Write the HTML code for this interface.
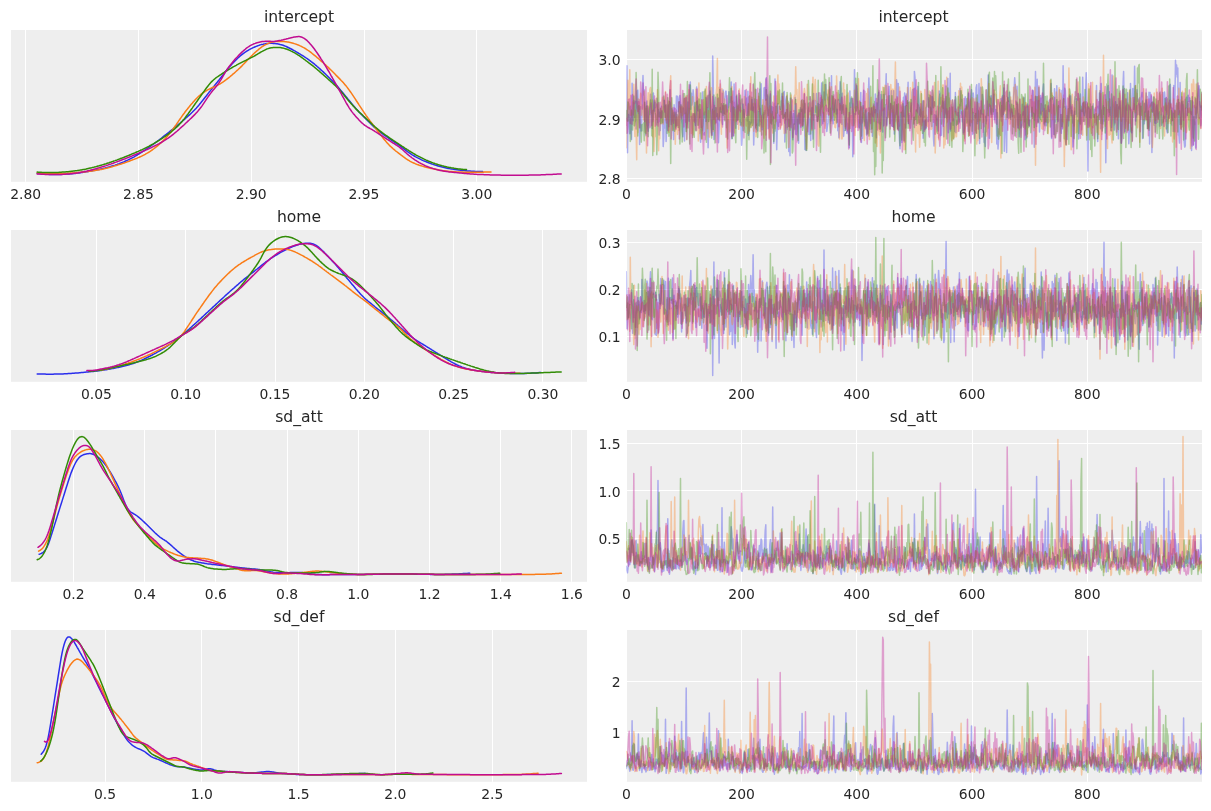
<!DOCTYPE html>
<html lang="en"><head><meta charset="utf-8"><title>Trace plot</title>
<style>html,body{margin:0;padding:0;background:#fff;}body{width:1211px;height:811px;overflow:hidden;}svg{display:block}</style>
</head><body>
<svg width="1211" height="811" viewBox="0 0 1211 811" style="display:block">
<rect x="0" y="0" width="1211" height="811" fill="#ffffff"/>
<defs>
<clipPath id="cl0"><rect x="11.0" y="30.0" width="576.0" height="151.8"/></clipPath>
<clipPath id="cr0"><rect x="626.3" y="30.0" width="575.7" height="151.8"/></clipPath>
<clipPath id="cl1"><rect x="11.0" y="230.0" width="576.0" height="151.8"/></clipPath>
<clipPath id="cr1"><rect x="626.3" y="230.0" width="575.7" height="151.8"/></clipPath>
<clipPath id="cl2"><rect x="11.0" y="430.0" width="576.0" height="151.8"/></clipPath>
<clipPath id="cr2"><rect x="626.3" y="430.0" width="575.7" height="151.8"/></clipPath>
<clipPath id="cl3"><rect x="11.0" y="630.0" width="576.0" height="151.8"/></clipPath>
<clipPath id="cr3"><rect x="626.3" y="630.0" width="575.7" height="151.8"/></clipPath>
</defs>
<rect x="11.0" y="30.0" width="576.0" height="151.8" fill="#eeeeee"/>
<rect x="626.3" y="30.0" width="575.7" height="151.8" fill="#eeeeee"/>
<path d="M25.5 30.0V181.8M138.5 30.0V181.8M251.5 30.0V181.8M364.5 30.0V181.8M476.5 30.0V181.8M626.5 30.0V181.8M741.5 30.0V181.8M856.5 30.0V181.8M972.5 30.0V181.8M1087.5 30.0V181.8M626.3 59.5H1202.0M626.3 118.5H1202.0M626.3 178.5H1202.0" stroke="#ffffff" stroke-width="1.1" fill="none"/>
<rect x="11.0" y="230.0" width="576.0" height="151.8" fill="#eeeeee"/>
<rect x="626.3" y="230.0" width="575.7" height="151.8" fill="#eeeeee"/>
<path d="M96.5 230.0V381.8M185.5 230.0V381.8M275.5 230.0V381.8M364.5 230.0V381.8M453.5 230.0V381.8M542.5 230.0V381.8M626.5 230.0V381.8M741.5 230.0V381.8M856.5 230.0V381.8M972.5 230.0V381.8M1087.5 230.0V381.8M626.3 242.5H1202.0M626.3 289.5H1202.0M626.3 336.5H1202.0" stroke="#ffffff" stroke-width="1.1" fill="none"/>
<rect x="11.0" y="430.0" width="576.0" height="151.8" fill="#eeeeee"/>
<rect x="626.3" y="430.0" width="575.7" height="151.8" fill="#eeeeee"/>
<path d="M73.5 430.0V581.8M144.5 430.0V581.8M215.5 430.0V581.8M287.5 430.0V581.8M358.5 430.0V581.8M429.5 430.0V581.8M500.5 430.0V581.8M571.5 430.0V581.8M626.5 430.0V581.8M741.5 430.0V581.8M856.5 430.0V581.8M972.5 430.0V581.8M1087.5 430.0V581.8M626.3 443.5H1202.0M626.3 490.5H1202.0M626.3 538.5H1202.0" stroke="#ffffff" stroke-width="1.1" fill="none"/>
<rect x="11.0" y="630.0" width="576.0" height="151.8" fill="#eeeeee"/>
<rect x="626.3" y="630.0" width="575.7" height="151.8" fill="#eeeeee"/>
<path d="M105.5 630.0V781.8M201.5 630.0V781.8M298.5 630.0V781.8M395.5 630.0V781.8M492.5 630.0V781.8M626.5 630.0V781.8M741.5 630.0V781.8M856.5 630.0V781.8M972.5 630.0V781.8M1087.5 630.0V781.8M626.3 681.5H1202.0M626.3 732.5H1202.0" stroke="#ffffff" stroke-width="1.1" fill="none"/>
<g clip-path="url(#cl0)" fill="none" stroke-width="1.5" stroke-linejoin="round" stroke-linecap="round">
<path d="M37.2 173.5L38.2 173.6L39.2 173.7L40.2 173.8L41.2 173.9L42.2 174.0L43.2 174.0L44.2 174.1L45.2 174.2L46.2 174.2L47.2 174.3L48.2 174.3L49.2 174.4L50.2 174.4L51.2 174.4L52.2 174.4L53.2 174.5L54.2 174.5L55.2 174.5L56.2 174.5L57.2 174.5L58.2 174.5L59.2 174.4L60.2 174.4L61.2 174.4L62.2 174.3L63.2 174.3L64.2 174.2L65.2 174.2L66.2 174.1L67.2 174.1L68.2 174.0L69.2 173.9L70.2 173.8L71.2 173.8L72.2 173.7L73.2 173.6L74.2 173.5L75.2 173.4L76.2 173.2L77.2 173.1L78.2 173.0L79.2 172.9L80.2 172.7L81.2 172.6L82.2 172.5L83.2 172.3L84.2 172.2L85.2 172.0L86.2 171.8L87.2 171.7L88.2 171.5L89.2 171.3L90.2 171.2L91.2 171.0L92.2 170.8L93.2 170.6L94.2 170.4L95.2 170.2L96.2 170.0L97.2 169.8L98.2 169.6L99.2 169.4L100.2 169.2L101.2 168.9L102.2 168.7L103.2 168.5L104.2 168.2L105.2 168.0L106.2 167.7L107.2 167.5L108.2 167.2L109.2 166.9L110.2 166.6L111.2 166.3L112.2 166.0L113.2 165.7L114.2 165.4L115.2 165.1L116.2 164.7L117.2 164.4L118.2 164.0L119.2 163.7L120.2 163.3L121.2 162.9L122.2 162.5L123.2 162.1L124.2 161.7L125.2 161.2L126.2 160.8L127.2 160.3L128.2 159.9L129.2 159.4L130.2 158.9L131.2 158.4L132.2 157.8L133.2 157.3L134.2 156.8L135.2 156.2L136.2 155.6L137.2 155.0L138.2 154.4L139.2 153.8L140.2 153.2L141.2 152.5L142.2 151.9L143.2 151.2L144.2 150.6L145.2 149.9L146.2 149.2L147.2 148.5L148.2 147.8L149.2 147.1L150.2 146.4L151.2 145.7L152.2 145.0L153.2 144.3L154.2 143.5L155.2 142.8L156.2 142.0L157.2 141.3L158.2 140.5L159.2 139.8L160.2 139.0L161.2 138.3L162.2 137.5L163.2 136.7L164.2 135.9L165.2 135.1L166.2 134.4L167.2 133.6L168.2 132.8L169.2 132.0L170.2 131.2L171.2 130.4L172.2 129.6L173.2 128.8L174.2 127.9L175.2 127.1L176.2 126.3L177.2 125.5L178.2 124.7L179.2 123.8L180.2 123.0L181.2 122.1L182.2 121.3L183.2 120.4L184.2 119.6L185.2 118.7L186.2 117.8L187.2 116.9L188.2 116.0L189.2 115.1L190.2 114.2L191.2 113.2L192.2 112.3L193.2 111.3L194.2 110.3L195.2 109.2L196.2 108.2L197.2 107.1L198.2 105.9L199.2 104.8L200.2 103.6L201.2 102.3L202.2 101.1L203.2 99.8L204.2 98.5L205.2 97.2L206.2 96.0L207.2 94.7L208.2 93.4L209.2 92.1L210.2 90.9L211.2 89.6L212.2 88.4L213.2 87.2L214.2 86.0L215.2 84.7L216.2 83.5L217.2 82.3L218.2 81.0L219.2 79.8L220.2 78.5L221.2 77.2L222.2 75.9L223.2 74.6L224.2 73.3L225.2 72.0L226.2 70.7L227.2 69.5L228.2 68.3L229.2 67.1L230.2 66.0L231.2 64.9L232.2 63.8L233.2 62.7L234.2 61.7L235.2 60.7L236.2 59.7L237.2 58.7L238.2 57.8L239.2 56.9L240.2 56.0L241.2 55.2L242.2 54.4L243.2 53.6L244.2 52.9L245.2 52.2L246.2 51.5L247.2 50.9L248.2 50.3L249.2 49.7L250.2 49.1L251.2 48.6L252.2 48.1L253.2 47.6L254.2 47.2L255.2 46.8L256.2 46.3L257.2 46.0L258.2 45.6L259.2 45.3L260.2 44.9L261.2 44.6L262.2 44.4L263.2 44.2L264.2 43.9L265.2 43.8L266.2 43.6L267.2 43.5L268.2 43.4L269.2 43.3L270.2 43.3L271.2 43.3L272.2 43.3L273.2 43.4L274.2 43.4L275.2 43.5L276.2 43.7L277.2 43.8L278.2 44.0L279.2 44.2L280.2 44.5L281.2 44.7L282.2 45.0L283.2 45.3L284.2 45.7L285.2 46.1L286.2 46.5L287.2 47.0L288.2 47.5L289.2 48.0L290.2 48.5L291.2 49.0L292.2 49.5L293.2 50.1L294.2 50.7L295.2 51.2L296.2 51.8L297.2 52.4L298.2 53.0L299.2 53.6L300.2 54.2L301.2 54.8L302.2 55.4L303.2 56.0L304.2 56.7L305.2 57.3L306.2 58.0L307.2 58.7L308.2 59.4L309.2 60.1L310.2 60.8L311.2 61.6L312.2 62.3L313.2 63.1L314.2 63.9L315.2 64.8L316.2 65.6L317.2 66.5L318.2 67.3L319.2 68.2L320.2 69.1L321.2 70.1L322.2 71.0L323.2 71.9L324.2 72.9L325.2 73.8L326.2 74.8L327.2 75.7L328.2 76.7L329.2 77.7L330.2 78.7L331.2 79.7L332.2 80.7L333.2 81.8L334.2 82.8L335.2 83.9L336.2 85.0L337.2 86.1L338.2 87.3L339.2 88.5L340.2 89.7L341.2 90.9L342.2 92.1L343.2 93.3L344.2 94.5L345.2 95.7L346.2 96.9L347.2 98.1L348.2 99.4L349.2 100.6L350.2 101.8L351.2 103.0L352.2 104.2L353.2 105.4L354.2 106.6L355.2 107.7L356.2 108.9L357.2 110.0L358.2 111.1L359.2 112.2L360.2 113.2L361.2 114.2L362.2 115.1L363.2 116.1L364.2 117.1L365.2 118.1L366.2 119.1L367.2 120.1L368.2 121.1L369.2 122.1L370.2 123.2L371.2 124.2L372.2 125.2L373.2 126.1L374.2 127.1L375.2 128.0L376.2 128.9L377.2 129.7L378.2 130.5L379.2 131.4L380.2 132.1L381.2 132.9L382.2 133.7L383.2 134.4L384.2 135.1L385.2 135.8L386.2 136.5L387.2 137.2L388.2 137.9L389.2 138.6L390.2 139.3L391.2 140.0L392.2 140.6L393.2 141.3L394.2 142.0L395.2 142.6L396.2 143.3L397.2 144.0L398.2 144.7L399.2 145.4L400.2 146.1L401.2 146.8L402.2 147.6L403.2 148.3L404.2 149.1L405.2 149.8L406.2 150.6L407.2 151.3L408.2 152.1L409.2 152.8L410.2 153.5L411.2 154.1L412.2 154.8L413.2 155.4L414.2 156.0L415.2 156.6L416.2 157.1L417.2 157.7L418.2 158.2L419.2 158.7L420.2 159.2L421.2 159.7L422.2 160.1L423.2 160.6L424.2 161.0L425.2 161.4L426.2 161.8L427.2 162.2L428.2 162.6L429.2 163.0L430.2 163.4L431.2 163.7L432.2 164.1L433.2 164.4L434.2 164.8L435.2 165.1L436.2 165.4L437.2 165.7L438.2 166.0L439.2 166.3L440.2 166.6L441.2 166.8L442.2 167.1L443.2 167.3L444.2 167.6L445.2 167.8L446.2 168.0L447.2 168.2L448.2 168.4L449.2 168.6L450.2 168.8L451.2 168.9L452.2 169.1L453.2 169.2L454.2 169.4L455.2 169.5L456.2 169.7L457.2 169.8L458.2 170.0L459.2 170.1L460.2 170.2L461.2 170.3L462.2 170.4L463.2 170.5L464.2 170.6L465.2 170.7L466.2 170.8L467.2 170.9L468.2 171.0L469.2 171.1L470.2 171.1L471.2 171.2L472.2 171.2L473.2 171.3L474.2 171.3L475.2 171.4L476.2 171.4L477.2 171.4L478.2 171.5L479.2 171.5L480.2 171.5L481.2 171.5L482.2 171.5L482.7 171.5" stroke="#2a2eec"/>
<path d="M37.2 172.9L38.2 173.0L39.2 173.1L40.2 173.2L41.2 173.2L42.2 173.3L43.2 173.4L44.2 173.4L45.2 173.5L46.2 173.5L47.2 173.5L48.2 173.6L49.2 173.6L50.2 173.6L51.2 173.7L52.2 173.7L53.2 173.7L54.2 173.7L55.2 173.7L56.2 173.7L57.2 173.7L58.2 173.7L59.2 173.6L60.2 173.6L61.2 173.6L62.2 173.5L63.2 173.5L64.2 173.5L65.2 173.4L66.2 173.4L67.2 173.3L68.2 173.3L69.2 173.2L70.2 173.1L71.2 173.1L72.2 173.0L73.2 172.9L74.2 172.9L75.2 172.8L76.2 172.7L77.2 172.6L78.2 172.5L79.2 172.4L80.2 172.3L81.2 172.2L82.2 172.1L83.2 172.0L84.2 171.9L85.2 171.8L86.2 171.7L87.2 171.6L88.2 171.5L89.2 171.3L90.2 171.2L91.2 171.1L92.2 170.9L93.2 170.8L94.2 170.6L95.2 170.5L96.2 170.3L97.2 170.1L98.2 170.0L99.2 169.8L100.2 169.6L101.2 169.4L102.2 169.2L103.2 168.9L104.2 168.7L105.2 168.5L106.2 168.3L107.2 168.0L108.2 167.8L109.2 167.5L110.2 167.2L111.2 167.0L112.2 166.7L113.2 166.4L114.2 166.1L115.2 165.8L116.2 165.5L117.2 165.2L118.2 164.9L119.2 164.6L120.2 164.3L121.2 164.0L122.2 163.6L123.2 163.3L124.2 163.0L125.2 162.6L126.2 162.3L127.2 161.9L128.2 161.5L129.2 161.2L130.2 160.8L131.2 160.4L132.2 160.0L133.2 159.6L134.2 159.3L135.2 158.9L136.2 158.5L137.2 158.1L138.2 157.6L139.2 157.2L140.2 156.8L141.2 156.3L142.2 155.8L143.2 155.3L144.2 154.8L145.2 154.3L146.2 153.7L147.2 153.2L148.2 152.6L149.2 152.0L150.2 151.3L151.2 150.6L152.2 150.0L153.2 149.2L154.2 148.5L155.2 147.7L156.2 146.9L157.2 146.1L158.2 145.3L159.2 144.4L160.2 143.5L161.2 142.6L162.2 141.6L163.2 140.6L164.2 139.6L165.2 138.6L166.2 137.5L167.2 136.4L168.2 135.2L169.2 134.0L170.2 132.8L171.2 131.5L172.2 130.1L173.2 128.8L174.2 127.4L175.2 126.0L176.2 124.6L177.2 123.1L178.2 121.7L179.2 120.2L180.2 118.8L181.2 117.4L182.2 115.9L183.2 114.5L184.2 113.2L185.2 111.8L186.2 110.5L187.2 109.3L188.2 108.0L189.2 106.8L190.2 105.5L191.2 104.3L192.2 103.2L193.2 102.0L194.2 100.9L195.2 99.8L196.2 98.7L197.2 97.7L198.2 96.8L199.2 95.9L200.2 95.0L201.2 94.2L202.2 93.4L203.2 92.7L204.2 92.1L205.2 91.4L206.2 90.8L207.2 90.2L208.2 89.7L209.2 89.2L210.2 88.7L211.2 88.2L212.2 87.7L213.2 87.3L214.2 86.8L215.2 86.4L216.2 85.9L217.2 85.4L218.2 84.9L219.2 84.4L220.2 83.8L221.2 83.2L222.2 82.5L223.2 81.9L224.2 81.2L225.2 80.4L226.2 79.7L227.2 78.9L228.2 78.1L229.2 77.3L230.2 76.5L231.2 75.6L232.2 74.8L233.2 73.9L234.2 73.1L235.2 72.2L236.2 71.3L237.2 70.4L238.2 69.5L239.2 68.5L240.2 67.6L241.2 66.6L242.2 65.6L243.2 64.5L244.2 63.5L245.2 62.4L246.2 61.4L247.2 60.3L248.2 59.3L249.2 58.2L250.2 57.2L251.2 56.2L252.2 55.2L253.2 54.2L254.2 53.3L255.2 52.4L256.2 51.5L257.2 50.6L258.2 49.8L259.2 48.9L260.2 48.2L261.2 47.4L262.2 46.7L263.2 46.0L264.2 45.4L265.2 44.8L266.2 44.3L267.2 43.8L268.2 43.3L269.2 43.0L270.2 42.6L271.2 42.3L272.2 42.1L273.2 41.9L274.2 41.7L275.2 41.6L276.2 41.5L277.2 41.4L278.2 41.4L279.2 41.4L280.2 41.4L281.2 41.4L282.2 41.4L283.2 41.5L284.2 41.6L285.2 41.7L286.2 41.8L287.2 41.9L288.2 42.1L289.2 42.3L290.2 42.5L291.2 42.7L292.2 43.0L293.2 43.3L294.2 43.6L295.2 43.9L296.2 44.2L297.2 44.6L298.2 45.0L299.2 45.4L300.2 45.9L301.2 46.3L302.2 46.8L303.2 47.4L304.2 47.9L305.2 48.5L306.2 49.1L307.2 49.8L308.2 50.5L309.2 51.2L310.2 51.9L311.2 52.7L312.2 53.5L313.2 54.3L314.2 55.1L315.2 55.9L316.2 56.7L317.2 57.6L318.2 58.4L319.2 59.3L320.2 60.2L321.2 61.1L322.2 61.9L323.2 62.8L324.2 63.7L325.2 64.6L326.2 65.6L327.2 66.5L328.2 67.4L329.2 68.4L330.2 69.4L331.2 70.3L332.2 71.3L333.2 72.3L334.2 73.3L335.2 74.3L336.2 75.4L337.2 76.4L338.2 77.4L339.2 78.4L340.2 79.4L341.2 80.5L342.2 81.5L343.2 82.6L344.2 83.7L345.2 84.9L346.2 86.1L347.2 87.4L348.2 88.7L349.2 90.1L350.2 91.5L351.2 92.9L352.2 94.4L353.2 95.9L354.2 97.4L355.2 98.9L356.2 100.5L357.2 102.0L358.2 103.5L359.2 105.1L360.2 106.6L361.2 108.1L362.2 109.7L363.2 111.2L364.2 112.7L365.2 114.1L366.2 115.6L367.2 117.0L368.2 118.4L369.2 119.7L370.2 121.1L371.2 122.4L372.2 123.7L373.2 125.1L374.2 126.4L375.2 127.7L376.2 129.1L377.2 130.4L378.2 131.7L379.2 133.0L380.2 134.3L381.2 135.6L382.2 136.9L383.2 138.2L384.2 139.4L385.2 140.6L386.2 141.8L387.2 142.9L388.2 144.0L389.2 145.1L390.2 146.1L391.2 147.0L392.2 147.9L393.2 148.8L394.2 149.6L395.2 150.5L396.2 151.3L397.2 152.0L398.2 152.8L399.2 153.6L400.2 154.4L401.2 155.2L402.2 155.9L403.2 156.7L404.2 157.4L405.2 158.1L406.2 158.8L407.2 159.5L408.2 160.1L409.2 160.7L410.2 161.3L411.2 161.8L412.2 162.3L413.2 162.8L414.2 163.2L415.2 163.7L416.2 164.1L417.2 164.5L418.2 164.8L419.2 165.2L420.2 165.5L421.2 165.8L422.2 166.1L423.2 166.4L424.2 166.7L425.2 167.0L426.2 167.2L427.2 167.5L428.2 167.7L429.2 167.9L430.2 168.2L431.2 168.4L432.2 168.6L433.2 168.8L434.2 169.0L435.2 169.2L436.2 169.4L437.2 169.6L438.2 169.8L439.2 170.0L440.2 170.2L441.2 170.4L442.2 170.5L443.2 170.7L444.2 170.8L445.2 171.0L446.2 171.1L447.2 171.2L448.2 171.3L449.2 171.4L450.2 171.5L451.2 171.5L452.2 171.6L453.2 171.7L454.2 171.7L455.2 171.8L456.2 171.9L457.2 171.9L458.2 172.0L459.2 172.0L460.2 172.1L461.2 172.1L462.2 172.1L463.2 172.2L464.2 172.2L465.2 172.2L466.2 172.2L467.2 172.3L468.2 172.3L469.2 172.3L470.2 172.3L471.2 172.3L472.2 172.3L473.2 172.3L474.2 172.3L475.2 172.3L476.2 172.3L477.2 172.3L478.2 172.3L479.2 172.2L480.2 172.2L481.2 172.2L482.2 172.2L483.2 172.2L484.2 172.1L485.2 172.1L486.2 172.1L487.2 172.1L488.2 172.0L489.2 172.0L490.2 171.9L491.0 171.9" stroke="#fa7c17"/>
<path d="M37.2 172.1L38.2 172.2L39.2 172.2L40.2 172.3L41.2 172.3L42.2 172.4L43.2 172.4L44.2 172.4L45.2 172.5L46.2 172.5L47.2 172.5L48.2 172.5L49.2 172.5L50.2 172.5L51.2 172.5L52.2 172.5L53.2 172.5L54.2 172.5L55.2 172.5L56.2 172.4L57.2 172.4L58.2 172.4L59.2 172.3L60.2 172.3L61.2 172.2L62.2 172.1L63.2 172.1L64.2 172.0L65.2 171.9L66.2 171.8L67.2 171.8L68.2 171.7L69.2 171.6L70.2 171.5L71.2 171.3L72.2 171.2L73.2 171.1L74.2 171.0L75.2 170.8L76.2 170.7L77.2 170.6L78.2 170.4L79.2 170.2L80.2 170.1L81.2 169.9L82.2 169.7L83.2 169.5L84.2 169.4L85.2 169.2L86.2 169.0L87.2 168.7L88.2 168.5L89.2 168.3L90.2 168.1L91.2 167.9L92.2 167.6L93.2 167.4L94.2 167.1L95.2 166.9L96.2 166.6L97.2 166.3L98.2 166.0L99.2 165.8L100.2 165.5L101.2 165.2L102.2 164.9L103.2 164.6L104.2 164.3L105.2 164.0L106.2 163.7L107.2 163.3L108.2 163.0L109.2 162.7L110.2 162.3L111.2 162.0L112.2 161.6L113.2 161.3L114.2 160.9L115.2 160.6L116.2 160.2L117.2 159.9L118.2 159.5L119.2 159.1L120.2 158.7L121.2 158.3L122.2 158.0L123.2 157.6L124.2 157.2L125.2 156.8L126.2 156.4L127.2 156.0L128.2 155.6L129.2 155.2L130.2 154.8L131.2 154.3L132.2 153.9L133.2 153.5L134.2 153.1L135.2 152.7L136.2 152.2L137.2 151.8L138.2 151.4L139.2 150.9L140.2 150.5L141.2 150.0L142.2 149.6L143.2 149.1L144.2 148.6L145.2 148.1L146.2 147.6L147.2 147.1L148.2 146.6L149.2 146.1L150.2 145.5L151.2 145.0L152.2 144.4L153.2 143.9L154.2 143.3L155.2 142.7L156.2 142.1L157.2 141.5L158.2 140.9L159.2 140.3L160.2 139.7L161.2 139.0L162.2 138.4L163.2 137.7L164.2 137.0L165.2 136.3L166.2 135.6L167.2 134.9L168.2 134.2L169.2 133.4L170.2 132.6L171.2 131.9L172.2 131.0L173.2 130.2L174.2 129.3L175.2 128.5L176.2 127.5L177.2 126.6L178.2 125.6L179.2 124.6L180.2 123.5L181.2 122.4L182.2 121.3L183.2 120.1L184.2 118.9L185.2 117.6L186.2 116.3L187.2 115.0L188.2 113.7L189.2 112.3L190.2 110.9L191.2 109.5L192.2 108.1L193.2 106.6L194.2 105.2L195.2 103.8L196.2 102.4L197.2 101.0L198.2 99.5L199.2 98.1L200.2 96.7L201.2 95.3L202.2 93.9L203.2 92.5L204.2 91.1L205.2 89.7L206.2 88.3L207.2 87.0L208.2 85.7L209.2 84.4L210.2 83.2L211.2 82.1L212.2 81.1L213.2 80.2L214.2 79.3L215.2 78.5L216.2 77.7L217.2 77.0L218.2 76.3L219.2 75.6L220.2 75.0L221.2 74.3L222.2 73.6L223.2 73.0L224.2 72.3L225.2 71.7L226.2 71.1L227.2 70.5L228.2 69.9L229.2 69.3L230.2 68.7L231.2 68.1L232.2 67.5L233.2 66.9L234.2 66.4L235.2 65.8L236.2 65.3L237.2 64.7L238.2 64.2L239.2 63.6L240.2 63.1L241.2 62.6L242.2 62.1L243.2 61.6L244.2 61.1L245.2 60.6L246.2 60.2L247.2 59.7L248.2 59.2L249.2 58.7L250.2 58.2L251.2 57.7L252.2 57.2L253.2 56.6L254.2 56.1L255.2 55.5L256.2 54.9L257.2 54.3L258.2 53.7L259.2 53.1L260.2 52.5L261.2 51.9L262.2 51.4L263.2 50.8L264.2 50.3L265.2 49.8L266.2 49.3L267.2 48.9L268.2 48.6L269.2 48.3L270.2 48.0L271.2 47.8L272.2 47.7L273.2 47.6L274.2 47.5L275.2 47.4L276.2 47.4L277.2 47.4L278.2 47.4L279.2 47.5L280.2 47.6L281.2 47.7L282.2 47.9L283.2 48.1L284.2 48.4L285.2 48.7L286.2 49.0L287.2 49.3L288.2 49.7L289.2 50.1L290.2 50.6L291.2 51.1L292.2 51.5L293.2 52.1L294.2 52.6L295.2 53.2L296.2 53.8L297.2 54.4L298.2 55.1L299.2 55.7L300.2 56.4L301.2 57.1L302.2 57.8L303.2 58.5L304.2 59.3L305.2 60.0L306.2 60.8L307.2 61.5L308.2 62.3L309.2 63.1L310.2 63.8L311.2 64.6L312.2 65.4L313.2 66.2L314.2 67.0L315.2 67.8L316.2 68.7L317.2 69.5L318.2 70.4L319.2 71.2L320.2 72.1L321.2 73.0L322.2 73.9L323.2 74.7L324.2 75.6L325.2 76.5L326.2 77.4L327.2 78.3L328.2 79.2L329.2 80.1L330.2 81.0L331.2 81.9L332.2 82.8L333.2 83.7L334.2 84.6L335.2 85.5L336.2 86.4L337.2 87.4L338.2 88.4L339.2 89.4L340.2 90.5L341.2 91.7L342.2 92.9L343.2 94.1L344.2 95.4L345.2 96.6L346.2 97.8L347.2 99.1L348.2 100.3L349.2 101.4L350.2 102.6L351.2 103.7L352.2 104.8L353.2 105.9L354.2 107.0L355.2 108.1L356.2 109.1L357.2 110.1L358.2 111.1L359.2 112.1L360.2 113.0L361.2 113.9L362.2 114.8L363.2 115.8L364.2 116.7L365.2 117.6L366.2 118.6L367.2 119.5L368.2 120.5L369.2 121.4L370.2 122.4L371.2 123.3L372.2 124.3L373.2 125.2L374.2 126.1L375.2 127.0L376.2 127.8L377.2 128.7L378.2 129.5L379.2 130.3L380.2 131.1L381.2 131.9L382.2 132.7L383.2 133.4L384.2 134.1L385.2 134.8L386.2 135.5L387.2 136.2L388.2 136.9L389.2 137.6L390.2 138.3L391.2 139.0L392.2 139.6L393.2 140.3L394.2 141.0L395.2 141.6L396.2 142.3L397.2 143.0L398.2 143.6L399.2 144.3L400.2 145.0L401.2 145.6L402.2 146.3L403.2 146.9L404.2 147.6L405.2 148.3L406.2 148.9L407.2 149.6L408.2 150.2L409.2 150.9L410.2 151.5L411.2 152.1L412.2 152.7L413.2 153.3L414.2 153.9L415.2 154.5L416.2 155.1L417.2 155.6L418.2 156.2L419.2 156.7L420.2 157.2L421.2 157.7L422.2 158.2L423.2 158.7L424.2 159.2L425.2 159.6L426.2 160.1L427.2 160.5L428.2 161.0L429.2 161.4L430.2 161.8L431.2 162.2L432.2 162.6L433.2 163.0L434.2 163.3L435.2 163.7L436.2 164.0L437.2 164.3L438.2 164.6L439.2 164.9L440.2 165.2L441.2 165.5L442.2 165.8L443.2 166.0L444.2 166.3L445.2 166.5L446.2 166.7L447.2 167.0L448.2 167.2L449.2 167.4L450.2 167.6L451.2 167.8L452.2 167.9L453.2 168.1L454.2 168.3L455.2 168.4L456.2 168.6L457.2 168.7L458.2 168.9L459.2 169.0L460.2 169.1L461.2 169.2L462.2 169.3L463.2 169.4L464.2 169.5L465.2 169.5L466.2 169.6L466.5 169.6" stroke="#328c06"/>
<path d="M37.2 173.9L38.2 174.0L39.2 174.1L40.2 174.1L41.2 174.2L42.2 174.2L43.2 174.3L44.2 174.3L45.2 174.4L46.2 174.4L47.2 174.5L48.2 174.5L49.2 174.5L50.2 174.5L51.2 174.6L52.2 174.6L53.2 174.6L54.2 174.6L55.2 174.6L56.2 174.6L57.2 174.6L58.2 174.5L59.2 174.5L60.2 174.5L61.2 174.4L62.2 174.4L63.2 174.3L64.2 174.3L65.2 174.2L66.2 174.1L67.2 174.1L68.2 174.0L69.2 173.9L70.2 173.8L71.2 173.7L72.2 173.6L73.2 173.5L74.2 173.3L75.2 173.2L76.2 173.1L77.2 172.9L78.2 172.8L79.2 172.6L80.2 172.4L81.2 172.2L82.2 172.0L83.2 171.9L84.2 171.6L85.2 171.4L86.2 171.2L87.2 171.0L88.2 170.7L89.2 170.5L90.2 170.3L91.2 170.0L92.2 169.7L93.2 169.5L94.2 169.2L95.2 168.9L96.2 168.6L97.2 168.3L98.2 168.1L99.2 167.8L100.2 167.5L101.2 167.1L102.2 166.8L103.2 166.5L104.2 166.2L105.2 165.9L106.2 165.6L107.2 165.2L108.2 164.9L109.2 164.5L110.2 164.2L111.2 163.9L112.2 163.5L113.2 163.2L114.2 162.8L115.2 162.4L116.2 162.1L117.2 161.7L118.2 161.3L119.2 161.0L120.2 160.6L121.2 160.2L122.2 159.8L123.2 159.4L124.2 159.0L125.2 158.7L126.2 158.3L127.2 157.9L128.2 157.5L129.2 157.1L130.2 156.7L131.2 156.3L132.2 155.9L133.2 155.4L134.2 155.0L135.2 154.6L136.2 154.2L137.2 153.8L138.2 153.4L139.2 152.9L140.2 152.5L141.2 152.1L142.2 151.7L143.2 151.2L144.2 150.8L145.2 150.4L146.2 149.9L147.2 149.5L148.2 149.0L149.2 148.6L150.2 148.1L151.2 147.7L152.2 147.2L153.2 146.7L154.2 146.2L155.2 145.7L156.2 145.2L157.2 144.7L158.2 144.1L159.2 143.6L160.2 143.0L161.2 142.5L162.2 141.9L163.2 141.3L164.2 140.7L165.2 140.0L166.2 139.4L167.2 138.7L168.2 138.1L169.2 137.4L170.2 136.6L171.2 135.9L172.2 135.1L173.2 134.3L174.2 133.5L175.2 132.7L176.2 131.8L177.2 131.0L178.2 130.1L179.2 129.2L180.2 128.3L181.2 127.4L182.2 126.5L183.2 125.6L184.2 124.7L185.2 123.7L186.2 122.8L187.2 121.9L188.2 120.9L189.2 120.0L190.2 119.0L191.2 118.1L192.2 117.1L193.2 116.1L194.2 115.1L195.2 114.1L196.2 113.0L197.2 111.9L198.2 110.8L199.2 109.6L200.2 108.3L201.2 107.0L202.2 105.6L203.2 104.1L204.2 102.6L205.2 101.1L206.2 99.6L207.2 98.1L208.2 96.6L209.2 95.2L210.2 93.9L211.2 92.6L212.2 91.3L213.2 90.1L214.2 88.9L215.2 87.7L216.2 86.5L217.2 85.2L218.2 83.9L219.2 82.5L220.2 80.9L221.2 79.3L222.2 77.6L223.2 75.8L224.2 74.1L225.2 72.4L226.2 70.8L227.2 69.3L228.2 67.9L229.2 66.5L230.2 65.2L231.2 63.9L232.2 62.7L233.2 61.5L234.2 60.3L235.2 59.1L236.2 58.0L237.2 57.0L238.2 55.9L239.2 54.9L240.2 53.9L241.2 52.9L242.2 51.9L243.2 51.0L244.2 50.1L245.2 49.3L246.2 48.4L247.2 47.7L248.2 47.0L249.2 46.3L250.2 45.7L251.2 45.1L252.2 44.6L253.2 44.2L254.2 43.7L255.2 43.4L256.2 43.0L257.2 42.7L258.2 42.4L259.2 42.2L260.2 42.0L261.2 41.8L262.2 41.6L263.2 41.5L264.2 41.4L265.2 41.3L266.2 41.3L267.2 41.3L268.2 41.3L269.2 41.3L270.2 41.3L271.2 41.4L272.2 41.4L273.2 41.4L274.2 41.4L275.2 41.3L276.2 41.2L277.2 41.0L278.2 40.8L279.2 40.6L280.2 40.4L281.2 40.2L282.2 39.9L283.2 39.7L284.2 39.4L285.2 39.2L286.2 39.0L287.2 38.7L288.2 38.5L289.2 38.2L290.2 38.0L291.2 37.8L292.2 37.6L293.2 37.3L294.2 37.1L295.2 36.9L296.2 36.8L297.2 36.7L298.2 36.6L299.2 36.6L300.2 36.7L301.2 37.0L302.2 37.3L303.2 37.8L304.2 38.4L305.2 39.1L306.2 39.9L307.2 40.7L308.2 41.7L309.2 42.8L310.2 43.9L311.2 45.0L312.2 46.2L313.2 47.5L314.2 48.8L315.2 50.2L316.2 51.6L317.2 53.0L318.2 54.5L319.2 56.0L320.2 57.5L321.2 59.1L322.2 60.6L323.2 62.2L324.2 63.8L325.2 65.4L326.2 67.1L327.2 68.8L328.2 70.5L329.2 72.2L330.2 74.0L331.2 75.8L332.2 77.5L333.2 79.3L334.2 81.1L335.2 82.9L336.2 84.7L337.2 86.5L338.2 88.3L339.2 90.1L340.2 91.9L341.2 93.7L342.2 95.6L343.2 97.4L344.2 99.2L345.2 101.0L346.2 102.8L347.2 104.5L348.2 106.2L349.2 107.8L350.2 109.3L351.2 110.7L352.2 112.1L353.2 113.4L354.2 114.6L355.2 115.8L356.2 116.9L357.2 118.0L358.2 119.1L359.2 120.2L360.2 121.2L361.2 122.2L362.2 123.2L363.2 124.0L364.2 124.8L365.2 125.6L366.2 126.2L367.2 126.9L368.2 127.5L369.2 128.0L370.2 128.6L371.2 129.1L372.2 129.7L373.2 130.3L374.2 130.9L375.2 131.6L376.2 132.2L377.2 132.8L378.2 133.5L379.2 134.1L380.2 134.8L381.2 135.4L382.2 136.0L383.2 136.7L384.2 137.3L385.2 138.0L386.2 138.6L387.2 139.3L388.2 139.9L389.2 140.5L390.2 141.2L391.2 141.8L392.2 142.5L393.2 143.1L394.2 143.7L395.2 144.4L396.2 145.0L397.2 145.7L398.2 146.3L399.2 147.0L400.2 147.8L401.2 148.6L402.2 149.4L403.2 150.3L404.2 151.2L405.2 152.1L406.2 153.0L407.2 154.0L408.2 154.8L409.2 155.7L410.2 156.5L411.2 157.2L412.2 158.0L413.2 158.7L414.2 159.4L415.2 160.1L416.2 160.7L417.2 161.3L418.2 162.0L419.2 162.6L420.2 163.1L421.2 163.7L422.2 164.2L423.2 164.7L424.2 165.2L425.2 165.7L426.2 166.1L427.2 166.5L428.2 166.9L429.2 167.3L430.2 167.6L431.2 167.9L432.2 168.3L433.2 168.6L434.2 168.9L435.2 169.1L436.2 169.4L437.2 169.7L438.2 169.9L439.2 170.2L440.2 170.4L441.2 170.6L442.2 170.8L443.2 171.0L444.2 171.2L445.2 171.3L446.2 171.5L447.2 171.6L448.2 171.8L449.2 171.9L450.2 172.0L451.2 172.1L452.2 172.2L453.2 172.3L454.2 172.4L455.2 172.5L456.2 172.6L457.2 172.7L458.2 172.8L459.2 172.9L460.2 173.0L461.2 173.1L462.2 173.2L463.2 173.3L464.2 173.4L465.2 173.5L466.2 173.6L467.2 173.7L468.2 173.8L469.2 173.8L470.2 173.9L471.2 174.0L472.2 174.1L473.2 174.1L474.2 174.2L475.2 174.3L476.2 174.3L477.2 174.4L478.2 174.4L479.2 174.5L480.2 174.5L481.2 174.5L482.2 174.6L483.2 174.6L484.2 174.7L485.2 174.7L486.2 174.7L487.2 174.8L488.2 174.8L489.2 174.8L490.2 174.9L491.2 174.9L492.2 174.9L493.2 175.0L494.2 175.0L495.2 175.0L496.2 175.0L497.2 175.1L498.2 175.1L499.2 175.1L500.2 175.1L501.2 175.2L502.2 175.2L503.2 175.2L504.2 175.2L505.2 175.2L506.2 175.3L507.2 175.3L508.2 175.3L509.2 175.3L510.2 175.3L511.2 175.3L512.2 175.3L513.2 175.3L514.2 175.3L515.2 175.3L516.2 175.3L517.2 175.3L518.2 175.3L519.2 175.3L520.2 175.3L521.2 175.3L522.2 175.3L523.2 175.2L524.2 175.2L525.2 175.2L526.2 175.2L527.2 175.2L528.2 175.2L529.2 175.1L530.2 175.1L531.2 175.1L532.2 175.1L533.2 175.1L534.2 175.0L535.2 175.0L536.2 175.0L537.2 174.9L538.2 174.9L539.2 174.9L540.2 174.9L541.2 174.8L542.2 174.8L543.2 174.8L544.2 174.7L545.2 174.7L546.2 174.6L547.2 174.6L548.2 174.6L549.2 174.5L550.2 174.5L551.2 174.4L552.2 174.4L553.2 174.3L554.2 174.3L555.2 174.2L556.2 174.2L557.2 174.1L558.2 174.1L559.2 174.0L560.2 174.0L561.2 173.9" stroke="#c10c90"/>
</g>
<g clip-path="url(#cl1)" fill="none" stroke-width="1.5" stroke-linejoin="round" stroke-linecap="round">
<path d="M37.2 373.9L38.2 373.9L39.2 374.0L40.2 374.0L41.2 374.1L42.2 374.1L43.2 374.1L44.2 374.1L45.2 374.1L46.2 374.2L47.2 374.2L48.2 374.2L49.2 374.2L50.2 374.2L51.2 374.2L52.2 374.2L53.2 374.2L54.2 374.1L55.2 374.1L56.2 374.1L57.2 374.1L58.2 374.0L59.2 374.0L60.2 374.0L61.2 373.9L62.2 373.9L63.2 373.9L64.2 373.8L65.2 373.8L66.2 373.7L67.2 373.7L68.2 373.6L69.2 373.5L70.2 373.5L71.2 373.4L72.2 373.3L73.2 373.3L74.2 373.2L75.2 373.1L76.2 373.0L77.2 372.9L78.2 372.9L79.2 372.8L80.2 372.7L81.2 372.6L82.2 372.5L83.2 372.4L84.2 372.3L85.2 372.2L86.2 372.1L87.2 372.0L88.2 371.9L89.2 371.8L90.2 371.7L91.2 371.6L92.2 371.5L93.2 371.4L94.2 371.2L95.2 371.1L96.2 371.0L97.2 370.9L98.2 370.8L99.2 370.7L100.2 370.5L101.2 370.4L102.2 370.3L103.2 370.1L104.2 370.0L105.2 369.8L106.2 369.7L107.2 369.5L108.2 369.3L109.2 369.2L110.2 369.0L111.2 368.8L112.2 368.6L113.2 368.4L114.2 368.2L115.2 368.0L116.2 367.8L117.2 367.6L118.2 367.4L119.2 367.2L120.2 367.0L121.2 366.7L122.2 366.5L123.2 366.3L124.2 366.0L125.2 365.8L126.2 365.5L127.2 365.3L128.2 365.0L129.2 364.7L130.2 364.4L131.2 364.1L132.2 363.8L133.2 363.5L134.2 363.1L135.2 362.8L136.2 362.4L137.2 362.0L138.2 361.6L139.2 361.2L140.2 360.8L141.2 360.3L142.2 359.9L143.2 359.4L144.2 359.0L145.2 358.5L146.2 358.0L147.2 357.5L148.2 357.0L149.2 356.5L150.2 356.0L151.2 355.5L152.2 355.0L153.2 354.4L154.2 353.9L155.2 353.3L156.2 352.8L157.2 352.2L158.2 351.6L159.2 351.1L160.2 350.5L161.2 349.9L162.2 349.3L163.2 348.6L164.2 348.0L165.2 347.4L166.2 346.7L167.2 346.1L168.2 345.4L169.2 344.7L170.2 344.1L171.2 343.4L172.2 342.7L173.2 342.0L174.2 341.2L175.2 340.5L176.2 339.8L177.2 339.0L178.2 338.2L179.2 337.4L180.2 336.6L181.2 335.8L182.2 335.0L183.2 334.1L184.2 333.3L185.2 332.4L186.2 331.6L187.2 330.7L188.2 329.8L189.2 329.0L190.2 328.1L191.2 327.2L192.2 326.3L193.2 325.4L194.2 324.5L195.2 323.6L196.2 322.7L197.2 321.8L198.2 320.9L199.2 319.9L200.2 319.0L201.2 318.1L202.2 317.1L203.2 316.2L204.2 315.3L205.2 314.4L206.2 313.4L207.2 312.5L208.2 311.6L209.2 310.6L210.2 309.7L211.2 308.8L212.2 307.9L213.2 306.9L214.2 306.0L215.2 305.1L216.2 304.1L217.2 303.2L218.2 302.3L219.2 301.4L220.2 300.4L221.2 299.5L222.2 298.6L223.2 297.7L224.2 296.8L225.2 295.8L226.2 294.9L227.2 294.0L228.2 293.1L229.2 292.2L230.2 291.3L231.2 290.4L232.2 289.5L233.2 288.6L234.2 287.8L235.2 286.9L236.2 286.0L237.2 285.1L238.2 284.3L239.2 283.4L240.2 282.5L241.2 281.7L242.2 280.9L243.2 280.0L244.2 279.2L245.2 278.4L246.2 277.6L247.2 276.8L248.2 276.0L249.2 275.2L250.2 274.4L251.2 273.6L252.2 272.9L253.2 272.1L254.2 271.3L255.2 270.5L256.2 269.7L257.2 269.0L258.2 268.2L259.2 267.4L260.2 266.5L261.2 265.7L262.2 264.9L263.2 264.1L264.2 263.3L265.2 262.5L266.2 261.7L267.2 261.0L268.2 260.3L269.2 259.6L270.2 258.9L271.2 258.2L272.2 257.6L273.2 256.9L274.2 256.3L275.2 255.7L276.2 255.1L277.2 254.5L278.2 253.9L279.2 253.3L280.2 252.7L281.2 252.2L282.2 251.6L283.2 251.1L284.2 250.6L285.2 250.1L286.2 249.5L287.2 249.1L288.2 248.6L289.2 248.1L290.2 247.7L291.2 247.2L292.2 246.8L293.2 246.4L294.2 246.0L295.2 245.7L296.2 245.3L297.2 245.0L298.2 244.7L299.2 244.4L300.2 244.1L301.2 243.9L302.2 243.7L303.2 243.6L304.2 243.4L305.2 243.3L306.2 243.3L307.2 243.2L308.2 243.2L309.2 243.2L310.2 243.3L311.2 243.5L312.2 243.7L313.2 244.0L314.2 244.4L315.2 244.9L316.2 245.4L317.2 246.1L318.2 246.9L319.2 247.7L320.2 248.6L321.2 249.5L322.2 250.5L323.2 251.4L324.2 252.4L325.2 253.5L326.2 254.5L327.2 255.6L328.2 256.6L329.2 257.7L330.2 258.7L331.2 259.8L332.2 260.9L333.2 261.9L334.2 263.0L335.2 264.1L336.2 265.3L337.2 266.4L338.2 267.6L339.2 268.8L340.2 269.9L341.2 271.1L342.2 272.3L343.2 273.5L344.2 274.7L345.2 275.9L346.2 277.2L347.2 278.4L348.2 279.6L349.2 280.8L350.2 282.0L351.2 283.2L352.2 284.4L353.2 285.6L354.2 286.8L355.2 288.0L356.2 289.2L357.2 290.3L358.2 291.5L359.2 292.6L360.2 293.7L361.2 294.8L362.2 295.8L363.2 296.8L364.2 297.8L365.2 298.7L366.2 299.6L367.2 300.4L368.2 301.3L369.2 302.1L370.2 302.9L371.2 303.7L372.2 304.5L373.2 305.3L374.2 306.1L375.2 307.0L376.2 307.8L377.2 308.6L378.2 309.4L379.2 310.1L380.2 310.9L381.2 311.7L382.2 312.5L383.2 313.3L384.2 314.1L385.2 314.9L386.2 315.7L387.2 316.6L388.2 317.4L389.2 318.2L390.2 319.0L391.2 319.9L392.2 320.7L393.2 321.5L394.2 322.4L395.2 323.2L396.2 324.1L397.2 324.9L398.2 325.8L399.2 326.6L400.2 327.5L401.2 328.3L402.2 329.2L403.2 330.0L404.2 330.9L405.2 331.7L406.2 332.6L407.2 333.4L408.2 334.2L409.2 335.0L410.2 335.8L411.2 336.6L412.2 337.4L413.2 338.1L414.2 338.8L415.2 339.5L416.2 340.2L417.2 340.8L418.2 341.5L419.2 342.1L420.2 342.7L421.2 343.3L422.2 343.9L423.2 344.5L424.2 345.1L425.2 345.7L426.2 346.3L427.2 347.0L428.2 347.6L429.2 348.2L430.2 348.8L431.2 349.4L432.2 350.1L433.2 350.7L434.2 351.3L435.2 352.0L436.2 352.6L437.2 353.2L438.2 353.9L439.2 354.5L440.2 355.1L441.2 355.7L442.2 356.3L443.2 357.0L444.2 357.6L445.2 358.2L446.2 358.8L447.2 359.4L448.2 360.0L449.2 360.6L450.2 361.2L451.2 361.8L452.2 362.3L453.2 362.9L454.2 363.4L455.2 364.0L456.2 364.5L457.2 365.0L458.2 365.4L459.2 365.9L460.2 366.3L461.2 366.7L462.2 367.1L463.2 367.4L464.2 367.8L465.2 368.1L466.2 368.4L467.2 368.7L468.2 368.9L469.2 369.2L470.2 369.4L471.2 369.7L472.2 369.9L473.2 370.1L474.2 370.2L475.2 370.4L476.2 370.6L477.2 370.7L478.2 370.9L479.2 371.0L480.2 371.2L481.2 371.3L482.2 371.4L483.2 371.6L484.2 371.7L485.2 371.8L486.2 371.9L487.2 372.0L488.2 372.1L489.2 372.2L490.2 372.3L491.2 372.4L492.2 372.5L493.2 372.6L494.2 372.6L495.2 372.7L496.2 372.8L497.2 372.8L498.2 372.9L499.2 372.9L500.2 373.0L501.2 373.0L502.2 373.1L503.2 373.1L504.2 373.1L505.2 373.2L506.2 373.2L507.2 373.3L508.2 373.3L509.2 373.3L510.2 373.4L511.2 373.4L512.2 373.4L513.2 373.4L514.2 373.5L515.2 373.5L516.2 373.5L517.2 373.5L518.2 373.5L519.2 373.5L520.2 373.5L521.2 373.5L522.2 373.5L523.2 373.4L524.2 373.4L525.2 373.4L526.2 373.4L527.2 373.3L528.2 373.3L529.2 373.2L530.2 373.2L531.2 373.2L532.2 373.1L533.2 373.0L534.2 373.0L535.2 372.9L536.2 372.9L537.2 372.8L538.2 372.7L539.2 372.6L540.2 372.6L540.9 372.5" stroke="#2a2eec"/>
<path d="M100.0 370.3L101.0 370.1L102.0 369.9L103.0 369.7L104.0 369.5L105.0 369.3L106.0 369.1L107.0 368.9L108.0 368.7L109.0 368.5L110.0 368.2L111.0 368.0L112.0 367.8L113.0 367.5L114.0 367.3L115.0 367.0L116.0 366.8L117.0 366.5L118.0 366.2L119.0 365.9L120.0 365.7L121.0 365.4L122.0 365.1L123.0 364.8L124.0 364.5L125.0 364.2L126.0 363.8L127.0 363.5L128.0 363.2L129.0 362.8L130.0 362.5L131.0 362.1L132.0 361.8L133.0 361.4L134.0 361.0L135.0 360.6L136.0 360.3L137.0 359.9L138.0 359.5L139.0 359.1L140.0 358.7L141.0 358.2L142.0 357.8L143.0 357.4L144.0 357.0L145.0 356.5L146.0 356.1L147.0 355.7L148.0 355.2L149.0 354.8L150.0 354.3L151.0 353.9L152.0 353.4L153.0 352.9L154.0 352.4L155.0 351.9L156.0 351.4L157.0 350.9L158.0 350.4L159.0 349.9L160.0 349.4L161.0 348.9L162.0 348.4L163.0 347.8L164.0 347.3L165.0 346.8L166.0 346.3L167.0 345.7L168.0 345.2L169.0 344.7L170.0 344.2L171.0 343.7L172.0 343.1L173.0 342.6L174.0 342.0L175.0 341.3L176.0 340.6L177.0 339.9L178.0 339.0L179.0 338.1L180.0 337.1L181.0 335.9L182.0 334.7L183.0 333.4L184.0 332.1L185.0 330.7L186.0 329.2L187.0 327.7L188.0 326.2L189.0 324.7L190.0 323.1L191.0 321.6L192.0 320.0L193.0 318.5L194.0 317.0L195.0 315.4L196.0 313.9L197.0 312.4L198.0 311.0L199.0 309.5L200.0 308.1L201.0 306.6L202.0 305.2L203.0 303.8L204.0 302.3L205.0 300.9L206.0 299.5L207.0 298.1L208.0 296.7L209.0 295.3L210.0 294.0L211.0 292.7L212.0 291.4L213.0 290.1L214.0 288.8L215.0 287.6L216.0 286.4L217.0 285.3L218.0 284.1L219.0 283.0L220.0 281.9L221.0 280.9L222.0 279.8L223.0 278.7L224.0 277.7L225.0 276.7L226.0 275.7L227.0 274.7L228.0 273.8L229.0 272.9L230.0 271.9L231.0 271.0L232.0 270.2L233.0 269.3L234.0 268.5L235.0 267.7L236.0 266.9L237.0 266.2L238.0 265.4L239.0 264.7L240.0 264.1L241.0 263.4L242.0 262.7L243.0 262.1L244.0 261.5L245.0 260.9L246.0 260.3L247.0 259.7L248.0 259.1L249.0 258.5L250.0 258.0L251.0 257.4L252.0 256.9L253.0 256.3L254.0 255.8L255.0 255.2L256.0 254.7L257.0 254.2L258.0 253.7L259.0 253.2L260.0 252.7L261.0 252.2L262.0 251.8L263.0 251.4L264.0 251.1L265.0 250.8L266.0 250.5L267.0 250.2L268.0 250.0L269.0 249.8L270.0 249.7L271.0 249.6L272.0 249.4L273.0 249.3L274.0 249.2L275.0 249.1L276.0 249.1L277.0 249.0L278.0 249.0L279.0 248.9L280.0 248.9L281.0 248.9L282.0 248.9L283.0 248.9L284.0 249.0L285.0 249.1L286.0 249.2L287.0 249.4L288.0 249.6L289.0 249.8L290.0 250.1L291.0 250.4L292.0 250.7L293.0 251.1L294.0 251.5L295.0 251.9L296.0 252.4L297.0 252.8L298.0 253.3L299.0 253.8L300.0 254.3L301.0 254.9L302.0 255.4L303.0 255.9L304.0 256.5L305.0 257.1L306.0 257.6L307.0 258.2L308.0 258.8L309.0 259.4L310.0 260.0L311.0 260.6L312.0 261.2L313.0 261.9L314.0 262.5L315.0 263.2L316.0 263.8L317.0 264.5L318.0 265.2L319.0 266.0L320.0 266.7L321.0 267.4L322.0 268.2L323.0 269.0L324.0 269.7L325.0 270.5L326.0 271.2L327.0 272.0L328.0 272.7L329.0 273.5L330.0 274.2L331.0 275.0L332.0 275.7L333.0 276.4L334.0 277.2L335.0 277.9L336.0 278.6L337.0 279.4L338.0 280.1L339.0 280.9L340.0 281.6L341.0 282.4L342.0 283.2L343.0 283.9L344.0 284.7L345.0 285.5L346.0 286.2L347.0 287.0L348.0 287.8L349.0 288.6L350.0 289.4L351.0 290.2L352.0 291.0L353.0 291.8L354.0 292.6L355.0 293.4L356.0 294.2L357.0 294.9L358.0 295.7L359.0 296.5L360.0 297.2L361.0 298.0L362.0 298.7L363.0 299.4L364.0 300.1L365.0 300.9L366.0 301.6L367.0 302.4L368.0 303.2L369.0 304.0L370.0 304.8L371.0 305.6L372.0 306.4L373.0 307.2L374.0 308.0L375.0 308.8L376.0 309.6L377.0 310.4L378.0 311.2L379.0 312.0L380.0 312.8L381.0 313.6L382.0 314.4L383.0 315.2L384.0 316.0L385.0 316.8L386.0 317.6L387.0 318.4L388.0 319.1L389.0 319.9L390.0 320.7L391.0 321.4L392.0 322.2L393.0 322.9L394.0 323.7L395.0 324.4L396.0 325.2L397.0 326.0L398.0 326.8L399.0 327.6L400.0 328.5L401.0 329.4L402.0 330.4L403.0 331.4L404.0 332.5L405.0 333.6L406.0 334.6L407.0 335.7L408.0 336.6L409.0 337.6L410.0 338.5L411.0 339.4L412.0 340.2L413.0 341.0L414.0 341.7L415.0 342.5L416.0 343.2L417.0 343.9L418.0 344.7L419.0 345.4L420.0 346.1L421.0 346.7L422.0 347.4L423.0 348.1L424.0 348.7L425.0 349.4L426.0 350.0L427.0 350.7L428.0 351.3L429.0 351.9L430.0 352.6L431.0 353.2L432.0 353.8L433.0 354.4L434.0 355.1L435.0 355.7L436.0 356.3L437.0 356.9L438.0 357.5L439.0 358.1L440.0 358.7L441.0 359.3L442.0 359.8L443.0 360.4L444.0 361.0L445.0 361.5L446.0 362.0L447.0 362.5L448.0 363.0L449.0 363.5L450.0 363.9L451.0 364.3L452.0 364.8L453.0 365.2L454.0 365.5L455.0 365.9L456.0 366.2L457.0 366.6L458.0 366.9L459.0 367.2L460.0 367.5L461.0 367.7L462.0 368.0L463.0 368.2L464.0 368.5L465.0 368.7L466.0 368.9L467.0 369.1L468.0 369.3L469.0 369.5L470.0 369.7L471.0 369.9L472.0 370.0L473.0 370.2L474.0 370.3L475.0 370.5L476.0 370.6L477.0 370.8L478.0 370.9L479.0 371.0L480.0 371.1L481.0 371.3L482.0 371.4L483.0 371.5L484.0 371.6L485.0 371.7L486.0 371.8L487.0 372.0L488.0 372.1L489.0 372.2L490.0 372.3L491.0 372.3L492.0 372.4L493.0 372.5L494.0 372.6L495.0 372.7L496.0 372.7L497.0 372.8L498.0 372.9L499.0 372.9L500.0 373.0L501.0 373.0L502.0 373.0L503.0 373.1L504.0 373.1L505.0 373.1L506.0 373.2L507.0 373.2L508.0 373.2L509.0 373.2L510.0 373.2L511.0 373.3L512.0 373.3L513.0 373.3L514.0 373.3L515.0 373.3L516.0 373.3L517.0 373.3L518.0 373.2L519.0 373.2L520.0 373.2" stroke="#fa7c17"/>
<path d="M89.0 371.2L90.0 371.2L91.0 371.2L92.0 371.1L93.0 371.0L94.0 370.9L95.0 370.8L96.0 370.7L97.0 370.6L98.0 370.4L99.0 370.2L100.0 370.0L101.0 369.9L102.0 369.7L103.0 369.5L104.0 369.3L105.0 369.1L106.0 368.9L107.0 368.7L108.0 368.5L109.0 368.3L110.0 368.1L111.0 367.9L112.0 367.7L113.0 367.5L114.0 367.2L115.0 367.0L116.0 366.8L117.0 366.6L118.0 366.4L119.0 366.2L120.0 365.9L121.0 365.7L122.0 365.5L123.0 365.3L124.0 365.1L125.0 364.8L126.0 364.6L127.0 364.4L128.0 364.2L129.0 363.9L130.0 363.7L131.0 363.5L132.0 363.2L133.0 363.0L134.0 362.8L135.0 362.5L136.0 362.3L137.0 362.0L138.0 361.8L139.0 361.5L140.0 361.3L141.0 361.0L142.0 360.7L143.0 360.5L144.0 360.2L145.0 359.9L146.0 359.7L147.0 359.4L148.0 359.1L149.0 358.8L150.0 358.5L151.0 358.1L152.0 357.8L153.0 357.4L154.0 357.0L155.0 356.6L156.0 356.2L157.0 355.7L158.0 355.2L159.0 354.7L160.0 354.2L161.0 353.6L162.0 353.0L163.0 352.4L164.0 351.8L165.0 351.1L166.0 350.5L167.0 349.7L168.0 349.0L169.0 348.1L170.0 347.3L171.0 346.3L172.0 345.3L173.0 344.3L174.0 343.3L175.0 342.2L176.0 341.1L177.0 340.1L178.0 339.0L179.0 338.0L180.0 337.1L181.0 336.2L182.0 335.4L183.0 334.6L184.0 333.9L185.0 333.2L186.0 332.5L187.0 331.9L188.0 331.2L189.0 330.6L190.0 330.0L191.0 329.3L192.0 328.7L193.0 328.0L194.0 327.3L195.0 326.5L196.0 325.7L197.0 324.8L198.0 324.0L199.0 323.1L200.0 322.2L201.0 321.3L202.0 320.3L203.0 319.4L204.0 318.5L205.0 317.5L206.0 316.6L207.0 315.7L208.0 314.8L209.0 313.8L210.0 312.9L211.0 312.0L212.0 311.0L213.0 310.1L214.0 309.2L215.0 308.3L216.0 307.3L217.0 306.4L218.0 305.5L219.0 304.6L220.0 303.7L221.0 302.8L222.0 302.0L223.0 301.2L224.0 300.4L225.0 299.7L226.0 298.9L227.0 298.2L228.0 297.5L229.0 296.8L230.0 296.1L231.0 295.3L232.0 294.6L233.0 293.8L234.0 293.0L235.0 292.2L236.0 291.3L237.0 290.4L238.0 289.4L239.0 288.3L240.0 287.2L241.0 286.1L242.0 284.8L243.0 283.6L244.0 282.3L245.0 281.0L246.0 279.6L247.0 278.3L248.0 277.0L249.0 275.6L250.0 274.3L251.0 272.9L252.0 271.5L253.0 270.2L254.0 268.8L255.0 267.4L256.0 266.0L257.0 264.5L258.0 263.0L259.0 261.3L260.0 259.6L261.0 257.8L262.0 255.9L263.0 254.0L264.0 252.2L265.0 250.5L266.0 248.9L267.0 247.5L268.0 246.2L269.0 245.1L270.0 244.1L271.0 243.1L272.0 242.3L273.0 241.5L274.0 240.8L275.0 240.1L276.0 239.5L277.0 239.0L278.0 238.5L279.0 238.0L280.0 237.6L281.0 237.3L282.0 237.0L283.0 236.8L284.0 236.7L285.0 236.6L286.0 236.6L287.0 236.7L288.0 236.8L289.0 237.0L290.0 237.2L291.0 237.5L292.0 237.8L293.0 238.2L294.0 238.6L295.0 239.1L296.0 239.6L297.0 240.1L298.0 240.7L299.0 241.3L300.0 241.9L301.0 242.6L302.0 243.3L303.0 244.0L304.0 244.8L305.0 245.6L306.0 246.5L307.0 247.4L308.0 248.3L309.0 249.4L310.0 250.4L311.0 251.5L312.0 252.6L313.0 253.7L314.0 254.8L315.0 255.9L316.0 257.0L317.0 258.1L318.0 259.1L319.0 260.1L320.0 261.2L321.0 262.1L322.0 263.1L323.0 264.0L324.0 264.9L325.0 265.8L326.0 266.6L327.0 267.4L328.0 268.1L329.0 268.8L330.0 269.4L331.0 270.0L332.0 270.5L333.0 271.0L334.0 271.5L335.0 271.9L336.0 272.4L337.0 272.8L338.0 273.2L339.0 273.6L340.0 273.9L341.0 274.3L342.0 274.6L343.0 275.0L344.0 275.3L345.0 275.7L346.0 276.0L347.0 276.4L348.0 276.9L349.0 277.3L350.0 277.8L351.0 278.4L352.0 279.0L353.0 279.6L354.0 280.3L355.0 281.0L356.0 281.8L357.0 282.6L358.0 283.5L359.0 284.4L360.0 285.3L361.0 286.2L362.0 287.2L363.0 288.2L364.0 289.2L365.0 290.2L366.0 291.2L367.0 292.3L368.0 293.3L369.0 294.4L370.0 295.5L371.0 296.6L372.0 297.7L373.0 298.8L374.0 299.9L375.0 301.0L376.0 302.2L377.0 303.4L378.0 304.6L379.0 305.8L380.0 307.1L381.0 308.4L382.0 309.7L383.0 311.0L384.0 312.3L385.0 313.6L386.0 314.9L387.0 316.1L388.0 317.4L389.0 318.6L390.0 319.9L391.0 321.1L392.0 322.3L393.0 323.5L394.0 324.6L395.0 325.8L396.0 326.9L397.0 328.0L398.0 329.1L399.0 330.2L400.0 331.2L401.0 332.2L402.0 333.1L403.0 334.1L404.0 334.9L405.0 335.8L406.0 336.6L407.0 337.4L408.0 338.1L409.0 338.9L410.0 339.6L411.0 340.3L412.0 341.0L413.0 341.7L414.0 342.4L415.0 343.1L416.0 343.7L417.0 344.4L418.0 345.0L419.0 345.7L420.0 346.3L421.0 346.9L422.0 347.5L423.0 348.0L424.0 348.6L425.0 349.1L426.0 349.6L427.0 350.1L428.0 350.5L429.0 351.0L430.0 351.4L431.0 351.8L432.0 352.2L433.0 352.6L434.0 353.0L435.0 353.4L436.0 353.8L437.0 354.1L438.0 354.5L439.0 354.9L440.0 355.3L441.0 355.6L442.0 356.0L443.0 356.4L444.0 356.7L445.0 357.1L446.0 357.4L447.0 357.8L448.0 358.2L449.0 358.5L450.0 358.9L451.0 359.2L452.0 359.6L453.0 359.9L454.0 360.3L455.0 360.6L456.0 361.0L457.0 361.3L458.0 361.7L459.0 362.0L460.0 362.3L461.0 362.7L462.0 363.0L463.0 363.4L464.0 363.7L465.0 364.0L466.0 364.4L467.0 364.7L468.0 365.1L469.0 365.4L470.0 365.7L471.0 366.1L472.0 366.4L473.0 366.7L474.0 367.0L475.0 367.4L476.0 367.7L477.0 368.0L478.0 368.3L479.0 368.6L480.0 369.0L481.0 369.3L482.0 369.6L483.0 369.8L484.0 370.1L485.0 370.4L486.0 370.6L487.0 370.9L488.0 371.1L489.0 371.3L490.0 371.6L491.0 371.8L492.0 371.9L493.0 372.1L494.0 372.3L495.0 372.4L496.0 372.6L497.0 372.7L498.0 372.8L499.0 372.9L500.0 373.0L501.0 373.1L502.0 373.2L503.0 373.2L504.0 373.3L505.0 373.4L506.0 373.4L507.0 373.4L508.0 373.5L509.0 373.5L510.0 373.5L511.0 373.6L512.0 373.6L513.0 373.6L514.0 373.6L515.0 373.6L516.0 373.6L517.0 373.6L518.0 373.5L519.0 373.5L520.0 373.5L521.0 373.5L522.0 373.4L523.0 373.4L524.0 373.4L525.0 373.3L526.0 373.3L527.0 373.3L528.0 373.2L529.0 373.2L530.0 373.2L531.0 373.1L532.0 373.1L533.0 373.1L534.0 373.0L535.0 373.0L536.0 373.0L537.0 372.9L538.0 372.9L539.0 372.8L540.0 372.8L541.0 372.8L542.0 372.7L543.0 372.7L544.0 372.6L545.0 372.6L546.0 372.6L547.0 372.5L548.0 372.5L549.0 372.4L550.0 372.4L551.0 372.3L552.0 372.3L553.0 372.3L554.0 372.2L555.0 372.2L556.0 372.1L557.0 372.1L558.0 372.0L559.0 372.0L560.0 372.0L561.0 371.9L561.2 371.9" stroke="#328c06"/>
<path d="M86.9 370.6L87.9 370.6L88.9 370.6L89.9 370.6L90.9 370.6L91.9 370.5L92.9 370.4L93.9 370.3L94.9 370.2L95.9 370.0L96.9 369.9L97.9 369.7L98.9 369.5L99.9 369.3L100.9 369.1L101.9 368.9L102.9 368.7L103.9 368.5L104.9 368.3L105.9 368.1L106.9 367.9L107.9 367.7L108.9 367.4L109.9 367.2L110.9 366.9L111.9 366.7L112.9 366.4L113.9 366.2L114.9 365.9L115.9 365.6L116.9 365.3L117.9 365.0L118.9 364.7L119.9 364.3L120.9 364.0L121.9 363.6L122.9 363.3L123.9 362.9L124.9 362.5L125.9 362.1L126.9 361.7L127.9 361.2L128.9 360.8L129.9 360.4L130.9 359.9L131.9 359.5L132.9 359.0L133.9 358.6L134.9 358.1L135.9 357.7L136.9 357.2L137.9 356.8L138.9 356.3L139.9 355.9L140.9 355.4L141.9 355.0L142.9 354.5L143.9 354.1L144.9 353.6L145.9 353.2L146.9 352.7L147.9 352.3L148.9 351.8L149.9 351.4L150.9 350.9L151.9 350.5L152.9 350.0L153.9 349.6L154.9 349.1L155.9 348.7L156.9 348.2L157.9 347.8L158.9 347.3L159.9 346.9L160.9 346.4L161.9 346.0L162.9 345.5L163.9 345.1L164.9 344.6L165.9 344.2L166.9 343.7L167.9 343.2L168.9 342.7L169.9 342.2L170.9 341.7L171.9 341.2L172.9 340.6L173.9 340.1L174.9 339.5L175.9 338.9L176.9 338.3L177.9 337.7L178.9 337.1L179.9 336.5L180.9 335.9L181.9 335.3L182.9 334.8L183.9 334.2L184.9 333.6L185.9 333.0L186.9 332.5L187.9 331.9L188.9 331.3L189.9 330.7L190.9 330.0L191.9 329.4L192.9 328.7L193.9 327.9L194.9 327.2L195.9 326.4L196.9 325.5L197.9 324.7L198.9 323.8L199.9 322.9L200.9 322.0L201.9 321.1L202.9 320.2L203.9 319.3L204.9 318.4L205.9 317.5L206.9 316.6L207.9 315.6L208.9 314.7L209.9 313.8L210.9 312.9L211.9 312.0L212.9 311.1L213.9 310.2L214.9 309.3L215.9 308.4L216.9 307.5L217.9 306.6L218.9 305.7L219.9 304.8L220.9 303.9L221.9 303.1L222.9 302.2L223.9 301.4L224.9 300.7L225.9 299.9L226.9 299.1L227.9 298.4L228.9 297.7L229.9 296.9L230.9 296.2L231.9 295.4L232.9 294.6L233.9 293.8L234.9 293.0L235.9 292.2L236.9 291.3L237.9 290.4L238.9 289.5L239.9 288.5L240.9 287.6L241.9 286.6L242.9 285.6L243.9 284.6L244.9 283.6L245.9 282.6L246.9 281.6L247.9 280.6L248.9 279.6L249.9 278.6L250.9 277.6L251.9 276.6L252.9 275.6L253.9 274.7L254.9 273.7L255.9 272.7L256.9 271.7L257.9 270.7L258.9 269.7L259.9 268.7L260.9 267.7L261.9 266.7L262.9 265.7L263.9 264.7L264.9 263.7L265.9 262.8L266.9 261.8L267.9 260.9L268.9 260.0L269.9 259.1L270.9 258.2L271.9 257.4L272.9 256.5L273.9 255.8L274.9 255.0L275.9 254.3L276.9 253.6L277.9 252.9L278.9 252.3L279.9 251.7L280.9 251.2L281.9 250.6L282.9 250.1L283.9 249.6L284.9 249.2L285.9 248.7L286.9 248.3L287.9 247.8L288.9 247.4L289.9 247.0L290.9 246.6L291.9 246.3L292.9 245.9L293.9 245.6L294.9 245.3L295.9 245.0L296.9 244.7L297.9 244.5L298.9 244.3L299.9 244.1L300.9 243.9L301.9 243.8L302.9 243.8L303.9 243.7L304.9 243.7L305.9 243.7L306.9 243.8L307.9 243.8L308.9 244.0L309.9 244.1L310.9 244.3L311.9 244.6L312.9 244.9L313.9 245.3L314.9 245.8L315.9 246.3L316.9 246.9L317.9 247.6L318.9 248.3L319.9 249.1L320.9 249.9L321.9 250.8L322.9 251.7L323.9 252.6L324.9 253.5L325.9 254.4L326.9 255.4L327.9 256.3L328.9 257.3L329.9 258.3L330.9 259.3L331.9 260.3L332.9 261.2L333.9 262.2L334.9 263.2L335.9 264.2L336.9 265.2L337.9 266.2L338.9 267.2L339.9 268.2L340.9 269.2L341.9 270.2L342.9 271.3L343.9 272.3L344.9 273.3L345.9 274.3L346.9 275.3L347.9 276.3L348.9 277.2L349.9 278.2L350.9 279.1L351.9 280.1L352.9 281.0L353.9 281.9L354.9 282.7L355.9 283.6L356.9 284.4L357.9 285.2L358.9 286.1L359.9 286.9L360.9 287.6L361.9 288.4L362.9 289.2L363.9 290.0L364.9 290.8L365.9 291.6L366.9 292.4L367.9 293.2L368.9 294.0L369.9 294.8L370.9 295.6L371.9 296.4L372.9 297.2L373.9 298.0L374.9 298.8L375.9 299.6L376.9 300.4L377.9 301.3L378.9 302.1L379.9 302.9L380.9 303.8L381.9 304.7L382.9 305.6L383.9 306.5L384.9 307.4L385.9 308.4L386.9 309.4L387.9 310.4L388.9 311.4L389.9 312.4L390.9 313.5L391.9 314.6L392.9 315.7L393.9 316.8L394.9 317.8L395.9 319.0L396.9 320.1L397.9 321.2L398.9 322.3L399.9 323.4L400.9 324.5L401.9 325.7L402.9 326.8L403.9 327.9L404.9 329.1L405.9 330.2L406.9 331.3L407.9 332.5L408.9 333.6L409.9 334.7L410.9 335.7L411.9 336.8L412.9 337.8L413.9 338.8L414.9 339.8L415.9 340.8L416.9 341.7L417.9 342.7L418.9 343.6L419.9 344.5L420.9 345.3L421.9 346.2L422.9 347.0L423.9 347.9L424.9 348.7L425.9 349.5L426.9 350.3L427.9 351.0L428.9 351.8L429.9 352.5L430.9 353.3L431.9 354.0L432.9 354.7L433.9 355.4L434.9 356.1L435.9 356.7L436.9 357.4L437.9 358.0L438.9 358.6L439.9 359.2L440.9 359.8L441.9 360.3L442.9 360.9L443.9 361.4L444.9 361.9L445.9 362.4L446.9 362.8L447.9 363.3L448.9 363.7L449.9 364.1L450.9 364.5L451.9 364.8L452.9 365.2L453.9 365.5L454.9 365.8L455.9 366.1L456.9 366.4L457.9 366.7L458.9 366.9L459.9 367.2L460.9 367.5L461.9 367.7L462.9 368.0L463.9 368.2L464.9 368.4L465.9 368.7L466.9 368.9L467.9 369.1L468.9 369.3L469.9 369.5L470.9 369.7L471.9 369.9L472.9 370.1L473.9 370.2L474.9 370.4L475.9 370.6L476.9 370.7L477.9 370.9L478.9 371.0L479.9 371.1L480.9 371.3L481.9 371.4L482.9 371.5L483.9 371.6L484.9 371.8L485.9 371.9L486.9 372.0L487.9 372.1L488.9 372.2L489.9 372.3L490.9 372.4L491.9 372.5L492.9 372.6L493.9 372.6L494.9 372.7L495.9 372.8L496.9 372.8L497.9 372.9L498.9 372.9L499.9 372.9L500.9 372.9L501.9 372.9L502.9 372.9L503.9 372.9L504.9 372.9L505.9 372.9L506.9 372.8L507.9 372.8L508.9 372.7L509.9 372.7L510.9 372.6L511.9 372.6L512.9 372.5L513.9 372.4L514.7 372.3" stroke="#c10c90"/>
</g>
<g clip-path="url(#cl2)" fill="none" stroke-width="1.5" stroke-linejoin="round" stroke-linecap="round">
<path d="M39.2 554.2L40.2 553.9L41.2 553.5L42.2 553.0L43.2 552.3L44.2 551.4L45.2 550.2L46.2 548.7L47.2 546.8L48.2 544.5L49.2 541.8L50.2 538.8L51.2 535.6L52.2 532.5L53.2 529.3L54.2 526.1L55.2 522.9L56.2 519.7L57.2 516.5L58.2 513.3L59.2 510.1L60.2 506.9L61.2 503.8L62.2 500.6L63.2 497.4L64.2 494.2L65.2 491.0L66.2 487.8L67.2 484.7L68.2 481.5L69.2 478.4L70.2 475.4L71.2 472.6L72.2 470.1L73.2 467.7L74.2 465.5L75.2 463.5L76.2 461.7L77.2 460.0L78.2 458.7L79.2 457.5L80.2 456.6L81.2 455.9L82.2 455.3L83.2 454.8L84.2 454.5L85.2 454.2L86.2 454.0L87.2 453.8L88.2 453.7L89.2 453.6L90.2 453.6L91.2 453.7L92.2 454.0L93.2 454.3L94.2 454.7L95.2 455.2L96.2 455.9L97.2 456.5L98.2 457.3L99.2 458.1L100.2 459.0L101.2 460.0L102.2 461.0L103.2 462.1L104.2 463.3L105.2 464.6L106.2 465.9L107.2 467.4L108.2 468.8L109.2 470.4L110.2 472.0L111.2 473.7L112.2 475.4L113.2 477.2L114.2 479.0L115.2 480.9L116.2 482.7L117.2 484.7L118.2 486.6L119.2 488.7L120.2 491.0L121.2 493.5L122.2 496.1L123.2 498.8L124.2 501.4L125.2 503.8L126.2 506.0L127.2 507.9L128.2 509.4L129.2 510.6L130.2 511.5L131.2 512.3L132.2 512.9L133.2 513.5L134.2 514.1L135.2 514.7L136.2 515.3L137.2 516.0L138.2 516.8L139.2 517.6L140.2 518.5L141.2 519.4L142.2 520.3L143.2 521.2L144.2 522.1L145.2 523.1L146.2 524.0L147.2 525.0L148.2 526.0L149.2 527.0L150.2 528.0L151.2 529.0L152.2 530.0L153.2 531.0L154.2 532.0L155.2 533.0L156.2 533.9L157.2 534.8L158.2 535.7L159.2 536.5L160.2 537.3L161.2 538.0L162.2 538.6L163.2 539.3L164.2 539.9L165.2 540.6L166.2 541.2L167.2 542.0L168.2 542.8L169.2 543.6L170.2 544.5L171.2 545.4L172.2 546.3L173.2 547.2L174.2 548.1L175.2 549.0L176.2 549.9L177.2 550.8L178.2 551.6L179.2 552.4L180.2 553.2L181.2 553.9L182.2 554.6L183.2 555.3L184.2 556.0L185.2 556.7L186.2 557.3L187.2 557.9L188.2 558.5L189.2 559.0L190.2 559.5L191.2 560.0L192.2 560.4L193.2 560.8L194.2 561.2L195.2 561.5L196.2 561.8L197.2 562.0L198.2 562.2L199.2 562.4L200.2 562.6L201.2 562.8L202.2 563.0L203.2 563.1L204.2 563.3L205.2 563.5L206.2 563.6L207.2 563.8L208.2 563.9L209.2 564.0L210.2 564.1L211.2 564.2L212.2 564.4L213.2 564.5L214.2 564.6L215.2 564.7L216.2 564.8L217.2 564.9L218.2 565.0L219.2 565.2L220.2 565.3L221.2 565.4L222.2 565.5L223.2 565.6L224.2 565.7L225.2 565.8L226.2 566.0L227.2 566.1L228.2 566.2L229.2 566.3L230.2 566.5L231.2 566.6L232.2 566.7L233.2 566.8L234.2 566.9L235.2 567.1L236.2 567.2L237.2 567.3L238.2 567.4L239.2 567.5L240.2 567.7L241.2 567.8L242.2 567.9L243.2 568.0L244.2 568.1L245.2 568.2L246.2 568.3L247.2 568.4L248.2 568.5L249.2 568.6L250.2 568.7L251.2 568.8L252.2 568.9L253.2 568.9L254.2 569.0L255.2 569.1L256.2 569.2L257.2 569.3L258.2 569.5L259.2 569.6L260.2 569.8L261.2 569.9L262.2 570.1L263.2 570.3L264.2 570.5L265.2 570.8L266.2 571.0L267.2 571.2L268.2 571.4L269.2 571.6L270.2 571.8L271.2 572.0L272.2 572.1L273.2 572.3L274.2 572.4L275.2 572.5L276.2 572.5L277.2 572.6L278.2 572.6L279.2 572.6L280.2 572.7L281.2 572.7L282.2 572.7L283.2 572.7L284.2 572.7L285.2 572.7L286.2 572.7L287.2 572.7L288.2 572.7L289.2 572.7L290.2 572.6L291.2 572.6L292.2 572.6L293.2 572.5L294.2 572.5L295.2 572.4L296.2 572.4L297.2 572.4L298.2 572.4L299.2 572.4L300.2 572.5L301.2 572.5L302.2 572.6L303.2 572.7L304.2 572.9L305.2 573.0L306.2 573.2L307.2 573.3L308.2 573.5L309.2 573.6L310.2 573.8L311.2 573.9L312.2 574.1L313.2 574.2L314.2 574.3L315.2 574.4L316.2 574.4L317.2 574.5L318.2 574.5L319.2 574.6L320.2 574.6L321.2 574.6L322.2 574.7L323.2 574.7L324.2 574.7L325.2 574.7L326.2 574.7L327.2 574.7L328.2 574.7L329.2 574.7L330.2 574.6L331.2 574.6L332.2 574.6L333.2 574.6L334.2 574.5L335.2 574.5L336.2 574.5L337.2 574.4L338.2 574.4L339.2 574.4L340.2 574.4L341.2 574.4L342.2 574.4L343.2 574.4L344.2 574.4L345.2 574.4L346.2 574.4L347.2 574.4L348.2 574.4L349.2 574.4L350.2 574.4L351.2 574.4L352.2 574.4L353.2 574.4L354.2 574.4L355.2 574.4L356.2 574.4L357.2 574.4L358.2 574.4L359.2 574.4L360.2 574.4L361.2 574.4L362.2 574.4L363.2 574.4L364.2 574.4L365.2 574.4L366.2 574.3L367.2 574.3L368.2 574.3L369.2 574.3L370.2 574.3L371.2 574.3L372.2 574.3L373.2 574.3L374.2 574.3L375.2 574.2L376.2 574.2L377.2 574.2L378.2 574.2L379.2 574.2L380.2 574.2L381.2 574.2L382.2 574.2L383.2 574.1L384.2 574.1L385.2 574.1L386.2 574.1L387.2 574.1L388.2 574.1L389.2 574.1L390.2 574.1L391.2 574.1L392.2 574.1L393.2 574.0L394.2 574.0L395.2 574.0L396.2 574.0L397.2 574.0L398.2 574.0L399.2 574.0L400.2 574.0L401.2 574.0L402.2 574.0L403.2 574.0L404.2 574.0L405.2 574.0L406.2 574.0L407.2 574.0L408.2 574.0L409.2 574.0L410.2 574.1L411.2 574.1L412.2 574.1L413.2 574.1L414.2 574.1L415.2 574.1L416.2 574.1L417.2 574.2L418.2 574.2L419.2 574.2L420.2 574.2L421.2 574.2L422.2 574.2L423.2 574.3L424.2 574.3L425.2 574.3L426.2 574.3L427.2 574.3L428.2 574.3L429.2 574.3L430.2 574.4L431.2 574.4L432.2 574.4L433.2 574.4L434.2 574.4L435.2 574.4L436.2 574.4L437.2 574.4L438.2 574.4L439.2 574.4L440.2 574.4L441.2 574.4L442.2 574.4L443.2 574.4L444.2 574.4L445.2 574.3L446.2 574.3L447.2 574.3L448.2 574.3L449.2 574.2L450.2 574.2L451.2 574.2L452.2 574.1L453.2 574.1L454.2 574.1L455.2 574.0L456.2 574.0L457.2 573.9L458.2 573.9L459.2 573.8L460.2 573.8L461.2 573.7L462.2 573.7L463.2 573.6L464.2 573.5L465.2 573.5L466.2 573.4L467.2 573.4L468.2 573.3L469.2 573.2L469.8 573.2" stroke="#2a2eec"/>
<path d="M38.6 551.2L39.6 550.6L40.6 550.0L41.6 549.2L42.6 548.2L43.6 546.9L44.6 545.4L45.6 543.7L46.6 541.7L47.6 539.3L48.6 536.6L49.6 533.6L50.6 530.3L51.6 526.7L52.6 523.0L53.6 519.2L54.6 515.4L55.6 511.5L56.6 507.8L57.6 504.1L58.6 500.5L59.6 497.1L60.6 493.7L61.6 490.4L62.6 487.2L63.6 484.0L64.6 480.8L65.6 477.7L66.6 474.8L67.6 471.9L68.6 469.1L69.6 466.6L70.6 464.2L71.6 462.1L72.6 460.3L73.6 458.7L74.6 457.3L75.6 456.2L76.6 455.2L77.6 454.3L78.6 453.5L79.6 452.8L80.6 452.1L81.6 451.5L82.6 451.0L83.6 450.6L84.6 450.2L85.6 449.9L86.6 449.6L87.6 449.4L88.6 449.2L89.6 449.2L90.6 449.2L91.6 449.3L92.6 449.5L93.6 449.8L94.6 450.3L95.6 450.9L96.6 451.5L97.6 452.4L98.6 453.3L99.6 454.4L100.6 455.6L101.6 456.9L102.6 458.4L103.6 460.1L104.6 461.8L105.6 463.5L106.6 465.4L107.6 467.4L108.6 469.5L109.6 471.6L110.6 473.8L111.6 475.9L112.6 478.1L113.6 480.3L114.6 482.6L115.6 484.8L116.6 486.9L117.6 489.1L118.6 491.3L119.6 493.5L120.6 495.7L121.6 497.8L122.6 500.0L123.6 502.1L124.6 504.2L125.6 506.3L126.6 508.3L127.6 510.4L128.6 512.3L129.6 514.1L130.6 515.8L131.6 517.4L132.6 518.8L133.6 520.2L134.6 521.4L135.6 522.6L136.6 523.8L137.6 524.9L138.6 526.0L139.6 527.1L140.6 528.2L141.6 529.3L142.6 530.3L143.6 531.4L144.6 532.4L145.6 533.4L146.6 534.4L147.6 535.5L148.6 536.5L149.6 537.5L150.6 538.5L151.6 539.5L152.6 540.4L153.6 541.4L154.6 542.3L155.6 543.3L156.6 544.1L157.6 545.0L158.6 545.8L159.6 546.6L160.6 547.3L161.6 547.9L162.6 548.5L163.6 549.1L164.6 549.6L165.6 550.1L166.6 550.6L167.6 551.1L168.6 551.6L169.6 552.0L170.6 552.5L171.6 552.9L172.6 553.3L173.6 553.7L174.6 554.1L175.6 554.5L176.6 554.8L177.6 555.2L178.6 555.5L179.6 555.8L180.6 556.1L181.6 556.3L182.6 556.6L183.6 556.8L184.6 557.0L185.6 557.2L186.6 557.4L187.6 557.5L188.6 557.6L189.6 557.7L190.6 557.7L191.6 557.8L192.6 557.8L193.6 557.9L194.6 557.9L195.6 558.0L196.6 558.0L197.6 558.1L198.6 558.2L199.6 558.2L200.6 558.3L201.6 558.4L202.6 558.4L203.6 558.5L204.6 558.6L205.6 558.7L206.6 558.9L207.6 559.0L208.6 559.2L209.6 559.5L210.6 559.7L211.6 560.0L212.6 560.3L213.6 560.7L214.6 561.0L215.6 561.4L216.6 561.7L217.6 562.1L218.6 562.5L219.6 562.9L220.6 563.3L221.6 563.6L222.6 564.0L223.6 564.4L224.6 564.7L225.6 565.1L226.6 565.4L227.6 565.8L228.6 566.1L229.6 566.5L230.6 566.8L231.6 567.1L232.6 567.5L233.6 567.8L234.6 568.1L235.6 568.5L236.6 568.8L237.6 569.1L238.6 569.4L239.6 569.7L240.6 570.0L241.6 570.2L242.6 570.5L243.6 570.6L244.6 570.7L245.6 570.8L246.6 570.8L247.6 570.8L248.6 570.8L249.6 570.7L250.6 570.7L251.6 570.6L252.6 570.6L253.6 570.6L254.6 570.6L255.6 570.6L256.6 570.6L257.6 570.7L258.6 570.8L259.6 571.0L260.6 571.1L261.6 571.3L262.6 571.5L263.6 571.7L264.6 571.9L265.6 572.1L266.6 572.3L267.6 572.5L268.6 572.6L269.6 572.8L270.6 573.0L271.6 573.1L272.6 573.3L273.6 573.4L274.6 573.5L275.6 573.6L276.6 573.7L277.6 573.8L278.6 573.9L279.6 573.9L280.6 574.0L281.6 574.0L282.6 574.1L283.6 574.1L284.6 574.1L285.6 574.1L286.6 574.0L287.6 574.0L288.6 573.9L289.6 573.8L290.6 573.8L291.6 573.7L292.6 573.6L293.6 573.5L294.6 573.4L295.6 573.3L296.6 573.2L297.6 573.1L298.6 573.0L299.6 572.9L300.6 572.8L301.6 572.7L302.6 572.6L303.6 572.5L304.6 572.3L305.6 572.2L306.6 572.1L307.6 571.9L308.6 571.8L309.6 571.7L310.6 571.5L311.6 571.4L312.6 571.3L313.6 571.2L314.6 571.2L315.6 571.1L316.6 571.1L317.6 571.1L318.6 571.1L319.6 571.2L320.6 571.2L321.6 571.3L322.6 571.4L323.6 571.5L324.6 571.6L325.6 571.7L326.6 571.8L327.6 571.9L328.6 572.1L329.6 572.2L330.6 572.3L331.6 572.4L332.6 572.6L333.6 572.7L334.6 572.8L335.6 573.0L336.6 573.1L337.6 573.2L338.6 573.3L339.6 573.4L340.6 573.5L341.6 573.6L342.6 573.7L343.6 573.8L344.6 573.8L345.6 573.9L346.6 574.0L347.6 574.0L348.6 574.1L349.6 574.1L350.6 574.2L351.6 574.2L352.6 574.3L353.6 574.3L354.6 574.3L355.6 574.4L356.6 574.4L357.6 574.4L358.6 574.4L359.6 574.4L360.6 574.4L361.6 574.4L362.6 574.4L363.6 574.4L364.6 574.4L365.6 574.4L366.6 574.4L367.6 574.3L368.6 574.3L369.6 574.3L370.6 574.3L371.6 574.3L372.6 574.3L373.6 574.3L374.6 574.2L375.6 574.2L376.6 574.2L377.6 574.2L378.6 574.2L379.6 574.2L380.6 574.1L381.6 574.1L382.6 574.1L383.6 574.1L384.6 574.1L385.6 574.1L386.6 574.0L387.6 574.0L388.6 574.0L389.6 574.0L390.6 574.0L391.6 574.0L392.6 574.0L393.6 574.0L394.6 574.0L395.6 574.0L396.6 574.0L397.6 574.0L398.6 574.0L399.6 574.0L400.6 574.0L401.6 574.0L402.6 574.0L403.6 574.0L404.6 574.1L405.6 574.1L406.6 574.1L407.6 574.1L408.6 574.1L409.6 574.1L410.6 574.1L411.6 574.1L412.6 574.1L413.6 574.2L414.6 574.2L415.6 574.2L416.6 574.2L417.6 574.2L418.6 574.2L419.6 574.2L420.6 574.2L421.6 574.2L422.6 574.3L423.6 574.3L424.6 574.3L425.6 574.3L426.6 574.3L427.6 574.3L428.6 574.3L429.6 574.3L430.6 574.3L431.6 574.3L432.6 574.4L433.6 574.4L434.6 574.4L435.6 574.4L436.6 574.4L437.6 574.4L438.6 574.4L439.6 574.4L440.6 574.4L441.6 574.4L442.6 574.4L443.6 574.4L444.6 574.4L445.6 574.4L446.6 574.4L447.6 574.4L448.6 574.4L449.6 574.4L450.6 574.4L451.6 574.4L452.6 574.4L453.6 574.4L454.6 574.4L455.6 574.4L456.6 574.4L457.6 574.5L458.6 574.5L459.6 574.5L460.6 574.5L461.6 574.5L462.6 574.5L463.6 574.5L464.6 574.5L465.6 574.5L466.6 574.5L467.6 574.5L468.6 574.5L469.6 574.5L470.6 574.5L471.6 574.5L472.6 574.5L473.6 574.5L474.6 574.5L475.6 574.5L476.6 574.5L477.6 574.5L478.6 574.5L479.6 574.5L480.6 574.5L481.6 574.5L482.6 574.5L483.6 574.5L484.6 574.5L485.6 574.5L486.6 574.5L487.6 574.5L488.6 574.5L489.6 574.5L490.6 574.5L491.6 574.5L492.6 574.5L493.6 574.5L494.6 574.5L495.6 574.5L496.6 574.5L497.6 574.5L498.6 574.5L499.6 574.5L500.6 574.5L501.6 574.5L502.6 574.5L503.6 574.5L504.6 574.5L505.6 574.5L506.6 574.5L507.6 574.5L508.6 574.5L509.6 574.5L510.6 574.5L511.6 574.5L512.6 574.5L513.6 574.5L514.6 574.5L515.6 574.5L516.6 574.5L517.6 574.5L518.6 574.5L519.6 574.5L520.6 574.5L521.6 574.4L522.6 574.4L523.6 574.4L524.6 574.4L525.6 574.4L526.6 574.4L527.6 574.4L528.6 574.4L529.6 574.4L530.6 574.4L531.6 574.4L532.6 574.4L533.6 574.4L534.6 574.4L535.6 574.3L536.6 574.3L537.6 574.3L538.6 574.3L539.6 574.3L540.6 574.3L541.6 574.3L542.6 574.3L543.6 574.2L544.6 574.2L545.6 574.2L546.6 574.1L547.6 574.1L548.6 574.0L549.6 574.0L550.6 573.9L551.6 573.9L552.6 573.8L553.6 573.7L554.6 573.7L555.6 573.6L556.6 573.5L557.6 573.5L558.6 573.4L559.6 573.3L560.6 573.3L561.4 573.2" stroke="#fa7c17"/>
<path d="M37.2 559.7L38.2 559.3L39.2 558.8L40.2 558.0L41.2 557.1L42.2 555.9L43.2 554.4L44.2 552.7L45.2 550.6L46.2 548.2L47.2 545.5L48.2 542.3L49.2 538.8L50.2 534.8L51.2 530.5L52.2 525.8L53.2 521.0L54.2 516.0L55.2 511.0L56.2 506.0L57.2 501.3L58.2 496.9L59.2 492.7L60.2 488.8L61.2 485.0L62.2 481.3L63.2 477.7L64.2 474.1L65.2 470.6L66.2 467.2L67.2 463.9L68.2 460.7L69.2 457.6L70.2 454.7L71.2 451.9L72.2 449.3L73.2 447.0L74.2 444.8L75.2 442.8L76.2 441.1L77.2 439.6L78.2 438.4L79.2 437.5L80.2 436.9L81.2 436.7L82.2 436.6L83.2 436.9L84.2 437.4L85.2 438.3L86.2 439.3L87.2 440.5L88.2 441.8L89.2 443.2L90.2 444.7L91.2 446.2L92.2 447.9L93.2 449.6L94.2 451.2L95.2 452.9L96.2 454.6L97.2 456.3L98.2 457.9L99.2 459.6L100.2 461.2L101.2 462.9L102.2 464.6L103.2 466.4L104.2 468.3L105.2 470.3L106.2 472.4L107.2 474.5L108.2 476.5L109.2 478.4L110.2 480.2L111.2 482.0L112.2 483.8L113.2 485.6L114.2 487.4L115.2 489.2L116.2 490.9L117.2 492.7L118.2 494.5L119.2 496.2L120.2 498.0L121.2 499.7L122.2 501.5L123.2 503.2L124.2 504.9L125.2 506.6L126.2 508.3L127.2 510.0L128.2 511.6L129.2 513.2L130.2 514.7L131.2 516.2L132.2 517.6L133.2 519.0L134.2 520.4L135.2 521.7L136.2 523.0L137.2 524.3L138.2 525.6L139.2 526.9L140.2 528.1L141.2 529.3L142.2 530.5L143.2 531.7L144.2 532.9L145.2 534.1L146.2 535.3L147.2 536.4L148.2 537.6L149.2 538.8L150.2 539.9L151.2 541.0L152.2 542.1L153.2 543.1L154.2 544.1L155.2 545.1L156.2 545.9L157.2 546.7L158.2 547.5L159.2 548.2L160.2 548.9L161.2 549.6L162.2 550.3L163.2 551.0L164.2 551.7L165.2 552.4L166.2 553.1L167.2 553.8L168.2 554.5L169.2 555.2L170.2 555.9L171.2 556.6L172.2 557.3L173.2 558.0L174.2 558.7L175.2 559.4L176.2 560.0L177.2 560.7L178.2 561.3L179.2 561.9L180.2 562.3L181.2 562.6L182.2 562.9L183.2 563.0L184.2 563.2L185.2 563.3L186.2 563.4L187.2 563.5L188.2 563.6L189.2 563.6L190.2 563.7L191.2 563.7L192.2 563.7L193.2 563.8L194.2 563.8L195.2 563.9L196.2 564.0L197.2 564.1L198.2 564.3L199.2 564.6L200.2 564.9L201.2 565.3L202.2 565.6L203.2 566.0L204.2 566.5L205.2 566.9L206.2 567.2L207.2 567.6L208.2 567.9L209.2 568.1L210.2 568.3L211.2 568.5L212.2 568.6L213.2 568.7L214.2 568.9L215.2 569.0L216.2 569.1L217.2 569.1L218.2 569.2L219.2 569.3L220.2 569.3L221.2 569.3L222.2 569.4L223.2 569.4L224.2 569.4L225.2 569.4L226.2 569.4L227.2 569.3L228.2 569.3L229.2 569.2L230.2 569.1L231.2 569.1L232.2 569.0L233.2 568.9L234.2 568.8L235.2 568.8L236.2 568.7L237.2 568.6L238.2 568.6L239.2 568.6L240.2 568.6L241.2 568.6L242.2 568.6L243.2 568.7L244.2 568.8L245.2 568.8L246.2 568.9L247.2 569.0L248.2 569.1L249.2 569.2L250.2 569.3L251.2 569.4L252.2 569.5L253.2 569.6L254.2 569.6L255.2 569.7L256.2 569.8L257.2 569.9L258.2 569.9L259.2 570.0L260.2 570.0L261.2 570.0L262.2 570.0L263.2 570.0L264.2 570.0L265.2 570.0L266.2 570.0L267.2 570.0L268.2 570.0L269.2 570.0L270.2 570.1L271.2 570.1L272.2 570.1L273.2 570.2L274.2 570.2L275.2 570.3L276.2 570.4L277.2 570.6L278.2 570.8L279.2 571.0L280.2 571.3L281.2 571.5L282.2 571.8L283.2 572.0L284.2 572.2L285.2 572.4L286.2 572.5L287.2 572.6L288.2 572.7L289.2 572.8L290.2 572.8L291.2 572.9L292.2 572.9L293.2 572.9L294.2 573.0L295.2 573.0L296.2 573.0L297.2 573.0L298.2 573.0L299.2 573.0L300.2 573.0L301.2 573.0L302.2 573.0L303.2 573.0L304.2 573.0L305.2 572.9L306.2 572.9L307.2 572.9L308.2 572.9L309.2 572.9L310.2 572.9L311.2 572.8L312.2 572.8L313.2 572.8L314.2 572.7L315.2 572.7L316.2 572.6L317.2 572.6L318.2 572.4L319.2 572.3L320.2 572.1L321.2 572.0L322.2 571.8L323.2 571.7L324.2 571.6L325.2 571.5L326.2 571.4L327.2 571.4L328.2 571.5L329.2 571.6L330.2 571.7L331.2 571.8L332.2 571.9L333.2 572.0L334.2 572.2L335.2 572.3L336.2 572.5L337.2 572.6L338.2 572.7L339.2 572.9L340.2 573.0L341.2 573.1L342.2 573.2L343.2 573.3L344.2 573.4L345.2 573.5L346.2 573.6L347.2 573.7L348.2 573.7L349.2 573.8L350.2 573.9L351.2 574.0L352.2 574.1L353.2 574.2L354.2 574.2L355.2 574.3L356.2 574.3L357.2 574.4L358.2 574.4L359.2 574.4L360.2 574.4L361.2 574.4L362.2 574.4L363.2 574.4L364.2 574.4L365.2 574.4L366.2 574.4L367.2 574.4L368.2 574.4L369.2 574.4L370.2 574.4L371.2 574.4L372.2 574.4L373.2 574.3L374.2 574.3L375.2 574.3L376.2 574.3L377.2 574.3L378.2 574.3L379.2 574.2L380.2 574.2L381.2 574.2L382.2 574.2L383.2 574.1L384.2 574.1L385.2 574.1L386.2 574.1L387.2 574.1L388.2 574.1L389.2 574.0L390.2 574.0L391.2 574.0L392.2 574.0L393.2 574.0L394.2 574.0L395.2 574.0L396.2 574.0L397.2 574.0L398.2 574.0L399.2 574.0L400.2 574.0L401.2 574.0L402.2 574.0L403.2 574.0L404.2 574.0L405.2 574.1L406.2 574.1L407.2 574.1L408.2 574.1L409.2 574.1L410.2 574.1L411.2 574.1L412.2 574.1L413.2 574.1L414.2 574.2L415.2 574.2L416.2 574.2L417.2 574.2L418.2 574.2L419.2 574.2L420.2 574.2L421.2 574.2L422.2 574.2L423.2 574.2L424.2 574.3L425.2 574.3L426.2 574.3L427.2 574.3L428.2 574.3L429.2 574.3L430.2 574.3L431.2 574.3L432.2 574.3L433.2 574.3L434.2 574.4L435.2 574.4L436.2 574.4L437.2 574.4L438.2 574.4L439.2 574.4L440.2 574.4L441.2 574.4L442.2 574.4L443.2 574.4L444.2 574.4L445.2 574.4L446.2 574.4L447.2 574.4L448.2 574.4L449.2 574.4L450.2 574.4L451.2 574.4L452.2 574.4L453.2 574.4L454.2 574.4L455.2 574.4L456.2 574.4L457.2 574.4L458.2 574.4L459.2 574.4L460.2 574.4L461.2 574.4L462.2 574.4L463.2 574.4L464.2 574.4L465.2 574.4L466.2 574.4L467.2 574.4L468.2 574.4L469.2 574.4L470.2 574.4L471.2 574.4L472.2 574.4L473.2 574.4L474.2 574.4L475.2 574.4L476.2 574.3L477.2 574.3L478.2 574.3L479.2 574.3L480.2 574.3L481.2 574.3L482.2 574.3L483.2 574.2L484.2 574.2L485.2 574.2L486.2 574.1L487.2 574.1L488.2 574.0L489.2 574.0L490.2 573.9L491.2 573.8L492.2 573.8L493.2 573.7L494.2 573.6L495.2 573.6L496.2 573.5L497.2 573.4L498.2 573.3L499.2 573.3L499.8 573.2" stroke="#328c06"/>
<path d="M38.0 547.3L39.0 546.6L40.0 545.9L41.0 545.0L42.0 544.0L43.0 542.8L44.0 541.4L45.0 539.8L46.0 538.0L47.0 535.8L48.0 533.3L49.0 530.5L50.0 527.4L51.0 524.2L52.0 520.8L53.0 517.4L54.0 514.0L55.0 510.6L56.0 507.1L57.0 503.7L58.0 500.4L59.0 497.0L60.0 493.7L61.0 490.4L62.0 487.2L63.0 483.9L64.0 480.7L65.0 477.5L66.0 474.3L67.0 471.2L68.0 468.1L69.0 465.2L70.0 462.4L71.0 460.0L72.0 457.8L73.0 456.0L74.0 454.3L75.0 452.8L76.0 451.5L77.0 450.3L78.0 449.2L79.0 448.2L80.0 447.4L81.0 446.7L82.0 446.1L83.0 445.7L84.0 445.4L85.0 445.4L86.0 445.4L87.0 445.7L88.0 446.2L89.0 446.8L90.0 447.8L91.0 449.0L92.0 450.5L93.0 452.0L94.0 453.7L95.0 455.4L96.0 457.1L97.0 458.9L98.0 460.8L99.0 462.7L100.0 464.6L101.0 466.4L102.0 468.2L103.0 469.8L104.0 471.4L105.0 472.9L106.0 474.4L107.0 475.9L108.0 477.4L109.0 478.9L110.0 480.4L111.0 481.9L112.0 483.3L113.0 484.8L114.0 486.3L115.0 487.8L116.0 489.3L117.0 490.8L118.0 492.3L119.0 493.8L120.0 495.4L121.0 497.1L122.0 498.8L123.0 500.5L124.0 502.3L125.0 504.1L126.0 505.8L127.0 507.6L128.0 509.3L129.0 510.9L130.0 512.6L131.0 514.2L132.0 515.7L133.0 517.3L134.0 518.8L135.0 520.2L136.0 521.6L137.0 523.0L138.0 524.3L139.0 525.5L140.0 526.7L141.0 527.8L142.0 528.8L143.0 529.8L144.0 530.8L145.0 531.8L146.0 532.7L147.0 533.6L148.0 534.5L149.0 535.4L150.0 536.3L151.0 537.1L152.0 538.0L153.0 538.9L154.0 539.8L155.0 540.6L156.0 541.5L157.0 542.5L158.0 543.5L159.0 544.5L160.0 545.6L161.0 546.8L162.0 548.1L163.0 549.4L164.0 550.6L165.0 551.9L166.0 553.1L167.0 554.3L168.0 555.3L169.0 556.3L170.0 557.3L171.0 558.1L172.0 558.8L173.0 559.5L174.0 560.0L175.0 560.5L176.0 560.8L177.0 561.0L178.0 561.0L179.0 560.9L180.0 560.8L181.0 560.6L182.0 560.3L183.0 560.0L184.0 559.8L185.0 559.5L186.0 559.3L187.0 559.2L188.0 559.1L189.0 559.0L190.0 558.9L191.0 558.9L192.0 558.8L193.0 558.8L194.0 558.8L195.0 558.8L196.0 558.9L197.0 559.1L198.0 559.3L199.0 559.5L200.0 559.7L201.0 559.9L202.0 560.2L203.0 560.4L204.0 560.6L205.0 560.9L206.0 561.1L207.0 561.3L208.0 561.6L209.0 561.8L210.0 562.0L211.0 562.2L212.0 562.5L213.0 562.7L214.0 562.9L215.0 563.1L216.0 563.4L217.0 563.6L218.0 563.8L219.0 564.0L220.0 564.2L221.0 564.5L222.0 564.7L223.0 564.9L224.0 565.1L225.0 565.3L226.0 565.6L227.0 565.8L228.0 566.0L229.0 566.2L230.0 566.4L231.0 566.6L232.0 566.8L233.0 567.0L234.0 567.2L235.0 567.4L236.0 567.6L237.0 567.8L238.0 568.0L239.0 568.2L240.0 568.4L241.0 568.5L242.0 568.7L243.0 568.9L244.0 569.0L245.0 569.1L246.0 569.2L247.0 569.3L248.0 569.4L249.0 569.5L250.0 569.5L251.0 569.6L252.0 569.7L253.0 569.7L254.0 569.8L255.0 569.9L256.0 570.0L257.0 570.1L258.0 570.2L259.0 570.4L260.0 570.6L261.0 570.8L262.0 571.0L263.0 571.2L264.0 571.5L265.0 571.7L266.0 572.0L267.0 572.2L268.0 572.4L269.0 572.7L270.0 572.9L271.0 573.1L272.0 573.2L273.0 573.4L274.0 573.4L275.0 573.5L276.0 573.5L277.0 573.5L278.0 573.5L279.0 573.4L280.0 573.4L281.0 573.3L282.0 573.2L283.0 573.1L284.0 573.1L285.0 573.0L286.0 573.0L287.0 573.0L288.0 573.0L289.0 573.1L290.0 573.1L291.0 573.1L292.0 573.2L293.0 573.2L294.0 573.2L295.0 573.3L296.0 573.3L297.0 573.4L298.0 573.4L299.0 573.5L300.0 573.6L301.0 573.6L302.0 573.7L303.0 573.8L304.0 573.9L305.0 574.0L306.0 574.0L307.0 574.1L308.0 574.2L309.0 574.3L310.0 574.4L311.0 574.4L312.0 574.5L313.0 574.6L314.0 574.6L315.0 574.7L316.0 574.7L317.0 574.7L318.0 574.7L319.0 574.8L320.0 574.8L321.0 574.8L322.0 574.8L323.0 574.8L324.0 574.7L325.0 574.7L326.0 574.7L327.0 574.7L328.0 574.7L329.0 574.7L330.0 574.6L331.0 574.6L332.0 574.6L333.0 574.6L334.0 574.5L335.0 574.5L336.0 574.5L337.0 574.5L338.0 574.4L339.0 574.4L340.0 574.4L341.0 574.4L342.0 574.4L343.0 574.4L344.0 574.4L345.0 574.4L346.0 574.4L347.0 574.4L348.0 574.4L349.0 574.4L350.0 574.4L351.0 574.4L352.0 574.4L353.0 574.4L354.0 574.4L355.0 574.4L356.0 574.4L357.0 574.4L358.0 574.4L359.0 574.4L360.0 574.4L361.0 574.4L362.0 574.4L363.0 574.4L364.0 574.4L365.0 574.3L366.0 574.3L367.0 574.3L368.0 574.3L369.0 574.3L370.0 574.3L371.0 574.3L372.0 574.3L373.0 574.2L374.0 574.2L375.0 574.2L376.0 574.2L377.0 574.2L378.0 574.2L379.0 574.2L380.0 574.1L381.0 574.1L382.0 574.1L383.0 574.1L384.0 574.1L385.0 574.1L386.0 574.1L387.0 574.1L388.0 574.0L389.0 574.0L390.0 574.0L391.0 574.0L392.0 574.0L393.0 574.0L394.0 574.0L395.0 574.0L396.0 574.0L397.0 574.0L398.0 574.0L399.0 574.0L400.0 574.0L401.0 574.0L402.0 574.0L403.0 574.0L404.0 574.0L405.0 574.0L406.0 574.0L407.0 574.0L408.0 574.1L409.0 574.1L410.0 574.1L411.0 574.1L412.0 574.1L413.0 574.1L414.0 574.1L415.0 574.1L416.0 574.1L417.0 574.1L418.0 574.2L419.0 574.2L420.0 574.2L421.0 574.2L422.0 574.2L423.0 574.2L424.0 574.2L425.0 574.2L426.0 574.3L427.0 574.3L428.0 574.3L429.0 574.3L430.0 574.3L431.0 574.3L432.0 574.3L433.0 574.3L434.0 574.3L435.0 574.4L436.0 574.4L437.0 574.4L438.0 574.4L439.0 574.4L440.0 574.4L441.0 574.4L442.0 574.4L443.0 574.4L444.0 574.4L445.0 574.4L446.0 574.4L447.0 574.4L448.0 574.5L449.0 574.5L450.0 574.5L451.0 574.5L452.0 574.5L453.0 574.5L454.0 574.5L455.0 574.5L456.0 574.5L457.0 574.5L458.0 574.5L459.0 574.5L460.0 574.5L461.0 574.5L462.0 574.5L463.0 574.5L464.0 574.5L465.0 574.5L466.0 574.6L467.0 574.6L468.0 574.6L469.0 574.6L470.0 574.6L471.0 574.6L472.0 574.6L473.0 574.6L474.0 574.6L475.0 574.6L476.0 574.6L477.0 574.6L478.0 574.6L479.0 574.6L480.0 574.6L481.0 574.6L482.0 574.6L483.0 574.6L484.0 574.6L485.0 574.6L486.0 574.6L487.0 574.6L488.0 574.6L489.0 574.6L490.0 574.6L491.0 574.6L492.0 574.6L493.0 574.6L494.0 574.6L495.0 574.6L496.0 574.6L497.0 574.6L498.0 574.6L499.0 574.6L500.0 574.6L501.0 574.6L502.0 574.6L503.0 574.6L504.0 574.6L505.0 574.5L506.0 574.5L507.0 574.5L508.0 574.5L509.0 574.4L510.0 574.4L511.0 574.4L512.0 574.3L513.0 574.3L514.0 574.2L515.0 574.2L516.0 574.2L517.0 574.1L518.0 574.1L519.0 574.0L520.0 574.0L521.0 573.9L521.3 573.9" stroke="#c10c90"/>
</g>
<g clip-path="url(#cl3)" fill="none" stroke-width="1.5" stroke-linejoin="round" stroke-linecap="round">
<path d="M41.2 754.2L42.2 753.1L43.2 751.8L44.2 750.2L45.2 748.0L46.2 745.2L47.2 741.6L48.2 737.3L49.2 732.1L50.2 726.4L51.2 720.3L52.2 714.1L53.2 707.8L54.2 701.5L55.2 695.2L56.2 688.9L57.2 682.6L58.2 676.2L59.2 669.9L60.2 663.7L61.2 657.7L62.2 652.4L63.2 647.9L64.2 644.2L65.2 641.3L66.2 639.1L67.2 637.6L68.2 636.9L69.2 636.9L70.2 637.3L71.2 638.2L72.2 639.3L73.2 640.6L74.2 642.1L75.2 643.8L76.2 645.5L77.2 647.3L78.2 649.0L79.2 650.8L80.2 652.6L81.2 654.3L82.2 656.1L83.2 657.8L84.2 659.5L85.2 661.1L86.2 662.7L87.2 664.4L88.2 666.2L89.2 668.0L90.2 670.0L91.2 672.0L92.2 674.0L93.2 676.0L94.2 678.0L95.2 680.0L96.2 682.0L97.2 684.0L98.2 686.1L99.2 688.1L100.2 690.1L101.2 692.1L102.2 694.1L103.2 696.0L104.2 698.0L105.2 699.9L106.2 701.9L107.2 703.9L108.2 705.9L109.2 707.9L110.2 709.9L111.2 711.9L112.2 713.9L113.2 715.9L114.2 717.8L115.2 719.7L116.2 721.6L117.2 723.5L118.2 725.3L119.2 727.1L120.2 728.9L121.2 730.7L122.2 732.4L123.2 734.1L124.2 735.7L125.2 737.2L126.2 738.6L127.2 740.0L128.2 741.2L129.2 742.3L130.2 743.3L131.2 744.2L132.2 745.1L133.2 745.8L134.2 746.5L135.2 747.1L136.2 747.7L137.2 748.2L138.2 748.6L139.2 749.0L140.2 749.4L141.2 749.8L142.2 750.3L143.2 750.8L144.2 751.3L145.2 752.0L146.2 752.8L147.2 753.6L148.2 754.4L149.2 755.2L150.2 755.9L151.2 756.6L152.2 757.1L153.2 757.6L154.2 758.0L155.2 758.3L156.2 758.7L157.2 759.1L158.2 759.4L159.2 759.8L160.2 760.3L161.2 760.7L162.2 761.1L163.2 761.6L164.2 762.1L165.2 762.5L166.2 763.0L167.2 763.4L168.2 763.9L169.2 764.3L170.2 764.7L171.2 765.0L172.2 765.4L173.2 765.7L174.2 766.0L175.2 766.2L176.2 766.4L177.2 766.6L178.2 766.7L179.2 766.7L180.2 766.8L181.2 766.8L182.2 766.9L183.2 767.0L184.2 767.1L185.2 767.3L186.2 767.5L187.2 767.7L188.2 767.9L189.2 768.1L190.2 768.3L191.2 768.5L192.2 768.7L193.2 768.9L194.2 769.1L195.2 769.2L196.2 769.4L197.2 769.5L198.2 769.6L199.2 769.8L200.2 769.9L201.2 769.9L202.2 769.9L203.2 769.8L204.2 769.7L205.2 769.4L206.2 769.2L207.2 768.9L208.2 768.8L209.2 768.7L210.2 768.7L211.2 768.9L212.2 769.2L213.2 769.5L214.2 769.9L215.2 770.2L216.2 770.5L217.2 770.8L218.2 770.9L219.2 771.1L220.2 771.1L221.2 771.2L222.2 771.3L223.2 771.4L224.2 771.4L225.2 771.5L226.2 771.6L227.2 771.6L228.2 771.7L229.2 771.8L230.2 771.8L231.2 771.9L232.2 772.0L233.2 772.0L234.2 772.1L235.2 772.1L236.2 772.2L237.2 772.3L238.2 772.3L239.2 772.4L240.2 772.5L241.2 772.5L242.2 772.6L243.2 772.6L244.2 772.7L245.2 772.8L246.2 772.8L247.2 772.9L248.2 772.9L249.2 773.0L250.2 773.0L251.2 773.0L252.2 773.0L253.2 773.0L254.2 772.9L255.2 772.8L256.2 772.7L257.2 772.6L258.2 772.5L259.2 772.3L260.2 772.2L261.2 772.1L262.2 772.0L263.2 771.9L264.2 771.8L265.2 771.7L266.2 771.6L267.2 771.6L268.2 771.6L269.2 771.6L270.2 771.7L271.2 771.8L272.2 771.9L273.2 772.0L274.2 772.2L275.2 772.4L276.2 772.6L277.2 772.7L278.2 772.9L279.2 773.1L280.2 773.2L281.2 773.3L282.2 773.4L283.2 773.5L284.2 773.6L285.2 773.7L286.2 773.8L287.2 773.8L288.2 773.9L289.2 774.0L290.2 774.0L291.2 774.1L292.2 774.1L293.2 774.2L294.2 774.3L295.2 774.3L296.2 774.4L297.2 774.4L298.2 774.5L299.2 774.5L300.2 774.5L301.2 774.6L302.2 774.6L303.2 774.6L304.2 774.7L305.2 774.7L306.2 774.7L307.2 774.7L308.2 774.7L309.2 774.7L310.2 774.7L311.2 774.7L312.2 774.7L313.2 774.7L314.2 774.7L315.2 774.7L316.2 774.7L317.2 774.7L318.2 774.7L319.2 774.7L320.2 774.7L321.2 774.7L322.2 774.7L323.2 774.7L324.2 774.7L325.2 774.7L326.2 774.7L327.2 774.6L328.2 774.6L329.2 774.6L330.2 774.6L331.2 774.6L332.2 774.6L333.2 774.6L334.2 774.5L335.2 774.5L336.2 774.5L337.2 774.5L338.2 774.4L339.2 774.4L340.2 774.4L341.2 774.4L342.2 774.3L343.2 774.3L344.2 774.3L345.2 774.2L346.2 774.2L347.2 774.2L348.2 774.1L349.2 774.1L350.2 774.0L351.2 774.0L352.2 774.0L353.2 773.9L354.2 773.9L355.2 773.8L356.2 773.8L357.2 773.7L358.2 773.7L359.2 773.6L360.2 773.6L361.2 773.5L362.2 773.5L363.2 773.4L364.2 773.4L365.0 773.3" stroke="#2a2eec"/>
<path d="M37.2 762.7L38.2 762.5L39.2 762.2L40.2 761.7L41.2 761.1L42.2 760.1L43.2 758.8L44.2 757.2L45.2 755.2L46.2 752.7L47.2 749.6L48.2 746.0L49.2 741.9L50.2 737.4L51.2 732.6L52.2 727.6L53.2 722.7L54.2 717.7L55.2 712.8L56.2 707.9L57.2 703.1L58.2 698.3L59.2 693.6L60.2 689.2L61.2 685.1L62.2 681.7L63.2 678.9L64.2 676.5L65.2 674.3L66.2 672.2L67.2 670.2L68.2 668.3L69.2 666.6L70.2 665.0L71.2 663.7L72.2 662.5L73.2 661.4L74.2 660.5L75.2 659.8L76.2 659.3L77.2 659.1L78.2 659.2L79.2 659.6L80.2 660.1L81.2 660.9L82.2 661.8L83.2 662.8L84.2 663.9L85.2 665.0L86.2 666.1L87.2 667.3L88.2 668.5L89.2 669.8L90.2 671.1L91.2 672.4L92.2 673.8L93.2 675.1L94.2 676.5L95.2 677.9L96.2 679.3L97.2 680.7L98.2 682.2L99.2 683.8L100.2 685.4L101.2 687.3L102.2 689.5L103.2 691.9L104.2 694.4L105.2 696.7L106.2 698.9L107.2 700.9L108.2 702.8L109.2 704.5L110.2 706.2L111.2 707.8L112.2 709.2L113.2 710.4L114.2 711.6L115.2 712.7L116.2 713.8L117.2 714.9L118.2 716.0L119.2 717.2L120.2 718.4L121.2 719.6L122.2 720.9L123.2 722.1L124.2 723.4L125.2 724.7L126.2 725.9L127.2 727.2L128.2 728.5L129.2 729.8L130.2 731.2L131.2 732.5L132.2 733.9L133.2 735.2L134.2 736.4L135.2 737.4L136.2 738.3L137.2 739.1L138.2 739.9L139.2 740.6L140.2 741.4L141.2 742.1L142.2 742.9L143.2 743.6L144.2 744.4L145.2 745.1L146.2 745.9L147.2 746.6L148.2 747.4L149.2 748.1L150.2 748.9L151.2 749.6L152.2 750.3L153.2 751.0L154.2 751.7L155.2 752.3L156.2 753.0L157.2 753.6L158.2 754.2L159.2 754.8L160.2 755.4L161.2 756.1L162.2 756.8L163.2 757.4L164.2 758.0L165.2 758.6L166.2 759.0L167.2 759.3L168.2 759.5L169.2 759.6L170.2 759.7L171.2 759.8L172.2 759.8L173.2 759.9L174.2 760.0L175.2 760.1L176.2 760.1L177.2 760.2L178.2 760.3L179.2 760.4L180.2 760.4L181.2 760.5L182.2 760.6L183.2 760.7L184.2 760.9L185.2 761.1L186.2 761.5L187.2 761.9L188.2 762.4L189.2 762.9L190.2 763.4L191.2 763.8L192.2 764.2L193.2 764.6L194.2 764.9L195.2 765.3L196.2 765.6L197.2 766.0L198.2 766.3L199.2 766.7L200.2 767.0L201.2 767.4L202.2 767.7L203.2 768.1L204.2 768.5L205.2 768.9L206.2 769.3L207.2 769.7L208.2 770.0L209.2 770.3L210.2 770.5L211.2 770.7L212.2 770.8L213.2 770.9L214.2 771.0L215.2 771.1L216.2 771.1L217.2 771.2L218.2 771.2L219.2 771.3L220.2 771.3L221.2 771.4L222.2 771.5L223.2 771.6L224.2 771.6L225.2 771.7L226.2 771.8L227.2 771.8L228.2 771.9L229.2 772.0L230.2 772.0L231.2 772.1L232.2 772.2L233.2 772.2L234.2 772.3L235.2 772.3L236.2 772.4L237.2 772.4L238.2 772.5L239.2 772.5L240.2 772.6L241.2 772.6L242.2 772.7L243.2 772.7L244.2 772.8L245.2 772.8L246.2 772.9L247.2 772.9L248.2 772.9L249.2 773.0L250.2 773.0L251.2 773.1L252.2 773.1L253.2 773.1L254.2 773.2L255.2 773.2L256.2 773.2L257.2 773.2L258.2 773.3L259.2 773.3L260.2 773.3L261.2 773.3L262.2 773.4L263.2 773.4L264.2 773.4L265.2 773.4L266.2 773.4L267.2 773.5L268.2 773.5L269.2 773.5L270.2 773.5L271.2 773.5L272.2 773.5L273.2 773.5L274.2 773.5L275.2 773.5L276.2 773.5L277.2 773.5L278.2 773.5L279.2 773.5L280.2 773.5L281.2 773.5L282.2 773.5L283.2 773.5L284.2 773.5L285.2 773.6L286.2 773.6L287.2 773.7L288.2 773.7L289.2 773.8L290.2 773.8L291.2 773.9L292.2 773.9L293.2 774.0L294.2 774.1L295.2 774.1L296.2 774.2L297.2 774.3L298.2 774.3L299.2 774.4L300.2 774.4L301.2 774.5L302.2 774.5L303.2 774.6L304.2 774.6L305.2 774.7L306.2 774.7L307.2 774.7L308.2 774.7L309.2 774.7L310.2 774.7L311.2 774.7L312.2 774.7L313.2 774.7L314.2 774.7L315.2 774.7L316.2 774.7L317.2 774.7L318.2 774.7L319.2 774.7L320.2 774.7L321.2 774.7L322.2 774.7L323.2 774.7L324.2 774.7L325.2 774.7L326.2 774.7L327.2 774.7L328.2 774.7L329.2 774.7L330.2 774.7L331.2 774.6L332.2 774.6L333.2 774.6L334.2 774.6L335.2 774.6L336.2 774.6L337.2 774.6L338.2 774.6L339.2 774.5L340.2 774.5L341.2 774.5L342.2 774.5L343.2 774.5L344.2 774.5L345.2 774.5L346.2 774.5L347.2 774.5L348.2 774.4L349.2 774.4L350.2 774.4L351.2 774.4L352.2 774.4L353.2 774.4L354.2 774.4L355.2 774.4L356.2 774.4L357.2 774.4L358.2 774.4L359.2 774.4L360.2 774.4L361.2 774.4L362.2 774.4L363.2 774.4L364.2 774.4L365.2 774.4L366.2 774.4L367.2 774.4L368.2 774.4L369.2 774.5L370.2 774.5L371.2 774.5L372.2 774.5L373.2 774.6L374.2 774.6L375.2 774.6L376.2 774.6L377.2 774.6L378.2 774.7L379.2 774.7L380.2 774.7L381.2 774.7L382.2 774.7L383.2 774.7L384.2 774.7L385.2 774.6L386.2 774.6L387.2 774.6L388.2 774.5L389.2 774.5L390.2 774.4L391.2 774.4L392.2 774.3L393.2 774.3L394.2 774.3L395.2 774.2L396.2 774.2L397.2 774.2L398.2 774.2L399.2 774.2L400.2 774.2L401.2 774.2L402.2 774.2L403.2 774.2L404.2 774.2L405.2 774.3L406.2 774.3L407.2 774.3L408.2 774.3L409.2 774.3L410.2 774.3L411.2 774.3L412.2 774.4L413.2 774.4L414.2 774.4L415.2 774.4L416.2 774.4L417.2 774.4L418.2 774.4L419.2 774.5L420.2 774.5L421.2 774.5L422.2 774.5L423.2 774.5L424.2 774.5L425.2 774.5L426.2 774.6L427.2 774.6L428.2 774.6L429.2 774.6L430.2 774.6L431.2 774.6L432.2 774.6L433.2 774.6L434.2 774.6L435.2 774.6L436.2 774.6L437.2 774.6L438.2 774.6L439.2 774.6L440.2 774.6L441.2 774.6L442.2 774.6L443.2 774.6L444.2 774.6L445.2 774.6L446.2 774.6L447.2 774.7L448.2 774.7L449.2 774.7L450.2 774.7L451.2 774.7L452.2 774.7L453.2 774.7L454.2 774.7L455.2 774.7L456.2 774.7L457.2 774.7L458.2 774.7L459.2 774.7L460.2 774.7L461.2 774.7L462.2 774.7L463.2 774.7L464.2 774.7L465.2 774.7L466.2 774.7L467.2 774.7L468.2 774.7L469.2 774.7L470.2 774.7L471.2 774.7L472.2 774.7L473.2 774.7L474.2 774.7L475.2 774.7L476.2 774.7L477.2 774.7L478.2 774.7L479.2 774.7L480.2 774.7L481.2 774.7L482.2 774.7L483.2 774.7L484.2 774.7L485.2 774.7L486.2 774.7L487.2 774.7L488.2 774.7L489.2 774.7L490.2 774.7L491.2 774.7L492.2 774.7L493.2 774.7L494.2 774.7L495.2 774.7L496.2 774.7L497.2 774.7L498.2 774.7L499.2 774.7L500.2 774.7L501.2 774.7L502.2 774.7L503.2 774.6L504.2 774.6L505.2 774.6L506.2 774.6L507.2 774.6L508.2 774.6L509.2 774.6L510.2 774.6L511.2 774.6L512.2 774.5L513.2 774.5L514.2 774.5L515.2 774.5L516.2 774.5L517.2 774.5L518.2 774.4L519.2 774.4L520.2 774.4L521.2 774.4L522.2 774.3L523.2 774.3L524.2 774.3L525.2 774.2L526.2 774.1L527.2 774.1L528.2 774.0L529.2 774.0L530.2 773.9L531.2 773.8L532.2 773.7L533.2 773.6L534.2 773.6L535.2 773.5L536.2 773.4L537.2 773.3L538.1 773.2" stroke="#fa7c17"/>
<path d="M40.6 761.1L41.6 760.3L42.6 759.3L43.6 758.0L44.6 756.4L45.6 754.5L46.6 752.4L47.6 750.0L48.6 747.4L49.6 744.4L50.6 741.2L51.6 737.6L52.6 733.5L53.6 728.9L54.6 723.7L55.6 717.9L56.6 711.5L57.6 704.5L58.6 697.4L59.6 690.2L60.6 683.3L61.6 676.8L62.6 670.7L63.6 665.0L64.6 660.0L65.6 655.5L66.6 651.8L67.6 648.7L68.6 646.3L69.6 644.3L70.6 642.6L71.6 641.3L72.6 640.3L73.6 639.7L74.6 639.4L75.6 639.4L76.6 639.8L77.6 640.7L78.6 641.9L79.6 643.4L80.6 644.9L81.6 646.5L82.6 648.1L83.6 649.6L84.6 651.1L85.6 652.6L86.6 654.1L87.6 655.6L88.6 657.1L89.6 658.6L90.6 660.1L91.6 661.8L92.6 663.4L93.6 665.2L94.6 667.1L95.6 669.2L96.6 671.3L97.6 673.6L98.6 676.0L99.6 678.5L100.6 681.0L101.6 683.5L102.6 686.1L103.6 688.6L104.6 691.2L105.6 693.7L106.6 696.3L107.6 698.9L108.6 701.5L109.6 704.1L110.6 706.6L111.6 709.2L112.6 711.8L113.6 714.4L114.6 716.9L115.6 719.4L116.6 721.8L117.6 724.2L118.6 726.4L119.6 728.5L120.6 730.5L121.6 732.1L122.6 733.5L123.6 734.5L124.6 735.4L125.6 736.1L126.6 736.6L127.6 737.1L128.6 737.5L129.6 737.9L130.6 738.3L131.6 738.6L132.6 739.0L133.6 739.3L134.6 739.7L135.6 740.2L136.6 740.6L137.6 741.2L138.6 741.7L139.6 742.3L140.6 742.9L141.6 743.6L142.6 744.2L143.6 745.0L144.6 745.9L145.6 746.9L146.6 748.1L147.6 749.4L148.6 750.7L149.6 751.9L150.6 752.9L151.6 753.8L152.6 754.4L153.6 755.0L154.6 755.5L155.6 756.0L156.6 756.5L157.6 757.0L158.6 757.5L159.6 758.0L160.6 758.5L161.6 759.0L162.6 759.5L163.6 760.0L164.6 760.5L165.6 761.0L166.6 761.5L167.6 762.0L168.6 762.5L169.6 763.0L170.6 763.5L171.6 764.0L172.6 764.5L173.6 765.0L174.6 765.5L175.6 765.9L176.6 766.2L177.6 766.5L178.6 766.6L179.6 766.7L180.6 766.7L181.6 766.8L182.6 766.9L183.6 767.1L184.6 767.3L185.6 767.6L186.6 767.9L187.6 768.2L188.6 768.5L189.6 768.9L190.6 769.1L191.6 769.4L192.6 769.6L193.6 769.9L194.6 770.1L195.6 770.3L196.6 770.5L197.6 770.6L198.6 770.7L199.6 770.9L200.6 770.9L201.6 771.0L202.6 771.0L203.6 770.9L204.6 770.8L205.6 770.7L206.6 770.7L207.6 770.6L208.6 770.5L209.6 770.5L210.6 770.5L211.6 770.6L212.6 770.6L213.6 770.7L214.6 770.8L215.6 770.8L216.6 770.9L217.6 771.0L218.6 771.0L219.6 771.1L220.6 771.2L221.6 771.3L222.6 771.4L223.6 771.5L224.6 771.6L225.6 771.7L226.6 771.8L227.6 771.8L228.6 771.9L229.6 772.0L230.6 772.1L231.6 772.1L232.6 772.2L233.6 772.2L234.6 772.3L235.6 772.4L236.6 772.4L237.6 772.5L238.6 772.5L239.6 772.6L240.6 772.6L241.6 772.7L242.6 772.7L243.6 772.8L244.6 772.8L245.6 772.9L246.6 772.9L247.6 772.9L248.6 773.0L249.6 773.0L250.6 773.0L251.6 773.1L252.6 773.1L253.6 773.1L254.6 773.2L255.6 773.2L256.6 773.2L257.6 773.2L258.6 773.3L259.6 773.3L260.6 773.3L261.6 773.3L262.6 773.4L263.6 773.4L264.6 773.4L265.6 773.4L266.6 773.5L267.6 773.5L268.6 773.5L269.6 773.5L270.6 773.5L271.6 773.5L272.6 773.5L273.6 773.5L274.6 773.5L275.6 773.5L276.6 773.5L277.6 773.5L278.6 773.5L279.6 773.5L280.6 773.5L281.6 773.5L282.6 773.5L283.6 773.5L284.6 773.5L285.6 773.6L286.6 773.6L287.6 773.7L288.6 773.7L289.6 773.7L290.6 773.8L291.6 773.9L292.6 773.9L293.6 774.0L294.6 774.0L295.6 774.1L296.6 774.2L297.6 774.2L298.6 774.3L299.6 774.4L300.6 774.4L301.6 774.5L302.6 774.5L303.6 774.6L304.6 774.6L305.6 774.6L306.6 774.7L307.6 774.7L308.6 774.7L309.6 774.7L310.6 774.8L311.6 774.8L312.6 774.8L313.6 774.8L314.6 774.8L315.6 774.8L316.6 774.8L317.6 774.7L318.6 774.7L319.6 774.7L320.6 774.7L321.6 774.7L322.6 774.6L323.6 774.6L324.6 774.6L325.6 774.6L326.6 774.5L327.6 774.5L328.6 774.5L329.6 774.4L330.6 774.4L331.6 774.3L332.6 774.3L333.6 774.3L334.6 774.2L335.6 774.2L336.6 774.1L337.6 774.1L338.6 774.1L339.6 774.0L340.6 774.0L341.6 773.9L342.6 773.9L343.6 773.9L344.6 773.8L345.6 773.8L346.6 773.7L347.6 773.7L348.6 773.7L349.6 773.6L350.6 773.6L351.6 773.6L352.6 773.6L353.6 773.5L354.6 773.5L355.6 773.5L356.6 773.5L357.6 773.5L358.6 773.5L359.6 773.5L360.6 773.5L361.6 773.5L362.6 773.5L363.6 773.5L364.6 773.5L365.6 773.5L366.6 773.6L367.6 773.6L368.6 773.7L369.6 773.8L370.6 773.9L371.6 774.0L372.6 774.1L373.6 774.2L374.6 774.3L375.6 774.4L376.6 774.5L377.6 774.5L378.6 774.6L379.6 774.6L380.6 774.7L381.6 774.7L382.6 774.7L383.6 774.7L384.6 774.7L385.6 774.6L386.6 774.6L387.6 774.6L388.6 774.5L389.6 774.5L390.6 774.4L391.6 774.4L392.6 774.4L393.6 774.3L394.6 774.3L395.6 774.3L396.6 774.2L397.6 774.2L398.6 774.2L399.6 774.2L400.6 774.2L401.6 774.2L402.6 774.2L403.6 774.2L404.6 774.2L405.6 774.2L406.6 774.2L407.6 774.2L408.6 774.2L409.6 774.2L410.6 774.2L411.6 774.2L412.6 774.2L413.6 774.3L414.6 774.3L415.6 774.3L416.6 774.2L417.6 774.2L418.6 774.2L419.6 774.2L420.6 774.2L421.6 774.1L422.6 774.1L423.6 774.0L424.6 773.9L425.6 773.9L426.6 773.8L427.6 773.7L428.6 773.6L429.6 773.4L430.6 773.3L431.6 773.2L432.6 773.1L432.9 773.0" stroke="#328c06"/>
<path d="M44.5 741.4L45.5 742.0L46.5 742.0L47.5 741.1L48.5 739.3L49.5 736.6L50.5 733.3L51.5 729.6L52.5 725.5L53.5 721.0L54.5 716.2L55.5 711.0L56.5 705.5L57.5 699.9L58.5 694.1L59.5 688.4L60.5 682.8L61.5 677.5L62.5 672.3L63.5 667.5L64.5 662.9L65.5 658.6L66.5 654.9L67.5 651.6L68.5 648.7L69.5 646.4L70.5 644.4L71.5 642.9L72.5 641.7L73.5 641.0L74.5 640.6L75.5 640.6L76.5 640.9L77.5 641.6L78.5 642.5L79.5 643.7L80.5 645.2L81.5 646.9L82.5 648.8L83.5 651.0L84.5 653.4L85.5 655.9L86.5 658.4L87.5 660.9L88.5 663.4L89.5 665.8L90.5 668.2L91.5 670.6L92.5 673.0L93.5 675.3L94.5 677.6L95.5 679.7L96.5 681.8L97.5 683.8L98.5 685.7L99.5 687.7L100.5 689.7L101.5 691.8L102.5 694.0L103.5 696.1L104.5 698.3L105.5 700.5L106.5 702.6L107.5 704.7L108.5 706.7L109.5 708.7L110.5 710.7L111.5 712.6L112.5 714.5L113.5 716.2L114.5 717.9L115.5 719.6L116.5 721.2L117.5 722.8L118.5 724.4L119.5 726.0L120.5 727.6L121.5 729.2L122.5 730.9L123.5 732.5L124.5 734.0L125.5 735.6L126.5 737.0L127.5 738.3L128.5 739.4L129.5 740.3L130.5 741.0L131.5 741.5L132.5 741.8L133.5 742.0L134.5 742.2L135.5 742.3L136.5 742.4L137.5 742.5L138.5 742.6L139.5 742.6L140.5 742.6L141.5 742.7L142.5 742.9L143.5 743.2L144.5 743.6L145.5 744.1L146.5 744.6L147.5 745.2L148.5 745.9L149.5 746.6L150.5 747.2L151.5 748.0L152.5 748.7L153.5 749.4L154.5 750.2L155.5 750.9L156.5 751.7L157.5 752.4L158.5 753.2L159.5 753.9L160.5 754.6L161.5 755.3L162.5 755.9L163.5 756.5L164.5 757.1L165.5 757.6L166.5 758.1L167.5 758.5L168.5 758.7L169.5 758.7L170.5 758.6L171.5 758.3L172.5 758.0L173.5 757.8L174.5 757.7L175.5 757.8L176.5 758.0L177.5 758.4L178.5 758.8L179.5 759.2L180.5 759.6L181.5 760.1L182.5 760.6L183.5 761.1L184.5 761.6L185.5 762.2L186.5 762.8L187.5 763.4L188.5 764.0L189.5 764.5L190.5 765.0L191.5 765.3L192.5 765.7L193.5 766.0L194.5 766.2L195.5 766.5L196.5 766.8L197.5 767.0L198.5 767.3L199.5 767.5L200.5 767.8L201.5 768.1L202.5 768.3L203.5 768.6L204.5 768.8L205.5 769.1L206.5 769.3L207.5 769.6L208.5 769.8L209.5 770.1L210.5 770.4L211.5 770.7L212.5 771.1L213.5 771.4L214.5 771.8L215.5 772.2L216.5 772.5L217.5 772.8L218.5 773.0L219.5 773.1L220.5 773.1L221.5 773.0L222.5 772.8L223.5 772.6L224.5 772.4L225.5 772.1L226.5 771.9L227.5 771.8L228.5 771.7L229.5 771.6L230.5 771.7L231.5 771.7L232.5 771.8L233.5 771.9L234.5 771.9L235.5 772.0L236.5 772.1L237.5 772.2L238.5 772.3L239.5 772.3L240.5 772.4L241.5 772.5L242.5 772.6L243.5 772.7L244.5 772.7L245.5 772.8L246.5 772.9L247.5 772.9L248.5 773.0L249.5 773.0L250.5 773.0L251.5 773.1L252.5 773.1L253.5 773.1L254.5 773.2L255.5 773.2L256.5 773.2L257.5 773.2L258.5 773.3L259.5 773.3L260.5 773.3L261.5 773.3L262.5 773.4L263.5 773.4L264.5 773.4L265.5 773.4L266.5 773.5L267.5 773.5L268.5 773.5L269.5 773.5L270.5 773.5L271.5 773.5L272.5 773.5L273.5 773.5L274.5 773.5L275.5 773.5L276.5 773.5L277.5 773.5L278.5 773.5L279.5 773.5L280.5 773.5L281.5 773.5L282.5 773.5L283.5 773.5L284.5 773.5L285.5 773.6L286.5 773.6L287.5 773.7L288.5 773.7L289.5 773.8L290.5 773.8L291.5 773.9L292.5 774.0L293.5 774.0L294.5 774.1L295.5 774.1L296.5 774.2L297.5 774.3L298.5 774.3L299.5 774.4L300.5 774.5L301.5 774.5L302.5 774.6L303.5 774.6L304.5 774.6L305.5 774.7L306.5 774.7L307.5 774.7L308.5 774.7L309.5 774.7L310.5 774.7L311.5 774.7L312.5 774.7L313.5 774.7L314.5 774.8L315.5 774.8L316.5 774.8L317.5 774.8L318.5 774.8L319.5 774.7L320.5 774.7L321.5 774.7L322.5 774.7L323.5 774.7L324.5 774.7L325.5 774.7L326.5 774.7L327.5 774.7L328.5 774.7L329.5 774.7L330.5 774.7L331.5 774.7L332.5 774.7L333.5 774.6L334.5 774.6L335.5 774.6L336.5 774.6L337.5 774.6L338.5 774.6L339.5 774.6L340.5 774.6L341.5 774.5L342.5 774.5L343.5 774.5L344.5 774.5L345.5 774.5L346.5 774.5L347.5 774.5L348.5 774.5L349.5 774.5L350.5 774.5L351.5 774.4L352.5 774.4L353.5 774.4L354.5 774.4L355.5 774.4L356.5 774.4L357.5 774.4L358.5 774.4L359.5 774.4L360.5 774.4L361.5 774.4L362.5 774.4L363.5 774.4L364.5 774.4L365.5 774.4L366.5 774.4L367.5 774.4L368.5 774.5L369.5 774.5L370.5 774.5L371.5 774.5L372.5 774.6L373.5 774.6L374.5 774.6L375.5 774.7L376.5 774.7L377.5 774.7L378.5 774.7L379.5 774.7L380.5 774.7L381.5 774.7L382.5 774.7L383.5 774.6L384.5 774.6L385.5 774.5L386.5 774.5L387.5 774.4L388.5 774.3L389.5 774.3L390.5 774.2L391.5 774.1L392.5 774.0L393.5 773.9L394.5 773.8L395.5 773.7L396.5 773.6L397.5 773.6L398.5 773.5L399.5 773.4L400.5 773.3L401.5 773.1L402.5 773.0L403.5 772.9L404.5 772.9L405.5 772.8L406.5 772.8L407.5 772.8L408.5 772.9L409.5 773.0L410.5 773.1L411.5 773.2L412.5 773.4L413.5 773.5L414.5 773.7L415.5 773.8L416.5 773.9L417.5 774.0L418.5 774.1L419.5 774.2L420.5 774.2L421.5 774.2L422.5 774.2L423.5 774.2L424.5 774.3L425.5 774.3L426.5 774.3L427.5 774.3L428.5 774.3L429.5 774.3L430.5 774.3L431.5 774.3L432.5 774.3L433.5 774.4L434.5 774.4L435.5 774.4L436.5 774.4L437.5 774.4L438.5 774.4L439.5 774.4L440.5 774.4L441.5 774.4L442.5 774.4L443.5 774.5L444.5 774.5L445.5 774.5L446.5 774.5L447.5 774.5L448.5 774.5L449.5 774.5L450.5 774.5L451.5 774.5L452.5 774.5L453.5 774.5L454.5 774.5L455.5 774.6L456.5 774.6L457.5 774.6L458.5 774.6L459.5 774.6L460.5 774.6L461.5 774.6L462.5 774.6L463.5 774.6L464.5 774.6L465.5 774.6L466.5 774.6L467.5 774.6L468.5 774.6L469.5 774.6L470.5 774.7L471.5 774.7L472.5 774.7L473.5 774.7L474.5 774.7L475.5 774.7L476.5 774.7L477.5 774.7L478.5 774.7L479.5 774.7L480.5 774.7L481.5 774.7L482.5 774.7L483.5 774.7L484.5 774.7L485.5 774.7L486.5 774.7L487.5 774.7L488.5 774.7L489.5 774.7L490.5 774.7L491.5 774.7L492.5 774.7L493.5 774.7L494.5 774.7L495.5 774.7L496.5 774.7L497.5 774.7L498.5 774.7L499.5 774.7L500.5 774.7L501.5 774.7L502.5 774.7L503.5 774.7L504.5 774.7L505.5 774.7L506.5 774.7L507.5 774.7L508.5 774.7L509.5 774.7L510.5 774.7L511.5 774.7L512.5 774.7L513.5 774.7L514.5 774.7L515.5 774.7L516.5 774.7L517.5 774.7L518.5 774.7L519.5 774.7L520.5 774.7L521.5 774.7L522.5 774.6L523.5 774.6L524.5 774.6L525.5 774.6L526.5 774.6L527.5 774.6L528.5 774.6L529.5 774.6L530.5 774.6L531.5 774.6L532.5 774.6L533.5 774.6L534.5 774.6L535.5 774.6L536.5 774.5L537.5 774.5L538.5 774.5L539.5 774.5L540.5 774.5L541.5 774.5L542.5 774.5L543.5 774.4L544.5 774.4L545.5 774.4L546.5 774.3L547.5 774.3L548.5 774.2L549.5 774.2L550.5 774.2L551.5 774.1L552.5 774.1L553.5 774.0L554.5 773.9L555.5 773.9L556.5 773.8L557.5 773.8L558.5 773.7L559.5 773.6L560.5 773.6L561.4 773.5" stroke="#c10c90"/>
</g>
<g clip-path="url(#cr0)" fill="none" stroke-width="1.5" stroke-opacity="0.35" stroke-linejoin="round" stroke-linecap="round">
<path d="M626.3 133.2L626.9 65.7L627.5 152.7L628.0 117.9L628.6 114.5L629.2 123.5L629.8 133.8L630.3 106.3L630.9 106.4L631.5 139.4L632.1 83.2L632.6 94.0L633.2 120.8L633.8 100.6L634.4 117.6L634.9 114.3L635.5 101.2L636.1 128.9L636.7 106.7L637.2 91.4L637.8 90.2L638.4 113.6L639.0 99.5L639.6 144.4L640.1 118.1L640.7 106.8L641.3 131.0L641.9 116.6L642.4 88.3L643.0 75.5L643.6 95.0L644.2 89.7L644.7 124.2L645.3 131.6L645.9 135.7L646.5 105.7L647.0 100.9L647.6 124.7L648.2 131.3L648.8 111.7L649.4 107.9L649.9 114.5L650.5 94.3L651.1 111.2L651.7 113.4L652.2 128.6L652.8 113.1L653.4 93.1L654.0 108.8L654.5 111.0L655.1 102.2L655.7 107.5L656.3 104.0L656.8 98.3L657.4 102.1L658.0 122.5L658.6 109.7L659.1 135.1L659.7 112.2L660.3 130.6L660.9 116.4L661.5 106.2L662.0 117.7L662.6 112.0L663.2 146.6L663.8 137.2L664.3 100.6L664.9 128.0L665.5 105.4L666.1 141.4L666.6 128.4L667.2 130.6L667.8 115.3L668.4 105.1L668.9 126.8L669.5 117.4L670.1 89.8L670.7 113.8L671.2 124.5L671.8 108.8L672.4 115.3L673.0 123.1L673.6 139.6L674.1 104.8L674.7 119.7L675.3 114.3L675.9 128.0L676.4 95.9L677.0 99.1L677.6 96.2L678.2 111.8L678.7 105.6L679.3 98.5L679.9 95.5L680.5 105.4L681.0 112.5L681.6 120.7L682.2 124.1L682.8 136.8L683.4 108.1L683.9 115.7L684.5 141.1L685.1 119.2L685.7 98.0L686.2 114.4L686.8 139.2L687.4 118.5L688.0 101.9L688.5 108.0L689.1 121.2L689.7 86.8L690.3 82.0L690.8 109.3L691.4 93.3L692.0 104.9L692.6 100.0L693.1 89.7L693.7 97.1L694.3 109.0L694.9 121.5L695.5 125.5L696.0 115.0L696.6 87.1L697.2 105.7L697.8 110.8L698.3 106.3L698.9 110.9L699.5 104.4L700.1 135.8L700.6 142.3L701.2 129.2L701.8 130.6L702.4 91.9L702.9 111.8L703.5 116.2L704.1 135.1L704.7 111.9L705.2 121.5L705.8 97.5L706.4 98.0L707.0 121.6L707.6 108.0L708.1 147.7L708.7 128.0L709.3 96.7L709.9 91.0L710.4 107.9L711.0 112.3L711.6 132.9L712.2 135.1L712.7 56.1L713.3 87.2L713.9 139.6L714.5 104.7L715.0 103.0L715.6 97.2L716.2 122.8L716.8 121.8L717.4 113.7L717.9 127.4L718.5 142.7L719.1 128.2L719.7 116.0L720.2 107.6L720.8 112.2L721.4 111.4L722.0 122.3L722.5 124.4L723.1 90.0L723.7 111.2L724.3 113.6L724.8 99.0L725.4 92.6L726.0 91.1L726.6 98.2L727.1 112.0L727.7 108.3L728.3 107.5L728.9 91.8L729.5 105.1L730.0 102.1L730.6 111.5L731.2 82.1L731.8 138.8L732.3 110.2L732.9 101.3L733.5 135.9L734.1 84.1L734.6 110.4L735.2 114.6L735.8 128.3L736.4 96.3L736.9 107.7L737.5 120.4L738.1 110.5L738.7 102.2L739.3 93.4L739.8 106.5L740.4 125.5L741.0 122.5L741.6 145.3L742.1 136.9L742.7 104.2L743.3 104.5L743.9 113.0L744.4 117.6L745.0 90.4L745.6 105.1L746.2 98.1L746.7 100.1L747.3 121.1L747.9 91.3L748.5 135.3L749.0 131.9L749.6 121.7L750.2 124.4L750.8 122.4L751.4 122.7L751.9 99.6L752.5 109.9L753.1 107.0L753.7 145.1L754.2 128.0L754.8 99.0L755.4 127.8L756.0 89.6L756.5 125.2L757.1 110.2L757.7 130.9L758.3 111.5L758.8 125.3L759.4 118.3L760.0 89.2L760.6 114.6L761.1 83.8L761.7 114.9L762.3 129.7L762.9 114.1L763.5 118.8L764.0 88.1L764.6 87.5L765.2 93.0L765.8 100.3L766.3 77.7L766.9 95.3L767.5 96.4L768.1 128.7L768.6 127.2L769.2 111.9L769.8 97.9L770.4 94.1L770.9 123.4L771.5 106.5L772.1 106.7L772.7 128.0L773.3 107.5L773.8 143.3L774.4 113.6L775.0 78.9L775.6 122.0L776.1 113.8L776.7 149.8L777.3 127.5L777.9 103.8L778.4 126.2L779.0 115.2L779.6 121.2L780.2 122.4L780.7 109.7L781.3 105.2L781.9 93.6L782.5 97.5L783.0 118.6L783.6 92.9L784.2 91.5L784.8 141.9L785.4 105.8L785.9 99.4L786.5 96.5L787.1 102.1L787.7 129.6L788.2 119.1L788.8 151.4L789.4 119.5L790.0 155.7L790.5 98.3L791.1 98.2L791.7 117.9L792.3 127.9L792.8 139.8L793.4 113.5L794.0 124.2L794.6 123.5L795.1 97.5L795.7 133.9L796.3 134.6L796.9 123.2L797.5 115.7L798.0 115.0L798.6 143.3L799.2 113.1L799.8 114.5L800.3 107.7L800.9 127.4L801.5 111.3L802.1 109.2L802.6 126.6L803.2 117.1L803.8 121.3L804.4 94.1L804.9 149.5L805.5 139.4L806.1 150.5L806.7 127.7L807.3 123.8L807.8 120.2L808.4 103.2L809.0 134.6L809.6 128.0L810.1 118.2L810.7 140.4L811.3 110.0L811.9 107.4L812.4 122.0L813.0 139.1L813.6 93.4L814.2 102.7L814.7 100.6L815.3 110.4L815.9 112.4L816.5 93.6L817.0 111.0L817.6 121.5L818.2 103.5L818.8 110.4L819.4 123.4L819.9 127.2L820.5 97.7L821.1 101.1L821.7 82.9L822.2 115.7L822.8 123.7L823.4 108.4L824.0 91.9L824.5 94.2L825.1 99.9L825.7 84.4L826.3 122.6L826.8 131.4L827.4 126.1L828.0 122.9L828.6 108.1L829.1 97.0L829.7 104.3L830.3 89.3L830.9 121.1L831.5 75.7L832.0 120.4L832.6 96.6L833.2 123.7L833.8 109.3L834.3 111.4L834.9 104.8L835.5 100.4L836.1 113.9L836.6 113.8L837.2 109.3L837.8 130.8L838.4 125.8L838.9 137.7L839.5 116.4L840.1 81.8L840.7 88.5L841.3 122.7L841.8 124.3L842.4 93.2L843.0 117.6L843.6 136.3L844.1 130.8L844.7 130.4L845.3 129.9L845.9 105.3L846.4 109.3L847.0 133.6L847.6 123.5L848.2 130.5L848.7 132.6L849.3 147.7L849.9 91.0L850.5 113.8L851.0 104.3L851.6 98.6L852.2 116.1L852.8 156.8L853.4 103.5L853.9 108.0L854.5 69.8L855.1 103.5L855.7 114.6L856.2 98.3L856.8 85.7L857.4 94.0L858.0 116.8L858.5 125.5L859.1 127.8L859.7 124.4L860.3 108.8L860.8 92.5L861.4 142.4L862.0 117.5L862.6 138.3L863.1 105.1L863.7 90.2L864.3 121.7L864.9 120.5L865.5 127.4L866.0 109.2L866.6 135.1L867.2 132.1L867.8 125.3L868.3 96.6L868.9 77.9L869.5 103.3L870.1 129.3L870.6 114.1L871.2 132.3L871.8 107.8L872.4 136.3L872.9 120.2L873.5 114.0L874.1 105.2L874.7 112.6L875.3 94.1L875.8 105.4L876.4 137.8L877.0 102.9L877.6 117.0L878.1 122.6L878.7 92.2L879.3 123.8L879.9 113.3L880.4 128.7L881.0 94.4L881.6 115.2L882.2 109.5L882.7 132.1L883.3 94.6L883.9 125.3L884.5 94.9L885.0 94.6L885.6 92.0L886.2 73.7L886.8 125.0L887.4 108.6L887.9 110.0L888.5 102.3L889.1 86.4L889.7 108.4L890.2 123.7L890.8 115.7L891.4 90.7L892.0 126.2L892.5 113.5L893.1 126.8L893.7 90.8L894.3 134.1L894.8 120.8L895.4 115.7L896.0 111.4L896.6 79.8L897.1 85.2L897.7 129.2L898.3 83.4L898.9 125.3L899.5 140.8L900.0 148.7L900.6 113.6L901.2 104.9L901.8 142.4L902.3 110.9L902.9 116.2L903.5 97.3L904.1 116.7L904.6 93.1L905.2 102.4L905.8 127.9L906.4 93.9L906.9 103.3L907.5 101.0L908.1 82.2L908.7 123.6L909.3 115.5L909.8 124.8L910.4 127.9L911.0 111.1L911.6 104.4L912.1 92.5L912.7 89.5L913.3 109.4L913.9 124.1L914.4 71.4L915.0 77.5L915.6 106.1L916.2 125.3L916.7 120.6L917.3 109.7L917.9 86.5L918.5 95.9L919.0 103.7L919.6 114.9L920.2 109.3L920.8 116.8L921.4 112.2L921.9 114.1L922.5 100.9L923.1 138.3L923.7 121.5L924.2 121.2L924.8 129.6L925.4 120.5L926.0 128.4L926.5 124.5L927.1 118.6L927.7 117.2L928.3 121.5L928.8 97.8L929.4 107.4L930.0 107.1L930.6 108.4L931.2 121.6L931.7 126.6L932.3 96.8L932.9 116.2L933.5 138.3L934.0 145.9L934.6 114.8L935.2 123.5L935.8 115.3L936.3 125.4L936.9 119.7L937.5 118.2L938.1 131.0L938.6 115.7L939.2 91.0L939.8 93.5L940.4 135.7L940.9 135.3L941.5 135.1L942.1 119.6L942.7 101.1L943.3 102.5L943.8 136.7L944.4 115.5L945.0 101.2L945.6 117.4L946.1 85.9L946.7 118.0L947.3 96.3L947.9 78.4L948.4 132.7L949.0 122.9L949.6 105.2L950.2 73.2L950.7 131.1L951.3 107.1L951.9 107.6L952.5 118.0L953.0 125.3L953.6 122.1L954.2 118.4L954.8 131.6L955.4 92.6L955.9 132.7L956.5 120.7L957.1 123.3L957.7 124.3L958.2 112.4L958.8 123.4L959.4 117.7L960.0 88.4L960.5 93.6L961.1 114.0L961.7 99.5L962.3 121.7L962.8 110.7L963.4 132.8L964.0 132.0L964.6 127.9L965.2 96.8L965.7 106.8L966.3 98.7L966.9 109.1L967.5 106.7L968.0 105.5L968.6 93.6L969.2 108.4L969.8 125.1L970.3 125.8L970.9 96.8L971.5 89.8L972.1 100.9L972.6 134.4L973.2 93.0L973.8 100.5L974.4 112.6L974.9 112.3L975.5 118.0L976.1 88.0L976.7 84.8L977.3 123.7L977.8 117.0L978.4 108.8L979.0 83.4L979.6 143.5L980.1 103.8L980.7 87.3L981.3 113.6L981.9 114.0L982.4 94.6L983.0 99.9L983.6 130.7L984.2 142.5L984.7 140.2L985.3 146.4L985.9 116.4L986.5 120.9L987.0 113.5L987.6 102.5L988.2 75.0L988.8 105.5L989.4 138.3L989.9 96.4L990.5 112.1L991.1 95.7L991.7 116.9L992.2 109.0L992.8 114.3L993.4 113.5L994.0 94.3L994.5 119.6L995.1 111.5L995.7 109.5L996.3 118.0L996.8 144.0L997.4 112.8L998.0 149.1L998.6 140.2L999.2 123.7L999.7 108.3L1000.3 99.5L1000.9 98.7L1001.5 102.0L1002.0 116.6L1002.6 95.6L1003.2 114.2L1003.8 88.0L1004.3 151.2L1004.9 131.0L1005.5 123.9L1006.1 114.6L1006.6 152.4L1007.2 106.2L1007.8 97.3L1008.4 98.9L1008.9 118.3L1009.5 92.5L1010.1 117.8L1010.7 100.2L1011.3 111.9L1011.8 113.0L1012.4 116.6L1013.0 113.5L1013.6 96.7L1014.1 89.6L1014.7 77.8L1015.3 86.9L1015.9 100.5L1016.4 104.3L1017.0 86.3L1017.6 115.3L1018.2 127.7L1018.7 113.6L1019.3 136.8L1019.9 119.9L1020.5 114.8L1021.0 127.8L1021.6 123.4L1022.2 104.2L1022.8 115.0L1023.4 112.1L1023.9 97.6L1024.5 119.5L1025.1 139.8L1025.7 118.1L1026.2 107.1L1026.8 137.9L1027.4 104.0L1028.0 116.6L1028.5 123.1L1029.1 126.2L1029.7 117.6L1030.3 99.4L1030.8 103.0L1031.4 99.4L1032.0 116.2L1032.6 90.2L1033.2 90.9L1033.7 108.1L1034.3 147.2L1034.9 117.5L1035.5 71.5L1036.0 104.8L1036.6 126.6L1037.2 79.3L1037.8 121.4L1038.3 106.3L1038.9 100.5L1039.5 132.0L1040.1 113.8L1040.6 95.4L1041.2 114.9L1041.8 98.3L1042.4 111.1L1042.9 89.2L1043.5 84.0L1044.1 124.1L1044.7 118.6L1045.3 105.0L1045.8 121.0L1046.4 125.7L1047.0 119.6L1047.6 117.6L1048.1 122.8L1048.7 109.4L1049.3 100.3L1049.9 99.8L1050.4 100.7L1051.0 83.4L1051.6 138.6L1052.2 116.8L1052.7 110.5L1053.3 104.5L1053.9 134.6L1054.5 88.7L1055.0 121.9L1055.6 110.2L1056.2 101.4L1056.8 85.7L1057.4 119.9L1057.9 121.5L1058.5 108.5L1059.1 103.3L1059.7 89.8L1060.2 111.2L1060.8 122.4L1061.4 133.2L1062.0 90.4L1062.5 128.9L1063.1 65.7L1063.7 107.3L1064.3 100.6L1064.8 88.2L1065.4 90.6L1066.0 108.7L1066.6 106.3L1067.2 139.4L1067.7 116.0L1068.3 126.0L1068.9 116.8L1069.5 95.1L1070.0 108.3L1070.6 95.9L1071.2 113.2L1071.8 106.7L1072.3 117.7L1072.9 147.0L1073.5 137.1L1074.1 118.8L1074.6 111.2L1075.2 112.3L1075.8 114.3L1076.4 98.8L1076.9 101.2L1077.5 116.6L1078.1 93.6L1078.7 138.9L1079.3 120.6L1079.8 115.9L1080.4 94.0L1081.0 117.5L1081.6 134.3L1082.1 113.2L1082.7 77.2L1083.3 111.8L1083.9 113.8L1084.4 115.6L1085.0 111.9L1085.6 93.4L1086.2 72.8L1086.7 94.2L1087.3 112.2L1087.9 171.1L1088.5 106.8L1089.0 110.6L1089.6 117.3L1090.2 117.7L1090.8 109.6L1091.4 118.1L1091.9 106.8L1092.5 108.8L1093.1 103.8L1093.7 116.6L1094.2 117.7L1094.8 109.3L1095.4 110.9L1096.0 110.7L1096.5 85.6L1097.1 125.1L1097.7 141.5L1098.3 106.2L1098.8 115.0L1099.4 93.1L1100.0 109.6L1100.6 128.8L1101.2 83.6L1101.7 102.0L1102.3 117.4L1102.9 123.9L1103.5 105.8L1104.0 121.1L1104.6 108.0L1105.2 94.7L1105.8 162.8L1106.3 124.3L1106.9 106.5L1107.5 87.5L1108.1 85.6L1108.6 116.4L1109.2 91.7L1109.8 114.5L1110.4 115.1L1110.9 107.3L1111.5 127.3L1112.1 75.0L1112.7 88.7L1113.3 105.6L1113.8 119.6L1114.4 130.1L1115.0 108.1L1115.6 101.8L1116.1 116.7L1116.7 115.9L1117.3 104.8L1117.9 112.2L1118.4 138.8L1119.0 106.7L1119.6 108.0L1120.2 101.0L1120.7 126.7L1121.3 143.3L1121.9 135.1L1122.5 111.0L1123.1 82.9L1123.6 71.5L1124.2 102.1L1124.8 131.8L1125.4 120.3L1125.9 107.1L1126.5 105.3L1127.1 110.0L1127.7 92.7L1128.2 122.5L1128.8 143.8L1129.4 129.9L1130.0 131.7L1130.5 83.6L1131.1 109.8L1131.7 132.7L1132.3 106.6L1132.8 88.4L1133.4 109.4L1134.0 109.2L1134.6 66.3L1135.2 102.6L1135.7 121.1L1136.3 105.2L1136.9 89.8L1137.5 101.2L1138.0 98.6L1138.6 101.8L1139.2 114.4L1139.8 115.0L1140.3 103.9L1140.9 119.3L1141.5 96.7L1142.1 92.4L1142.6 138.5L1143.2 120.3L1143.8 124.1L1144.4 123.4L1144.9 112.1L1145.5 116.3L1146.1 100.1L1146.7 103.3L1147.3 106.2L1147.8 128.6L1148.4 119.2L1149.0 92.3L1149.6 143.9L1150.1 92.5L1150.7 117.7L1151.3 96.1L1151.9 152.4L1152.4 130.0L1153.0 101.8L1153.6 108.8L1154.2 97.1L1154.7 122.9L1155.3 122.2L1155.9 123.4L1156.5 106.8L1157.1 104.9L1157.6 113.2L1158.2 118.7L1158.8 117.4L1159.4 112.1L1159.9 126.1L1160.5 115.5L1161.1 115.1L1161.7 125.2L1162.2 122.0L1162.8 92.5L1163.4 121.7L1164.0 107.4L1164.5 91.9L1165.1 98.6L1165.7 110.2L1166.3 97.4L1166.8 130.7L1167.4 132.9L1168.0 121.4L1168.6 117.1L1169.2 114.7L1169.7 85.9L1170.3 84.5L1170.9 106.7L1171.5 108.3L1172.0 124.9L1172.6 108.2L1173.2 131.4L1173.8 85.6L1174.3 117.5L1174.9 100.9L1175.5 60.3L1176.1 74.0L1176.6 65.1L1177.2 77.0L1177.8 68.0L1178.4 135.0L1178.9 135.3L1179.5 143.1L1180.1 82.4L1180.7 118.7L1181.3 124.3L1181.8 101.7L1182.4 107.6L1183.0 104.6L1183.6 118.7L1184.1 141.5L1184.7 147.1L1185.3 145.7L1185.9 99.2L1186.4 97.2L1187.0 115.8L1187.6 99.0L1188.2 95.2L1188.7 101.5L1189.3 97.8L1189.9 98.2L1190.5 109.2L1191.1 143.0L1191.6 150.4L1192.2 100.8L1192.8 102.0L1193.4 145.3L1193.9 116.8L1194.5 125.6L1195.1 122.4L1195.7 147.9L1196.2 107.2L1196.8 113.0L1197.4 100.6L1198.0 94.9L1198.5 91.2L1199.1 85.7L1199.7 104.1L1200.3 108.1L1200.8 125.8L1201.4 106.1L1202.0 115.1" stroke="#2a2eec"/>
<path d="M626.3 147.8L626.9 117.2L627.5 105.9L628.0 80.3L628.6 98.2L629.2 109.2L629.8 69.8L630.3 115.3L630.9 113.1L631.5 114.9L632.1 110.9L632.6 101.8L633.2 101.8L633.8 84.2L634.4 122.2L634.9 136.5L635.5 110.2L636.1 130.8L636.7 159.8L637.2 114.9L637.8 132.5L638.4 98.9L639.0 102.5L639.6 109.3L640.1 103.9L640.7 93.2L641.3 115.3L641.9 104.9L642.4 109.8L643.0 112.5L643.6 119.7L644.2 91.0L644.7 104.8L645.3 132.6L645.9 108.8L646.5 152.9L647.0 114.6L647.6 102.5L648.2 92.7L648.8 106.9L649.4 122.5L649.9 89.2L650.5 87.4L651.1 93.1L651.7 113.5L652.2 100.0L652.8 136.8L653.4 109.9L654.0 151.6L654.5 132.8L655.1 136.8L655.7 100.7L656.3 98.5L656.8 119.4L657.4 89.8L658.0 109.5L658.6 150.7L659.1 123.3L659.7 138.7L660.3 116.1L660.9 108.5L661.5 123.5L662.0 103.2L662.6 97.2L663.2 124.0L663.8 106.6L664.3 113.6L664.9 117.3L665.5 91.4L666.1 119.9L666.6 119.4L667.2 115.0L667.8 105.3L668.4 101.1L668.9 132.5L669.5 96.0L670.1 87.3L670.7 75.8L671.2 105.8L671.8 119.4L672.4 130.0L673.0 110.5L673.6 114.7L674.1 114.0L674.7 122.4L675.3 144.2L675.9 122.5L676.4 116.9L677.0 119.0L677.6 134.5L678.2 125.2L678.7 116.2L679.3 130.4L679.9 106.3L680.5 112.5L681.0 110.9L681.6 107.0L682.2 115.7L682.8 114.4L683.4 105.6L683.9 101.1L684.5 98.7L685.1 113.3L685.7 96.9L686.2 95.7L686.8 139.7L687.4 121.6L688.0 114.5L688.5 113.0L689.1 89.4L689.7 93.3L690.3 111.6L690.8 114.2L691.4 133.4L692.0 130.6L692.6 96.7L693.1 135.1L693.7 107.1L694.3 122.3L694.9 118.6L695.5 115.0L696.0 89.2L696.6 104.0L697.2 104.1L697.8 97.3L698.3 140.9L698.9 82.9L699.5 133.6L700.1 126.6L700.6 104.7L701.2 138.0L701.8 139.2L702.4 100.2L702.9 115.0L703.5 99.7L704.1 103.5L704.7 114.8L705.2 90.3L705.8 112.4L706.4 86.6L707.0 121.0L707.6 128.6L708.1 125.0L708.7 110.7L709.3 137.1L709.9 125.2L710.4 94.4L711.0 106.7L711.6 87.8L712.2 104.3L712.7 119.4L713.3 131.6L713.9 111.2L714.5 110.9L715.0 123.8L715.6 121.4L716.2 93.8L716.8 87.2L717.4 58.5L717.9 115.8L718.5 118.6L719.1 87.3L719.7 116.4L720.2 84.0L720.8 119.1L721.4 134.2L722.0 88.8L722.5 109.7L723.1 91.5L723.7 102.5L724.3 114.0L724.8 99.2L725.4 114.2L726.0 106.1L726.6 113.7L727.1 148.0L727.7 110.1L728.3 119.5L728.9 115.2L729.5 106.6L730.0 132.1L730.6 104.6L731.2 103.2L731.8 86.5L732.3 96.7L732.9 104.9L733.5 120.4L734.1 114.6L734.6 133.0L735.2 109.4L735.8 116.0L736.4 121.2L736.9 112.8L737.5 105.9L738.1 107.6L738.7 129.2L739.3 89.1L739.8 109.4L740.4 107.1L741.0 111.5L741.6 126.2L742.1 110.6L742.7 117.8L743.3 125.9L743.9 112.6L744.4 96.6L745.0 102.3L745.6 106.0L746.2 125.9L746.7 118.4L747.3 115.2L747.9 133.6L748.5 104.2L749.0 109.9L749.6 130.9L750.2 94.8L750.8 76.8L751.4 127.0L751.9 117.1L752.5 125.6L753.1 103.6L753.7 131.3L754.2 108.2L754.8 106.4L755.4 89.2L756.0 136.8L756.5 127.8L757.1 117.7L757.7 100.1L758.3 109.3L758.8 96.2L759.4 104.5L760.0 131.5L760.6 115.9L761.1 122.8L761.7 118.0L762.3 127.1L762.9 99.7L763.5 107.0L764.0 138.3L764.6 106.1L765.2 119.8L765.8 134.9L766.3 99.2L766.9 110.2L767.5 107.4L768.1 113.8L768.6 113.4L769.2 138.0L769.8 105.9L770.4 122.5L770.9 113.9L771.5 114.1L772.1 127.4L772.7 133.1L773.3 117.9L773.8 96.1L774.4 119.6L775.0 128.8L775.6 112.8L776.1 121.2L776.7 96.0L777.3 103.6L777.9 74.9L778.4 104.1L779.0 84.1L779.6 116.0L780.2 109.8L780.7 127.9L781.3 125.3L781.9 118.1L782.5 104.6L783.0 93.1L783.6 112.9L784.2 133.4L784.8 115.4L785.4 115.1L785.9 119.7L786.5 101.2L787.1 95.2L787.7 119.4L788.2 123.6L788.8 147.4L789.4 135.1L790.0 102.4L790.5 124.0L791.1 95.1L791.7 100.8L792.3 101.5L792.8 101.3L793.4 111.2L794.0 97.5L794.6 95.1L795.1 104.0L795.7 66.8L796.3 93.9L796.9 89.5L797.5 116.8L798.0 100.5L798.6 108.8L799.2 82.7L799.8 110.8L800.3 120.3L800.9 126.3L801.5 100.7L802.1 125.3L802.6 104.2L803.2 117.6L803.8 94.1L804.4 88.6L804.9 92.6L805.5 136.0L806.1 135.8L806.7 149.1L807.3 84.3L807.8 115.1L808.4 117.8L809.0 111.3L809.6 102.8L810.1 114.7L810.7 110.8L811.3 111.3L811.9 130.6L812.4 90.2L813.0 77.2L813.6 106.6L814.2 112.4L814.7 87.5L815.3 79.5L815.9 100.6L816.5 101.7L817.0 115.6L817.6 107.0L818.2 144.9L818.8 146.1L819.4 110.2L819.9 113.6L820.5 105.8L821.1 109.1L821.7 97.0L822.2 106.0L822.8 113.0L823.4 105.2L824.0 119.7L824.5 84.7L825.1 128.2L825.7 118.3L826.3 99.3L826.8 114.2L827.4 98.0L828.0 90.0L828.6 96.6L829.1 114.7L829.7 87.0L830.3 100.3L830.9 123.2L831.5 86.7L832.0 103.9L832.6 100.9L833.2 96.7L833.8 115.7L834.3 98.7L834.9 127.1L835.5 127.6L836.1 118.6L836.6 76.0L837.2 97.8L837.8 93.0L838.4 113.7L838.9 103.3L839.5 138.9L840.1 118.4L840.7 105.3L841.3 117.7L841.8 139.1L842.4 137.8L843.0 105.3L843.6 82.9L844.1 112.6L844.7 89.9L845.3 126.2L845.9 103.8L846.4 105.1L847.0 95.3L847.6 130.3L848.2 92.9L848.7 107.1L849.3 129.0L849.9 119.0L850.5 115.0L851.0 107.2L851.6 122.8L852.2 125.5L852.8 111.6L853.4 111.5L853.9 103.9L854.5 90.3L855.1 135.6L855.7 116.1L856.2 106.5L856.8 109.0L857.4 127.2L858.0 103.4L858.5 78.7L859.1 110.0L859.7 123.0L860.3 102.2L860.8 109.8L861.4 109.6L862.0 108.0L862.6 117.7L863.1 112.7L863.7 122.6L864.3 140.5L864.9 101.4L865.5 106.0L866.0 111.9L866.6 93.5L867.2 111.0L867.8 88.7L868.3 97.9L868.9 113.8L869.5 139.6L870.1 107.7L870.6 107.9L871.2 97.2L871.8 132.4L872.4 116.6L872.9 107.5L873.5 106.5L874.1 109.3L874.7 107.0L875.3 143.1L875.8 121.6L876.4 123.3L877.0 146.4L877.6 113.8L878.1 117.9L878.7 130.2L879.3 134.9L879.9 110.6L880.4 152.9L881.0 118.8L881.6 129.9L882.2 112.5L882.7 87.3L883.3 94.1L883.9 109.9L884.5 91.5L885.0 85.2L885.6 94.0L886.2 85.8L886.8 104.3L887.4 96.2L887.9 111.0L888.5 117.2L889.1 112.1L889.7 123.4L890.2 114.8L890.8 84.4L891.4 97.2L892.0 112.1L892.5 89.2L893.1 89.3L893.7 123.8L894.3 130.6L894.8 90.3L895.4 62.1L896.0 108.2L896.6 118.8L897.1 129.4L897.7 98.0L898.3 121.5L898.9 101.6L899.5 86.9L900.0 99.9L900.6 112.8L901.2 102.8L901.8 102.3L902.3 116.8L902.9 106.6L903.5 129.4L904.1 149.8L904.6 124.3L905.2 149.4L905.8 125.5L906.4 115.5L906.9 109.6L907.5 87.4L908.1 121.4L908.7 120.0L909.3 119.9L909.8 128.5L910.4 87.7L911.0 119.3L911.6 116.5L912.1 115.2L912.7 82.3L913.3 111.2L913.9 123.5L914.4 96.4L915.0 119.4L915.6 152.0L916.2 100.6L916.7 90.2L917.3 131.3L917.9 133.5L918.5 115.9L919.0 127.6L919.6 147.3L920.2 133.8L920.8 91.2L921.4 94.3L921.9 125.8L922.5 116.7L923.1 111.6L923.7 117.4L924.2 113.8L924.8 89.5L925.4 118.2L926.0 125.4L926.5 115.2L927.1 123.4L927.7 126.4L928.3 120.7L928.8 129.4L929.4 91.1L930.0 120.5L930.6 95.5L931.2 129.4L931.7 128.6L932.3 111.5L932.9 119.4L933.5 101.3L934.0 96.0L934.6 82.4L935.2 153.1L935.8 134.4L936.3 116.9L936.9 116.8L937.5 114.4L938.1 81.2L938.6 139.8L939.2 107.2L939.8 117.6L940.4 113.3L940.9 97.6L941.5 111.5L942.1 101.4L942.7 85.0L943.3 85.1L943.8 148.1L944.4 127.0L945.0 144.7L945.6 128.6L946.1 122.0L946.7 77.3L947.3 121.9L947.9 118.5L948.4 116.5L949.0 92.9L949.6 118.4L950.2 104.7L950.7 100.5L951.3 103.0L951.9 140.7L952.5 136.8L953.0 107.0L953.6 138.3L954.2 126.4L954.8 136.9L955.4 111.4L955.9 114.2L956.5 136.8L957.1 121.4L957.7 131.5L958.2 125.4L958.8 90.8L959.4 107.4L960.0 108.1L960.5 83.3L961.1 109.0L961.7 87.0L962.3 105.3L962.8 108.8L963.4 118.8L964.0 127.8L964.6 141.0L965.2 131.1L965.7 108.9L966.3 107.3L966.9 126.0L967.5 98.2L968.0 121.2L968.6 121.1L969.2 135.4L969.8 130.3L970.3 99.2L970.9 106.0L971.5 122.4L972.1 97.7L972.6 112.6L973.2 112.6L973.8 98.7L974.4 104.9L974.9 117.5L975.5 130.7L976.1 98.0L976.7 144.1L977.3 136.6L977.8 140.6L978.4 127.4L979.0 103.6L979.6 117.3L980.1 120.9L980.7 115.7L981.3 78.8L981.9 91.4L982.4 104.2L983.0 122.6L983.6 121.2L984.2 110.0L984.7 116.8L985.3 116.1L985.9 130.2L986.5 136.0L987.0 133.6L987.6 113.3L988.2 127.9L988.8 83.5L989.4 100.6L989.9 102.3L990.5 97.8L991.1 126.9L991.7 142.4L992.2 119.7L992.8 105.6L993.4 99.8L994.0 89.9L994.5 90.7L995.1 94.9L995.7 94.4L996.3 102.3L996.8 99.2L997.4 114.2L998.0 118.5L998.6 99.6L999.2 134.2L999.7 95.5L1000.3 85.7L1000.9 158.0L1001.5 101.1L1002.0 107.2L1002.6 125.3L1003.2 107.7L1003.8 102.9L1004.3 95.8L1004.9 113.2L1005.5 109.1L1006.1 119.5L1006.6 91.1L1007.2 110.2L1007.8 98.6L1008.4 118.7L1008.9 110.1L1009.5 124.1L1010.1 123.8L1010.7 97.1L1011.3 111.2L1011.8 112.0L1012.4 100.6L1013.0 126.5L1013.6 87.2L1014.1 118.0L1014.7 117.5L1015.3 84.4L1015.9 131.6L1016.4 90.3L1017.0 101.9L1017.6 96.9L1018.2 125.2L1018.7 110.3L1019.3 129.8L1019.9 99.4L1020.5 112.6L1021.0 120.8L1021.6 119.6L1022.2 115.9L1022.8 97.9L1023.4 103.8L1023.9 121.3L1024.5 125.8L1025.1 128.9L1025.7 102.4L1026.2 103.0L1026.8 126.7L1027.4 136.8L1028.0 116.0L1028.5 120.6L1029.1 105.2L1029.7 112.3L1030.3 106.2L1030.8 99.4L1031.4 95.4L1032.0 112.1L1032.6 101.6L1033.2 122.2L1033.7 130.8L1034.3 110.7L1034.9 87.3L1035.5 165.2L1036.0 109.2L1036.6 136.2L1037.2 110.8L1037.8 116.3L1038.3 103.4L1038.9 95.9L1039.5 115.7L1040.1 123.1L1040.6 119.3L1041.2 123.3L1041.8 128.7L1042.4 111.3L1042.9 129.2L1043.5 117.8L1044.1 117.8L1044.7 122.1L1045.3 105.0L1045.8 121.2L1046.4 114.3L1047.0 101.3L1047.6 113.0L1048.1 133.7L1048.7 122.6L1049.3 120.9L1049.9 104.6L1050.4 80.3L1051.0 105.8L1051.6 113.3L1052.2 93.0L1052.7 119.4L1053.3 109.2L1053.9 105.2L1054.5 112.1L1055.0 115.1L1055.6 110.3L1056.2 92.1L1056.8 101.3L1057.4 119.4L1057.9 109.4L1058.5 92.1L1059.1 87.8L1059.7 97.4L1060.2 107.4L1060.8 93.3L1061.4 97.3L1062.0 108.1L1062.5 121.6L1063.1 112.6L1063.7 99.3L1064.3 166.4L1064.8 137.1L1065.4 108.9L1066.0 134.2L1066.6 144.7L1067.2 118.9L1067.7 119.9L1068.3 112.5L1068.9 68.0L1069.5 104.9L1070.0 113.0L1070.6 125.2L1071.2 149.8L1071.8 101.7L1072.3 94.3L1072.9 102.3L1073.5 111.7L1074.1 126.0L1074.6 108.1L1075.2 113.3L1075.8 133.0L1076.4 101.6L1076.9 132.3L1077.5 122.4L1078.1 82.1L1078.7 121.4L1079.3 111.8L1079.8 98.4L1080.4 110.9L1081.0 133.5L1081.6 123.8L1082.1 117.6L1082.7 135.2L1083.3 96.9L1083.9 106.3L1084.4 102.4L1085.0 108.0L1085.6 107.3L1086.2 117.8L1086.7 135.3L1087.3 104.6L1087.9 112.2L1088.5 83.8L1089.0 127.5L1089.6 113.3L1090.2 86.0L1090.8 128.9L1091.4 133.3L1091.9 113.3L1092.5 82.2L1093.1 127.8L1093.7 114.9L1094.2 116.6L1094.8 122.6L1095.4 118.8L1096.0 90.7L1096.5 109.4L1097.1 132.6L1097.7 126.1L1098.3 114.3L1098.8 134.4L1099.4 127.6L1100.0 122.1L1100.6 172.3L1101.2 93.5L1101.7 134.2L1102.3 118.6L1102.9 117.0L1103.5 55.3L1104.0 98.6L1104.6 110.8L1105.2 126.2L1105.8 99.5L1106.3 104.1L1106.9 128.2L1107.5 148.6L1108.1 101.4L1108.6 114.8L1109.2 135.3L1109.8 109.4L1110.4 134.3L1110.9 127.8L1111.5 136.6L1112.1 143.0L1112.7 108.9L1113.3 76.1L1113.8 97.8L1114.4 105.8L1115.0 119.1L1115.6 115.4L1116.1 110.3L1116.7 104.6L1117.3 120.0L1117.9 114.2L1118.4 117.0L1119.0 106.3L1119.6 93.2L1120.2 96.4L1120.7 117.4L1121.3 121.3L1121.9 100.8L1122.5 115.8L1123.1 116.8L1123.6 107.1L1124.2 106.8L1124.8 94.2L1125.4 128.2L1125.9 99.4L1126.5 120.9L1127.1 104.0L1127.7 130.8L1128.2 117.3L1128.8 122.7L1129.4 90.7L1130.0 123.2L1130.5 98.3L1131.1 122.4L1131.7 130.8L1132.3 110.8L1132.8 97.7L1133.4 111.1L1134.0 103.8L1134.6 107.8L1135.2 112.6L1135.7 85.5L1136.3 109.4L1136.9 93.6L1137.5 127.8L1138.0 117.3L1138.6 99.9L1139.2 117.0L1139.8 142.3L1140.3 106.2L1140.9 103.1L1141.5 114.9L1142.1 111.0L1142.6 119.6L1143.2 104.7L1143.8 88.8L1144.4 105.2L1144.9 112.3L1145.5 119.1L1146.1 115.4L1146.7 119.9L1147.3 99.6L1147.8 125.8L1148.4 128.8L1149.0 108.5L1149.6 106.6L1150.1 105.0L1150.7 117.3L1151.3 109.8L1151.9 132.6L1152.4 147.4L1153.0 134.3L1153.6 109.7L1154.2 93.1L1154.7 114.9L1155.3 120.4L1155.9 117.2L1156.5 88.9L1157.1 100.9L1157.6 109.1L1158.2 119.4L1158.8 102.0L1159.4 93.2L1159.9 105.8L1160.5 128.5L1161.1 95.0L1161.7 109.1L1162.2 88.2L1162.8 122.9L1163.4 115.1L1164.0 105.9L1164.5 136.0L1165.1 114.6L1165.7 103.0L1166.3 111.9L1166.8 105.2L1167.4 107.9L1168.0 123.4L1168.6 102.9L1169.2 121.2L1169.7 117.3L1170.3 123.4L1170.9 104.2L1171.5 117.2L1172.0 119.4L1172.6 142.1L1173.2 120.6L1173.8 99.1L1174.3 138.9L1174.9 110.6L1175.5 112.1L1176.1 147.3L1176.6 121.7L1177.2 99.9L1177.8 108.9L1178.4 106.5L1178.9 88.3L1179.5 114.9L1180.1 100.0L1180.7 128.5L1181.3 127.1L1181.8 94.3L1182.4 91.3L1183.0 95.8L1183.6 131.3L1184.1 121.1L1184.7 125.8L1185.3 88.8L1185.9 127.7L1186.4 132.6L1187.0 130.0L1187.6 108.5L1188.2 119.5L1188.7 119.8L1189.3 108.0L1189.9 110.5L1190.5 148.6L1191.1 133.7L1191.6 84.1L1192.2 107.7L1192.8 87.7L1193.4 79.6L1193.9 84.6L1194.5 107.4L1195.1 90.7L1195.7 114.2L1196.2 84.1L1196.8 91.7L1197.4 100.8L1198.0 114.8L1198.5 124.1L1199.1 117.5L1199.7 118.8L1200.3 124.6L1200.8 128.6L1201.4 110.2L1202.0 94.4" stroke="#fa7c17"/>
<path d="M626.3 110.6L626.9 118.0L627.5 121.0L628.0 102.0L628.6 103.9L629.2 121.3L629.8 118.3L630.3 141.5L630.9 137.4L631.5 110.2L632.1 122.1L632.6 129.9L633.2 113.6L633.8 96.1L634.4 125.8L634.9 122.3L635.5 120.7L636.1 72.5L636.7 94.6L637.2 108.4L637.8 136.1L638.4 107.1L639.0 105.6L639.6 117.2L640.1 127.5L640.7 124.5L641.3 142.1L641.9 125.8L642.4 124.4L643.0 130.8L643.6 123.1L644.2 140.8L644.7 102.2L645.3 116.1L645.9 133.7L646.5 106.7L647.0 105.9L647.6 122.1L648.2 136.6L648.8 120.1L649.4 109.3L649.9 105.0L650.5 100.1L651.1 100.4L651.7 135.8L652.2 69.2L652.8 155.6L653.4 105.4L654.0 105.3L654.5 100.2L655.1 112.9L655.7 115.5L656.3 124.4L656.8 154.7L657.4 125.7L658.0 72.3L658.6 90.9L659.1 116.9L659.7 110.8L660.3 108.2L660.9 123.7L661.5 117.0L662.0 110.7L662.6 122.8L663.2 109.7L663.8 96.1L664.3 100.0L664.9 109.1L665.5 117.3L666.1 104.8L666.6 122.3L667.2 133.4L667.8 97.8L668.4 118.5L668.9 136.3L669.5 101.6L670.1 103.0L670.7 163.4L671.2 114.1L671.8 97.8L672.4 114.7L673.0 130.6L673.6 120.5L674.1 112.2L674.7 131.2L675.3 120.6L675.9 112.2L676.4 126.0L677.0 114.8L677.6 115.5L678.2 127.5L678.7 111.8L679.3 101.8L679.9 143.9L680.5 129.6L681.0 104.7L681.6 106.5L682.2 142.1L682.8 116.7L683.4 93.8L683.9 98.3L684.5 93.7L685.1 114.1L685.7 113.2L686.2 131.6L686.8 116.8L687.4 81.4L688.0 109.5L688.5 127.7L689.1 108.4L689.7 144.0L690.3 85.1L690.8 100.3L691.4 116.2L692.0 120.2L692.6 137.4L693.1 115.4L693.7 113.9L694.3 137.3L694.9 102.5L695.5 120.5L696.0 131.0L696.6 102.3L697.2 100.9L697.8 125.2L698.3 125.0L698.9 99.0L699.5 117.7L700.1 111.3L700.6 92.9L701.2 129.0L701.8 138.6L702.4 130.3L702.9 125.2L703.5 114.9L704.1 91.4L704.7 117.9L705.2 88.9L705.8 106.5L706.4 142.2L707.0 118.4L707.6 97.9L708.1 95.3L708.7 121.6L709.3 117.9L709.9 72.8L710.4 106.0L711.0 126.3L711.6 137.9L712.2 123.8L712.7 109.2L713.3 129.4L713.9 95.1L714.5 122.0L715.0 143.1L715.6 107.8L716.2 111.7L716.8 116.4L717.4 94.3L717.9 119.4L718.5 97.9L719.1 119.7L719.7 89.5L720.2 109.3L720.8 112.0L721.4 103.8L722.0 112.7L722.5 106.0L723.1 115.4L723.7 103.8L724.3 109.1L724.8 120.8L725.4 105.4L726.0 104.5L726.6 127.8L727.1 119.6L727.7 138.9L728.3 115.1L728.9 100.5L729.5 77.7L730.0 102.6L730.6 95.5L731.2 88.3L731.8 98.0L732.3 138.4L732.9 123.8L733.5 107.1L734.1 107.7L734.6 108.5L735.2 132.9L735.8 142.7L736.4 110.8L736.9 95.1L737.5 119.8L738.1 105.0L738.7 119.7L739.3 115.9L739.8 122.0L740.4 95.3L741.0 125.1L741.6 112.3L742.1 98.9L742.7 110.9L743.3 130.8L743.9 109.5L744.4 114.9L745.0 132.3L745.6 121.6L746.2 118.0L746.7 159.2L747.3 118.8L747.9 112.1L748.5 103.5L749.0 139.8L749.6 96.0L750.2 110.9L750.8 127.6L751.4 112.9L751.9 97.3L752.5 125.4L753.1 122.5L753.7 83.8L754.2 86.9L754.8 72.5L755.4 107.0L756.0 126.3L756.5 129.2L757.1 124.3L757.7 137.4L758.3 108.6L758.8 93.3L759.4 126.0L760.0 82.3L760.6 123.5L761.1 125.0L761.7 135.0L762.3 105.2L762.9 112.8L763.5 112.3L764.0 153.1L764.6 128.3L765.2 110.5L765.8 151.7L766.3 89.8L766.9 104.4L767.5 95.1L768.1 115.5L768.6 99.2L769.2 91.5L769.8 75.8L770.4 164.6L770.9 83.4L771.5 124.2L772.1 111.5L772.7 120.7L773.3 116.9L773.8 141.4L774.4 125.3L775.0 131.1L775.6 120.6L776.1 106.3L776.7 110.3L777.3 113.0L777.9 91.1L778.4 103.5L779.0 101.3L779.6 90.1L780.2 109.2L780.7 109.5L781.3 101.1L781.9 114.5L782.5 82.9L783.0 118.3L783.6 115.7L784.2 114.9L784.8 116.7L785.4 112.5L785.9 122.4L786.5 147.9L787.1 92.6L787.7 116.4L788.2 101.3L788.8 126.5L789.4 105.1L790.0 130.2L790.5 92.9L791.1 111.0L791.7 118.6L792.3 153.1L792.8 151.2L793.4 132.9L794.0 124.1L794.6 129.5L795.1 122.1L795.7 99.5L796.3 116.8L796.9 119.5L797.5 125.2L798.0 140.5L798.6 109.9L799.2 122.2L799.8 123.2L800.3 109.4L800.9 111.4L801.5 100.8L802.1 99.8L802.6 130.3L803.2 127.5L803.8 100.4L804.4 116.7L804.9 103.8L805.5 124.9L806.1 150.0L806.7 150.3L807.3 129.1L807.8 121.8L808.4 80.5L809.0 96.3L809.6 99.5L810.1 96.7L810.7 134.0L811.3 114.8L811.9 115.1L812.4 83.9L813.0 118.5L813.6 147.2L814.2 114.5L814.7 115.4L815.3 111.1L815.9 105.8L816.5 109.1L817.0 121.3L817.6 120.1L818.2 80.2L818.8 116.2L819.4 104.8L819.9 132.9L820.5 152.3L821.1 102.3L821.7 107.1L822.2 91.0L822.8 81.9L823.4 104.4L824.0 121.4L824.5 74.1L825.1 105.4L825.7 79.5L826.3 94.7L826.8 94.0L827.4 98.0L828.0 100.8L828.6 111.2L829.1 77.7L829.7 117.4L830.3 133.0L830.9 108.2L831.5 118.8L832.0 95.8L832.6 109.7L833.2 91.6L833.8 104.9L834.3 120.2L834.9 115.6L835.5 99.5L836.1 116.9L836.6 123.0L837.2 113.9L837.8 100.8L838.4 90.4L838.9 99.9L839.5 95.0L840.1 109.9L840.7 82.8L841.3 76.6L841.8 113.5L842.4 106.3L843.0 109.5L843.6 104.7L844.1 113.3L844.7 120.6L845.3 130.5L845.9 124.5L846.4 110.8L847.0 84.4L847.6 98.7L848.2 114.1L848.7 120.2L849.3 145.0L849.9 102.9L850.5 107.2L851.0 100.2L851.6 97.0L852.2 99.6L852.8 109.7L853.4 114.1L853.9 125.7L854.5 122.0L855.1 105.3L855.7 78.3L856.2 110.9L856.8 106.7L857.4 72.8L858.0 101.4L858.5 114.0L859.1 110.6L859.7 114.7L860.3 139.8L860.8 102.5L861.4 135.9L862.0 123.3L862.6 119.4L863.1 105.7L863.7 114.2L864.3 119.1L864.9 125.9L865.5 110.3L866.0 116.9L866.6 123.9L867.2 133.9L867.8 128.8L868.3 112.8L868.9 135.9L869.5 115.0L870.1 111.7L870.6 86.3L871.2 120.9L871.8 129.0L872.4 117.1L872.9 65.7L873.5 151.6L874.1 101.6L874.7 174.7L875.3 109.4L875.8 166.4L876.4 109.9L877.0 117.4L877.6 79.8L878.1 99.7L878.7 90.4L879.3 128.6L879.9 129.1L880.4 122.4L881.0 124.4L881.6 91.4L882.2 172.9L882.7 136.8L883.3 160.4L883.9 87.5L884.5 114.2L885.0 104.5L885.6 137.8L886.2 125.9L886.8 117.8L887.4 118.1L887.9 114.3L888.5 108.4L889.1 95.7L889.7 136.9L890.2 116.3L890.8 103.4L891.4 108.6L892.0 95.8L892.5 112.9L893.1 120.1L893.7 127.1L894.3 102.0L894.8 141.2L895.4 123.0L896.0 117.3L896.6 104.8L897.1 116.8L897.7 128.5L898.3 104.0L898.9 130.0L899.5 127.4L900.0 145.8L900.6 116.2L901.2 112.3L901.8 139.9L902.3 126.6L902.9 103.7L903.5 123.6L904.1 140.7L904.6 120.0L905.2 106.2L905.8 153.6L906.4 105.8L906.9 114.3L907.5 100.8L908.1 128.2L908.7 102.6L909.3 108.0L909.8 101.9L910.4 111.6L911.0 99.4L911.6 114.8L912.1 121.3L912.7 131.0L913.3 140.2L913.9 117.4L914.4 120.2L915.0 117.0L915.6 119.3L916.2 110.1L916.7 113.2L917.3 123.4L917.9 99.8L918.5 82.6L919.0 122.9L919.6 122.5L920.2 107.3L920.8 130.5L921.4 93.7L921.9 127.9L922.5 133.3L923.1 131.2L923.7 100.9L924.2 142.3L924.8 116.4L925.4 146.1L926.0 107.7L926.5 106.8L927.1 102.7L927.7 81.3L928.3 107.1L928.8 95.1L929.4 101.2L930.0 95.2L930.6 121.3L931.2 96.8L931.7 114.5L932.3 90.3L932.9 94.4L933.5 107.8L934.0 101.8L934.6 101.6L935.2 106.1L935.8 75.4L936.3 117.1L936.9 132.0L937.5 133.5L938.1 117.8L938.6 111.8L939.2 100.4L939.8 94.1L940.4 104.0L940.9 66.8L941.5 123.9L942.1 97.0L942.7 87.8L943.3 108.3L943.8 98.8L944.4 117.8L945.0 110.4L945.6 108.5L946.1 96.6L946.7 138.9L947.3 111.8L947.9 87.9L948.4 96.9L949.0 98.8L949.6 145.6L950.2 128.5L950.7 123.1L951.3 123.3L951.9 147.2L952.5 100.1L953.0 105.3L953.6 139.1L954.2 122.7L954.8 112.2L955.4 96.8L955.9 98.9L956.5 124.9L957.1 123.4L957.7 109.7L958.2 96.3L958.8 115.9L959.4 121.9L960.0 104.3L960.5 105.9L961.1 90.7L961.7 101.2L962.3 95.1L962.8 151.6L963.4 136.2L964.0 138.5L964.6 126.6L965.2 108.9L965.7 115.9L966.3 105.1L966.9 122.9L967.5 99.1L968.0 89.2L968.6 136.2L969.2 132.2L969.8 125.2L970.3 102.1L970.9 99.3L971.5 84.4L972.1 131.3L972.6 112.3L973.2 113.1L973.8 119.8L974.4 115.8L974.9 155.8L975.5 113.5L976.1 119.8L976.7 133.2L977.3 94.9L977.8 121.3L978.4 111.0L979.0 123.8L979.6 138.4L980.1 124.5L980.7 110.3L981.3 128.4L981.9 108.0L982.4 87.1L983.0 91.4L983.6 114.7L984.2 132.5L984.7 158.0L985.3 132.4L985.9 131.8L986.5 89.7L987.0 103.5L987.6 103.8L988.2 115.7L988.8 75.2L989.4 72.3L989.9 106.3L990.5 98.4L991.1 114.2L991.7 105.1L992.2 90.4L992.8 78.1L993.4 111.7L994.0 105.2L994.5 71.6L995.1 90.0L995.7 75.7L996.3 90.6L996.8 110.7L997.4 135.9L998.0 128.7L998.6 139.1L999.2 131.9L999.7 135.8L1000.3 102.3L1000.9 135.2L1001.5 105.7L1002.0 153.4L1002.6 72.0L1003.2 114.7L1003.8 109.3L1004.3 84.6L1004.9 110.0L1005.5 109.4L1006.1 108.7L1006.6 102.2L1007.2 117.6L1007.8 85.7L1008.4 79.0L1008.9 101.6L1009.5 91.6L1010.1 109.7L1010.7 119.2L1011.3 114.5L1011.8 104.3L1012.4 133.8L1013.0 119.7L1013.6 105.5L1014.1 127.5L1014.7 108.5L1015.3 136.1L1015.9 110.7L1016.4 112.3L1017.0 102.3L1017.6 122.1L1018.2 143.4L1018.7 153.3L1019.3 72.6L1019.9 126.8L1020.5 135.2L1021.0 152.3L1021.6 94.5L1022.2 98.0L1022.8 96.5L1023.4 127.3L1023.9 98.2L1024.5 121.7L1025.1 94.1L1025.7 110.5L1026.2 147.0L1026.8 119.0L1027.4 134.1L1028.0 79.0L1028.5 127.5L1029.1 122.6L1029.7 120.2L1030.3 126.3L1030.8 132.7L1031.4 116.4L1032.0 107.3L1032.6 118.3L1033.2 117.5L1033.7 113.2L1034.3 127.5L1034.9 118.5L1035.5 112.8L1036.0 96.6L1036.6 99.5L1037.2 97.2L1037.8 96.9L1038.3 122.5L1038.9 87.6L1039.5 117.7L1040.1 115.4L1040.6 119.6L1041.2 103.5L1041.8 121.5L1042.4 105.0L1042.9 117.1L1043.5 63.3L1044.1 108.0L1044.7 125.7L1045.3 96.4L1045.8 121.8L1046.4 122.0L1047.0 95.9L1047.6 133.3L1048.1 102.3L1048.7 110.5L1049.3 111.4L1049.9 110.0L1050.4 127.1L1051.0 79.3L1051.6 95.2L1052.2 95.2L1052.7 99.1L1053.3 96.4L1053.9 106.1L1054.5 134.5L1055.0 135.1L1055.6 137.6L1056.2 124.5L1056.8 99.8L1057.4 131.6L1057.9 122.0L1058.5 105.8L1059.1 120.8L1059.7 118.6L1060.2 141.2L1060.8 114.6L1061.4 123.3L1062.0 126.4L1062.5 122.3L1063.1 109.7L1063.7 98.6L1064.3 138.7L1064.8 106.7L1065.4 140.0L1066.0 145.1L1066.6 129.2L1067.2 115.6L1067.7 116.7L1068.3 108.7L1068.9 144.3L1069.5 89.0L1070.0 91.5L1070.6 95.5L1071.2 136.6L1071.8 110.5L1072.3 121.5L1072.9 122.9L1073.5 115.2L1074.1 138.5L1074.6 101.1L1075.2 96.5L1075.8 99.0L1076.4 79.6L1076.9 148.7L1077.5 122.0L1078.1 120.4L1078.7 133.6L1079.3 104.3L1079.8 77.0L1080.4 124.0L1081.0 106.3L1081.6 111.3L1082.1 110.9L1082.7 111.5L1083.3 102.7L1083.9 121.6L1084.4 121.0L1085.0 89.6L1085.6 109.6L1086.2 112.9L1086.7 139.9L1087.3 110.2L1087.9 103.6L1088.5 107.8L1089.0 89.0L1089.6 139.8L1090.2 103.9L1090.8 149.4L1091.4 133.0L1091.9 156.5L1092.5 106.3L1093.1 114.7L1093.7 125.5L1094.2 114.6L1094.8 146.0L1095.4 128.6L1096.0 113.5L1096.5 123.6L1097.1 116.8L1097.7 138.8L1098.3 115.7L1098.8 119.6L1099.4 112.1L1100.0 90.8L1100.6 110.0L1101.2 123.5L1101.7 110.2L1102.3 131.1L1102.9 92.6L1103.5 111.5L1104.0 114.3L1104.6 107.4L1105.2 132.9L1105.8 118.2L1106.3 119.3L1106.9 84.1L1107.5 89.0L1108.1 74.2L1108.6 108.2L1109.2 112.2L1109.8 98.9L1110.4 123.5L1110.9 130.6L1111.5 94.1L1112.1 100.5L1112.7 106.7L1113.3 140.0L1113.8 125.9L1114.4 124.4L1115.0 61.8L1115.6 112.4L1116.1 129.2L1116.7 135.2L1117.3 89.2L1117.9 104.2L1118.4 129.4L1119.0 85.8L1119.6 102.1L1120.2 107.8L1120.7 152.5L1121.3 163.7L1121.9 109.6L1122.5 95.1L1123.1 86.0L1123.6 138.6L1124.2 88.5L1124.8 89.1L1125.4 109.7L1125.9 147.5L1126.5 89.3L1127.1 105.0L1127.7 102.9L1128.2 130.0L1128.8 106.7L1129.4 103.8L1130.0 89.5L1130.5 124.1L1131.1 147.6L1131.7 128.2L1132.3 140.8L1132.8 112.1L1133.4 117.5L1134.0 110.8L1134.6 94.0L1135.2 85.7L1135.7 108.5L1136.3 136.8L1136.9 117.5L1137.5 68.0L1138.0 82.9L1138.6 66.3L1139.2 64.5L1139.8 147.2L1140.3 109.8L1140.9 106.2L1141.5 108.1L1142.1 115.4L1142.6 101.1L1143.2 138.0L1143.8 120.1L1144.4 103.3L1144.9 120.7L1145.5 116.9L1146.1 93.0L1146.7 115.4L1147.3 128.6L1147.8 124.6L1148.4 111.0L1149.0 130.3L1149.6 117.3L1150.1 121.8L1150.7 115.3L1151.3 103.8L1151.9 102.4L1152.4 112.2L1153.0 110.4L1153.6 97.1L1154.2 125.2L1154.7 114.2L1155.3 132.1L1155.9 99.0L1156.5 111.1L1157.1 133.5L1157.6 125.2L1158.2 100.8L1158.8 109.2L1159.4 138.6L1159.9 92.3L1160.5 108.0L1161.1 108.1L1161.7 121.5L1162.2 127.5L1162.8 138.9L1163.4 117.7L1164.0 115.1L1164.5 118.5L1165.1 98.6L1165.7 108.1L1166.3 129.0L1166.8 123.0L1167.4 98.9L1168.0 132.6L1168.6 85.9L1169.2 118.2L1169.7 78.9L1170.3 101.9L1170.9 136.0L1171.5 110.7L1172.0 112.2L1172.6 120.3L1173.2 114.1L1173.8 113.3L1174.3 155.7L1174.9 110.2L1175.5 117.8L1176.1 114.2L1176.6 103.3L1177.2 112.4L1177.8 132.0L1178.4 99.6L1178.9 117.3L1179.5 110.9L1180.1 124.4L1180.7 117.8L1181.3 129.4L1181.8 92.7L1182.4 126.7L1183.0 101.2L1183.6 139.9L1184.1 113.9L1184.7 118.1L1185.3 99.6L1185.9 108.1L1186.4 80.6L1187.0 73.5L1187.6 115.3L1188.2 103.4L1188.7 126.5L1189.3 130.1L1189.9 117.0L1190.5 100.7L1191.1 101.7L1191.6 114.4L1192.2 96.8L1192.8 128.7L1193.4 138.1L1193.9 116.9L1194.5 141.0L1195.1 97.3L1195.7 112.9L1196.2 118.3L1196.8 107.4L1197.4 69.8L1198.0 117.8L1198.5 139.2L1199.1 119.6L1199.7 112.1L1200.3 89.2L1200.8 107.1L1201.4 92.2L1202.0 110.0" stroke="#328c06"/>
<path d="M626.3 125.3L626.9 118.2L627.5 133.1L628.0 120.4L628.6 99.6L629.2 99.1L629.8 104.3L630.3 123.6L630.9 95.2L631.5 100.8L632.1 124.3L632.6 94.4L633.2 115.0L633.8 105.0L634.4 102.2L634.9 103.1L635.5 90.8L636.1 79.0L636.7 101.0L637.2 108.1L637.8 111.4L638.4 101.4L639.0 102.4L639.6 128.0L640.1 112.2L640.7 82.0L641.3 96.5L641.9 94.7L642.4 108.9L643.0 82.9L643.6 98.9L644.2 113.3L644.7 121.6L645.3 105.9L645.9 86.7L646.5 116.2L647.0 125.3L647.6 145.7L648.2 106.3L648.8 125.3L649.4 123.5L649.9 127.8L650.5 126.0L651.1 103.0L651.7 125.5L652.2 110.5L652.8 121.5L653.4 118.3L654.0 103.7L654.5 96.1L655.1 126.3L655.7 114.2L656.3 125.1L656.8 104.1L657.4 119.3L658.0 125.9L658.6 102.8L659.1 121.7L659.7 111.0L660.3 102.3L660.9 118.0L661.5 117.4L662.0 104.7L662.6 82.0L663.2 99.6L663.8 100.4L664.3 109.7L664.9 112.1L665.5 92.4L666.1 119.3L666.6 122.9L667.2 94.2L667.8 120.1L668.4 130.8L668.9 108.1L669.5 98.4L670.1 86.6L670.7 80.7L671.2 138.9L671.8 122.2L672.4 117.5L673.0 107.5L673.6 123.2L674.1 113.1L674.7 108.1L675.3 108.5L675.9 129.4L676.4 110.2L677.0 123.9L677.6 125.6L678.2 117.7L678.7 102.1L679.3 139.1L679.9 116.8L680.5 84.3L681.0 107.0L681.6 118.8L682.2 109.4L682.8 90.6L683.4 110.9L683.9 126.9L684.5 98.2L685.1 114.4L685.7 122.3L686.2 97.2L686.8 128.0L687.4 121.1L688.0 95.4L688.5 107.3L689.1 84.7L689.7 134.8L690.3 149.3L690.8 126.9L691.4 116.4L692.0 151.6L692.6 113.4L693.1 120.2L693.7 120.9L694.3 113.8L694.9 116.2L695.5 130.0L696.0 118.4L696.6 130.3L697.2 89.0L697.8 116.7L698.3 116.9L698.9 128.1L699.5 113.7L700.1 109.4L700.6 114.0L701.2 127.5L701.8 99.8L702.4 110.0L702.9 139.4L703.5 153.9L704.1 134.1L704.7 132.5L705.2 139.7L705.8 130.4L706.4 110.8L707.0 96.0L707.6 107.0L708.1 107.2L708.7 87.8L709.3 82.2L709.9 92.8L710.4 101.6L711.0 112.9L711.6 135.5L712.2 108.8L712.7 96.4L713.3 105.8L713.9 119.4L714.5 105.6L715.0 112.9L715.6 121.2L716.2 142.6L716.8 107.8L717.4 152.1L717.9 98.6L718.5 119.5L719.1 112.6L719.7 120.7L720.2 80.2L720.8 91.2L721.4 109.4L722.0 93.2L722.5 127.1L723.1 105.7L723.7 119.5L724.3 115.6L724.8 119.6L725.4 105.4L726.0 137.2L726.6 122.7L727.1 95.8L727.7 152.6L728.3 120.0L728.9 132.7L729.5 150.8L730.0 113.0L730.6 119.5L731.2 96.6L731.8 136.8L732.3 110.7L732.9 91.0L733.5 135.6L734.1 103.8L734.6 102.2L735.2 107.8L735.8 82.7L736.4 100.4L736.9 120.5L737.5 124.2L738.1 116.0L738.7 90.7L739.3 110.5L739.8 100.0L740.4 112.0L741.0 103.5L741.6 103.4L742.1 94.4L742.7 84.9L743.3 114.7L743.9 138.1L744.4 115.5L745.0 112.9L745.6 105.8L746.2 89.6L746.7 115.5L747.3 112.0L747.9 111.5L748.5 96.9L749.0 115.3L749.6 96.2L750.2 83.6L750.8 110.0L751.4 92.2L751.9 101.1L752.5 110.5L753.1 84.3L753.7 90.4L754.2 112.0L754.8 103.5L755.4 119.4L756.0 131.9L756.5 99.8L757.1 108.9L757.7 88.3L758.3 105.0L758.8 106.0L759.4 111.5L760.0 108.4L760.6 121.5L761.1 115.6L761.7 148.8L762.3 140.9L762.9 134.9L763.5 123.2L764.0 114.0L764.6 113.9L765.2 95.8L765.8 79.0L766.3 140.3L766.9 95.9L767.5 36.9L768.1 117.0L768.6 109.7L769.2 139.2L769.8 118.6L770.4 91.2L770.9 162.8L771.5 121.8L772.1 111.4L772.7 102.3L773.3 109.2L773.8 118.6L774.4 103.6L775.0 118.5L775.6 81.5L776.1 90.0L776.7 106.6L777.3 122.2L777.9 125.9L778.4 129.5L779.0 121.2L779.6 106.5L780.2 129.2L780.7 111.9L781.3 111.5L781.9 125.1L782.5 96.6L783.0 102.9L783.6 105.9L784.2 119.0L784.8 123.2L785.4 113.2L785.9 132.9L786.5 109.8L787.1 127.6L787.7 114.6L788.2 103.3L788.8 114.4L789.4 126.5L790.0 124.0L790.5 111.8L791.1 127.8L791.7 116.8L792.3 99.7L792.8 137.4L793.4 127.1L794.0 110.6L794.6 127.8L795.1 129.5L795.7 165.2L796.3 103.7L796.9 142.1L797.5 122.3L798.0 119.0L798.6 113.2L799.2 124.0L799.8 113.6L800.3 120.5L800.9 134.4L801.5 81.7L802.1 94.9L802.6 125.5L803.2 125.0L803.8 108.8L804.4 93.6L804.9 112.8L805.5 103.5L806.1 108.8L806.7 97.1L807.3 121.4L807.8 131.7L808.4 110.9L809.0 107.0L809.6 111.5L810.1 96.7L810.7 101.3L811.3 109.6L811.9 128.9L812.4 102.4L813.0 100.5L813.6 120.0L814.2 115.2L814.7 128.8L815.3 114.2L815.9 116.1L816.5 150.6L817.0 116.7L817.6 121.2L818.2 118.4L818.8 92.8L819.4 104.2L819.9 93.0L820.5 115.3L821.1 95.3L821.7 125.3L822.2 99.4L822.8 132.4L823.4 112.5L824.0 126.9L824.5 135.5L825.1 106.7L825.7 109.0L826.3 105.2L826.8 110.9L827.4 108.6L828.0 112.5L828.6 114.9L829.1 111.2L829.7 82.6L830.3 121.8L830.9 135.2L831.5 128.7L832.0 124.2L832.6 106.6L833.2 97.0L833.8 94.9L834.3 112.4L834.9 102.4L835.5 85.9L836.1 99.5L836.6 92.7L837.2 122.2L837.8 101.3L838.4 99.5L838.9 126.8L839.5 113.3L840.1 103.4L840.7 122.8L841.3 101.2L841.8 97.3L842.4 105.2L843.0 112.1L843.6 114.5L844.1 103.9L844.7 96.2L845.3 128.3L845.9 111.5L846.4 108.2L847.0 129.7L847.6 131.8L848.2 118.0L848.7 149.1L849.3 112.6L849.9 116.2L850.5 128.2L851.0 115.6L851.6 131.4L852.2 124.2L852.8 98.5L853.4 121.0L853.9 154.0L854.5 113.8L855.1 127.3L855.7 127.3L856.2 84.1L856.8 110.6L857.4 101.3L858.0 130.4L858.5 130.0L859.1 127.0L859.7 101.0L860.3 121.0L860.8 141.9L861.4 106.6L862.0 123.1L862.6 112.7L863.1 102.6L863.7 83.1L864.3 108.6L864.9 91.2L865.5 128.8L866.0 113.0L866.6 108.6L867.2 144.1L867.8 131.5L868.3 133.8L868.9 107.9L869.5 119.2L870.1 119.8L870.6 123.5L871.2 108.0L871.8 113.4L872.4 114.0L872.9 116.4L873.5 104.0L874.1 121.4L874.7 114.4L875.3 112.8L875.8 107.3L876.4 98.4L877.0 105.5L877.6 130.1L878.1 95.6L878.7 94.6L879.3 59.1L879.9 97.7L880.4 131.5L881.0 116.5L881.6 101.8L882.2 99.4L882.7 110.8L883.3 109.5L883.9 126.4L884.5 108.0L885.0 140.5L885.6 118.7L886.2 99.7L886.8 126.1L887.4 96.7L887.9 83.5L888.5 100.1L889.1 116.7L889.7 118.7L890.2 129.1L890.8 103.8L891.4 125.4L892.0 110.5L892.5 126.2L893.1 105.8L893.7 129.5L894.3 115.5L894.8 121.7L895.4 99.2L896.0 114.7L896.6 113.8L897.1 96.7L897.7 124.3L898.3 130.5L898.9 116.4L899.5 126.0L900.0 91.3L900.6 106.2L901.2 107.0L901.8 115.4L902.3 151.9L902.9 100.9L903.5 111.4L904.1 140.6L904.6 142.0L905.2 114.9L905.8 95.9L906.4 100.5L906.9 105.5L907.5 102.9L908.1 123.4L908.7 122.7L909.3 113.5L909.8 130.7L910.4 114.1L911.0 103.1L911.6 144.0L912.1 119.7L912.7 116.8L913.3 111.1L913.9 88.4L914.4 127.4L915.0 88.2L915.6 99.3L916.2 79.7L916.7 110.9L917.3 103.7L917.9 112.7L918.5 105.0L919.0 123.2L919.6 124.5L920.2 116.2L920.8 103.8L921.4 128.9L921.9 119.2L922.5 121.8L923.1 107.5L923.7 100.6L924.2 131.2L924.8 129.0L925.4 119.5L926.0 127.4L926.5 63.3L927.1 78.0L927.7 98.5L928.3 103.1L928.8 134.3L929.4 136.9L930.0 108.6L930.6 92.1L931.2 114.0L931.7 106.4L932.3 90.3L932.9 85.9L933.5 122.2L934.0 109.9L934.6 102.0L935.2 134.2L935.8 122.3L936.3 111.2L936.9 119.8L937.5 106.3L938.1 117.1L938.6 137.9L939.2 134.3L939.8 146.2L940.4 137.0L940.9 108.3L941.5 106.2L942.1 105.5L942.7 94.9L943.3 126.3L943.8 122.1L944.4 112.7L945.0 80.6L945.6 105.8L946.1 114.0L946.7 109.0L947.3 125.3L947.9 143.3L948.4 110.9L949.0 119.0L949.6 107.8L950.2 129.2L950.7 128.3L951.3 105.1L951.9 109.1L952.5 100.1L953.0 120.7L953.6 114.0L954.2 103.9L954.8 99.9L955.4 111.8L955.9 108.9L956.5 113.9L957.1 115.5L957.7 115.6L958.2 107.1L958.8 131.3L959.4 119.0L960.0 128.3L960.5 115.6L961.1 117.6L961.7 111.8L962.3 117.2L962.8 116.6L963.4 134.2L964.0 98.5L964.6 130.9L965.2 143.8L965.7 113.8L966.3 106.1L966.9 114.5L967.5 119.1L968.0 131.2L968.6 92.2L969.2 135.3L969.8 86.3L970.3 132.5L970.9 142.9L971.5 120.6L972.1 121.7L972.6 108.7L973.2 133.3L973.8 121.1L974.4 138.3L974.9 101.9L975.5 116.8L976.1 132.9L976.7 115.8L977.3 102.3L977.8 107.2L978.4 129.1L979.0 113.7L979.6 109.0L980.1 107.2L980.7 117.2L981.3 100.9L981.9 136.9L982.4 114.0L983.0 132.2L983.6 114.3L984.2 126.8L984.7 105.2L985.3 117.7L985.9 89.9L986.5 123.8L987.0 101.0L987.6 123.1L988.2 148.7L988.8 144.3L989.4 104.1L989.9 106.9L990.5 105.8L991.1 117.5L991.7 108.9L992.2 126.4L992.8 81.7L993.4 88.6L994.0 103.1L994.5 119.5L995.1 122.9L995.7 105.7L996.3 106.6L996.8 124.2L997.4 99.9L998.0 99.7L998.6 102.9L999.2 105.3L999.7 107.7L1000.3 111.3L1000.9 116.1L1001.5 121.1L1002.0 97.1L1002.6 131.2L1003.2 113.1L1003.8 94.2L1004.3 81.2L1004.9 111.4L1005.5 93.7L1006.1 92.1L1006.6 96.2L1007.2 84.8L1007.8 130.2L1008.4 100.9L1008.9 110.7L1009.5 104.9L1010.1 111.8L1010.7 128.4L1011.3 139.2L1011.8 109.1L1012.4 113.9L1013.0 140.3L1013.6 115.6L1014.1 135.8L1014.7 125.6L1015.3 110.8L1015.9 100.9L1016.4 137.2L1017.0 116.5L1017.6 104.1L1018.2 128.1L1018.7 118.6L1019.3 108.2L1019.9 99.0L1020.5 125.8L1021.0 137.3L1021.6 124.4L1022.2 125.8L1022.8 114.0L1023.4 111.8L1023.9 151.3L1024.5 106.3L1025.1 135.0L1025.7 110.8L1026.2 105.2L1026.8 105.5L1027.4 107.1L1028.0 106.6L1028.5 122.5L1029.1 125.5L1029.7 86.1L1030.3 87.3L1030.8 90.7L1031.4 98.2L1032.0 144.1L1032.6 90.3L1033.2 111.9L1033.7 112.6L1034.3 102.1L1034.9 120.2L1035.5 96.2L1036.0 144.3L1036.6 100.5L1037.2 103.6L1037.8 123.1L1038.3 102.6L1038.9 86.0L1039.5 99.4L1040.1 98.1L1040.6 113.7L1041.2 98.7L1041.8 96.6L1042.4 93.1L1042.9 94.4L1043.5 134.6L1044.1 108.4L1044.7 130.6L1045.3 126.3L1045.8 116.8L1046.4 110.5L1047.0 117.1L1047.6 107.4L1048.1 105.7L1048.7 108.1L1049.3 111.5L1049.9 108.4L1050.4 98.8L1051.0 125.1L1051.6 137.1L1052.2 97.8L1052.7 110.4L1053.3 153.7L1053.9 103.6L1054.5 97.5L1055.0 138.0L1055.6 134.8L1056.2 124.7L1056.8 133.4L1057.4 126.1L1057.9 117.1L1058.5 101.4L1059.1 147.3L1059.7 118.1L1060.2 100.2L1060.8 146.7L1061.4 114.6L1062.0 115.3L1062.5 128.0L1063.1 100.8L1063.7 95.0L1064.3 96.4L1064.8 84.1L1065.4 119.3L1066.0 144.4L1066.6 125.8L1067.2 113.3L1067.7 98.0L1068.3 99.4L1068.9 120.7L1069.5 96.4L1070.0 104.7L1070.6 108.8L1071.2 115.7L1071.8 108.0L1072.3 104.7L1072.9 111.7L1073.5 153.8L1074.1 131.0L1074.6 109.8L1075.2 91.8L1075.8 94.4L1076.4 95.7L1076.9 78.0L1077.5 100.1L1078.1 93.4L1078.7 96.4L1079.3 103.9L1079.8 124.5L1080.4 138.2L1081.0 110.1L1081.6 129.8L1082.1 116.8L1082.7 103.2L1083.3 121.2L1083.9 101.4L1084.4 109.7L1085.0 124.6L1085.6 106.0L1086.2 101.7L1086.7 117.6L1087.3 102.7L1087.9 127.3L1088.5 113.0L1089.0 107.9L1089.6 126.1L1090.2 112.7L1090.8 82.4L1091.4 118.1L1091.9 129.1L1092.5 135.3L1093.1 126.4L1093.7 130.0L1094.2 138.8L1094.8 114.5L1095.4 107.6L1096.0 125.0L1096.5 112.9L1097.1 99.4L1097.7 104.8L1098.3 107.9L1098.8 101.8L1099.4 119.4L1100.0 100.6L1100.6 76.9L1101.2 116.6L1101.7 139.6L1102.3 125.9L1102.9 127.8L1103.5 109.6L1104.0 95.1L1104.6 95.0L1105.2 86.4L1105.8 101.3L1106.3 108.3L1106.9 138.9L1107.5 109.5L1108.1 119.9L1108.6 120.0L1109.2 116.2L1109.8 90.0L1110.4 69.8L1110.9 106.0L1111.5 130.9L1112.1 120.0L1112.7 116.2L1113.3 100.0L1113.8 96.3L1114.4 97.2L1115.0 123.0L1115.6 100.0L1116.1 78.0L1116.7 132.0L1117.3 127.9L1117.9 112.7L1118.4 98.4L1119.0 105.6L1119.6 108.9L1120.2 91.1L1120.7 123.4L1121.3 143.1L1121.9 138.4L1122.5 104.4L1123.1 89.6L1123.6 115.1L1124.2 133.1L1124.8 127.4L1125.4 107.0L1125.9 98.8L1126.5 119.0L1127.1 132.5L1127.7 127.4L1128.2 123.5L1128.8 104.9L1129.4 108.8L1130.0 107.1L1130.5 110.4L1131.1 109.6L1131.7 131.0L1132.3 141.5L1132.8 110.5L1133.4 106.8L1134.0 97.5L1134.6 111.3L1135.2 124.9L1135.7 117.5L1136.3 116.9L1136.9 105.8L1137.5 114.8L1138.0 105.5L1138.6 103.8L1139.2 103.6L1139.8 97.8L1140.3 131.7L1140.9 98.5L1141.5 78.1L1142.1 96.8L1142.6 78.2L1143.2 95.8L1143.8 119.4L1144.4 104.1L1144.9 109.8L1145.5 112.0L1146.1 89.0L1146.7 119.4L1147.3 96.5L1147.8 115.8L1148.4 135.8L1149.0 98.9L1149.6 107.2L1150.1 106.2L1150.7 105.5L1151.3 94.5L1151.9 102.1L1152.4 111.4L1153.0 110.5L1153.6 103.0L1154.2 115.5L1154.7 104.3L1155.3 137.0L1155.9 114.4L1156.5 109.6L1157.1 92.3L1157.6 122.3L1158.2 113.5L1158.8 103.3L1159.4 75.5L1159.9 100.5L1160.5 92.1L1161.1 114.6L1161.7 82.1L1162.2 107.3L1162.8 111.6L1163.4 107.0L1164.0 126.6L1164.5 125.5L1165.1 116.4L1165.7 121.4L1166.3 98.1L1166.8 114.3L1167.4 81.8L1168.0 101.5L1168.6 118.4L1169.2 108.5L1169.7 100.3L1170.3 108.0L1170.9 103.6L1171.5 111.9L1172.0 121.0L1172.6 112.9L1173.2 87.5L1173.8 112.0L1174.3 111.3L1174.9 131.7L1175.5 122.6L1176.1 105.2L1176.6 174.4L1177.2 96.3L1177.8 96.0L1178.4 114.6L1178.9 112.7L1179.5 102.4L1180.1 104.7L1180.7 114.1L1181.3 149.3L1181.8 96.8L1182.4 108.2L1183.0 105.8L1183.6 120.3L1184.1 93.0L1184.7 109.5L1185.3 108.2L1185.9 138.9L1186.4 121.5L1187.0 114.0L1187.6 106.1L1188.2 101.4L1188.7 112.4L1189.3 90.0L1189.9 110.0L1190.5 113.6L1191.1 111.8L1191.6 135.0L1192.2 145.9L1192.8 92.7L1193.4 144.6L1193.9 123.3L1194.5 105.6L1195.1 124.5L1195.7 98.7L1196.2 149.5L1196.8 114.8L1197.4 104.1L1198.0 83.0L1198.5 88.3L1199.1 118.4L1199.7 101.7L1200.3 106.7L1200.8 128.1L1201.4 121.7L1202.0 92.9" stroke="#c10c90"/>
</g>
<g clip-path="url(#cr1)" fill="none" stroke-width="1.5" stroke-opacity="0.35" stroke-linejoin="round" stroke-linecap="round">
<path d="M626.3 271.8L626.9 328.4L627.5 303.1L628.0 317.1L628.6 317.2L629.2 294.7L629.8 304.5L630.3 299.8L630.9 294.3L631.5 289.8L632.1 319.4L632.6 333.3L633.2 305.3L633.8 299.8L634.4 317.6L634.9 303.5L635.5 327.3L636.1 313.7L636.7 311.7L637.2 304.6L637.8 297.4L638.4 310.4L639.0 305.1L639.6 318.9L640.1 297.7L640.7 296.9L641.3 312.5L641.9 279.5L642.4 302.6L643.0 308.7L643.6 311.7L644.2 300.5L644.7 302.0L645.3 313.4L645.9 299.1L646.5 288.5L647.0 281.1L647.6 284.1L648.2 306.4L648.8 314.9L649.4 297.4L649.9 284.1L650.5 271.8L651.1 302.2L651.7 318.7L652.2 319.7L652.8 300.5L653.4 293.3L654.0 314.9L654.5 322.1L655.1 334.2L655.7 292.5L656.3 335.5L656.8 299.4L657.4 306.3L658.0 333.8L658.6 326.6L659.1 294.3L659.7 303.7L660.3 308.5L660.9 278.4L661.5 301.6L662.0 303.9L662.6 303.8L663.2 304.2L663.8 280.3L664.3 313.2L664.9 290.8L665.5 281.6L666.1 310.7L666.6 299.6L667.2 322.1L667.8 307.0L668.4 278.3L668.9 289.6L669.5 309.1L670.1 298.2L670.7 297.6L671.2 302.8L671.8 303.1L672.4 277.9L673.0 338.9L673.6 319.9L674.1 295.3L674.7 305.9L675.3 301.1L675.9 300.9L676.4 308.4L677.0 306.0L677.6 317.1L678.2 307.7L678.7 288.5L679.3 289.9L679.9 296.2L680.5 308.0L681.0 312.0L681.6 331.9L682.2 312.6L682.8 321.3L683.4 318.7L683.9 313.1L684.5 305.7L685.1 304.3L685.7 305.8L686.2 322.9L686.8 320.1L687.4 298.1L688.0 306.6L688.5 300.7L689.1 303.2L689.7 284.5L690.3 279.6L690.8 270.5L691.4 303.9L692.0 286.8L692.6 323.2L693.1 298.2L693.7 298.1L694.3 310.0L694.9 285.4L695.5 300.4L696.0 327.6L696.6 287.4L697.2 301.5L697.8 293.5L698.3 313.0L698.9 317.7L699.5 325.3L700.1 324.3L700.6 298.1L701.2 296.6L701.8 328.3L702.4 308.9L702.9 305.7L703.5 317.0L704.1 303.4L704.7 317.2L705.2 286.3L705.8 308.6L706.4 304.4L707.0 348.3L707.6 321.8L708.1 309.2L708.7 317.2L709.3 312.4L709.9 322.7L710.4 298.1L711.0 321.9L711.6 315.0L712.2 289.0L712.7 375.4L713.3 306.1L713.9 262.0L714.5 338.5L715.0 307.3L715.6 305.4L716.2 312.6L716.8 313.7L717.4 279.8L717.9 291.7L718.5 305.9L719.1 363.1L719.7 314.0L720.2 304.6L720.8 311.6L721.4 307.4L722.0 314.7L722.5 298.7L723.1 303.4L723.7 333.6L724.3 272.3L724.8 298.4L725.4 313.4L726.0 327.1L726.6 309.6L727.1 317.3L727.7 284.9L728.3 297.2L728.9 315.0L729.5 334.7L730.0 300.4L730.6 331.4L731.2 304.3L731.8 305.4L732.3 344.5L732.9 323.8L733.5 285.6L734.1 317.8L734.6 341.0L735.2 348.0L735.8 313.9L736.4 304.8L736.9 289.0L737.5 299.8L738.1 321.5L738.7 316.7L739.3 312.9L739.8 311.2L740.4 327.5L741.0 298.8L741.6 291.6L742.1 307.6L742.7 305.0L743.3 326.8L743.9 307.7L744.4 320.1L745.0 323.3L745.6 298.9L746.2 304.7L746.7 314.6L747.3 333.4L747.9 311.5L748.5 284.6L749.0 299.9L749.6 303.2L750.2 289.4L750.8 275.6L751.4 286.5L751.9 290.4L752.5 301.7L753.1 254.7L753.7 294.8L754.2 289.6L754.8 311.0L755.4 302.7L756.0 301.6L756.5 307.0L757.1 315.6L757.7 352.3L758.3 310.4L758.8 341.1L759.4 299.5L760.0 326.9L760.6 298.2L761.1 340.9L761.7 311.5L762.3 281.0L762.9 305.3L763.5 289.0L764.0 309.3L764.6 318.0L765.2 312.0L765.8 293.2L766.3 285.2L766.9 282.2L767.5 289.4L768.1 303.9L768.6 335.3L769.2 322.0L769.8 286.3L770.4 327.4L770.9 302.3L771.5 299.5L772.1 341.5L772.7 304.9L773.3 314.8L773.8 304.4L774.4 307.8L775.0 311.4L775.6 328.8L776.1 348.2L776.7 285.4L777.3 316.6L777.9 312.1L778.4 316.7L779.0 312.2L779.6 319.0L780.2 300.5L780.7 305.9L781.3 314.0L781.9 316.9L782.5 297.3L783.0 319.7L783.6 300.9L784.2 286.1L784.8 287.7L785.4 295.6L785.9 340.7L786.5 299.1L787.1 301.2L787.7 285.0L788.2 311.0L788.8 313.4L789.4 274.8L790.0 314.6L790.5 290.0L791.1 298.4L791.7 340.2L792.3 318.0L792.8 314.6L793.4 327.6L794.0 347.6L794.6 310.9L795.1 322.3L795.7 318.8L796.3 322.6L796.9 315.0L797.5 299.9L798.0 293.5L798.6 290.7L799.2 310.1L799.8 309.3L800.3 298.4L800.9 286.6L801.5 304.6L802.1 335.2L802.6 304.7L803.2 290.8L803.8 311.7L804.4 289.5L804.9 310.8L805.5 306.9L806.1 301.0L806.7 281.9L807.3 327.9L807.8 296.7L808.4 294.0L809.0 306.1L809.6 291.2L810.1 313.8L810.7 325.4L811.3 328.2L811.9 320.2L812.4 334.3L813.0 301.7L813.6 305.5L814.2 328.4L814.7 286.1L815.3 299.8L815.9 330.6L816.5 337.5L817.0 310.1L817.6 276.4L818.2 308.0L818.8 283.9L819.4 280.4L819.9 291.8L820.5 309.0L821.1 327.0L821.7 319.7L822.2 288.5L822.8 301.2L823.4 321.3L824.0 249.9L824.5 310.6L825.1 290.3L825.7 315.8L826.3 279.8L826.8 299.1L827.4 300.0L828.0 322.6L828.6 302.6L829.1 301.9L829.7 295.0L830.3 315.4L830.9 302.8L831.5 329.7L832.0 325.5L832.6 267.9L833.2 308.6L833.8 325.3L834.3 295.2L834.9 307.5L835.5 271.5L836.1 295.6L836.6 295.2L837.2 308.8L837.8 289.9L838.4 301.5L838.9 270.5L839.5 313.4L840.1 300.6L840.7 287.7L841.3 330.8L841.8 317.3L842.4 320.5L843.0 334.5L843.6 305.7L844.1 350.2L844.7 333.6L845.3 328.9L845.9 306.1L846.4 309.3L847.0 292.0L847.6 286.8L848.2 301.8L848.7 321.6L849.3 298.8L849.9 323.0L850.5 313.7L851.0 307.7L851.6 284.9L852.2 269.9L852.8 271.6L853.4 310.2L853.9 293.4L854.5 285.4L855.1 321.9L855.7 305.7L856.2 316.8L856.8 317.6L857.4 306.6L858.0 304.3L858.5 318.0L859.1 307.7L859.7 325.8L860.3 314.4L860.8 305.0L861.4 313.4L862.0 360.5L862.6 322.2L863.1 303.0L863.7 291.7L864.3 290.1L864.9 288.8L865.5 278.5L866.0 308.7L866.6 289.8L867.2 316.4L867.8 282.1L868.3 288.3L868.9 326.1L869.5 293.1L870.1 290.5L870.6 316.5L871.2 303.1L871.8 293.2L872.4 277.7L872.9 312.2L873.5 284.1L874.1 318.6L874.7 321.2L875.3 288.6L875.8 292.8L876.4 316.1L877.0 285.0L877.6 296.0L878.1 302.1L878.7 310.0L879.3 343.6L879.9 312.4L880.4 293.4L881.0 304.1L881.6 295.8L882.2 306.4L882.7 285.9L883.3 344.4L883.9 305.4L884.5 320.8L885.0 305.6L885.6 296.9L886.2 287.9L886.8 291.9L887.4 286.4L887.9 319.1L888.5 306.4L889.1 339.0L889.7 306.6L890.2 332.0L890.8 294.8L891.4 302.1L892.0 310.4L892.5 317.5L893.1 305.7L893.7 321.1L894.3 330.3L894.8 304.6L895.4 320.1L896.0 302.0L896.6 321.2L897.1 328.1L897.7 277.8L898.3 293.9L898.9 287.1L899.5 308.1L900.0 308.0L900.6 307.5L901.2 278.6L901.8 293.0L902.3 303.7L902.9 307.3L903.5 306.3L904.1 291.5L904.6 304.2L905.2 305.7L905.8 286.5L906.4 289.3L906.9 283.9L907.5 276.5L908.1 303.6L908.7 323.8L909.3 333.9L909.8 311.9L910.4 304.0L911.0 292.0L911.6 326.6L912.1 341.4L912.7 317.5L913.3 312.4L913.9 329.5L914.4 313.2L915.0 292.4L915.6 309.5L916.2 274.6L916.7 291.5L917.3 323.3L917.9 312.3L918.5 330.3L919.0 279.2L919.6 307.5L920.2 315.4L920.8 292.2L921.4 311.3L921.9 318.8L922.5 310.6L923.1 293.4L923.7 281.3L924.2 326.7L924.8 335.6L925.4 305.5L926.0 312.6L926.5 316.0L927.1 285.7L927.7 295.0L928.3 314.6L928.8 300.0L929.4 318.4L930.0 317.7L930.6 281.6L931.2 307.7L931.7 299.9L932.3 310.7L932.9 313.3L933.5 326.1L934.0 338.8L934.6 292.1L935.2 274.3L935.8 292.4L936.3 296.9L936.9 314.3L937.5 310.7L938.1 285.1L938.6 270.4L939.2 281.2L939.8 294.1L940.4 289.4L940.9 302.5L941.5 318.2L942.1 322.6L942.7 313.6L943.3 314.4L943.8 342.5L944.4 339.4L945.0 300.2L945.6 283.0L946.1 241.4L946.7 308.4L947.3 317.9L947.9 309.5L948.4 302.8L949.0 314.0L949.6 291.9L950.2 315.5L950.7 342.4L951.3 302.6L951.9 293.1L952.5 307.7L953.0 291.8L953.6 286.9L954.2 341.7L954.8 306.3L955.4 325.8L955.9 299.6L956.5 299.3L957.1 285.9L957.7 309.0L958.2 316.7L958.8 304.2L959.4 272.8L960.0 295.0L960.5 321.4L961.1 309.5L961.7 311.1L962.3 288.3L962.8 302.2L963.4 310.9L964.0 304.8L964.6 317.5L965.2 301.3L965.7 323.0L966.3 316.3L966.9 305.0L967.5 327.9L968.0 330.6L968.6 330.8L969.2 276.7L969.8 291.1L970.3 301.2L970.9 291.1L971.5 291.3L972.1 313.5L972.6 324.8L973.2 291.0L973.8 314.2L974.4 298.0L974.9 329.3L975.5 311.0L976.1 326.6L976.7 299.5L977.3 294.0L977.8 298.7L978.4 285.4L979.0 312.7L979.6 301.3L980.1 296.8L980.7 324.8L981.3 299.1L981.9 297.7L982.4 298.7L983.0 309.7L983.6 307.5L984.2 299.5L984.7 301.5L985.3 297.5L985.9 326.0L986.5 295.1L987.0 317.0L987.6 283.7L988.2 326.8L988.8 319.2L989.4 304.5L989.9 300.3L990.5 312.5L991.1 329.5L991.7 299.6L992.2 289.9L992.8 323.9L993.4 327.1L994.0 319.0L994.5 310.3L995.1 334.2L995.7 326.8L996.3 299.8L996.8 324.0L997.4 321.2L998.0 275.4L998.6 287.2L999.2 279.1L999.7 299.9L1000.3 308.4L1000.9 313.2L1001.5 330.3L1002.0 341.0L1002.6 313.3L1003.2 319.7L1003.8 299.1L1004.3 290.8L1004.9 327.8L1005.5 331.0L1006.1 306.6L1006.6 285.2L1007.2 270.0L1007.8 312.7L1008.4 306.2L1008.9 274.0L1009.5 314.4L1010.1 322.9L1010.7 288.3L1011.3 314.3L1011.8 326.0L1012.4 284.9L1013.0 310.3L1013.6 312.6L1014.1 298.2L1014.7 282.1L1015.3 290.3L1015.9 299.8L1016.4 298.5L1017.0 298.2L1017.6 300.1L1018.2 331.3L1018.7 304.6L1019.3 336.2L1019.9 320.1L1020.5 305.6L1021.0 307.2L1021.6 300.4L1022.2 303.7L1022.8 298.3L1023.4 277.7L1023.9 318.1L1024.5 290.9L1025.1 268.2L1025.7 307.4L1026.2 311.2L1026.8 307.9L1027.4 294.4L1028.0 315.3L1028.5 312.5L1029.1 307.0L1029.7 304.8L1030.3 284.0L1030.8 309.7L1031.4 285.9L1032.0 291.9L1032.6 300.6L1033.2 302.5L1033.7 323.1L1034.3 318.1L1034.9 301.7L1035.5 301.2L1036.0 308.5L1036.6 288.3L1037.2 297.0L1037.8 303.6L1038.3 307.3L1038.9 289.5L1039.5 294.7L1040.1 299.0L1040.6 332.6L1041.2 272.1L1041.8 323.2L1042.4 357.9L1042.9 323.0L1043.5 343.0L1044.1 350.2L1044.7 314.2L1045.3 302.8L1045.8 311.5L1046.4 314.6L1047.0 329.1L1047.6 313.1L1048.1 312.0L1048.7 331.0L1049.3 318.3L1049.9 314.2L1050.4 325.9L1051.0 293.9L1051.6 335.3L1052.2 281.4L1052.7 286.4L1053.3 311.5L1053.9 283.8L1054.5 287.1L1055.0 275.3L1055.6 301.5L1056.2 321.8L1056.8 340.5L1057.4 308.2L1057.9 309.2L1058.5 316.8L1059.1 278.5L1059.7 295.7L1060.2 328.7L1060.8 312.5L1061.4 300.4L1062.0 325.5L1062.5 306.2L1063.1 312.4L1063.7 330.8L1064.3 304.5L1064.8 296.8L1065.4 342.9L1066.0 306.1L1066.6 315.9L1067.2 313.7L1067.7 333.5L1068.3 326.6L1068.9 273.1L1069.5 293.3L1070.0 307.5L1070.6 305.9L1071.2 319.7L1071.8 310.8L1072.3 321.0L1072.9 305.3L1073.5 324.3L1074.1 306.3L1074.6 295.7L1075.2 310.2L1075.8 303.3L1076.4 302.7L1076.9 318.9L1077.5 330.0L1078.1 294.7L1078.7 303.9L1079.3 311.1L1079.8 289.0L1080.4 316.9L1081.0 316.3L1081.6 319.3L1082.1 324.8L1082.7 311.8L1083.3 317.5L1083.9 277.5L1084.4 314.1L1085.0 289.7L1085.6 318.1L1086.2 317.1L1086.7 307.3L1087.3 320.5L1087.9 299.1L1088.5 314.7L1089.0 318.3L1089.6 298.5L1090.2 317.0L1090.8 299.3L1091.4 289.9L1091.9 292.7L1092.5 283.8L1093.1 310.8L1093.7 288.8L1094.2 312.1L1094.8 332.6L1095.4 313.4L1096.0 279.4L1096.5 317.9L1097.1 282.4L1097.7 325.0L1098.3 296.4L1098.8 298.2L1099.4 312.4L1100.0 349.3L1100.6 302.3L1101.2 297.0L1101.7 298.3L1102.3 291.3L1102.9 317.0L1103.5 279.3L1104.0 242.2L1104.6 316.0L1105.2 277.0L1105.8 302.2L1106.3 299.6L1106.9 293.5L1107.5 324.2L1108.1 330.6L1108.6 311.7L1109.2 325.3L1109.8 312.8L1110.4 287.3L1110.9 329.2L1111.5 307.8L1112.1 315.8L1112.7 296.2L1113.3 323.4L1113.8 336.5L1114.4 315.9L1115.0 278.9L1115.6 317.7L1116.1 346.0L1116.7 327.2L1117.3 300.3L1117.9 293.3L1118.4 306.2L1119.0 304.0L1119.6 339.4L1120.2 305.2L1120.7 310.0L1121.3 318.1L1121.9 287.7L1122.5 281.4L1123.1 312.7L1123.6 305.5L1124.2 336.6L1124.8 328.9L1125.4 292.1L1125.9 323.3L1126.5 325.0L1127.1 294.4L1127.7 340.0L1128.2 324.2L1128.8 295.7L1129.4 314.1L1130.0 331.4L1130.5 336.8L1131.1 308.1L1131.7 331.7L1132.3 305.6L1132.8 310.5L1133.4 308.7L1134.0 292.2L1134.6 316.4L1135.2 323.8L1135.7 312.6L1136.3 304.8L1136.9 310.5L1137.5 334.2L1138.0 302.2L1138.6 333.7L1139.2 349.3L1139.8 299.4L1140.3 273.9L1140.9 308.8L1141.5 321.0L1142.1 289.4L1142.6 325.5L1143.2 310.9L1143.8 317.2L1144.4 296.7L1144.9 302.2L1145.5 318.9L1146.1 293.1L1146.7 294.7L1147.3 304.6L1147.8 311.7L1148.4 309.3L1149.0 327.2L1149.6 314.0L1150.1 312.2L1150.7 296.1L1151.3 309.4L1151.9 314.0L1152.4 304.7L1153.0 284.6L1153.6 297.0L1154.2 307.6L1154.7 314.1L1155.3 278.2L1155.9 304.3L1156.5 325.4L1157.1 306.7L1157.6 345.1L1158.2 319.5L1158.8 299.7L1159.4 309.2L1159.9 315.4L1160.5 297.4L1161.1 288.5L1161.7 319.1L1162.2 336.3L1162.8 321.1L1163.4 326.7L1164.0 303.1L1164.5 296.0L1165.1 307.1L1165.7 323.6L1166.3 333.6L1166.8 313.9L1167.4 320.6L1168.0 302.9L1168.6 336.1L1169.2 318.9L1169.7 319.9L1170.3 293.8L1170.9 294.1L1171.5 293.6L1172.0 303.1L1172.6 297.0L1173.2 333.0L1173.8 298.1L1174.3 357.9L1174.9 285.8L1175.5 281.6L1176.1 286.9L1176.6 318.4L1177.2 267.0L1177.8 292.3L1178.4 300.5L1178.9 318.6L1179.5 302.7L1180.1 337.3L1180.7 282.7L1181.3 297.3L1181.8 305.9L1182.4 275.9L1183.0 295.8L1183.6 298.3L1184.1 312.8L1184.7 302.4L1185.3 332.3L1185.9 335.8L1186.4 306.7L1187.0 315.7L1187.6 328.2L1188.2 312.4L1188.7 334.7L1189.3 287.5L1189.9 322.9L1190.5 321.7L1191.1 285.8L1191.6 326.1L1192.2 341.3L1192.8 312.1L1193.4 311.5L1193.9 292.5L1194.5 305.5L1195.1 331.0L1195.7 308.7L1196.2 310.9L1196.8 289.0L1197.4 299.8L1198.0 319.9L1198.5 319.2L1199.1 308.3L1199.7 313.3L1200.3 304.6L1200.8 302.5L1201.4 323.9L1202.0 305.8" stroke="#2a2eec"/>
<path d="M626.3 295.4L626.9 319.7L627.5 303.3L628.0 318.3L628.6 304.9L629.2 301.0L629.8 331.3L630.3 257.3L630.9 307.8L631.5 301.1L632.1 308.4L632.6 317.6L633.2 327.2L633.8 344.6L634.4 285.2L634.9 338.4L635.5 311.5L636.1 313.7L636.7 306.0L637.2 327.6L637.8 325.3L638.4 306.0L639.0 334.2L639.6 311.9L640.1 329.6L640.7 311.2L641.3 303.5L641.9 309.4L642.4 302.2L643.0 326.5L643.6 321.4L644.2 318.0L644.7 289.8L645.3 316.8L645.9 312.1L646.5 283.5L647.0 305.7L647.6 296.4L648.2 324.9L648.8 298.3L649.4 309.7L649.9 303.6L650.5 293.9L651.1 346.7L651.7 292.0L652.2 316.4L652.8 294.5L653.4 315.9L654.0 309.2L654.5 333.0L655.1 331.4L655.7 299.1L656.3 322.7L656.8 310.1L657.4 313.0L658.0 337.3L658.6 318.3L659.1 315.6L659.7 303.5L660.3 317.2L660.9 322.1L661.5 291.8L662.0 276.6L662.6 307.2L663.2 333.5L663.8 307.9L664.3 319.0L664.9 290.6L665.5 308.9L666.1 321.0L666.6 317.9L667.2 326.2L667.8 315.1L668.4 330.2L668.9 311.7L669.5 298.9L670.1 302.5L670.7 324.0L671.2 308.0L671.8 317.5L672.4 332.5L673.0 317.0L673.6 299.5L674.1 307.1L674.7 316.7L675.3 328.8L675.9 314.8L676.4 305.8L677.0 308.4L677.6 293.6L678.2 297.0L678.7 294.5L679.3 314.1L679.9 305.7L680.5 310.7L681.0 303.5L681.6 306.5L682.2 276.1L682.8 322.9L683.4 307.7L683.9 318.2L684.5 304.3L685.1 306.7L685.7 286.9L686.2 309.9L686.8 321.0L687.4 307.8L688.0 306.4L688.5 338.8L689.1 286.8L689.7 320.9L690.3 288.6L690.8 288.4L691.4 286.2L692.0 304.0L692.6 321.7L693.1 329.8L693.7 293.1L694.3 315.0L694.9 302.1L695.5 315.1L696.0 319.5L696.6 296.9L697.2 322.0L697.8 315.1L698.3 315.3L698.9 308.9L699.5 311.7L700.1 325.2L700.6 318.7L701.2 320.0L701.8 281.7L702.4 293.5L702.9 309.0L703.5 307.5L704.1 314.0L704.7 285.3L705.2 309.3L705.8 324.1L706.4 268.6L707.0 313.4L707.6 319.3L708.1 333.2L708.7 306.4L709.3 319.8L709.9 323.0L710.4 296.9L711.0 286.0L711.6 301.7L712.2 324.3L712.7 304.8L713.3 318.7L713.9 307.0L714.5 305.1L715.0 326.2L715.6 299.0L716.2 307.7L716.8 310.7L717.4 333.1L717.9 297.9L718.5 323.4L719.1 310.0L719.7 324.7L720.2 329.6L720.8 330.3L721.4 335.3L722.0 325.8L722.5 281.9L723.1 290.7L723.7 320.4L724.3 323.5L724.8 288.6L725.4 294.9L726.0 308.1L726.6 315.8L727.1 317.2L727.7 349.1L728.3 324.9L728.9 281.5L729.5 282.2L730.0 310.6L730.6 298.2L731.2 299.6L731.8 321.8L732.3 324.6L732.9 321.4L733.5 309.7L734.1 290.0L734.6 303.9L735.2 309.6L735.8 316.8L736.4 282.3L736.9 282.8L737.5 302.6L738.1 313.0L738.7 306.2L739.3 300.8L739.8 290.6L740.4 292.3L741.0 324.5L741.6 313.5L742.1 317.1L742.7 301.6L743.3 325.1L743.9 336.5L744.4 314.0L745.0 318.4L745.6 318.3L746.2 313.7L746.7 324.2L747.3 311.7L747.9 326.9L748.5 329.4L749.0 305.8L749.6 314.8L750.2 294.1L750.8 304.0L751.4 320.2L751.9 320.3L752.5 326.7L753.1 313.6L753.7 303.2L754.2 310.0L754.8 307.6L755.4 324.2L756.0 293.9L756.5 299.5L757.1 293.9L757.7 332.1L758.3 316.3L758.8 322.7L759.4 279.0L760.0 310.7L760.6 278.5L761.1 299.0L761.7 317.8L762.3 293.1L762.9 282.5L763.5 309.3L764.0 319.2L764.6 313.1L765.2 327.7L765.8 337.0L766.3 341.3L766.9 324.3L767.5 330.6L768.1 312.0L768.6 305.5L769.2 294.8L769.8 304.9L770.4 313.7L770.9 282.7L771.5 323.3L772.1 339.8L772.7 333.7L773.3 321.1L773.8 301.5L774.4 286.6L775.0 323.3L775.6 296.8L776.1 303.3L776.7 294.9L777.3 324.1L777.9 316.7L778.4 339.7L779.0 317.5L779.6 321.4L780.2 301.6L780.7 292.6L781.3 321.7L781.9 299.0L782.5 292.8L783.0 312.6L783.6 273.1L784.2 318.4L784.8 331.3L785.4 314.1L785.9 285.3L786.5 292.7L787.1 332.5L787.7 321.8L788.2 293.7L788.8 319.0L789.4 314.4L790.0 325.7L790.5 283.7L791.1 281.6L791.7 324.7L792.3 336.3L792.8 304.8L793.4 303.4L794.0 309.4L794.6 308.5L795.1 314.5L795.7 296.7L796.3 294.8L796.9 288.1L797.5 293.1L798.0 315.9L798.6 317.3L799.2 318.1L799.8 309.2L800.3 319.9L800.9 323.4L801.5 319.1L802.1 317.6L802.6 313.3L803.2 286.2L803.8 286.4L804.4 314.1L804.9 309.4L805.5 314.5L806.1 323.2L806.7 304.4L807.3 346.5L807.8 313.3L808.4 315.9L809.0 329.1L809.6 307.3L810.1 296.2L810.7 305.8L811.3 304.5L811.9 323.6L812.4 305.8L813.0 288.6L813.6 264.5L814.2 281.3L814.7 331.8L815.3 297.2L815.9 319.4L816.5 310.0L817.0 312.1L817.6 312.0L818.2 289.3L818.8 314.2L819.4 309.4L819.9 352.5L820.5 311.4L821.1 339.8L821.7 331.4L822.2 322.2L822.8 326.1L823.4 304.8L824.0 309.7L824.5 323.0L825.1 328.0L825.7 332.7L826.3 323.1L826.8 274.8L827.4 342.1L828.0 286.3L828.6 309.1L829.1 314.8L829.7 320.7L830.3 330.3L830.9 305.8L831.5 316.0L832.0 328.6L832.6 314.8L833.2 288.9L833.8 315.8L834.3 315.3L834.9 291.9L835.5 324.1L836.1 301.2L836.6 276.2L837.2 306.8L837.8 333.6L838.4 301.3L838.9 318.3L839.5 292.1L840.1 301.2L840.7 306.2L841.3 323.8L841.8 295.6L842.4 302.4L843.0 299.8L843.6 303.3L844.1 303.3L844.7 264.5L845.3 311.8L845.9 344.2L846.4 323.0L847.0 318.2L847.6 295.1L848.2 283.0L848.7 328.7L849.3 325.3L849.9 321.2L850.5 307.8L851.0 306.1L851.6 295.5L852.2 319.0L852.8 316.9L853.4 271.0L853.9 322.6L854.5 289.7L855.1 295.1L855.7 293.2L856.2 305.7L856.8 309.2L857.4 297.7L858.0 310.4L858.5 311.0L859.1 313.9L859.7 304.1L860.3 310.4L860.8 314.3L861.4 301.2L862.0 302.9L862.6 335.6L863.1 313.4L863.7 288.8L864.3 300.3L864.9 274.7L865.5 329.6L866.0 307.3L866.6 335.4L867.2 304.9L867.8 318.7L868.3 313.7L868.9 303.8L869.5 321.3L870.1 321.9L870.6 317.6L871.2 299.9L871.8 287.8L872.4 318.3L872.9 324.6L873.5 311.8L874.1 327.4L874.7 342.1L875.3 306.4L875.8 317.6L876.4 287.9L877.0 320.7L877.6 289.2L878.1 288.6L878.7 312.1L879.3 307.6L879.9 344.0L880.4 312.6L881.0 310.0L881.6 328.3L882.2 256.0L882.7 348.3L883.3 304.9L883.9 308.8L884.5 305.8L885.0 330.6L885.6 304.2L886.2 317.4L886.8 309.2L887.4 296.2L887.9 326.7L888.5 346.1L889.1 313.3L889.7 307.3L890.2 315.6L890.8 320.2L891.4 332.1L892.0 310.7L892.5 301.2L893.1 315.3L893.7 281.1L894.3 310.3L894.8 299.5L895.4 310.4L896.0 309.4L896.6 293.7L897.1 288.4L897.7 288.2L898.3 288.0L898.9 304.5L899.5 295.8L900.0 298.3L900.6 298.9L901.2 285.3L901.8 304.1L902.3 304.7L902.9 299.1L903.5 320.1L904.1 296.5L904.6 290.5L905.2 333.1L905.8 294.9L906.4 317.1L906.9 321.0L907.5 299.8L908.1 320.0L908.7 306.5L909.3 317.5L909.8 326.7L910.4 284.2L911.0 316.2L911.6 326.5L912.1 316.6L912.7 282.7L913.3 327.5L913.9 294.1L914.4 317.2L915.0 306.5L915.6 309.2L916.2 283.5L916.7 317.5L917.3 281.8L917.9 310.2L918.5 337.2L919.0 308.7L919.6 295.8L920.2 295.8L920.8 291.5L921.4 309.0L921.9 286.1L922.5 291.4L923.1 324.2L923.7 315.7L924.2 319.8L924.8 313.9L925.4 305.4L926.0 314.3L926.5 311.4L927.1 296.8L927.7 292.9L928.3 283.7L928.8 344.6L929.4 323.3L930.0 320.5L930.6 317.7L931.2 328.4L931.7 323.3L932.3 299.0L932.9 286.7L933.5 320.6L934.0 298.2L934.6 335.8L935.2 304.3L935.8 282.1L936.3 279.3L936.9 317.3L937.5 321.8L938.1 314.5L938.6 288.9L939.2 299.4L939.8 299.6L940.4 299.2L940.9 322.3L941.5 338.7L942.1 321.6L942.7 317.5L943.3 305.1L943.8 306.9L944.4 269.8L945.0 306.1L945.6 319.9L946.1 287.6L946.7 304.2L947.3 279.0L947.9 276.5L948.4 279.5L949.0 292.8L949.6 327.7L950.2 290.2L950.7 301.6L951.3 296.5L951.9 290.2L952.5 302.4L953.0 320.6L953.6 316.8L954.2 329.7L954.8 286.8L955.4 305.7L955.9 305.9L956.5 314.2L957.1 310.2L957.7 324.5L958.2 308.2L958.8 323.3L959.4 305.7L960.0 311.7L960.5 301.1L961.1 279.8L961.7 290.4L962.3 303.5L962.8 293.3L963.4 313.6L964.0 308.9L964.6 301.0L965.2 326.6L965.7 320.1L966.3 278.9L966.9 299.0L967.5 302.9L968.0 297.2L968.6 308.2L969.2 313.6L969.8 313.9L970.3 291.4L970.9 280.6L971.5 311.2L972.1 309.4L972.6 294.6L973.2 322.6L973.8 308.2L974.4 290.4L974.9 286.8L975.5 272.4L976.1 305.4L976.7 306.1L977.3 292.4L977.8 299.2L978.4 287.4L979.0 303.0L979.6 329.9L980.1 321.9L980.7 342.5L981.3 308.2L981.9 287.0L982.4 294.6L983.0 313.3L983.6 334.6L984.2 311.7L984.7 317.7L985.3 322.7L985.9 308.6L986.5 274.8L987.0 308.4L987.6 318.5L988.2 329.3L988.8 296.6L989.4 320.2L989.9 345.9L990.5 324.7L991.1 305.5L991.7 333.4L992.2 312.0L992.8 342.4L993.4 293.0L994.0 323.7L994.5 311.9L995.1 323.1L995.7 319.1L996.3 305.4L996.8 317.0L997.4 311.5L998.0 290.3L998.6 272.3L999.2 288.9L999.7 305.0L1000.3 304.3L1000.9 256.5L1001.5 326.6L1002.0 327.0L1002.6 304.9L1003.2 309.7L1003.8 314.0L1004.3 275.8L1004.9 303.3L1005.5 286.3L1006.1 299.1L1006.6 306.5L1007.2 300.3L1007.8 328.8L1008.4 310.2L1008.9 283.6L1009.5 281.1L1010.1 307.5L1010.7 286.3L1011.3 291.9L1011.8 311.6L1012.4 331.0L1013.0 307.4L1013.6 317.8L1014.1 291.4L1014.7 299.6L1015.3 336.7L1015.9 318.2L1016.4 300.4L1017.0 277.3L1017.6 348.5L1018.2 305.9L1018.7 326.7L1019.3 314.9L1019.9 322.3L1020.5 296.0L1021.0 301.3L1021.6 280.9L1022.2 274.1L1022.8 315.9L1023.4 339.2L1023.9 321.4L1024.5 318.1L1025.1 308.3L1025.7 319.5L1026.2 325.0L1026.8 298.4L1027.4 303.3L1028.0 322.6L1028.5 303.7L1029.1 321.1L1029.7 310.4L1030.3 293.8L1030.8 314.0L1031.4 337.7L1032.0 309.5L1032.6 314.9L1033.2 282.6L1033.7 306.7L1034.3 318.2L1034.9 327.4L1035.5 248.1L1036.0 334.5L1036.6 311.2L1037.2 323.2L1037.8 303.7L1038.3 294.1L1038.9 296.1L1039.5 321.4L1040.1 322.1L1040.6 298.1L1041.2 317.5L1041.8 319.8L1042.4 319.2L1042.9 289.7L1043.5 332.7L1044.1 295.5L1044.7 293.0L1045.3 282.6L1045.8 290.8L1046.4 275.6L1047.0 291.4L1047.6 319.7L1048.1 330.7L1048.7 313.4L1049.3 302.4L1049.9 303.4L1050.4 292.3L1051.0 288.7L1051.6 339.6L1052.2 317.4L1052.7 310.3L1053.3 300.1L1053.9 320.0L1054.5 292.5L1055.0 305.9L1055.6 277.9L1056.2 319.1L1056.8 313.6L1057.4 328.5L1057.9 326.0L1058.5 316.7L1059.1 318.8L1059.7 306.0L1060.2 302.0L1060.8 308.4L1061.4 309.1L1062.0 325.6L1062.5 323.0L1063.1 314.4L1063.7 326.9L1064.3 299.4L1064.8 299.3L1065.4 320.4L1066.0 318.2L1066.6 313.5L1067.2 308.4L1067.7 286.6L1068.3 309.7L1068.9 319.2L1069.5 304.0L1070.0 299.7L1070.6 280.0L1071.2 321.9L1071.8 316.2L1072.3 308.2L1072.9 307.6L1073.5 331.6L1074.1 308.1L1074.6 287.7L1075.2 297.5L1075.8 311.1L1076.4 325.7L1076.9 327.1L1077.5 314.0L1078.1 322.4L1078.7 323.5L1079.3 334.8L1079.8 308.3L1080.4 290.4L1081.0 310.4L1081.6 301.5L1082.1 307.9L1082.7 275.0L1083.3 308.8L1083.9 311.1L1084.4 328.0L1085.0 317.3L1085.6 317.7L1086.2 324.4L1086.7 288.9L1087.3 288.0L1087.9 292.8L1088.5 299.9L1089.0 323.4L1089.6 313.8L1090.2 295.0L1090.8 321.2L1091.4 315.2L1091.9 311.9L1092.5 294.9L1093.1 308.0L1093.7 292.6L1094.2 292.6L1094.8 313.1L1095.4 307.9L1096.0 336.7L1096.5 320.5L1097.1 299.8L1097.7 298.9L1098.3 303.5L1098.8 307.7L1099.4 296.5L1100.0 358.9L1100.6 306.8L1101.2 331.4L1101.7 268.2L1102.3 272.8L1102.9 315.7L1103.5 286.5L1104.0 309.6L1104.6 290.2L1105.2 319.1L1105.8 310.9L1106.3 316.3L1106.9 298.4L1107.5 293.0L1108.1 304.7L1108.6 339.1L1109.2 312.9L1109.8 325.0L1110.4 287.1L1110.9 315.4L1111.5 348.0L1112.1 319.4L1112.7 328.9L1113.3 302.6L1113.8 326.6L1114.4 305.7L1115.0 331.6L1115.6 294.4L1116.1 307.9L1116.7 290.8L1117.3 311.2L1117.9 279.3L1118.4 308.1L1119.0 292.8L1119.6 309.8L1120.2 290.3L1120.7 327.8L1121.3 334.1L1121.9 303.7L1122.5 325.9L1123.1 333.8L1123.6 303.0L1124.2 309.9L1124.8 349.2L1125.4 314.5L1125.9 319.3L1126.5 327.1L1127.1 301.5L1127.7 300.2L1128.2 287.3L1128.8 315.4L1129.4 325.0L1130.0 275.8L1130.5 291.3L1131.1 296.5L1131.7 322.0L1132.3 324.2L1132.8 293.9L1133.4 346.5L1134.0 334.8L1134.6 310.8L1135.2 336.9L1135.7 304.8L1136.3 314.0L1136.9 335.3L1137.5 316.0L1138.0 313.4L1138.6 313.4L1139.2 299.1L1139.8 332.7L1140.3 330.0L1140.9 306.2L1141.5 307.3L1142.1 308.0L1142.6 272.6L1143.2 312.0L1143.8 321.0L1144.4 303.6L1144.9 314.1L1145.5 297.6L1146.1 312.8L1146.7 284.6L1147.3 318.0L1147.8 316.6L1148.4 298.4L1149.0 307.9L1149.6 288.9L1150.1 296.8L1150.7 294.9L1151.3 327.0L1151.9 299.3L1152.4 308.1L1153.0 305.1L1153.6 322.4L1154.2 304.2L1154.7 295.9L1155.3 302.0L1155.9 300.4L1156.5 303.2L1157.1 312.1L1157.6 302.1L1158.2 311.2L1158.8 311.6L1159.4 298.0L1159.9 292.5L1160.5 270.8L1161.1 286.8L1161.7 304.4L1162.2 320.3L1162.8 305.6L1163.4 323.4L1164.0 325.8L1164.5 337.3L1165.1 285.8L1165.7 288.7L1166.3 322.2L1166.8 309.2L1167.4 303.2L1168.0 284.0L1168.6 283.0L1169.2 318.4L1169.7 305.2L1170.3 330.5L1170.9 314.1L1171.5 308.9L1172.0 313.3L1172.6 326.1L1173.2 320.6L1173.8 278.3L1174.3 313.8L1174.9 309.5L1175.5 293.7L1176.1 293.2L1176.6 312.3L1177.2 286.4L1177.8 283.3L1178.4 301.4L1178.9 302.6L1179.5 309.3L1180.1 299.7L1180.7 302.5L1181.3 279.5L1181.8 329.9L1182.4 297.0L1183.0 308.6L1183.6 285.6L1184.1 276.0L1184.7 307.5L1185.3 308.5L1185.9 315.6L1186.4 324.4L1187.0 314.1L1187.6 296.7L1188.2 310.6L1188.7 328.0L1189.3 312.3L1189.9 332.5L1190.5 310.9L1191.1 298.7L1191.6 292.6L1192.2 288.5L1192.8 318.7L1193.4 344.1L1193.9 316.0L1194.5 314.1L1195.1 298.4L1195.7 289.9L1196.2 312.2L1196.8 309.1L1197.4 295.8L1198.0 317.9L1198.5 340.1L1199.1 309.8L1199.7 307.6L1200.3 317.4L1200.8 290.7L1201.4 309.2L1202.0 320.8" stroke="#fa7c17"/>
<path d="M626.3 307.4L626.9 305.0L627.5 297.1L628.0 319.2L628.6 313.2L629.2 312.7L629.8 304.6L630.3 318.0L630.9 318.4L631.5 328.8L632.1 283.5L632.6 287.8L633.2 285.5L633.8 313.9L634.4 334.0L634.9 334.9L635.5 329.8L636.1 302.3L636.7 313.9L637.2 350.4L637.8 326.9L638.4 284.1L639.0 323.7L639.6 315.1L640.1 311.7L640.7 310.6L641.3 309.5L641.9 301.5L642.4 268.3L643.0 283.0L643.6 297.8L644.2 320.6L644.7 285.2L645.3 279.2L645.9 310.7L646.5 292.8L647.0 339.1L647.6 326.7L648.2 291.6L648.8 330.1L649.4 299.5L649.9 287.5L650.5 324.9L651.1 310.5L651.7 283.5L652.2 268.3L652.8 298.1L653.4 281.2L654.0 317.6L654.5 316.3L655.1 300.0L655.7 292.1L656.3 300.0L656.8 286.1L657.4 288.4L658.0 268.9L658.6 288.0L659.1 295.7L659.7 300.2L660.3 304.0L660.9 300.4L661.5 285.0L662.0 284.1L662.6 278.8L663.2 284.3L663.8 285.4L664.3 314.4L664.9 309.1L665.5 310.3L666.1 314.6L666.6 340.3L667.2 297.8L667.8 324.6L668.4 316.6L668.9 321.4L669.5 281.5L670.1 285.8L670.7 279.4L671.2 300.3L671.8 290.6L672.4 289.1L673.0 304.0L673.6 301.5L674.1 329.4L674.7 323.8L675.3 305.8L675.9 338.6L676.4 305.5L677.0 302.2L677.6 314.2L678.2 293.8L678.7 295.3L679.3 274.5L679.9 298.7L680.5 294.0L681.0 298.2L681.6 324.3L682.2 308.3L682.8 307.9L683.4 304.2L683.9 304.7L684.5 292.3L685.1 304.5L685.7 315.8L686.2 298.4L686.8 335.6L687.4 331.7L688.0 290.8L688.5 325.7L689.1 304.9L689.7 321.7L690.3 298.2L690.8 299.5L691.4 289.1L692.0 294.7L692.6 286.2L693.1 321.8L693.7 284.4L694.3 309.5L694.9 293.5L695.5 307.0L696.0 288.5L696.6 296.4L697.2 257.7L697.8 295.3L698.3 304.8L698.9 305.5L699.5 283.9L700.1 293.0L700.6 302.1L701.2 310.7L701.8 287.7L702.4 318.2L702.9 307.9L703.5 322.8L704.1 316.7L704.7 309.6L705.2 300.7L705.8 304.6L706.4 290.8L707.0 330.5L707.6 278.0L708.1 292.0L708.7 295.5L709.3 315.8L709.9 291.6L710.4 353.7L711.0 307.3L711.6 302.3L712.2 289.6L712.7 295.5L713.3 316.0L713.9 335.1L714.5 277.0L715.0 289.9L715.6 293.2L716.2 295.7L716.8 288.1L717.4 330.6L717.9 307.7L718.5 280.4L719.1 300.2L719.7 291.7L720.2 295.1L720.8 308.8L721.4 315.2L722.0 307.2L722.5 288.3L723.1 324.6L723.7 284.9L724.3 330.0L724.8 278.1L725.4 302.1L726.0 300.8L726.6 309.7L727.1 289.5L727.7 311.7L728.3 283.7L728.9 269.7L729.5 297.0L730.0 314.2L730.6 292.3L731.2 311.9L731.8 309.0L732.3 300.6L732.9 286.3L733.5 316.2L734.1 294.0L734.6 293.4L735.2 303.2L735.8 292.1L736.4 299.9L736.9 308.0L737.5 332.7L738.1 341.6L738.7 309.0L739.3 293.2L739.8 316.2L740.4 311.0L741.0 268.7L741.6 287.2L742.1 326.7L742.7 297.0L743.3 307.0L743.9 296.2L744.4 301.7L745.0 317.2L745.6 276.1L746.2 337.3L746.7 335.1L747.3 290.5L747.9 303.6L748.5 297.3L749.0 319.5L749.6 296.2L750.2 315.7L750.8 335.7L751.4 327.4L751.9 293.2L752.5 306.6L753.1 296.4L753.7 300.1L754.2 309.2L754.8 325.2L755.4 306.0L756.0 297.6L756.5 322.8L757.1 318.3L757.7 321.8L758.3 339.2L758.8 308.1L759.4 298.7L760.0 307.6L760.6 304.1L761.1 304.5L761.7 288.6L762.3 291.9L762.9 290.6L763.5 315.8L764.0 297.7L764.6 306.9L765.2 323.2L765.8 303.1L766.3 331.2L766.9 327.5L767.5 286.9L768.1 295.0L768.6 333.0L769.2 305.8L769.8 305.5L770.4 253.4L770.9 324.7L771.5 314.2L772.1 297.4L772.7 267.1L773.3 280.6L773.8 317.2L774.4 298.2L775.0 275.1L775.6 305.4L776.1 325.4L776.7 293.3L777.3 313.8L777.9 307.5L778.4 302.1L779.0 309.2L779.6 307.6L780.2 297.1L780.7 294.1L781.3 296.0L781.9 293.9L782.5 300.1L783.0 319.5L783.6 281.5L784.2 356.5L784.8 297.3L785.4 289.0L785.9 304.9L786.5 326.5L787.1 334.5L787.7 316.4L788.2 292.3L788.8 298.7L789.4 296.5L790.0 312.2L790.5 328.9L791.1 313.9L791.7 335.1L792.3 324.4L792.8 302.8L793.4 316.5L794.0 330.7L794.6 304.6L795.1 301.0L795.7 305.7L796.3 335.0L796.9 302.8L797.5 312.2L798.0 302.0L798.6 283.5L799.2 299.8L799.8 288.2L800.3 294.9L800.9 316.4L801.5 317.4L802.1 269.0L802.6 272.4L803.2 306.6L803.8 303.1L804.4 299.7L804.9 293.6L805.5 327.5L806.1 297.4L806.7 302.2L807.3 302.1L807.8 310.3L808.4 284.8L809.0 307.1L809.6 278.4L810.1 277.4L810.7 308.1L811.3 290.0L811.9 286.9L812.4 306.0L813.0 336.0L813.6 312.8L814.2 300.0L814.7 270.7L815.3 279.0L815.9 285.1L816.5 295.9L817.0 287.9L817.6 313.2L818.2 321.9L818.8 334.2L819.4 323.3L819.9 308.8L820.5 274.9L821.1 319.5L821.7 301.9L822.2 300.3L822.8 331.0L823.4 310.4L824.0 336.2L824.5 292.0L825.1 289.4L825.7 313.5L826.3 311.9L826.8 313.4L827.4 315.7L828.0 295.1L828.6 320.0L829.1 315.4L829.7 324.0L830.3 281.8L830.9 297.1L831.5 288.5L832.0 314.9L832.6 349.8L833.2 303.3L833.8 295.6L834.3 291.4L834.9 304.6L835.5 295.4L836.1 291.1L836.6 314.3L837.2 338.5L837.8 301.7L838.4 303.3L838.9 315.2L839.5 325.9L840.1 283.9L840.7 301.0L841.3 304.1L841.8 319.4L842.4 319.4L843.0 305.7L843.6 325.7L844.1 291.1L844.7 313.3L845.3 288.1L845.9 298.8L846.4 317.5L847.0 278.7L847.6 303.6L848.2 317.2L848.7 286.3L849.3 298.9L849.9 305.6L850.5 335.6L851.0 336.3L851.6 297.7L852.2 313.2L852.8 300.8L853.4 325.7L853.9 305.2L854.5 344.4L855.1 314.2L855.7 286.6L856.2 300.9L856.8 311.7L857.4 309.6L858.0 307.8L858.5 267.4L859.1 300.6L859.7 299.6L860.3 313.1L860.8 299.8L861.4 299.2L862.0 321.5L862.6 333.3L863.1 314.5L863.7 290.7L864.3 313.5L864.9 313.6L865.5 290.7L866.0 307.0L866.6 335.3L867.2 287.0L867.8 303.5L868.3 318.3L868.9 312.2L869.5 300.6L870.1 317.3L870.6 282.0L871.2 290.6L871.8 296.2L872.4 297.7L872.9 314.4L873.5 305.9L874.1 280.9L874.7 310.5L875.3 309.9L875.8 237.5L876.4 317.3L877.0 295.6L877.6 323.6L878.1 302.0L878.7 321.3L879.3 313.8L879.9 312.8L880.4 264.1L881.0 310.1L881.6 292.2L882.2 298.9L882.7 316.5L883.3 294.9L883.9 238.4L884.5 330.9L885.0 336.1L885.6 309.7L886.2 305.5L886.8 330.4L887.4 310.0L887.9 312.5L888.5 301.4L889.1 316.8L889.7 308.8L890.2 311.1L890.8 299.8L891.4 290.8L892.0 265.3L892.5 325.1L893.1 307.1L893.7 321.0L894.3 337.3L894.8 336.6L895.4 321.0L896.0 310.3L896.6 312.8L897.1 306.7L897.7 306.3L898.3 302.3L898.9 307.8L899.5 303.4L900.0 306.5L900.6 315.7L901.2 330.3L901.8 334.4L902.3 307.8L902.9 324.5L903.5 302.1L904.1 316.1L904.6 322.9L905.2 321.3L905.8 311.1L906.4 285.5L906.9 313.3L907.5 325.5L908.1 307.2L908.7 295.7L909.3 310.3L909.8 318.1L910.4 304.5L911.0 304.2L911.6 303.4L912.1 329.0L912.7 301.6L913.3 308.1L913.9 293.5L914.4 310.9L915.0 302.0L915.6 315.0L916.2 279.3L916.7 326.6L917.3 326.4L917.9 333.2L918.5 348.1L919.0 324.6L919.6 278.3L920.2 295.7L920.8 291.8L921.4 309.3L921.9 318.6L922.5 313.4L923.1 340.0L923.7 337.1L924.2 297.8L924.8 308.5L925.4 289.1L926.0 326.7L926.5 310.9L927.1 342.9L927.7 280.6L928.3 305.6L928.8 333.0L929.4 326.2L930.0 293.2L930.6 322.6L931.2 314.7L931.7 310.5L932.3 260.5L932.9 289.6L933.5 280.1L934.0 312.9L934.6 307.4L935.2 298.4L935.8 293.4L936.3 296.9L936.9 333.2L937.5 310.9L938.1 329.8L938.6 313.7L939.2 302.7L939.8 295.6L940.4 336.9L940.9 309.7L941.5 340.2L942.1 305.2L942.7 302.6L943.3 305.3L943.8 293.7L944.4 302.8L945.0 318.6L945.6 319.0L946.1 304.7L946.7 331.7L947.3 319.8L947.9 302.9L948.4 361.8L949.0 292.7L949.6 289.8L950.2 297.9L950.7 309.1L951.3 313.3L951.9 296.7L952.5 300.7L953.0 293.0L953.6 316.0L954.2 301.0L954.8 290.9L955.4 319.4L955.9 308.5L956.5 308.3L957.1 311.3L957.7 294.8L958.2 309.2L958.8 292.9L959.4 301.3L960.0 296.3L960.5 310.4L961.1 317.9L961.7 296.9L962.3 307.1L962.8 296.3L963.4 313.6L964.0 317.0L964.6 300.0L965.2 305.5L965.7 311.4L966.3 299.1L966.9 311.1L967.5 305.7L968.0 300.8L968.6 322.6L969.2 290.4L969.8 306.9L970.3 311.9L970.9 309.8L971.5 317.0L972.1 346.5L972.6 311.5L973.2 314.7L973.8 285.9L974.4 283.8L974.9 313.4L975.5 304.1L976.1 283.2L976.7 300.2L977.3 308.9L977.8 312.4L978.4 322.4L979.0 297.6L979.6 297.4L980.1 304.1L980.7 307.4L981.3 283.3L981.9 291.8L982.4 286.9L983.0 321.2L983.6 321.5L984.2 320.8L984.7 299.5L985.3 311.3L985.9 289.2L986.5 303.5L987.0 292.5L987.6 310.0L988.2 294.9L988.8 309.9L989.4 309.3L989.9 321.0L990.5 334.1L991.1 327.4L991.7 306.5L992.2 301.0L992.8 329.1L993.4 327.0L994.0 340.5L994.5 303.0L995.1 318.5L995.7 323.1L996.3 303.6L996.8 314.9L997.4 297.9L998.0 295.6L998.6 313.5L999.2 332.0L999.7 314.8L1000.3 278.6L1000.9 317.8L1001.5 290.0L1002.0 313.8L1002.6 321.7L1003.2 279.2L1003.8 310.8L1004.3 337.2L1004.9 330.9L1005.5 331.7L1006.1 317.7L1006.6 282.8L1007.2 291.6L1007.8 304.5L1008.4 301.3L1008.9 313.2L1009.5 331.8L1010.1 311.0L1010.7 311.3L1011.3 294.9L1011.8 301.5L1012.4 290.2L1013.0 312.5L1013.6 316.0L1014.1 314.6L1014.7 320.2L1015.3 294.0L1015.9 303.6L1016.4 323.6L1017.0 318.2L1017.6 282.8L1018.2 272.2L1018.7 282.6L1019.3 302.2L1019.9 284.3L1020.5 305.1L1021.0 323.4L1021.6 309.1L1022.2 322.8L1022.8 312.8L1023.4 265.9L1023.9 295.1L1024.5 300.2L1025.1 295.1L1025.7 311.9L1026.2 303.3L1026.8 320.7L1027.4 328.7L1028.0 317.3L1028.5 326.1L1029.1 340.4L1029.7 319.9L1030.3 324.4L1030.8 323.1L1031.4 289.7L1032.0 296.3L1032.6 292.2L1033.2 308.9L1033.7 322.5L1034.3 322.8L1034.9 273.5L1035.5 342.1L1036.0 320.4L1036.6 307.4L1037.2 329.1L1037.8 296.4L1038.3 317.6L1038.9 311.2L1039.5 286.2L1040.1 292.1L1040.6 308.9L1041.2 309.8L1041.8 276.5L1042.4 278.1L1042.9 295.6L1043.5 331.9L1044.1 323.7L1044.7 293.7L1045.3 315.5L1045.8 312.7L1046.4 321.7L1047.0 319.6L1047.6 294.2L1048.1 288.6L1048.7 328.1L1049.3 290.8L1049.9 324.9L1050.4 295.8L1051.0 292.3L1051.6 323.0L1052.2 346.5L1052.7 296.5L1053.3 295.5L1053.9 302.0L1054.5 316.5L1055.0 302.9L1055.6 327.1L1056.2 298.5L1056.8 273.4L1057.4 304.5L1057.9 282.6L1058.5 316.2L1059.1 303.8L1059.7 309.1L1060.2 300.7L1060.8 310.0L1061.4 331.3L1062.0 288.4L1062.5 321.1L1063.1 292.9L1063.7 321.6L1064.3 297.7L1064.8 300.2L1065.4 313.0L1066.0 293.6L1066.6 301.5L1067.2 283.4L1067.7 286.0L1068.3 287.2L1068.9 344.3L1069.5 290.8L1070.0 308.2L1070.6 310.4L1071.2 325.9L1071.8 327.4L1072.3 313.0L1072.9 307.2L1073.5 306.4L1074.1 312.3L1074.6 305.9L1075.2 294.3L1075.8 312.2L1076.4 322.7L1076.9 293.1L1077.5 298.9L1078.1 319.0L1078.7 294.6L1079.3 299.9L1079.8 275.4L1080.4 289.2L1081.0 292.5L1081.6 306.3L1082.1 320.0L1082.7 312.0L1083.3 311.2L1083.9 314.0L1084.4 291.1L1085.0 319.1L1085.6 284.4L1086.2 317.5L1086.7 328.8L1087.3 296.7L1087.9 309.2L1088.5 323.1L1089.0 303.2L1089.6 313.4L1090.2 306.7L1090.8 312.4L1091.4 306.3L1091.9 318.6L1092.5 299.4L1093.1 312.3L1093.7 307.2L1094.2 337.7L1094.8 304.8L1095.4 315.5L1096.0 314.7L1096.5 316.9L1097.1 316.9L1097.7 323.7L1098.3 297.4L1098.8 313.6L1099.4 312.3L1100.0 314.0L1100.6 319.7L1101.2 294.7L1101.7 316.2L1102.3 304.5L1102.9 319.7L1103.5 331.5L1104.0 333.6L1104.6 306.4L1105.2 336.5L1105.8 337.3L1106.3 322.8L1106.9 301.7L1107.5 319.0L1108.1 295.9L1108.6 312.1L1109.2 313.3L1109.8 288.5L1110.4 299.8L1110.9 314.4L1111.5 318.1L1112.1 299.8L1112.7 278.8L1113.3 310.9L1113.8 312.3L1114.4 287.8L1115.0 317.2L1115.6 305.2L1116.1 354.4L1116.7 311.3L1117.3 322.7L1117.9 342.7L1118.4 317.3L1119.0 328.5L1119.6 309.2L1120.2 317.2L1120.7 316.7L1121.3 242.2L1121.9 297.1L1122.5 329.5L1123.1 299.7L1123.6 313.4L1124.2 328.9L1124.8 310.8L1125.4 311.3L1125.9 295.8L1126.5 292.9L1127.1 291.4L1127.7 316.4L1128.2 356.3L1128.8 334.8L1129.4 309.3L1130.0 312.6L1130.5 349.0L1131.1 305.0L1131.7 303.1L1132.3 331.1L1132.8 342.3L1133.4 319.8L1134.0 308.5L1134.6 311.4L1135.2 289.9L1135.7 265.0L1136.3 301.1L1136.9 312.0L1137.5 316.4L1138.0 281.8L1138.6 361.8L1139.2 299.4L1139.8 295.3L1140.3 292.6L1140.9 301.3L1141.5 281.8L1142.1 297.0L1142.6 303.8L1143.2 323.8L1143.8 316.2L1144.4 313.1L1144.9 294.3L1145.5 314.9L1146.1 307.1L1146.7 314.0L1147.3 344.7L1147.8 311.4L1148.4 285.2L1149.0 326.4L1149.6 295.2L1150.1 324.7L1150.7 317.4L1151.3 312.1L1151.9 296.1L1152.4 307.7L1153.0 308.3L1153.6 295.5L1154.2 292.6L1154.7 308.7L1155.3 301.9L1155.9 277.2L1156.5 292.9L1157.1 321.0L1157.6 309.6L1158.2 330.5L1158.8 280.4L1159.4 301.6L1159.9 331.2L1160.5 318.1L1161.1 304.2L1161.7 297.5L1162.2 310.2L1162.8 314.4L1163.4 323.0L1164.0 297.9L1164.5 288.7L1165.1 301.1L1165.7 303.4L1166.3 306.2L1166.8 315.8L1167.4 315.0L1168.0 298.4L1168.6 304.2L1169.2 302.0L1169.7 318.1L1170.3 299.1L1170.9 322.0L1171.5 292.4L1172.0 310.1L1172.6 304.7L1173.2 317.8L1173.8 311.5L1174.3 319.9L1174.9 309.2L1175.5 345.9L1176.1 289.7L1176.6 304.5L1177.2 298.0L1177.8 310.2L1178.4 298.3L1178.9 317.6L1179.5 323.0L1180.1 316.7L1180.7 331.4L1181.3 297.1L1181.8 315.6L1182.4 312.6L1183.0 321.5L1183.6 303.5L1184.1 284.5L1184.7 311.3L1185.3 293.1L1185.9 302.0L1186.4 305.0L1187.0 332.5L1187.6 335.1L1188.2 293.6L1188.7 282.1L1189.3 274.6L1189.9 312.1L1190.5 297.2L1191.1 328.4L1191.6 323.3L1192.2 326.1L1192.8 331.6L1193.4 306.0L1193.9 286.6L1194.5 302.0L1195.1 324.7L1195.7 290.4L1196.2 299.8L1196.8 328.8L1197.4 290.2L1198.0 302.6L1198.5 295.3L1199.1 314.3L1199.7 315.6L1200.3 302.8L1200.8 330.0L1201.4 310.0L1202.0 294.4" stroke="#328c06"/>
<path d="M626.3 310.3L626.9 294.8L627.5 329.8L628.0 320.6L628.6 288.2L629.2 297.6L629.8 341.6L630.3 302.5L630.9 300.7L631.5 292.7L632.1 304.9L632.6 306.0L633.2 322.1L633.8 310.8L634.4 313.7L634.9 296.3L635.5 348.9L636.1 312.1L636.7 291.8L637.2 345.9L637.8 303.3L638.4 300.7L639.0 304.7L639.6 302.3L640.1 317.7L640.7 296.7L641.3 299.7L641.9 335.6L642.4 302.2L643.0 325.4L643.6 326.8L644.2 305.4L644.7 318.6L645.3 307.0L645.9 304.5L646.5 309.9L647.0 302.9L647.6 332.5L648.2 287.0L648.8 292.5L649.4 316.0L649.9 316.1L650.5 278.6L651.1 319.1L651.7 336.4L652.2 282.4L652.8 284.9L653.4 294.3L654.0 282.6L654.5 297.1L655.1 295.6L655.7 297.2L656.3 294.9L656.8 328.4L657.4 308.4L658.0 302.4L658.6 332.7L659.1 330.0L659.7 311.7L660.3 284.9L660.9 305.8L661.5 291.3L662.0 286.6L662.6 284.8L663.2 294.3L663.8 332.6L664.3 343.6L664.9 330.6L665.5 319.6L666.1 311.9L666.6 319.6L667.2 313.6L667.8 262.0L668.4 325.0L668.9 301.0L669.5 298.1L670.1 333.7L670.7 309.6L671.2 307.9L671.8 299.8L672.4 299.4L673.0 340.4L673.6 274.8L674.1 302.0L674.7 292.1L675.3 283.7L675.9 320.3L676.4 310.0L677.0 310.7L677.6 277.9L678.2 323.3L678.7 286.8L679.3 290.8L679.9 306.2L680.5 323.4L681.0 312.4L681.6 298.0L682.2 328.2L682.8 305.8L683.4 297.8L683.9 295.4L684.5 310.6L685.1 298.1L685.7 294.8L686.2 337.2L686.8 330.5L687.4 333.3L688.0 323.0L688.5 298.2L689.1 298.6L689.7 300.4L690.3 314.3L690.8 293.3L691.4 330.5L692.0 333.4L692.6 300.7L693.1 310.6L693.7 284.2L694.3 292.4L694.9 282.8L695.5 323.2L696.0 323.7L696.6 335.6L697.2 311.4L697.8 309.0L698.3 316.5L698.9 316.4L699.5 305.5L700.1 293.7L700.6 314.3L701.2 318.2L701.8 310.7L702.4 299.7L702.9 280.2L703.5 289.0L704.1 342.3L704.7 339.9L705.2 325.2L705.8 351.3L706.4 303.5L707.0 321.4L707.6 331.0L708.1 314.3L708.7 304.5L709.3 313.3L709.9 309.4L710.4 294.6L711.0 322.9L711.6 310.6L712.2 338.8L712.7 332.7L713.3 296.6L713.9 318.3L714.5 326.1L715.0 298.9L715.6 314.3L716.2 295.6L716.8 279.6L717.4 274.9L717.9 306.1L718.5 300.8L719.1 316.5L719.7 274.9L720.2 296.3L720.8 271.7L721.4 308.8L722.0 310.4L722.5 348.6L723.1 326.7L723.7 329.6L724.3 303.2L724.8 293.1L725.4 318.5L726.0 314.7L726.6 300.2L727.1 308.4L727.7 298.6L728.3 284.2L728.9 314.2L729.5 304.8L730.0 282.4L730.6 304.4L731.2 285.0L731.8 309.6L732.3 283.9L732.9 299.2L733.5 298.3L734.1 316.8L734.6 293.1L735.2 333.4L735.8 294.4L736.4 305.5L736.9 303.5L737.5 287.7L738.1 326.4L738.7 298.8L739.3 300.9L739.8 314.2L740.4 290.4L741.0 306.0L741.6 280.7L742.1 310.5L742.7 284.9L743.3 283.7L743.9 298.2L744.4 316.0L745.0 308.8L745.6 328.0L746.2 321.2L746.7 325.6L747.3 303.6L747.9 329.0L748.5 303.7L749.0 313.6L749.6 294.0L750.2 296.5L750.8 314.8L751.4 304.8L751.9 303.7L752.5 319.3L753.1 312.4L753.7 310.2L754.2 323.5L754.8 341.2L755.4 307.5L756.0 335.6L756.5 302.9L757.1 294.9L757.7 311.9L758.3 301.8L758.8 318.4L759.4 295.1L760.0 270.3L760.6 293.1L761.1 306.1L761.7 307.8L762.3 329.7L762.9 322.2L763.5 314.1L764.0 318.1L764.6 307.9L765.2 289.4L765.8 327.0L766.3 328.8L766.9 307.7L767.5 357.8L768.1 325.4L768.6 303.4L769.2 299.1L769.8 299.4L770.4 323.2L770.9 302.5L771.5 295.4L772.1 313.3L772.7 308.3L773.3 312.6L773.8 312.8L774.4 317.1L775.0 303.6L775.6 320.1L776.1 285.3L776.7 288.8L777.3 310.1L777.9 278.3L778.4 301.2L779.0 342.0L779.6 291.1L780.2 296.2L780.7 306.8L781.3 306.8L781.9 316.9L782.5 328.0L783.0 339.7L783.6 269.2L784.2 312.2L784.8 306.5L785.4 272.8L785.9 314.5L786.5 310.2L787.1 315.1L787.7 332.5L788.2 304.0L788.8 298.5L789.4 309.9L790.0 311.4L790.5 299.3L791.1 296.5L791.7 279.4L792.3 292.9L792.8 293.7L793.4 315.1L794.0 330.1L794.6 292.0L795.1 317.8L795.7 299.1L796.3 304.9L796.9 327.0L797.5 305.5L798.0 282.8L798.6 274.6L799.2 312.6L799.8 311.7L800.3 339.6L800.9 343.4L801.5 319.4L802.1 310.3L802.6 301.2L803.2 312.9L803.8 290.2L804.4 318.2L804.9 298.5L805.5 321.1L806.1 314.3L806.7 305.3L807.3 288.8L807.8 315.7L808.4 318.4L809.0 313.8L809.6 303.6L810.1 285.6L810.7 293.4L811.3 310.6L811.9 311.5L812.4 289.2L813.0 284.7L813.6 288.3L814.2 303.8L814.7 319.8L815.3 320.0L815.9 306.7L816.5 322.8L817.0 311.5L817.6 278.3L818.2 296.8L818.8 292.8L819.4 319.2L819.9 287.9L820.5 308.9L821.1 305.5L821.7 303.2L822.2 304.7L822.8 313.7L823.4 293.2L824.0 269.4L824.5 306.3L825.1 293.8L825.7 320.5L826.3 301.3L826.8 314.7L827.4 286.7L828.0 310.2L828.6 297.0L829.1 300.8L829.7 323.5L830.3 307.4L830.9 305.9L831.5 294.1L832.0 306.5L832.6 333.3L833.2 325.3L833.8 316.2L834.3 297.4L834.9 309.8L835.5 293.2L836.1 307.9L836.6 300.6L837.2 290.6L837.8 301.3L838.4 343.4L838.9 293.0L839.5 307.1L840.1 294.5L840.7 351.1L841.3 312.2L841.8 307.8L842.4 313.2L843.0 309.1L843.6 322.2L844.1 332.2L844.7 302.0L845.3 309.1L845.9 296.3L846.4 299.4L847.0 316.0L847.6 307.6L848.2 311.5L848.7 299.8L849.3 282.3L849.9 302.1L850.5 313.1L851.0 278.5L851.6 259.1L852.2 317.2L852.8 313.6L853.4 340.5L853.9 289.3L854.5 279.1L855.1 279.2L855.7 295.8L856.2 307.5L856.8 318.7L857.4 319.4L858.0 292.4L858.5 291.8L859.1 285.5L859.7 320.2L860.3 281.7L860.8 314.0L861.4 307.5L862.0 307.3L862.6 317.7L863.1 342.1L863.7 343.4L864.3 318.9L864.9 294.1L865.5 311.1L866.0 302.7L866.6 324.9L867.2 315.1L867.8 290.6L868.3 279.7L868.9 297.3L869.5 297.2L870.1 303.4L870.6 308.3L871.2 305.9L871.8 292.3L872.4 314.9L872.9 325.6L873.5 301.2L874.1 315.1L874.7 302.7L875.3 322.7L875.8 305.1L876.4 313.4L877.0 316.4L877.6 298.8L878.1 315.4L878.7 344.4L879.3 344.8L879.9 314.7L880.4 285.2L881.0 309.5L881.6 326.2L882.2 318.8L882.7 357.0L883.3 300.1L883.9 299.2L884.5 298.1L885.0 284.3L885.6 323.1L886.2 290.1L886.8 295.6L887.4 319.4L887.9 298.2L888.5 285.7L889.1 306.8L889.7 291.8L890.2 337.0L890.8 346.3L891.4 303.2L892.0 304.7L892.5 296.4L893.1 292.0L893.7 284.6L894.3 326.3L894.8 343.8L895.4 292.9L896.0 299.0L896.6 303.9L897.1 308.2L897.7 273.5L898.3 312.3L898.9 300.6L899.5 284.0L900.0 310.3L900.6 314.6L901.2 249.5L901.8 336.9L902.3 293.4L902.9 289.1L903.5 278.3L904.1 300.8L904.6 297.7L905.2 293.4L905.8 280.1L906.4 295.3L906.9 295.6L907.5 312.4L908.1 300.1L908.7 301.1L909.3 288.6L909.8 290.7L910.4 318.7L911.0 322.3L911.6 301.4L912.1 309.5L912.7 296.8L913.3 287.2L913.9 328.2L914.4 300.8L915.0 318.1L915.6 306.9L916.2 306.6L916.7 321.3L917.3 342.2L917.9 316.3L918.5 325.5L919.0 305.7L919.6 304.0L920.2 283.9L920.8 289.4L921.4 333.7L921.9 336.7L922.5 324.1L923.1 310.4L923.7 303.0L924.2 315.5L924.8 302.5L925.4 319.4L926.0 292.1L926.5 310.2L927.1 314.0L927.7 314.0L928.3 306.5L928.8 284.7L929.4 299.3L930.0 290.4L930.6 313.7L931.2 291.0L931.7 285.0L932.3 288.6L932.9 316.2L933.5 319.8L934.0 306.3L934.6 296.4L935.2 315.7L935.8 303.6L936.3 282.7L936.9 331.1L937.5 328.1L938.1 311.1L938.6 299.0L939.2 304.3L939.8 297.2L940.4 283.7L940.9 308.1L941.5 317.5L942.1 277.3L942.7 327.2L943.3 295.1L943.8 274.9L944.4 296.9L945.0 311.2L945.6 302.8L946.1 311.9L946.7 278.7L947.3 291.0L947.9 301.2L948.4 297.5L949.0 295.6L949.6 287.8L950.2 296.9L950.7 314.4L951.3 309.6L951.9 321.1L952.5 328.0L953.0 303.8L953.6 312.1L954.2 307.7L954.8 295.4L955.4 289.5L955.9 300.4L956.5 311.3L957.1 295.5L957.7 314.5L958.2 284.2L958.8 307.4L959.4 279.2L960.0 316.7L960.5 294.0L961.1 296.1L961.7 304.8L962.3 288.8L962.8 294.0L963.4 301.0L964.0 304.8L964.6 297.0L965.2 300.7L965.7 355.7L966.3 315.9L966.9 308.6L967.5 331.5L968.0 336.8L968.6 296.8L969.2 311.3L969.8 275.9L970.3 290.3L970.9 291.4L971.5 291.2L972.1 301.6L972.6 309.0L973.2 329.4L973.8 324.7L974.4 328.2L974.9 330.2L975.5 331.9L976.1 304.6L976.7 347.1L977.3 276.9L977.8 318.0L978.4 300.3L979.0 299.9L979.6 298.0L980.1 304.0L980.7 307.6L981.3 303.5L981.9 291.9L982.4 292.7L983.0 300.3L983.6 326.6L984.2 321.3L984.7 306.0L985.3 288.1L985.9 282.3L986.5 309.8L987.0 300.8L987.6 315.8L988.2 320.3L988.8 305.4L989.4 297.0L989.9 296.7L990.5 340.1L991.1 293.4L991.7 335.7L992.2 294.2L992.8 283.7L993.4 269.3L994.0 319.5L994.5 314.9L995.1 304.8L995.7 298.7L996.3 311.0L996.8 281.3L997.4 309.0L998.0 305.3L998.6 305.6L999.2 294.3L999.7 296.4L1000.3 328.0L1000.9 296.5L1001.5 318.9L1002.0 321.3L1002.6 318.4L1003.2 310.3L1003.8 297.0L1004.3 295.1L1004.9 326.2L1005.5 309.2L1006.1 290.1L1006.6 289.3L1007.2 299.8L1007.8 314.9L1008.4 297.7L1008.9 307.3L1009.5 337.4L1010.1 344.9L1010.7 303.5L1011.3 287.5L1011.8 276.7L1012.4 282.0L1013.0 294.6L1013.6 305.0L1014.1 302.1L1014.7 294.8L1015.3 321.1L1015.9 305.3L1016.4 310.5L1017.0 289.5L1017.6 287.9L1018.2 336.7L1018.7 334.7L1019.3 310.0L1019.9 298.6L1020.5 317.2L1021.0 305.1L1021.6 306.1L1022.2 313.9L1022.8 316.5L1023.4 302.5L1023.9 288.6L1024.5 355.7L1025.1 299.0L1025.7 301.8L1026.2 313.5L1026.8 315.6L1027.4 322.0L1028.0 306.2L1028.5 297.8L1029.1 309.2L1029.7 334.6L1030.3 309.3L1030.8 308.9L1031.4 312.9L1032.0 291.5L1032.6 322.4L1033.2 312.9L1033.7 305.6L1034.3 285.5L1034.9 319.7L1035.5 304.8L1036.0 335.2L1036.6 321.5L1037.2 313.3L1037.8 328.3L1038.3 302.1L1038.9 300.3L1039.5 318.1L1040.1 307.1L1040.6 317.9L1041.2 312.9L1041.8 311.4L1042.4 288.1L1042.9 324.0L1043.5 300.7L1044.1 280.9L1044.7 300.7L1045.3 297.4L1045.8 269.7L1046.4 318.2L1047.0 336.3L1047.6 297.1L1048.1 305.0L1048.7 284.7L1049.3 311.1L1049.9 305.7L1050.4 296.9L1051.0 337.5L1051.6 289.9L1052.2 302.7L1052.7 318.9L1053.3 317.0L1053.9 315.1L1054.5 288.0L1055.0 316.2L1055.6 288.3L1056.2 311.7L1056.8 300.4L1057.4 310.4L1057.9 307.0L1058.5 292.0L1059.1 305.1L1059.7 319.0L1060.2 293.0L1060.8 277.3L1061.4 304.0L1062.0 309.3L1062.5 318.8L1063.1 328.1L1063.7 320.4L1064.3 302.8L1064.8 314.8L1065.4 302.9L1066.0 303.1L1066.6 296.8L1067.2 283.8L1067.7 303.8L1068.3 327.2L1068.9 306.1L1069.5 298.4L1070.0 271.5L1070.6 301.8L1071.2 315.9L1071.8 322.0L1072.3 300.4L1072.9 309.1L1073.5 284.9L1074.1 285.6L1074.6 301.3L1075.2 297.9L1075.8 304.7L1076.4 297.7L1076.9 337.1L1077.5 332.0L1078.1 285.9L1078.7 337.4L1079.3 325.9L1079.8 301.6L1080.4 320.7L1081.0 315.5L1081.6 322.1L1082.1 287.8L1082.7 305.8L1083.3 284.1L1083.9 300.2L1084.4 331.0L1085.0 308.3L1085.6 335.6L1086.2 297.3L1086.7 339.3L1087.3 296.4L1087.9 297.6L1088.5 275.1L1089.0 297.1L1089.6 301.5L1090.2 311.6L1090.8 317.1L1091.4 319.6L1091.9 317.7L1092.5 313.8L1093.1 269.0L1093.7 295.9L1094.2 325.9L1094.8 289.3L1095.4 303.0L1096.0 317.0L1096.5 306.9L1097.1 317.2L1097.7 300.9L1098.3 310.9L1098.8 292.4L1099.4 333.4L1100.0 306.3L1100.6 327.5L1101.2 274.5L1101.7 329.7L1102.3 281.6L1102.9 306.8L1103.5 292.1L1104.0 317.2L1104.6 313.3L1105.2 287.8L1105.8 324.7L1106.3 301.1L1106.9 353.2L1107.5 281.2L1108.1 287.6L1108.6 332.7L1109.2 316.3L1109.8 292.9L1110.4 268.7L1110.9 300.6L1111.5 335.7L1112.1 292.8L1112.7 317.0L1113.3 309.0L1113.8 315.0L1114.4 331.1L1115.0 344.8L1115.6 290.5L1116.1 303.4L1116.7 307.0L1117.3 317.2L1117.9 304.2L1118.4 324.9L1119.0 329.4L1119.6 334.0L1120.2 335.7L1120.7 308.5L1121.3 333.2L1121.9 285.2L1122.5 307.4L1123.1 316.2L1123.6 314.3L1124.2 287.1L1124.8 341.9L1125.4 317.9L1125.9 274.9L1126.5 289.5L1127.1 301.5L1127.7 314.1L1128.2 277.9L1128.8 310.6L1129.4 282.0L1130.0 319.6L1130.5 335.7L1131.1 316.0L1131.7 316.5L1132.3 346.2L1132.8 315.5L1133.4 276.7L1134.0 306.1L1134.6 299.7L1135.2 308.5L1135.7 309.4L1136.3 305.6L1136.9 306.3L1137.5 308.6L1138.0 303.6L1138.6 302.0L1139.2 305.7L1139.8 332.7L1140.3 326.5L1140.9 330.6L1141.5 316.3L1142.1 287.7L1142.6 301.9L1143.2 319.2L1143.8 281.3L1144.4 292.7L1144.9 322.9L1145.5 303.0L1146.1 292.8L1146.7 292.1L1147.3 315.3L1147.8 306.1L1148.4 318.5L1149.0 331.6L1149.6 304.0L1150.1 349.5L1150.7 320.4L1151.3 294.4L1151.9 291.7L1152.4 307.4L1153.0 361.8L1153.6 304.9L1154.2 288.1L1154.7 297.0L1155.3 295.2L1155.9 316.1L1156.5 310.9L1157.1 315.8L1157.6 285.8L1158.2 292.5L1158.8 303.1L1159.4 293.6L1159.9 303.4L1160.5 309.4L1161.1 298.4L1161.7 301.0L1162.2 275.2L1162.8 320.2L1163.4 293.6L1164.0 324.6L1164.5 296.0L1165.1 319.3L1165.7 334.8L1166.3 286.9L1166.8 305.4L1167.4 282.5L1168.0 312.7L1168.6 326.5L1169.2 289.5L1169.7 312.4L1170.3 305.9L1170.9 319.4L1171.5 311.3L1172.0 340.7L1172.6 316.9L1173.2 309.7L1173.8 292.9L1174.3 281.2L1174.9 305.0L1175.5 303.1L1176.1 306.1L1176.6 277.2L1177.2 311.6L1177.8 287.4L1178.4 302.3L1178.9 335.0L1179.5 296.1L1180.1 287.6L1180.7 298.2L1181.3 322.0L1181.8 299.1L1182.4 295.1L1183.0 310.1L1183.6 285.1L1184.1 328.6L1184.7 339.4L1185.3 313.9L1185.9 306.7L1186.4 292.4L1187.0 289.5L1187.6 314.3L1188.2 291.6L1188.7 281.4L1189.3 280.6L1189.9 304.6L1190.5 310.0L1191.1 318.4L1191.6 348.8L1192.2 331.2L1192.8 330.5L1193.4 306.3L1193.9 251.1L1194.5 300.0L1195.1 300.1L1195.7 297.7L1196.2 312.3L1196.8 314.7L1197.4 300.5L1198.0 284.2L1198.5 330.1L1199.1 326.8L1199.7 313.1L1200.3 332.7L1200.8 317.4L1201.4 307.9L1202.0 319.0" stroke="#c10c90"/>
</g>
<g clip-path="url(#cr2)" fill="none" stroke-width="1.5" stroke-opacity="0.35" stroke-linejoin="round" stroke-linecap="round">
<path d="M626.3 566.3L626.9 570.8L627.5 572.7L628.0 568.2L628.6 563.0L629.2 548.0L629.8 564.6L630.3 561.3L630.9 553.6L631.5 541.1L632.1 540.3L632.6 544.6L633.2 545.6L633.8 564.5L634.4 561.0L634.9 568.1L635.5 542.3L636.1 540.4L636.7 553.5L637.2 559.4L637.8 561.5L638.4 555.0L639.0 559.8L639.6 560.4L640.1 565.8L640.7 557.9L641.3 551.8L641.9 564.0L642.4 555.9L643.0 558.8L643.6 549.7L644.2 543.4L644.7 557.6L645.3 552.3L645.9 543.3L646.5 563.0L647.0 560.5L647.6 566.7L648.2 557.9L648.8 569.3L649.4 557.5L649.9 560.9L650.5 553.8L651.1 530.1L651.7 548.1L652.2 562.6L652.8 567.9L653.4 557.7L654.0 567.3L654.5 571.2L655.1 563.1L655.7 547.8L656.3 550.9L656.8 531.0L657.4 530.7L658.0 480.5L658.6 544.8L659.1 548.6L659.7 549.6L660.3 542.8L660.9 550.6L661.5 566.5L662.0 572.0L662.6 571.3L663.2 565.4L663.8 570.9L664.3 566.7L664.9 561.0L665.5 548.5L666.1 562.7L666.6 567.0L667.2 570.4L667.8 518.8L668.4 568.1L668.9 550.7L669.5 574.3L670.1 568.1L670.7 562.2L671.2 547.3L671.8 539.7L672.4 548.5L673.0 567.9L673.6 568.8L674.1 566.8L674.7 568.2L675.3 558.8L675.9 563.5L676.4 568.8L677.0 565.0L677.6 556.0L678.2 562.9L678.7 568.1L679.3 568.9L679.9 564.3L680.5 559.9L681.0 564.9L681.6 567.3L682.2 557.9L682.8 532.0L683.4 521.2L683.9 520.6L684.5 547.8L685.1 553.1L685.7 557.5L686.2 562.2L686.8 564.5L687.4 561.8L688.0 556.2L688.5 542.8L689.1 535.2L689.7 553.0L690.3 558.9L690.8 549.3L691.4 547.1L692.0 558.5L692.6 558.0L693.1 569.9L693.7 562.5L694.3 568.1L694.9 561.2L695.5 574.5L696.0 567.8L696.6 570.3L697.2 568.0L697.8 562.8L698.3 565.5L698.9 546.1L699.5 542.1L700.1 556.4L700.6 537.7L701.2 551.1L701.8 553.8L702.4 534.8L702.9 524.5L703.5 544.6L704.1 543.9L704.7 553.9L705.2 545.1L705.8 555.8L706.4 544.2L707.0 566.1L707.6 559.3L708.1 546.3L708.7 551.6L709.3 567.8L709.9 561.7L710.4 567.4L711.0 566.2L711.6 561.9L712.2 541.2L712.7 554.1L713.3 565.7L713.9 544.8L714.5 556.6L715.0 563.2L715.6 563.1L716.2 563.4L716.8 549.1L717.4 570.2L717.9 570.1L718.5 560.0L719.1 559.2L719.7 561.0L720.2 571.9L720.8 560.8L721.4 564.7L722.0 507.8L722.5 571.4L723.1 564.3L723.7 558.3L724.3 542.2L724.8 553.0L725.4 562.8L726.0 560.0L726.6 563.2L727.1 561.0L727.7 572.3L728.3 567.1L728.9 563.0L729.5 560.4L730.0 560.5L730.6 541.0L731.2 526.8L731.8 532.9L732.3 548.8L732.9 538.5L733.5 549.7L734.1 558.9L734.6 563.3L735.2 562.0L735.8 545.2L736.4 537.4L736.9 534.6L737.5 545.1L738.1 558.9L738.7 556.2L739.3 558.1L739.8 563.3L740.4 551.1L741.0 567.2L741.6 570.8L742.1 571.3L742.7 568.6L743.3 564.6L743.9 555.2L744.4 547.7L745.0 558.4L745.6 562.9L746.2 559.9L746.7 548.4L747.3 549.3L747.9 547.1L748.5 542.5L749.0 547.0L749.6 553.1L750.2 569.6L750.8 567.0L751.4 569.8L751.9 568.6L752.5 565.4L753.1 555.9L753.7 545.4L754.2 560.3L754.8 553.9L755.4 548.9L756.0 567.9L756.5 560.0L757.1 558.7L757.7 569.4L758.3 562.3L758.8 552.5L759.4 545.5L760.0 556.5L760.6 547.5L761.1 539.1L761.7 540.6L762.3 562.5L762.9 549.9L763.5 558.3L764.0 561.2L764.6 544.2L765.2 530.6L765.8 524.8L766.3 568.3L766.9 548.8L767.5 568.6L768.1 557.9L768.6 565.8L769.2 558.4L769.8 545.2L770.4 539.5L770.9 552.9L771.5 572.0L772.1 568.5L772.7 506.9L773.3 561.4L773.8 549.2L774.4 560.6L775.0 550.7L775.6 561.6L776.1 563.5L776.7 556.6L777.3 547.8L777.9 541.2L778.4 556.1L779.0 548.6L779.6 562.4L780.2 532.9L780.7 537.8L781.3 547.2L781.9 560.2L782.5 562.4L783.0 557.5L783.6 562.2L784.2 558.2L784.8 564.0L785.4 564.9L785.9 550.2L786.5 561.6L787.1 561.8L787.7 565.4L788.2 555.7L788.8 563.5L789.4 562.1L790.0 558.4L790.5 559.7L791.1 551.9L791.7 551.3L792.3 552.1L792.8 559.2L793.4 559.5L794.0 564.0L794.6 565.2L795.1 567.1L795.7 547.2L796.3 541.4L796.9 560.6L797.5 559.0L798.0 548.2L798.6 554.5L799.2 534.0L799.8 559.5L800.3 556.5L800.9 570.4L801.5 553.5L802.1 560.8L802.6 556.6L803.2 544.8L803.8 552.7L804.4 558.8L804.9 562.7L805.5 544.0L806.1 529.1L806.7 551.3L807.3 536.7L807.8 555.0L808.4 570.7L809.0 568.1L809.6 567.6L810.1 560.1L810.7 555.0L811.3 562.5L811.9 565.4L812.4 562.8L813.0 573.5L813.6 563.0L814.2 551.2L814.7 554.9L815.3 567.0L815.9 563.9L816.5 566.6L817.0 566.8L817.6 546.9L818.2 556.7L818.8 563.2L819.4 555.6L819.9 567.5L820.5 547.1L821.1 550.0L821.7 552.9L822.2 553.1L822.8 566.9L823.4 558.7L824.0 554.5L824.5 556.8L825.1 564.3L825.7 562.3L826.3 546.0L826.8 560.6L827.4 556.3L828.0 548.5L828.6 564.6L829.1 564.9L829.7 559.5L830.3 545.9L830.9 550.3L831.5 560.8L832.0 560.1L832.6 570.4L833.2 561.7L833.8 561.0L834.3 562.0L834.9 560.1L835.5 558.2L836.1 566.1L836.6 540.9L837.2 561.9L837.8 559.7L838.4 559.3L838.9 569.8L839.5 566.6L840.1 569.0L840.7 571.8L841.3 574.2L841.8 568.6L842.4 557.3L843.0 551.4L843.6 557.9L844.1 556.0L844.7 571.8L845.3 564.5L845.9 566.1L846.4 558.4L847.0 553.0L847.6 557.1L848.2 561.1L848.7 562.7L849.3 543.1L849.9 557.5L850.5 556.1L851.0 549.8L851.6 540.3L852.2 564.6L852.8 561.5L853.4 568.5L853.9 566.7L854.5 558.1L855.1 570.4L855.7 564.6L856.2 563.3L856.8 554.8L857.4 558.0L858.0 557.6L858.5 561.4L859.1 550.3L859.7 548.7L860.3 552.9L860.8 574.5L861.4 564.7L862.0 566.6L862.6 558.7L863.1 556.7L863.7 553.4L864.3 560.4L864.9 558.7L865.5 561.0L866.0 569.7L866.6 562.6L867.2 566.5L867.8 563.0L868.3 553.2L868.9 543.3L869.5 548.1L870.1 552.9L870.6 557.5L871.2 565.1L871.8 559.0L872.4 556.9L872.9 563.1L873.5 557.5L874.1 566.9L874.7 504.3L875.3 565.0L875.8 567.6L876.4 568.7L877.0 567.4L877.6 569.2L878.1 564.4L878.7 561.3L879.3 525.8L879.9 563.1L880.4 564.2L881.0 555.5L881.6 541.9L882.2 553.0L882.7 547.1L883.3 558.4L883.9 551.9L884.5 561.1L885.0 568.6L885.6 563.5L886.2 563.4L886.8 561.7L887.4 564.2L887.9 570.7L888.5 568.0L889.1 567.7L889.7 570.7L890.2 570.3L890.8 566.3L891.4 563.5L892.0 567.7L892.5 570.3L893.1 569.5L893.7 569.7L894.3 566.9L894.8 549.4L895.4 559.8L896.0 571.5L896.6 555.9L897.1 559.5L897.7 563.8L898.3 559.0L898.9 564.0L899.5 546.9L900.0 556.6L900.6 559.7L901.2 563.6L901.8 559.6L902.3 562.6L902.9 564.8L903.5 564.2L904.1 568.0L904.6 559.1L905.2 547.6L905.8 564.2L906.4 565.6L906.9 560.3L907.5 568.9L908.1 569.3L908.7 562.2L909.3 561.2L909.8 559.2L910.4 571.5L911.0 559.0L911.6 559.4L912.1 561.4L912.7 542.2L913.3 542.9L913.9 565.9L914.4 514.0L915.0 560.4L915.6 562.0L916.2 568.8L916.7 552.5L917.3 557.6L917.9 554.6L918.5 547.4L919.0 554.8L919.6 570.5L920.2 552.5L920.8 559.6L921.4 569.2L921.9 566.8L922.5 565.3L923.1 565.3L923.7 563.0L924.2 557.5L924.8 537.4L925.4 539.5L926.0 549.9L926.5 526.9L927.1 546.0L927.7 524.0L928.3 544.3L928.8 566.4L929.4 549.7L930.0 557.0L930.6 560.5L931.2 560.6L931.7 559.0L932.3 553.2L932.9 557.4L933.5 567.1L934.0 560.2L934.6 555.0L935.2 560.0L935.8 556.5L936.3 551.4L936.9 568.4L937.5 573.5L938.1 571.1L938.6 559.0L939.2 569.1L939.8 555.1L940.4 561.9L940.9 556.6L941.5 562.1L942.1 564.7L942.7 564.4L943.3 567.0L943.8 569.2L944.4 569.0L945.0 566.9L945.6 565.8L946.1 570.8L946.7 568.4L947.3 566.0L947.9 558.0L948.4 553.5L949.0 555.8L949.6 556.1L950.2 566.6L950.7 566.3L951.3 556.8L951.9 554.8L952.5 540.2L953.0 524.4L953.6 522.8L954.2 551.6L954.8 561.4L955.4 562.9L955.9 547.8L956.5 551.1L957.1 558.6L957.7 566.8L958.2 563.6L958.8 563.3L959.4 549.0L960.0 523.9L960.5 559.9L961.1 569.5L961.7 558.2L962.3 552.0L962.8 561.2L963.4 557.3L964.0 555.0L964.6 565.5L965.2 556.3L965.7 562.1L966.3 558.7L966.9 544.4L967.5 562.0L968.0 552.4L968.6 547.5L969.2 533.8L969.8 558.0L970.3 555.1L970.9 567.9L971.5 563.6L972.1 547.2L972.6 528.7L973.2 538.7L973.8 560.6L974.4 569.9L974.9 561.8L975.5 489.2L976.1 558.1L976.7 558.0L977.3 558.2L977.8 539.7L978.4 563.9L979.0 562.6L979.6 553.0L980.1 537.1L980.7 560.6L981.3 568.0L981.9 566.8L982.4 572.4L983.0 572.3L983.6 555.5L984.2 564.4L984.7 569.9L985.3 567.6L985.9 562.6L986.5 566.5L987.0 563.1L987.6 553.1L988.2 549.0L988.8 558.0L989.4 545.9L989.9 533.1L990.5 542.8L991.1 568.0L991.7 556.4L992.2 560.8L992.8 550.9L993.4 561.5L994.0 565.5L994.5 566.8L995.1 566.5L995.7 546.7L996.3 559.9L996.8 563.5L997.4 560.5L998.0 567.9L998.6 567.4L999.2 569.7L999.7 558.1L1000.3 568.9L1000.9 565.5L1001.5 561.4L1002.0 548.4L1002.6 546.2L1003.2 505.6L1003.8 564.3L1004.3 535.0L1004.9 531.2L1005.5 543.6L1006.1 565.5L1006.6 566.0L1007.2 569.8L1007.8 571.5L1008.4 570.8L1008.9 573.4L1009.5 573.7L1010.1 570.9L1010.7 568.2L1011.3 574.2L1011.8 570.3L1012.4 553.7L1013.0 560.5L1013.6 565.3L1014.1 567.3L1014.7 543.0L1015.3 545.4L1015.9 546.2L1016.4 549.7L1017.0 556.9L1017.6 537.2L1018.2 555.0L1018.7 571.9L1019.3 563.5L1019.9 554.6L1020.5 556.1L1021.0 553.1L1021.6 553.0L1022.2 553.9L1022.8 531.1L1023.4 528.3L1023.9 540.4L1024.5 550.0L1025.1 559.7L1025.7 567.4L1026.2 570.8L1026.8 571.7L1027.4 567.6L1028.0 565.6L1028.5 557.2L1029.1 557.5L1029.7 571.3L1030.3 573.9L1030.8 571.2L1031.4 541.7L1032.0 557.3L1032.6 553.6L1033.2 554.9L1033.7 561.8L1034.3 554.5L1034.9 570.9L1035.5 571.1L1036.0 573.4L1036.6 476.5L1037.2 540.5L1037.8 557.3L1038.3 567.0L1038.9 570.1L1039.5 565.5L1040.1 564.3L1040.6 559.5L1041.2 564.8L1041.8 567.2L1042.4 554.4L1042.9 543.5L1043.5 545.7L1044.1 562.4L1044.7 548.8L1045.3 521.0L1045.8 553.5L1046.4 548.1L1047.0 556.8L1047.6 554.4L1048.1 508.3L1048.7 550.9L1049.3 561.4L1049.9 558.8L1050.4 563.8L1051.0 559.1L1051.6 558.8L1052.2 564.5L1052.7 562.6L1053.3 564.7L1053.9 559.8L1054.5 557.9L1055.0 556.5L1055.6 572.0L1056.2 567.5L1056.8 567.9L1057.4 567.6L1057.9 556.5L1058.5 550.9L1059.1 460.7L1059.7 541.5L1060.2 536.4L1060.8 546.6L1061.4 542.6L1062.0 528.5L1062.5 558.8L1063.1 567.5L1063.7 569.2L1064.3 566.8L1064.8 563.4L1065.4 548.9L1066.0 560.8L1066.6 543.9L1067.2 535.5L1067.7 531.0L1068.3 547.8L1068.9 561.3L1069.5 546.7L1070.0 548.4L1070.6 556.7L1071.2 547.9L1071.8 550.1L1072.3 561.5L1072.9 555.5L1073.5 555.6L1074.1 558.9L1074.6 554.8L1075.2 563.3L1075.8 560.4L1076.4 563.6L1076.9 554.5L1077.5 555.9L1078.1 559.3L1078.7 550.1L1079.3 560.5L1079.8 565.1L1080.4 552.0L1081.0 563.4L1081.6 546.6L1082.1 541.8L1082.7 555.7L1083.3 562.6L1083.9 537.0L1084.4 549.0L1085.0 557.8L1085.6 562.3L1086.2 566.6L1086.7 539.1L1087.3 542.2L1087.9 550.0L1088.5 559.0L1089.0 561.1L1089.6 549.7L1090.2 569.5L1090.8 567.8L1091.4 567.8L1091.9 570.7L1092.5 558.0L1093.1 561.9L1093.7 546.4L1094.2 537.7L1094.8 558.8L1095.4 545.2L1096.0 547.8L1096.5 554.7L1097.1 514.5L1097.7 546.0L1098.3 549.3L1098.8 564.7L1099.4 550.9L1100.0 555.9L1100.6 540.8L1101.2 551.9L1101.7 541.9L1102.3 547.7L1102.9 543.9L1103.5 567.4L1104.0 561.6L1104.6 560.3L1105.2 559.9L1105.8 566.1L1106.3 571.9L1106.9 560.2L1107.5 558.4L1108.1 555.9L1108.6 544.9L1109.2 557.7L1109.8 541.4L1110.4 541.9L1110.9 547.0L1111.5 551.2L1112.1 530.2L1112.7 540.0L1113.3 540.5L1113.8 559.5L1114.4 553.7L1115.0 563.7L1115.6 564.9L1116.1 557.4L1116.7 559.4L1117.3 569.9L1117.9 569.9L1118.4 567.4L1119.0 557.9L1119.6 561.9L1120.2 548.6L1120.7 552.6L1121.3 563.3L1121.9 542.7L1122.5 552.6L1123.1 559.3L1123.6 563.2L1124.2 560.6L1124.8 562.1L1125.4 557.4L1125.9 548.8L1126.5 552.1L1127.1 561.0L1127.7 548.1L1128.2 555.9L1128.8 552.2L1129.4 570.1L1130.0 555.1L1130.5 561.5L1131.1 550.7L1131.7 564.0L1132.3 561.9L1132.8 544.8L1133.4 537.0L1134.0 545.1L1134.6 543.0L1135.2 567.7L1135.7 566.7L1136.3 563.3L1136.9 571.9L1137.5 568.4L1138.0 561.5L1138.6 550.3L1139.2 556.7L1139.8 542.8L1140.3 521.6L1140.9 542.3L1141.5 543.0L1142.1 543.5L1142.6 533.3L1143.2 566.3L1143.8 558.9L1144.4 562.4L1144.9 568.2L1145.5 570.2L1146.1 526.8L1146.7 559.1L1147.3 523.0L1147.8 569.9L1148.4 528.7L1149.0 549.3L1149.6 521.5L1150.1 555.0L1150.7 530.6L1151.3 553.5L1151.9 524.0L1152.4 566.5L1153.0 528.7L1153.6 547.5L1154.2 554.6L1154.7 554.6L1155.3 562.0L1155.9 561.3L1156.5 542.7L1157.1 545.0L1157.6 546.9L1158.2 545.5L1158.8 558.4L1159.4 555.7L1159.9 565.6L1160.5 573.9L1161.1 567.8L1161.7 566.4L1162.2 566.6L1162.8 570.9L1163.4 567.3L1164.0 478.4L1164.5 567.9L1165.1 568.4L1165.7 571.0L1166.3 569.1L1166.8 559.4L1167.4 566.7L1168.0 557.6L1168.6 510.9L1169.2 568.3L1169.7 532.0L1170.3 563.1L1170.9 553.5L1171.5 564.0L1172.0 559.9L1172.6 555.6L1173.2 548.8L1173.8 556.6L1174.3 563.1L1174.9 533.6L1175.5 542.0L1176.1 545.2L1176.6 561.3L1177.2 567.7L1177.8 559.3L1178.4 543.7L1178.9 558.9L1179.5 567.1L1180.1 556.1L1180.7 562.7L1181.3 557.5L1181.8 566.3L1182.4 563.1L1183.0 566.6L1183.6 565.7L1184.1 567.6L1184.7 561.9L1185.3 563.1L1185.9 559.3L1186.4 563.2L1187.0 551.0L1187.6 561.9L1188.2 563.1L1188.7 551.7L1189.3 555.3L1189.9 563.3L1190.5 565.1L1191.1 567.3L1191.6 555.2L1192.2 557.6L1192.8 559.0L1193.4 569.3L1193.9 558.2L1194.5 550.1L1195.1 541.4L1195.7 562.3L1196.2 549.4L1196.8 560.7L1197.4 556.9L1198.0 557.2L1198.5 550.1L1199.1 566.1L1199.7 562.3L1200.3 554.5L1200.8 534.7L1201.4 552.5L1202.0 551.7" stroke="#2a2eec"/>
<path d="M626.3 541.7L626.9 557.4L627.5 561.1L628.0 560.5L628.6 545.7L629.2 557.8L629.8 556.8L630.3 561.5L630.9 559.1L631.5 536.5L632.1 541.7L632.6 545.9L633.2 558.2L633.8 563.6L634.4 553.4L634.9 540.8L635.5 559.8L636.1 561.6L636.7 563.6L637.2 563.7L637.8 554.3L638.4 565.4L639.0 553.0L639.6 535.3L640.1 563.4L640.7 560.4L641.3 561.5L641.9 567.1L642.4 542.9L643.0 531.0L643.6 555.7L644.2 561.6L644.7 558.7L645.3 544.2L645.9 537.3L646.5 548.6L647.0 563.9L647.6 570.9L648.2 565.7L648.8 557.4L649.4 549.0L649.9 532.8L650.5 550.5L651.1 556.6L651.7 543.7L652.2 554.7L652.8 547.5L653.4 570.5L654.0 555.3L654.5 554.3L655.1 553.3L655.7 545.4L656.3 552.9L656.8 567.1L657.4 565.7L658.0 544.5L658.6 555.2L659.1 557.4L659.7 562.1L660.3 561.6L660.9 564.6L661.5 568.5L662.0 563.9L662.6 565.8L663.2 569.2L663.8 555.3L664.3 559.2L664.9 556.2L665.5 536.0L666.1 526.1L666.6 553.2L667.2 552.2L667.8 556.3L668.4 563.2L668.9 558.8L669.5 562.9L670.1 565.8L670.7 562.3L671.2 501.6L671.8 553.0L672.4 557.5L673.0 547.7L673.6 558.4L674.1 561.8L674.7 496.9L675.3 563.3L675.9 556.7L676.4 550.4L677.0 560.0L677.6 563.9L678.2 560.8L678.7 555.4L679.3 561.1L679.9 562.8L680.5 570.1L681.0 562.9L681.6 554.5L682.2 547.3L682.8 555.6L683.4 552.3L683.9 535.1L684.5 538.7L685.1 549.8L685.7 554.7L686.2 551.8L686.8 552.0L687.4 557.7L688.0 547.4L688.5 500.2L689.1 548.7L689.7 558.1L690.3 543.8L690.8 550.9L691.4 559.8L692.0 563.9L692.6 540.3L693.1 545.0L693.7 538.2L694.3 555.7L694.9 558.4L695.5 561.1L696.0 555.9L696.6 558.6L697.2 555.4L697.8 564.5L698.3 533.4L698.9 519.2L699.5 516.6L700.1 527.1L700.6 526.2L701.2 544.9L701.8 535.7L702.4 544.0L702.9 562.0L703.5 565.9L704.1 568.8L704.7 556.6L705.2 558.7L705.8 558.4L706.4 556.7L707.0 558.0L707.6 558.1L708.1 563.7L708.7 567.2L709.3 559.3L709.9 556.1L710.4 557.0L711.0 550.8L711.6 549.4L712.2 549.7L712.7 535.0L713.3 566.7L713.9 559.0L714.5 571.7L715.0 559.5L715.6 551.4L716.2 556.5L716.8 557.5L717.4 550.4L717.9 558.4L718.5 559.3L719.1 550.4L719.7 570.3L720.2 562.1L720.8 556.2L721.4 548.7L722.0 549.0L722.5 566.5L723.1 551.1L723.7 563.5L724.3 573.9L724.8 565.9L725.4 561.6L726.0 557.4L726.6 551.9L727.1 533.3L727.7 534.3L728.3 562.8L728.9 556.7L729.5 553.5L730.0 557.5L730.6 557.6L731.2 559.1L731.8 551.6L732.3 562.6L732.9 573.2L733.5 567.4L734.1 568.3L734.6 500.2L735.2 556.4L735.8 565.8L736.4 561.6L736.9 567.5L737.5 569.1L738.1 568.0L738.7 568.8L739.3 560.9L739.8 567.0L740.4 563.9L741.0 562.4L741.6 563.0L742.1 554.6L742.7 543.9L743.3 545.1L743.9 535.3L744.4 550.7L745.0 539.2L745.6 539.1L746.2 551.1L746.7 539.5L747.3 560.0L747.9 566.1L748.5 569.6L749.0 561.9L749.6 568.3L750.2 557.1L750.8 566.8L751.4 565.2L751.9 562.2L752.5 556.4L753.1 563.2L753.7 556.0L754.2 548.9L754.8 555.5L755.4 569.3L756.0 556.5L756.5 561.1L757.1 565.0L757.7 561.0L758.3 571.7L758.8 559.9L759.4 567.4L760.0 560.3L760.6 559.2L761.1 564.8L761.7 559.3L762.3 556.3L762.9 559.4L763.5 558.6L764.0 556.6L764.6 562.9L765.2 567.2L765.8 563.7L766.3 571.0L766.9 571.0L767.5 561.4L768.1 555.1L768.6 559.0L769.2 554.3L769.8 558.8L770.4 564.6L770.9 557.7L771.5 559.0L772.1 559.3L772.7 560.6L773.3 531.1L773.8 541.4L774.4 540.0L775.0 554.8L775.6 552.4L776.1 561.8L776.7 562.9L777.3 562.3L777.9 561.1L778.4 540.8L779.0 559.6L779.6 550.9L780.2 553.4L780.7 555.7L781.3 529.8L781.9 551.4L782.5 567.9L783.0 554.8L783.6 550.7L784.2 567.0L784.8 558.6L785.4 565.8L785.9 563.3L786.5 549.3L787.1 563.0L787.7 562.6L788.2 548.3L788.8 555.8L789.4 561.2L790.0 552.7L790.5 545.1L791.1 539.6L791.7 521.3L792.3 561.4L792.8 570.0L793.4 568.1L794.0 572.2L794.6 570.7L795.1 572.0L795.7 562.1L796.3 551.8L796.9 561.5L797.5 532.3L798.0 526.2L798.6 556.0L799.2 560.6L799.8 561.6L800.3 555.8L800.9 552.2L801.5 555.8L802.1 555.8L802.6 556.0L803.2 551.9L803.8 561.6L804.4 559.8L804.9 565.7L805.5 562.2L806.1 562.9L806.7 560.2L807.3 570.6L807.8 572.2L808.4 553.5L809.0 554.1L809.6 563.3L810.1 557.4L810.7 529.8L811.3 500.9L811.9 559.7L812.4 564.5L813.0 571.9L813.6 571.2L814.2 558.7L814.7 541.0L815.3 551.9L815.9 566.7L816.5 574.3L817.0 566.9L817.6 563.4L818.2 562.3L818.8 560.9L819.4 536.2L819.9 555.0L820.5 555.0L821.1 551.4L821.7 534.3L822.2 552.7L822.8 558.2L823.4 553.3L824.0 557.1L824.5 565.6L825.1 562.8L825.7 562.2L826.3 566.3L826.8 571.0L827.4 569.9L828.0 568.0L828.6 558.3L829.1 546.8L829.7 572.0L830.3 565.4L830.9 563.6L831.5 560.8L832.0 555.2L832.6 564.0L833.2 574.6L833.8 566.3L834.3 564.1L834.9 556.8L835.5 554.7L836.1 560.2L836.6 554.5L837.2 559.7L837.8 556.7L838.4 564.3L838.9 559.9L839.5 557.5L840.1 563.6L840.7 561.3L841.3 541.4L841.8 557.7L842.4 567.0L843.0 550.5L843.6 527.9L844.1 545.3L844.7 549.1L845.3 547.4L845.9 557.9L846.4 550.4L847.0 558.2L847.6 572.2L848.2 568.5L848.7 562.2L849.3 539.2L849.9 554.4L850.5 562.7L851.0 560.7L851.6 561.2L852.2 564.4L852.8 551.2L853.4 552.2L853.9 562.9L854.5 560.3L855.1 552.1L855.7 567.1L856.2 571.9L856.8 567.8L857.4 567.3L858.0 569.3L858.5 567.7L859.1 571.3L859.7 550.7L860.3 554.0L860.8 551.6L861.4 561.7L862.0 556.6L862.6 573.3L863.1 570.9L863.7 563.5L864.3 566.0L864.9 563.1L865.5 572.8L866.0 568.6L866.6 562.1L867.2 556.5L867.8 559.2L868.3 564.7L868.9 550.9L869.5 563.7L870.1 565.9L870.6 564.2L871.2 560.6L871.8 556.3L872.4 564.3L872.9 557.8L873.5 554.9L874.1 566.9L874.7 559.9L875.3 566.2L875.8 551.2L876.4 532.9L877.0 562.7L877.6 572.7L878.1 571.3L878.7 567.9L879.3 564.8L879.9 565.2L880.4 514.9L881.0 553.9L881.6 552.1L882.2 569.3L882.7 562.1L883.3 563.9L883.9 561.4L884.5 561.3L885.0 548.9L885.6 566.0L886.2 559.0L886.8 571.2L887.4 563.4L887.9 497.7L888.5 546.1L889.1 556.1L889.7 554.6L890.2 563.7L890.8 560.3L891.4 559.8L892.0 561.3L892.5 562.8L893.1 559.8L893.7 566.6L894.3 563.3L894.8 551.5L895.4 547.6L896.0 550.5L896.6 568.3L897.1 570.6L897.7 572.7L898.3 569.9L898.9 566.6L899.5 558.7L900.0 563.3L900.6 565.5L901.2 555.2L901.8 505.6L902.3 570.9L902.9 564.1L903.5 568.4L904.1 563.9L904.6 553.5L905.2 552.0L905.8 562.3L906.4 562.9L906.9 567.0L907.5 554.9L908.1 550.9L908.7 555.4L909.3 552.1L909.8 543.2L910.4 558.2L911.0 554.2L911.6 537.4L912.1 555.7L912.7 544.3L913.3 548.3L913.9 563.4L914.4 562.5L915.0 569.4L915.6 560.5L916.2 566.2L916.7 563.8L917.3 563.4L917.9 540.5L918.5 544.8L919.0 553.1L919.6 533.5L920.2 558.6L920.8 552.0L921.4 552.3L921.9 554.1L922.5 547.9L923.1 561.5L923.7 541.3L924.2 546.8L924.8 547.9L925.4 550.4L926.0 553.4L926.5 519.7L927.1 542.0L927.7 560.8L928.3 562.8L928.8 574.7L929.4 565.5L930.0 565.3L930.6 563.0L931.2 565.7L931.7 557.3L932.3 531.3L932.9 558.6L933.5 548.6L934.0 547.4L934.6 545.9L935.2 551.9L935.8 545.1L936.3 535.6L936.9 555.5L937.5 572.5L938.1 563.3L938.6 564.7L939.2 548.6L939.8 559.5L940.4 557.2L940.9 572.4L941.5 564.2L942.1 560.2L942.7 544.6L943.3 548.9L943.8 549.1L944.4 550.8L945.0 568.8L945.6 556.5L946.1 555.9L946.7 555.3L947.3 552.3L947.9 560.4L948.4 561.0L949.0 559.4L949.6 555.6L950.2 542.0L950.7 549.0L951.3 548.7L951.9 561.3L952.5 536.1L953.0 530.5L953.6 534.8L954.2 561.5L954.8 554.8L955.4 565.6L955.9 564.6L956.5 565.9L957.1 569.1L957.7 562.1L958.2 539.3L958.8 558.3L959.4 548.5L960.0 555.0L960.5 559.3L961.1 556.7L961.7 553.3L962.3 562.3L962.8 568.5L963.4 567.7L964.0 575.4L964.6 575.8L965.2 574.4L965.7 567.2L966.3 565.2L966.9 565.7L967.5 518.2L968.0 568.8L968.6 565.4L969.2 562.9L969.8 563.3L970.3 560.7L970.9 553.6L971.5 566.5L972.1 571.9L972.6 556.7L973.2 566.4L973.8 567.5L974.4 560.5L974.9 562.2L975.5 551.1L976.1 556.6L976.7 550.9L977.3 554.3L977.8 552.2L978.4 560.2L979.0 564.1L979.6 560.1L980.1 566.6L980.7 552.1L981.3 557.3L981.9 561.1L982.4 542.1L983.0 558.8L983.6 564.4L984.2 557.3L984.7 560.1L985.3 559.7L985.9 558.1L986.5 552.0L987.0 559.4L987.6 546.2L988.2 560.7L988.8 558.4L989.4 561.5L989.9 545.8L990.5 560.8L991.1 527.6L991.7 557.0L992.2 554.2L992.8 554.1L993.4 550.2L994.0 549.6L994.5 565.1L995.1 570.0L995.7 565.6L996.3 560.7L996.8 566.3L997.4 560.2L998.0 544.0L998.6 551.6L999.2 548.5L999.7 560.7L1000.3 529.7L1000.9 548.5L1001.5 553.2L1002.0 554.8L1002.6 559.5L1003.2 558.6L1003.8 556.5L1004.3 565.2L1004.9 556.0L1005.5 552.2L1006.1 558.9L1006.6 566.8L1007.2 565.0L1007.8 568.0L1008.4 544.4L1008.9 534.6L1009.5 547.7L1010.1 556.9L1010.7 546.4L1011.3 545.1L1011.8 526.8L1012.4 564.2L1013.0 556.5L1013.6 567.3L1014.1 540.2L1014.7 567.3L1015.3 569.3L1015.9 569.3L1016.4 566.4L1017.0 564.6L1017.6 552.9L1018.2 557.6L1018.7 557.2L1019.3 555.3L1019.9 567.6L1020.5 553.0L1021.0 565.4L1021.6 557.1L1022.2 551.7L1022.8 564.4L1023.4 551.9L1023.9 549.5L1024.5 550.4L1025.1 553.0L1025.7 553.6L1026.2 549.3L1026.8 538.3L1027.4 567.8L1028.0 543.3L1028.5 514.9L1029.1 549.4L1029.7 559.3L1030.3 561.7L1030.8 555.0L1031.4 563.5L1032.0 568.6L1032.6 558.1L1033.2 556.1L1033.7 560.5L1034.3 536.2L1034.9 547.2L1035.5 548.7L1036.0 554.8L1036.6 555.8L1037.2 562.7L1037.8 544.7L1038.3 565.1L1038.9 565.3L1039.5 572.0L1040.1 567.5L1040.6 561.2L1041.2 559.0L1041.8 552.2L1042.4 560.4L1042.9 555.1L1043.5 562.5L1044.1 565.9L1044.7 562.5L1045.3 552.1L1045.8 569.4L1046.4 569.1L1047.0 568.8L1047.6 560.8L1048.1 562.7L1048.7 558.1L1049.3 544.3L1049.9 549.5L1050.4 554.3L1051.0 562.8L1051.6 569.4L1052.2 566.3L1052.7 546.7L1053.3 563.0L1053.9 561.1L1054.5 566.5L1055.0 559.2L1055.6 548.0L1056.2 564.5L1056.8 495.5L1057.4 561.7L1057.9 439.5L1058.5 567.7L1059.1 560.9L1059.7 557.2L1060.2 538.3L1060.8 558.5L1061.4 558.3L1062.0 564.1L1062.5 565.1L1063.1 538.2L1063.7 533.7L1064.3 553.6L1064.8 558.4L1065.4 557.6L1066.0 538.4L1066.6 534.9L1067.2 551.2L1067.7 564.8L1068.3 564.1L1068.9 543.3L1069.5 561.0L1070.0 561.9L1070.6 571.3L1071.2 562.2L1071.8 559.7L1072.3 536.4L1072.9 567.2L1073.5 569.3L1074.1 570.2L1074.6 559.4L1075.2 559.1L1075.8 567.8L1076.4 559.5L1076.9 574.7L1077.5 559.9L1078.1 550.5L1078.7 567.2L1079.3 568.4L1079.8 572.1L1080.4 565.1L1081.0 558.8L1081.6 565.4L1082.1 547.5L1082.7 558.3L1083.3 552.8L1083.9 552.0L1084.4 553.2L1085.0 552.6L1085.6 558.5L1086.2 564.7L1086.7 568.7L1087.3 566.1L1087.9 557.4L1088.5 535.8L1089.0 548.1L1089.6 556.9L1090.2 560.0L1090.8 559.8L1091.4 567.8L1091.9 569.5L1092.5 562.1L1093.1 551.4L1093.7 536.9L1094.2 543.4L1094.8 558.8L1095.4 546.6L1096.0 550.0L1096.5 557.7L1097.1 532.8L1097.7 550.6L1098.3 537.2L1098.8 554.7L1099.4 557.0L1100.0 557.3L1100.6 557.6L1101.2 558.3L1101.7 556.1L1102.3 541.0L1102.9 551.1L1103.5 562.0L1104.0 572.1L1104.6 560.6L1105.2 537.6L1105.8 561.8L1106.3 557.2L1106.9 532.2L1107.5 555.8L1108.1 560.6L1108.6 550.3L1109.2 560.8L1109.8 567.7L1110.4 564.7L1110.9 575.4L1111.5 573.7L1112.1 517.0L1112.7 563.7L1113.3 563.9L1113.8 562.1L1114.4 564.0L1115.0 566.8L1115.6 564.8L1116.1 570.4L1116.7 563.3L1117.3 562.5L1117.9 556.3L1118.4 561.8L1119.0 541.8L1119.6 554.2L1120.2 561.6L1120.7 551.2L1121.3 564.0L1121.9 547.0L1122.5 525.0L1123.1 559.1L1123.6 568.7L1124.2 561.7L1124.8 554.5L1125.4 550.9L1125.9 564.1L1126.5 569.9L1127.1 574.7L1127.7 566.7L1128.2 568.4L1128.8 574.5L1129.4 566.8L1130.0 557.9L1130.5 556.8L1131.1 563.1L1131.7 556.0L1132.3 572.8L1132.8 566.1L1133.4 558.7L1134.0 561.7L1134.6 566.7L1135.2 567.0L1135.7 551.7L1136.3 563.0L1136.9 573.7L1137.5 567.2L1138.0 572.1L1138.6 567.9L1139.2 568.5L1139.8 565.3L1140.3 570.3L1140.9 561.6L1141.5 556.0L1142.1 556.5L1142.6 556.1L1143.2 555.8L1143.8 561.9L1144.4 561.8L1144.9 556.6L1145.5 561.6L1146.1 568.9L1146.7 575.2L1147.3 567.6L1147.8 553.9L1148.4 556.6L1149.0 559.5L1149.6 565.7L1150.1 564.7L1150.7 556.4L1151.3 532.1L1151.9 541.3L1152.4 551.9L1153.0 536.9L1153.6 531.3L1154.2 568.8L1154.7 568.4L1155.3 573.7L1155.9 575.5L1156.5 569.3L1157.1 566.0L1157.6 564.8L1158.2 557.1L1158.8 559.2L1159.4 557.6L1159.9 555.9L1160.5 564.6L1161.1 535.3L1161.7 537.3L1162.2 553.6L1162.8 553.1L1163.4 562.2L1164.0 558.5L1164.5 555.9L1165.1 563.6L1165.7 567.2L1166.3 528.5L1166.8 557.9L1167.4 543.6L1168.0 560.8L1168.6 564.0L1169.2 556.2L1169.7 567.6L1170.3 544.4L1170.9 544.5L1171.5 554.5L1172.0 530.4L1172.6 556.6L1173.2 539.2L1173.8 551.4L1174.3 548.8L1174.9 556.8L1175.5 562.9L1176.1 563.9L1176.6 552.7L1177.2 556.9L1177.8 561.3L1178.4 565.0L1178.9 572.7L1179.5 557.6L1180.1 493.7L1180.7 568.0L1181.3 505.0L1181.8 561.1L1182.4 564.6L1183.0 436.5L1183.6 562.8L1184.1 558.2L1184.7 558.9L1185.3 551.2L1185.9 545.1L1186.4 551.8L1187.0 553.7L1187.6 559.1L1188.2 550.3L1188.7 530.3L1189.3 542.2L1189.9 544.3L1190.5 536.1L1191.1 558.4L1191.6 559.2L1192.2 549.2L1192.8 552.4L1193.4 539.8L1193.9 550.7L1194.5 528.6L1195.1 534.5L1195.7 555.0L1196.2 565.5L1196.8 551.8L1197.4 558.9L1198.0 561.5L1198.5 566.0L1199.1 570.8L1199.7 557.5L1200.3 561.9L1200.8 560.1L1201.4 565.9L1202.0 567.9" stroke="#fa7c17"/>
<path d="M626.3 522.8L626.9 562.2L627.5 550.8L628.0 548.2L628.6 549.4L629.2 529.4L629.8 546.2L630.3 560.5L630.9 550.9L631.5 530.3L632.1 552.6L632.6 537.7L633.2 543.9L633.8 554.0L634.4 567.6L634.9 567.1L635.5 567.7L636.1 556.0L636.7 564.0L637.2 553.8L637.8 544.1L638.4 555.4L639.0 560.8L639.6 565.3L640.1 561.5L640.7 562.3L641.3 561.7L641.9 563.2L642.4 561.8L643.0 542.4L643.6 553.5L644.2 562.6L644.7 566.2L645.3 559.7L645.9 562.7L646.5 559.8L647.0 500.2L647.6 564.2L648.2 571.6L648.8 566.9L649.4 573.2L649.9 562.5L650.5 568.5L651.1 567.4L651.7 565.1L652.2 568.0L652.8 557.0L653.4 564.5L654.0 561.6L654.5 558.2L655.1 543.9L655.7 543.6L656.3 532.2L656.8 540.2L657.4 567.2L658.0 560.6L658.6 562.9L659.1 492.4L659.7 559.4L660.3 548.1L660.9 567.5L661.5 561.2L662.0 562.1L662.6 568.8L663.2 566.3L663.8 561.3L664.3 561.5L664.9 561.0L665.5 564.7L666.1 560.7L666.6 561.4L667.2 567.6L667.8 548.9L668.4 566.0L668.9 553.6L669.5 563.1L670.1 567.0L670.7 559.9L671.2 566.0L671.8 570.2L672.4 569.3L673.0 558.0L673.6 568.9L674.1 550.7L674.7 545.9L675.3 543.3L675.9 548.7L676.4 562.8L677.0 564.3L677.6 558.5L678.2 551.6L678.7 548.7L679.3 555.7L679.9 561.5L680.5 478.6L681.0 560.6L681.6 559.9L682.2 567.3L682.8 553.9L683.4 561.4L683.9 555.2L684.5 539.6L685.1 570.3L685.7 570.8L686.2 574.5L686.8 574.1L687.4 573.9L688.0 572.0L688.5 558.4L689.1 560.7L689.7 557.6L690.3 542.4L690.8 552.3L691.4 558.9L692.0 547.9L692.6 552.7L693.1 565.0L693.7 573.2L694.3 571.1L694.9 566.3L695.5 568.1L696.0 560.5L696.6 541.6L697.2 542.7L697.8 570.7L698.3 568.3L698.9 569.8L699.5 559.1L700.1 555.0L700.6 558.3L701.2 560.6L701.8 563.4L702.4 568.7L702.9 564.9L703.5 568.0L704.1 566.3L704.7 553.8L705.2 559.6L705.8 552.7L706.4 554.5L707.0 563.7L707.6 556.1L708.1 561.2L708.7 556.5L709.3 558.9L709.9 547.9L710.4 548.8L711.0 555.9L711.6 563.4L712.2 536.2L712.7 553.2L713.3 555.0L713.9 556.9L714.5 560.8L715.0 568.0L715.6 566.4L716.2 568.3L716.8 556.3L717.4 524.5L717.9 555.6L718.5 556.9L719.1 550.5L719.7 563.2L720.2 565.5L720.8 566.7L721.4 550.4L722.0 549.7L722.5 562.7L723.1 560.7L723.7 559.9L724.3 559.6L724.8 570.6L725.4 566.0L726.0 561.4L726.6 555.9L727.1 556.8L727.7 562.8L728.3 563.8L728.9 554.8L729.5 517.1L730.0 554.4L730.6 546.0L731.2 512.2L731.8 554.1L732.3 574.0L732.9 565.1L733.5 565.6L734.1 566.6L734.6 559.9L735.2 566.0L735.8 568.7L736.4 557.5L736.9 549.0L737.5 542.2L738.1 547.6L738.7 553.7L739.3 550.6L739.8 541.3L740.4 524.9L741.0 538.4L741.6 538.4L742.1 554.9L742.7 543.7L743.3 521.0L743.9 516.8L744.4 540.9L745.0 565.9L745.6 567.1L746.2 560.6L746.7 566.5L747.3 566.7L747.9 544.2L748.5 564.6L749.0 569.6L749.6 564.4L750.2 561.6L750.8 530.6L751.4 544.1L751.9 546.2L752.5 549.5L753.1 565.9L753.7 571.7L754.2 572.6L754.8 567.6L755.4 571.7L756.0 560.9L756.5 560.1L757.1 554.8L757.7 551.1L758.3 555.3L758.8 568.6L759.4 568.9L760.0 563.6L760.6 570.1L761.1 567.0L761.7 570.3L762.3 562.1L762.9 557.9L763.5 558.8L764.0 555.6L764.6 548.2L765.2 555.5L765.8 556.0L766.3 549.5L766.9 553.6L767.5 556.9L768.1 560.3L768.6 563.5L769.2 566.3L769.8 559.5L770.4 558.1L770.9 562.4L771.5 551.7L772.1 542.8L772.7 552.5L773.3 563.4L773.8 558.8L774.4 559.3L775.0 554.3L775.6 557.1L776.1 548.3L776.7 564.1L777.3 562.2L777.9 563.1L778.4 558.7L779.0 564.3L779.6 566.5L780.2 570.4L780.7 565.5L781.3 545.8L781.9 528.8L782.5 554.8L783.0 558.2L783.6 556.1L784.2 568.7L784.8 560.1L785.4 546.3L785.9 556.2L786.5 569.6L787.1 572.0L787.7 563.5L788.2 564.2L788.8 563.1L789.4 556.5L790.0 558.4L790.5 562.1L791.1 563.5L791.7 571.4L792.3 557.8L792.8 545.6L793.4 558.9L794.0 516.4L794.6 564.6L795.1 557.3L795.7 559.0L796.3 563.2L796.9 565.5L797.5 553.7L798.0 557.4L798.6 554.2L799.2 563.6L799.8 525.0L800.3 544.3L800.9 564.1L801.5 549.6L802.1 564.4L802.6 551.6L803.2 545.0L803.8 523.1L804.4 551.5L804.9 566.9L805.5 559.7L806.1 551.9L806.7 553.5L807.3 556.1L807.8 535.7L808.4 534.8L809.0 559.3L809.6 556.1L810.1 510.7L810.7 564.6L811.3 571.2L811.9 570.2L812.4 570.7L813.0 573.5L813.6 567.9L814.2 562.5L814.7 496.4L815.3 570.5L815.9 553.9L816.5 558.9L817.0 563.0L817.6 565.1L818.2 554.6L818.8 565.7L819.4 562.9L819.9 569.1L820.5 557.6L821.1 565.4L821.7 568.6L822.2 561.2L822.8 557.5L823.4 551.2L824.0 550.5L824.5 528.5L825.1 559.0L825.7 556.1L826.3 551.8L826.8 553.5L827.4 541.2L828.0 541.0L828.6 548.7L829.1 539.4L829.7 558.1L830.3 557.4L830.9 563.3L831.5 550.2L832.0 562.4L832.6 566.4L833.2 560.6L833.8 560.0L834.3 567.3L834.9 563.7L835.5 551.2L836.1 556.4L836.6 567.2L837.2 565.4L837.8 569.2L838.4 569.8L838.9 559.8L839.5 556.4L840.1 544.8L840.7 561.7L841.3 562.8L841.8 568.2L842.4 558.2L843.0 565.9L843.6 568.8L844.1 570.6L844.7 562.6L845.3 559.3L845.9 559.2L846.4 547.6L847.0 554.6L847.6 563.5L848.2 538.1L848.7 558.7L849.3 563.7L849.9 550.4L850.5 555.7L851.0 555.7L851.6 568.1L852.2 568.2L852.8 568.9L853.4 562.2L853.9 563.0L854.5 557.9L855.1 564.4L855.7 564.0L856.2 559.3L856.8 567.4L857.4 568.9L858.0 556.6L858.5 562.7L859.1 533.9L859.7 541.2L860.3 545.0L860.8 512.2L861.4 554.8L862.0 557.0L862.6 567.7L863.1 566.8L863.7 565.7L864.3 556.6L864.9 560.6L865.5 572.9L866.0 566.3L866.6 564.9L867.2 558.6L867.8 557.6L868.3 567.5L868.9 571.5L869.5 503.1L870.1 570.1L870.6 566.2L871.2 566.9L871.8 565.0L872.4 558.9L872.9 452.2L873.5 564.7L874.1 505.0L874.7 550.9L875.3 551.0L875.8 567.3L876.4 563.1L877.0 563.5L877.6 553.7L878.1 571.9L878.7 567.1L879.3 563.7L879.9 558.7L880.4 562.5L881.0 564.1L881.6 561.7L882.2 569.6L882.7 564.7L883.3 570.9L883.9 570.2L884.5 560.2L885.0 557.2L885.6 555.6L886.2 546.5L886.8 550.7L887.4 553.3L887.9 563.3L888.5 565.9L889.1 550.9L889.7 562.5L890.2 552.8L890.8 553.3L891.4 536.3L892.0 558.9L892.5 548.8L893.1 560.5L893.7 562.8L894.3 543.1L894.8 527.2L895.4 547.3L896.0 534.5L896.6 544.7L897.1 554.9L897.7 547.1L898.3 564.5L898.9 569.1L899.5 575.3L900.0 568.0L900.6 568.5L901.2 566.8L901.8 563.2L902.3 561.7L902.9 555.7L903.5 558.4L904.1 546.6L904.6 567.2L905.2 556.3L905.8 547.8L906.4 558.4L906.9 542.8L907.5 555.7L908.1 524.9L908.7 524.2L909.3 542.9L909.8 552.8L910.4 551.3L911.0 553.5L911.6 556.8L912.1 555.2L912.7 542.8L913.3 555.1L913.9 563.9L914.4 538.4L915.0 549.7L915.6 548.7L916.2 556.2L916.7 562.6L917.3 552.1L917.9 541.8L918.5 557.3L919.0 563.6L919.6 560.2L920.2 556.8L920.8 561.8L921.4 551.8L921.9 511.6L922.5 564.1L923.1 496.9L923.7 560.4L924.2 558.9L924.8 563.1L925.4 555.7L926.0 564.8L926.5 558.7L927.1 560.0L927.7 566.2L928.3 567.2L928.8 571.4L929.4 573.0L930.0 573.6L930.6 566.6L931.2 564.4L931.7 569.1L932.3 568.6L932.9 570.4L933.5 560.3L934.0 566.2L934.6 563.1L935.2 492.4L935.8 554.9L936.3 547.0L936.9 557.9L937.5 569.4L938.1 561.9L938.6 556.4L939.2 569.6L939.8 566.0L940.4 561.3L940.9 563.8L941.5 562.5L942.1 569.5L942.7 570.0L943.3 571.2L943.8 554.9L944.4 558.3L945.0 562.6L945.6 567.1L946.1 519.2L946.7 561.2L947.3 562.7L947.9 568.3L948.4 569.4L949.0 572.0L949.6 573.9L950.2 566.4L950.7 566.9L951.3 560.6L951.9 561.7L952.5 563.0L953.0 564.0L953.6 562.4L954.2 541.6L954.8 547.1L955.4 561.5L955.9 549.9L956.5 560.0L957.1 568.4L957.7 514.9L958.2 574.4L958.8 565.4L959.4 557.5L960.0 566.1L960.5 564.6L961.1 569.9L961.7 566.3L962.3 556.4L962.8 555.8L963.4 561.7L964.0 566.8L964.6 562.8L965.2 558.7L965.7 563.0L966.3 562.9L966.9 554.5L967.5 557.3L968.0 567.4L968.6 554.9L969.2 559.3L969.8 570.6L970.3 558.2L970.9 543.8L971.5 550.4L972.1 561.4L972.6 567.6L973.2 566.8L973.8 573.1L974.4 564.7L974.9 558.7L975.5 566.6L976.1 548.2L976.7 546.2L977.3 533.1L977.8 544.7L978.4 537.3L979.0 548.1L979.6 563.7L980.1 561.3L980.7 568.6L981.3 569.5L981.9 565.8L982.4 569.3L983.0 571.7L983.6 563.0L984.2 563.1L984.7 563.0L985.3 560.5L985.9 568.9L986.5 564.2L987.0 567.6L987.6 561.7L988.2 558.8L988.8 559.6L989.4 544.4L989.9 553.3L990.5 552.9L991.1 556.1L991.7 555.8L992.2 545.5L992.8 522.1L993.4 545.7L994.0 557.1L994.5 561.1L995.1 561.7L995.7 549.1L996.3 560.7L996.8 568.5L997.4 575.1L998.0 570.4L998.6 565.9L999.2 565.4L999.7 564.4L1000.3 562.7L1000.9 566.6L1001.5 563.9L1002.0 568.2L1002.6 566.4L1003.2 538.8L1003.8 548.0L1004.3 554.5L1004.9 559.4L1005.5 560.0L1006.1 547.8L1006.6 562.3L1007.2 561.6L1007.8 563.1L1008.4 552.3L1008.9 552.2L1009.5 562.7L1010.1 571.6L1010.7 562.5L1011.3 550.3L1011.8 561.5L1012.4 547.7L1013.0 566.4L1013.6 570.7L1014.1 573.7L1014.7 565.2L1015.3 565.8L1015.9 558.6L1016.4 573.9L1017.0 565.3L1017.6 562.9L1018.2 546.9L1018.7 550.6L1019.3 567.0L1019.9 550.2L1020.5 556.0L1021.0 546.1L1021.6 563.0L1022.2 559.2L1022.8 551.6L1023.4 546.0L1023.9 546.5L1024.5 564.7L1025.1 564.9L1025.7 568.7L1026.2 563.0L1026.8 571.2L1027.4 554.4L1028.0 564.4L1028.5 556.9L1029.1 566.1L1029.7 540.2L1030.3 523.9L1030.8 564.7L1031.4 571.4L1032.0 564.5L1032.6 571.1L1033.2 567.4L1033.7 557.0L1034.3 499.0L1034.9 566.6L1035.5 566.6L1036.0 563.3L1036.6 554.6L1037.2 552.7L1037.8 566.8L1038.3 570.1L1038.9 564.5L1039.5 551.6L1040.1 561.8L1040.6 566.7L1041.2 565.7L1041.8 565.0L1042.4 561.8L1042.9 563.0L1043.5 560.5L1044.1 565.4L1044.7 555.8L1045.3 551.6L1045.8 553.6L1046.4 557.3L1047.0 563.8L1047.6 568.9L1048.1 563.4L1048.7 563.5L1049.3 564.1L1049.9 548.8L1050.4 558.7L1051.0 545.4L1051.6 523.0L1052.2 528.0L1052.7 553.4L1053.3 553.2L1053.9 559.5L1054.5 558.2L1055.0 556.8L1055.6 567.4L1056.2 564.4L1056.8 560.3L1057.4 554.8L1057.9 555.1L1058.5 557.0L1059.1 561.0L1059.7 549.5L1060.2 560.3L1060.8 564.2L1061.4 561.8L1062.0 562.6L1062.5 568.7L1063.1 559.8L1063.7 549.4L1064.3 554.0L1064.8 557.2L1065.4 556.9L1066.0 549.5L1066.6 563.3L1067.2 560.7L1067.7 549.1L1068.3 562.3L1068.9 555.0L1069.5 569.7L1070.0 558.3L1070.6 538.8L1071.2 541.4L1071.8 547.1L1072.3 562.5L1072.9 566.8L1073.5 568.7L1074.1 560.8L1074.6 561.6L1075.2 550.3L1075.8 558.1L1076.4 552.2L1076.9 552.6L1077.5 557.3L1078.1 562.5L1078.7 554.6L1079.3 571.3L1079.8 544.7L1080.4 558.7L1081.0 481.2L1081.6 458.6L1082.1 562.0L1082.7 566.7L1083.3 554.9L1083.9 566.6L1084.4 564.0L1085.0 563.3L1085.6 559.3L1086.2 561.3L1086.7 554.6L1087.3 563.4L1087.9 562.1L1088.5 568.9L1089.0 561.1L1089.6 570.6L1090.2 563.2L1090.8 565.6L1091.4 549.5L1091.9 552.8L1092.5 553.3L1093.1 562.0L1093.7 558.2L1094.2 550.6L1094.8 550.7L1095.4 530.7L1096.0 550.3L1096.5 525.0L1097.1 562.2L1097.7 564.3L1098.3 562.9L1098.8 562.8L1099.4 557.0L1100.0 514.5L1100.6 568.1L1101.2 566.4L1101.7 569.9L1102.3 565.6L1102.9 561.6L1103.5 575.6L1104.0 565.7L1104.6 567.9L1105.2 565.1L1105.8 561.4L1106.3 561.7L1106.9 552.5L1107.5 542.8L1108.1 571.6L1108.6 545.5L1109.2 557.9L1109.8 558.2L1110.4 561.2L1110.9 566.8L1111.5 565.1L1112.1 562.8L1112.7 560.9L1113.3 552.1L1113.8 551.6L1114.4 562.8L1115.0 549.1L1115.6 549.3L1116.1 561.4L1116.7 556.4L1117.3 550.0L1117.9 557.7L1118.4 559.7L1119.0 572.8L1119.6 574.6L1120.2 570.6L1120.7 567.2L1121.3 557.8L1121.9 568.3L1122.5 569.1L1123.1 566.0L1123.6 569.5L1124.2 571.0L1124.8 559.4L1125.4 560.3L1125.9 546.9L1126.5 564.0L1127.1 555.7L1127.7 550.3L1128.2 527.3L1128.8 549.0L1129.4 540.2L1130.0 539.7L1130.5 553.4L1131.1 566.8L1131.7 521.5L1132.3 568.4L1132.8 566.6L1133.4 559.4L1134.0 551.5L1134.6 565.2L1135.2 560.2L1135.7 556.6L1136.3 552.8L1136.9 483.1L1137.5 570.4L1138.0 562.0L1138.6 563.2L1139.2 563.5L1139.8 549.0L1140.3 562.6L1140.9 570.2L1141.5 569.7L1142.1 554.9L1142.6 560.7L1143.2 556.7L1143.8 555.0L1144.4 530.8L1144.9 558.9L1145.5 557.1L1146.1 557.2L1146.7 561.4L1147.3 559.7L1147.8 570.2L1148.4 563.4L1149.0 569.5L1149.6 558.8L1150.1 561.1L1150.7 570.4L1151.3 568.6L1151.9 560.5L1152.4 566.5L1153.0 573.6L1153.6 569.4L1154.2 565.9L1154.7 564.4L1155.3 561.7L1155.9 550.7L1156.5 546.6L1157.1 542.4L1157.6 556.7L1158.2 538.1L1158.8 565.6L1159.4 570.7L1159.9 571.5L1160.5 568.2L1161.1 563.9L1161.7 568.5L1162.2 565.3L1162.8 556.8L1163.4 556.2L1164.0 556.6L1164.5 549.8L1165.1 541.0L1165.7 561.5L1166.3 563.2L1166.8 571.0L1167.4 570.7L1168.0 570.8L1168.6 569.0L1169.2 573.2L1169.7 569.4L1170.3 566.0L1170.9 570.3L1171.5 569.3L1172.0 561.4L1172.6 556.9L1173.2 566.2L1173.8 567.3L1174.3 566.1L1174.9 560.5L1175.5 554.1L1176.1 562.8L1176.6 565.3L1177.2 562.5L1177.8 566.1L1178.4 562.2L1178.9 570.1L1179.5 570.2L1180.1 554.2L1180.7 558.6L1181.3 567.4L1181.8 557.9L1182.4 560.1L1183.0 561.7L1183.6 561.3L1184.1 539.9L1184.7 558.7L1185.3 566.8L1185.9 560.6L1186.4 555.9L1187.0 565.9L1187.6 566.3L1188.2 550.5L1188.7 550.5L1189.3 540.2L1189.9 557.2L1190.5 559.6L1191.1 567.8L1191.6 574.3L1192.2 564.0L1192.8 569.4L1193.4 566.3L1193.9 569.0L1194.5 566.3L1195.1 567.8L1195.7 550.5L1196.2 557.8L1196.8 564.8L1197.4 564.0L1198.0 574.5L1198.5 566.7L1199.1 569.0L1199.7 558.6L1200.3 568.2L1200.8 555.5L1201.4 572.8L1202.0 571.5" stroke="#328c06"/>
<path d="M626.3 551.4L626.9 552.6L627.5 562.9L628.0 555.6L628.6 566.1L629.2 556.8L629.8 544.2L630.3 533.3L630.9 562.1L631.5 548.3L632.1 539.7L632.6 551.8L633.2 555.4L633.8 473.4L634.4 562.9L634.9 564.5L635.5 559.1L636.1 552.4L636.7 558.1L637.2 571.1L637.8 563.0L638.4 573.3L639.0 559.8L639.6 554.7L640.1 565.9L640.7 523.0L641.3 551.7L641.9 561.8L642.4 570.8L643.0 558.7L643.6 559.1L644.2 564.2L644.7 556.0L645.3 564.6L645.9 554.0L646.5 537.9L647.0 560.0L647.6 565.1L648.2 557.4L648.8 559.5L649.4 571.8L649.9 559.3L650.5 564.1L651.1 466.8L651.7 567.6L652.2 562.3L652.8 558.3L653.4 555.5L654.0 565.6L654.5 572.0L655.1 562.6L655.7 552.7L656.3 556.6L656.8 554.8L657.4 564.1L658.0 569.1L658.6 555.5L659.1 540.5L659.7 527.8L660.3 543.8L660.9 562.5L661.5 575.0L662.0 567.2L662.6 554.7L663.2 551.7L663.8 549.9L664.3 565.2L664.9 552.2L665.5 538.3L666.1 523.5L666.6 525.9L667.2 525.5L667.8 564.2L668.4 570.7L668.9 572.6L669.5 560.8L670.1 560.3L670.7 567.2L671.2 569.1L671.8 560.6L672.4 570.7L673.0 562.7L673.6 557.5L674.1 531.3L674.7 549.3L675.3 568.8L675.9 552.3L676.4 554.8L677.0 558.4L677.6 564.2L678.2 560.0L678.7 565.1L679.3 565.4L679.9 565.9L680.5 552.2L681.0 548.6L681.6 565.4L682.2 562.3L682.8 564.7L683.4 560.5L683.9 555.4L684.5 560.1L685.1 546.8L685.7 537.5L686.2 561.3L686.8 560.5L687.4 567.4L688.0 572.2L688.5 573.4L689.1 573.0L689.7 572.4L690.3 563.8L690.8 559.5L691.4 565.2L692.0 568.8L692.6 519.2L693.1 557.7L693.7 544.5L694.3 552.2L694.9 552.6L695.5 568.2L696.0 566.6L696.6 560.1L697.2 565.5L697.8 568.1L698.3 540.7L698.9 540.2L699.5 553.6L700.1 547.1L700.6 552.6L701.2 562.9L701.8 562.9L702.4 563.5L702.9 553.6L703.5 560.0L704.1 561.2L704.7 568.9L705.2 571.4L705.8 567.7L706.4 565.4L707.0 558.9L707.6 555.5L708.1 556.9L708.7 566.7L709.3 560.3L709.9 570.1L710.4 564.6L711.0 558.5L711.6 544.6L712.2 559.1L712.7 559.1L713.3 560.4L713.9 570.3L714.5 559.5L715.0 563.9L715.6 556.8L716.2 567.8L716.8 560.9L717.4 554.9L717.9 558.3L718.5 532.4L719.1 548.1L719.7 546.4L720.2 569.5L720.8 559.5L721.4 570.4L722.0 571.7L722.5 571.2L723.1 569.0L723.7 549.3L724.3 558.6L724.8 559.6L725.4 565.0L726.0 564.0L726.6 572.4L727.1 565.5L727.7 561.4L728.3 570.7L728.9 575.2L729.5 573.1L730.0 567.2L730.6 570.3L731.2 574.4L731.8 566.6L732.3 573.1L732.9 563.4L733.5 552.1L734.1 570.8L734.6 562.6L735.2 557.2L735.8 554.4L736.4 541.6L736.9 530.3L737.5 545.8L738.1 551.3L738.7 556.8L739.3 560.7L739.8 547.7L740.4 544.3L741.0 551.5L741.6 493.2L742.1 527.7L742.7 528.1L743.3 544.1L743.9 548.6L744.4 528.0L745.0 526.8L745.6 532.9L746.2 554.7L746.7 558.6L747.3 556.7L747.9 557.3L748.5 545.0L749.0 541.2L749.6 566.3L750.2 560.0L750.8 552.8L751.4 564.1L751.9 570.0L752.5 564.7L753.1 562.5L753.7 544.3L754.2 552.1L754.8 543.3L755.4 531.0L756.0 529.6L756.5 553.5L757.1 554.9L757.7 560.8L758.3 565.9L758.8 553.0L759.4 566.2L760.0 569.7L760.6 570.8L761.1 565.2L761.7 563.2L762.3 557.3L762.9 553.2L763.5 574.9L764.0 573.5L764.6 568.1L765.2 559.6L765.8 553.6L766.3 566.7L766.9 567.0L767.5 572.7L768.1 562.6L768.6 562.5L769.2 557.8L769.8 560.5L770.4 567.1L770.9 572.8L771.5 554.2L772.1 569.7L772.7 572.5L773.3 558.5L773.8 567.4L774.4 560.6L775.0 547.0L775.6 537.6L776.1 543.9L776.7 550.7L777.3 542.0L777.9 549.5L778.4 549.1L779.0 557.6L779.6 561.9L780.2 569.5L780.7 552.4L781.3 554.9L781.9 532.3L782.5 564.7L783.0 571.4L783.6 568.3L784.2 569.8L784.8 566.7L785.4 567.6L785.9 567.2L786.5 563.7L787.1 547.1L787.7 548.0L788.2 562.9L788.8 562.4L789.4 563.1L790.0 544.4L790.5 569.6L791.1 569.6L791.7 562.7L792.3 566.1L792.8 554.2L793.4 563.8L794.0 562.2L794.6 553.2L795.1 532.8L795.7 531.6L796.3 554.4L796.9 545.0L797.5 562.1L798.0 563.3L798.6 550.8L799.2 566.5L799.8 552.1L800.3 565.3L800.9 556.4L801.5 557.4L802.1 553.7L802.6 553.8L803.2 567.3L803.8 563.7L804.4 555.6L804.9 560.1L805.5 552.8L806.1 567.0L806.7 567.8L807.3 552.4L807.8 555.0L808.4 557.0L809.0 556.0L809.6 544.4L810.1 560.4L810.7 552.6L811.3 556.9L811.9 559.3L812.4 566.5L813.0 549.9L813.6 552.1L814.2 560.9L814.7 562.1L815.3 565.8L815.9 555.0L816.5 567.9L817.0 567.4L817.6 565.0L818.2 475.2L818.8 566.7L819.4 568.8L819.9 558.4L820.5 540.6L821.1 561.3L821.7 563.6L822.2 565.1L822.8 567.6L823.4 558.5L824.0 573.5L824.5 574.1L825.1 570.4L825.7 564.5L826.3 560.1L826.8 555.2L827.4 552.8L828.0 559.9L828.6 562.0L829.1 557.7L829.7 548.1L830.3 543.2L830.9 556.8L831.5 562.6L832.0 548.3L832.6 547.7L833.2 534.3L833.8 550.9L834.3 558.9L834.9 554.2L835.5 568.3L836.1 558.1L836.6 563.0L837.2 565.3L837.8 562.6L838.4 508.3L838.9 567.9L839.5 551.8L840.1 565.9L840.7 562.1L841.3 567.6L841.8 554.3L842.4 533.4L843.0 567.2L843.6 561.0L844.1 558.2L844.7 551.3L845.3 544.4L845.9 548.9L846.4 547.1L847.0 560.5L847.6 536.8L848.2 543.0L848.7 562.3L849.3 562.5L849.9 561.7L850.5 568.2L851.0 567.9L851.6 569.0L852.2 557.3L852.8 536.0L853.4 547.9L853.9 534.9L854.5 561.2L855.1 559.6L855.7 562.4L856.2 554.0L856.8 563.1L857.4 501.2L858.0 562.0L858.5 564.1L859.1 568.7L859.7 559.1L860.3 566.6L860.8 562.1L861.4 569.8L862.0 572.8L862.6 572.3L863.1 571.5L863.7 559.9L864.3 566.1L864.9 566.8L865.5 567.6L866.0 561.6L866.6 552.5L867.2 562.4L867.8 563.6L868.3 551.1L868.9 539.9L869.5 551.7L870.1 557.5L870.6 572.8L871.2 570.2L871.8 556.1L872.4 562.1L872.9 572.1L873.5 568.1L874.1 567.7L874.7 559.3L875.3 560.5L875.8 558.7L876.4 541.8L877.0 557.0L877.6 564.8L878.1 561.8L878.7 558.2L879.3 567.1L879.9 559.1L880.4 569.9L881.0 570.4L881.6 562.1L882.2 547.5L882.7 557.7L883.3 550.2L883.9 557.8L884.5 565.7L885.0 565.4L885.6 557.6L886.2 553.8L886.8 537.1L887.4 547.4L887.9 536.6L888.5 530.9L889.1 559.9L889.7 567.2L890.2 564.9L890.8 552.6L891.4 541.0L892.0 559.0L892.5 562.5L893.1 567.4L893.7 567.3L894.3 536.5L894.8 552.2L895.4 565.2L896.0 568.0L896.6 572.9L897.1 561.1L897.7 560.7L898.3 531.9L898.9 526.6L899.5 557.3L900.0 567.7L900.6 571.0L901.2 558.3L901.8 525.4L902.3 549.9L902.9 560.1L903.5 561.6L904.1 566.2L904.6 572.4L905.2 569.9L905.8 572.0L906.4 566.9L906.9 565.6L907.5 565.6L908.1 559.4L908.7 568.7L909.3 556.1L909.8 551.2L910.4 546.9L911.0 561.1L911.6 560.5L912.1 548.9L912.7 551.9L913.3 567.7L913.9 560.9L914.4 563.6L915.0 563.7L915.6 562.8L916.2 570.5L916.7 569.9L917.3 571.3L917.9 570.7L918.5 563.0L919.0 554.0L919.6 553.6L920.2 549.8L920.8 557.3L921.4 561.5L921.9 566.5L922.5 557.3L923.1 559.4L923.7 556.4L924.2 556.7L924.8 537.4L925.4 560.3L926.0 562.6L926.5 568.4L927.1 568.2L927.7 559.6L928.3 561.7L928.8 573.4L929.4 572.0L930.0 565.4L930.6 562.7L931.2 564.9L931.7 558.4L932.3 561.0L932.9 560.8L933.5 554.6L934.0 552.3L934.6 568.5L935.2 566.5L935.8 552.9L936.3 555.6L936.9 546.4L937.5 559.0L938.1 553.1L938.6 557.9L939.2 560.9L939.8 559.3L940.4 483.1L940.9 561.7L941.5 561.8L942.1 565.1L942.7 564.8L943.3 563.1L943.8 563.3L944.4 561.7L945.0 549.8L945.6 563.4L946.1 573.3L946.7 555.8L947.3 534.5L947.9 562.8L948.4 564.7L949.0 555.4L949.6 559.6L950.2 564.0L950.7 567.9L951.3 573.0L951.9 514.9L952.5 560.8L953.0 571.0L953.6 562.8L954.2 553.2L954.8 556.3L955.4 555.3L955.9 567.9L956.5 560.7L957.1 562.6L957.7 564.8L958.2 567.6L958.8 562.8L959.4 528.6L960.0 551.7L960.5 556.5L961.1 559.7L961.7 560.6L962.3 542.3L962.8 542.3L963.4 526.7L964.0 525.4L964.6 561.9L965.2 549.8L965.7 555.9L966.3 568.1L966.9 571.1L967.5 566.6L968.0 551.7L968.6 546.8L969.2 552.1L969.8 562.7L970.3 561.8L970.9 557.5L971.5 553.4L972.1 560.2L972.6 570.9L973.2 517.5L973.8 561.6L974.4 561.0L974.9 554.1L975.5 550.8L976.1 562.3L976.7 557.5L977.3 547.9L977.8 562.2L978.4 565.8L979.0 554.1L979.6 560.8L980.1 559.4L980.7 560.9L981.3 560.7L981.9 561.3L982.4 549.2L983.0 552.9L983.6 556.2L984.2 554.0L984.7 559.6L985.3 565.5L985.9 569.4L986.5 547.8L987.0 559.9L987.6 566.0L988.2 556.4L988.8 549.8L989.4 547.2L989.9 545.7L990.5 562.4L991.1 534.7L991.7 531.9L992.2 551.4L992.8 558.1L993.4 572.4L994.0 570.7L994.5 558.3L995.1 547.8L995.7 557.8L996.3 564.7L996.8 561.7L997.4 562.3L998.0 561.2L998.6 553.3L999.2 572.4L999.7 566.2L1000.3 571.7L1000.9 561.8L1001.5 566.5L1002.0 572.0L1002.6 563.0L1003.2 554.8L1003.8 563.0L1004.3 545.9L1004.9 558.5L1005.5 563.0L1006.1 560.8L1006.6 561.5L1007.2 446.9L1007.8 500.2L1008.4 557.2L1008.9 553.0L1009.5 561.3L1010.1 565.3L1010.7 566.3L1011.3 487.1L1011.8 557.2L1012.4 567.9L1013.0 563.8L1013.6 559.0L1014.1 571.2L1014.7 562.5L1015.3 567.5L1015.9 567.2L1016.4 570.1L1017.0 560.5L1017.6 569.8L1018.2 571.2L1018.7 564.6L1019.3 538.3L1019.9 537.9L1020.5 535.0L1021.0 561.2L1021.6 548.6L1022.2 557.7L1022.8 561.3L1023.4 527.3L1023.9 526.4L1024.5 542.4L1025.1 561.9L1025.7 558.3L1026.2 548.5L1026.8 551.5L1027.4 536.7L1028.0 555.4L1028.5 550.6L1029.1 542.1L1029.7 552.7L1030.3 560.0L1030.8 542.5L1031.4 549.6L1032.0 549.0L1032.6 561.0L1033.2 556.0L1033.7 552.8L1034.3 551.0L1034.9 553.4L1035.5 552.8L1036.0 557.2L1036.6 554.8L1037.2 559.3L1037.8 561.9L1038.3 541.6L1038.9 570.7L1039.5 573.2L1040.1 566.5L1040.6 565.5L1041.2 531.7L1041.8 534.4L1042.4 529.2L1042.9 555.3L1043.5 560.5L1044.1 568.9L1044.7 567.4L1045.3 556.9L1045.8 564.0L1046.4 553.4L1047.0 553.6L1047.6 566.4L1048.1 568.7L1048.7 566.2L1049.3 557.1L1049.9 564.2L1050.4 567.0L1051.0 564.5L1051.6 561.7L1052.2 559.4L1052.7 552.6L1053.3 568.6L1053.9 566.0L1054.5 558.4L1055.0 539.3L1055.6 543.6L1056.2 554.0L1056.8 554.6L1057.4 563.7L1057.9 555.6L1058.5 565.8L1059.1 568.4L1059.7 568.0L1060.2 562.9L1060.8 551.2L1061.4 556.6L1062.0 539.2L1062.5 535.0L1063.1 530.5L1063.7 536.8L1064.3 546.2L1064.8 553.3L1065.4 545.4L1066.0 516.4L1066.6 559.8L1067.2 551.6L1067.7 543.7L1068.3 554.4L1068.9 562.7L1069.5 561.2L1070.0 570.8L1070.6 556.9L1071.2 480.0L1071.8 509.7L1072.3 547.0L1072.9 556.3L1073.5 556.9L1074.1 570.9L1074.6 565.7L1075.2 569.3L1075.8 557.8L1076.4 560.4L1076.9 555.1L1077.5 561.2L1078.1 566.5L1078.7 568.2L1079.3 552.6L1079.8 551.7L1080.4 556.6L1081.0 555.9L1081.6 563.8L1082.1 560.3L1082.7 563.0L1083.3 534.0L1083.9 560.1L1084.4 558.7L1085.0 567.4L1085.6 570.8L1086.2 573.3L1086.7 555.7L1087.3 551.0L1087.9 540.2L1088.5 540.7L1089.0 555.0L1089.6 565.5L1090.2 567.7L1090.8 571.4L1091.4 567.6L1091.9 566.8L1092.5 566.5L1093.1 548.4L1093.7 565.9L1094.2 562.2L1094.8 566.5L1095.4 565.5L1096.0 564.8L1096.5 551.3L1097.1 561.7L1097.7 559.6L1098.3 536.2L1098.8 526.7L1099.4 536.9L1100.0 543.6L1100.6 527.4L1101.2 533.6L1101.7 552.4L1102.3 561.2L1102.9 564.7L1103.5 559.4L1104.0 559.6L1104.6 541.7L1105.2 556.8L1105.8 544.9L1106.3 548.4L1106.9 551.9L1107.5 543.4L1108.1 551.3L1108.6 555.5L1109.2 568.5L1109.8 565.2L1110.4 569.3L1110.9 563.5L1111.5 561.8L1112.1 562.0L1112.7 567.1L1113.3 566.9L1113.8 552.1L1114.4 546.7L1115.0 557.5L1115.6 544.7L1116.1 556.1L1116.7 569.1L1117.3 566.4L1117.9 564.4L1118.4 567.8L1119.0 567.8L1119.6 561.9L1120.2 566.6L1120.7 564.1L1121.3 559.0L1121.9 566.5L1122.5 566.4L1123.1 569.4L1123.6 561.5L1124.2 545.5L1124.8 547.3L1125.4 568.6L1125.9 557.6L1126.5 565.8L1127.1 562.2L1127.7 568.7L1128.2 547.2L1128.8 552.1L1129.4 561.4L1130.0 559.3L1130.5 543.2L1131.1 567.2L1131.7 556.9L1132.3 558.9L1132.8 571.3L1133.4 564.9L1134.0 558.0L1134.6 562.7L1135.2 569.1L1135.7 569.6L1136.3 467.8L1136.9 556.1L1137.5 557.3L1138.0 551.8L1138.6 565.5L1139.2 570.7L1139.8 556.0L1140.3 537.0L1140.9 556.7L1141.5 558.4L1142.1 559.8L1142.6 553.8L1143.2 552.8L1143.8 555.0L1144.4 559.3L1144.9 572.0L1145.5 555.8L1146.1 567.7L1146.7 569.9L1147.3 574.3L1147.8 571.8L1148.4 572.6L1149.0 570.5L1149.6 571.7L1150.1 564.5L1150.7 561.6L1151.3 570.4L1151.9 559.3L1152.4 567.1L1153.0 544.3L1153.6 555.2L1154.2 557.2L1154.7 561.4L1155.3 557.0L1155.9 526.7L1156.5 545.3L1157.1 553.6L1157.6 561.6L1158.2 566.0L1158.8 556.7L1159.4 548.1L1159.9 562.9L1160.5 563.8L1161.1 565.4L1161.7 567.6L1162.2 564.8L1162.8 568.1L1163.4 570.3L1164.0 540.4L1164.5 570.4L1165.1 568.5L1165.7 562.3L1166.3 567.4L1166.8 571.7L1167.4 565.7L1168.0 560.6L1168.6 552.6L1169.2 570.2L1169.7 567.2L1170.3 559.4L1170.9 540.2L1171.5 543.7L1172.0 564.2L1172.6 562.0L1173.2 477.1L1173.8 509.7L1174.3 553.9L1174.9 539.6L1175.5 560.3L1176.1 553.3L1176.6 560.9L1177.2 566.0L1177.8 568.0L1178.4 568.3L1178.9 560.4L1179.5 557.1L1180.1 574.0L1180.7 568.4L1181.3 560.2L1181.8 556.2L1182.4 551.5L1183.0 559.7L1183.6 556.4L1184.1 571.2L1184.7 567.6L1185.3 570.2L1185.9 574.1L1186.4 575.1L1187.0 571.7L1187.6 565.1L1188.2 574.0L1188.7 570.1L1189.3 563.1L1189.9 567.1L1190.5 558.3L1191.1 564.4L1191.6 558.8L1192.2 558.4L1192.8 546.3L1193.4 536.0L1193.9 563.4L1194.5 551.6L1195.1 535.7L1195.7 567.6L1196.2 551.6L1196.8 551.9L1197.4 564.5L1198.0 549.8L1198.5 551.7L1199.1 561.9L1199.7 564.0L1200.3 563.9L1200.8 562.2L1201.4 561.7L1202.0 563.0" stroke="#c10c90"/>
</g>
<g clip-path="url(#cr3)" fill="none" stroke-width="1.5" stroke-opacity="0.35" stroke-linejoin="round" stroke-linecap="round">
<path d="M626.3 768.6L626.9 766.1L627.5 761.2L628.0 754.2L628.6 763.3L629.2 767.6L629.8 771.2L630.3 759.1L630.9 752.6L631.5 767.5L632.1 720.7L632.6 769.1L633.2 770.3L633.8 764.6L634.4 744.6L634.9 758.2L635.5 768.2L636.1 760.2L636.7 754.2L637.2 755.0L637.8 758.9L638.4 733.9L639.0 760.8L639.6 770.5L640.1 766.4L640.7 765.1L641.3 761.1L641.9 772.4L642.4 767.7L643.0 763.7L643.6 767.9L644.2 764.4L644.7 768.5L645.3 765.4L645.9 771.9L646.5 770.6L647.0 767.3L647.6 767.6L648.2 761.8L648.8 760.8L649.4 770.2L649.9 769.7L650.5 762.3L651.1 761.1L651.7 754.4L652.2 763.0L652.8 762.4L653.4 758.9L654.0 769.2L654.5 766.5L655.1 771.7L655.7 768.3L656.3 759.2L656.8 759.5L657.4 761.4L658.0 763.7L658.6 758.4L659.1 766.9L659.7 746.8L660.3 751.6L660.9 753.5L661.5 752.7L662.0 763.3L662.6 755.3L663.2 755.0L663.8 763.0L664.3 764.5L664.9 765.6L665.5 719.2L666.1 773.3L666.6 769.9L667.2 765.4L667.8 754.3L668.4 756.3L668.9 742.1L669.5 756.7L670.1 760.5L670.7 761.2L671.2 764.4L671.8 755.3L672.4 765.7L673.0 763.3L673.6 761.8L674.1 763.5L674.7 736.2L675.3 747.5L675.9 760.0L676.4 749.9L677.0 757.2L677.6 756.0L678.2 764.2L678.7 771.2L679.3 753.0L679.9 755.0L680.5 762.2L681.0 768.3L681.6 721.5L682.2 767.9L682.8 766.6L683.4 772.8L683.9 770.9L684.5 758.8L685.1 755.5L685.7 741.9L686.2 687.9L686.8 762.6L687.4 751.3L688.0 761.9L688.5 761.0L689.1 760.0L689.7 760.4L690.3 770.0L690.8 758.9L691.4 766.1L692.0 761.6L692.6 766.5L693.1 764.5L693.7 758.1L694.3 769.9L694.9 772.3L695.5 763.8L696.0 768.1L696.6 769.2L697.2 758.3L697.8 755.6L698.3 759.0L698.9 752.6L699.5 761.9L700.1 756.4L700.6 753.5L701.2 752.5L701.8 759.8L702.4 751.3L702.9 742.1L703.5 732.8L704.1 755.7L704.7 762.4L705.2 753.6L705.8 758.4L706.4 737.2L707.0 749.0L707.6 756.6L708.1 766.9L708.7 760.3L709.3 713.0L709.9 751.4L710.4 751.5L711.0 751.0L711.6 755.6L712.2 765.7L712.7 763.0L713.3 765.7L713.9 762.4L714.5 764.4L715.0 752.6L715.6 745.2L716.2 756.6L716.8 757.2L717.4 760.9L717.9 757.8L718.5 730.7L719.1 749.0L719.7 771.1L720.2 760.9L720.8 761.1L721.4 765.4L722.0 768.2L722.5 760.4L723.1 765.9L723.7 755.5L724.3 756.8L724.8 765.9L725.4 763.3L726.0 756.3L726.6 763.4L727.1 769.7L727.7 765.6L728.3 739.2L728.9 758.6L729.5 764.0L730.0 767.9L730.6 754.5L731.2 759.9L731.8 760.4L732.3 757.2L732.9 756.4L733.5 768.7L734.1 760.6L734.6 767.7L735.2 771.1L735.8 768.8L736.4 763.8L736.9 764.2L737.5 767.6L738.1 768.9L738.7 764.6L739.3 765.7L739.8 770.0L740.4 772.3L741.0 769.8L741.6 768.5L742.1 773.4L742.7 769.9L743.3 763.6L743.9 753.7L744.4 751.9L745.0 763.4L745.6 767.8L746.2 762.9L746.7 768.6L747.3 770.0L747.9 749.5L748.5 768.8L749.0 766.5L749.6 771.3L750.2 765.7L750.8 769.5L751.4 765.4L751.9 760.4L752.5 758.8L753.1 749.2L753.7 738.2L754.2 765.0L754.8 768.4L755.4 757.9L756.0 759.8L756.5 758.4L757.1 760.3L757.7 755.9L758.3 762.8L758.8 752.7L759.4 755.1L760.0 739.2L760.6 763.6L761.1 768.8L761.7 767.3L762.3 771.2L762.9 772.3L763.5 770.6L764.0 770.4L764.6 753.8L765.2 766.1L765.8 763.8L766.3 766.9L766.9 770.1L767.5 766.1L768.1 757.7L768.6 749.3L769.2 760.8L769.8 752.3L770.4 755.4L770.9 762.3L771.5 756.7L772.1 764.9L772.7 753.1L773.3 767.5L773.8 770.4L774.4 774.2L775.0 769.0L775.6 770.0L776.1 769.8L776.7 764.8L777.3 753.1L777.9 760.3L778.4 769.8L779.0 756.0L779.6 767.2L780.2 764.2L780.7 760.2L781.3 753.0L781.9 758.7L782.5 751.6L783.0 752.2L783.6 756.2L784.2 761.0L784.8 760.5L785.4 767.0L785.9 768.9L786.5 764.1L787.1 743.8L787.7 767.5L788.2 765.1L788.8 759.1L789.4 766.5L790.0 766.8L790.5 759.0L791.1 769.4L791.7 763.0L792.3 758.8L792.8 760.4L793.4 753.5L794.0 754.3L794.6 760.1L795.1 760.7L795.7 769.6L796.3 771.0L796.9 761.7L797.5 760.6L798.0 755.5L798.6 747.7L799.2 762.6L799.8 731.6L800.3 761.3L800.9 750.0L801.5 766.9L802.1 713.5L802.6 762.1L803.2 768.6L803.8 767.4L804.4 766.6L804.9 767.5L805.5 765.3L806.1 766.6L806.7 762.7L807.3 752.4L807.8 763.1L808.4 768.7L809.0 744.1L809.6 764.3L810.1 770.5L810.7 759.2L811.3 767.4L811.9 762.5L812.4 764.7L813.0 768.5L813.6 762.3L814.2 769.0L814.7 761.6L815.3 771.6L815.9 766.3L816.5 764.9L817.0 768.5L817.6 773.7L818.2 771.5L818.8 767.9L819.4 765.5L819.9 754.9L820.5 750.1L821.1 765.0L821.7 768.1L822.2 771.1L822.8 768.7L823.4 766.0L824.0 762.8L824.5 766.9L825.1 760.7L825.7 767.3L826.3 764.9L826.8 751.3L827.4 763.8L828.0 765.1L828.6 772.9L829.1 764.5L829.7 756.5L830.3 758.2L830.9 756.4L831.5 769.1L832.0 760.8L832.6 756.1L833.2 740.8L833.8 716.1L834.3 762.8L834.9 769.8L835.5 772.6L836.1 766.6L836.6 765.0L837.2 768.7L837.8 763.0L838.4 752.5L838.9 763.9L839.5 759.9L840.1 761.2L840.7 760.8L841.3 752.8L841.8 762.2L842.4 759.1L843.0 770.8L843.6 765.7L844.1 744.4L844.7 735.3L845.3 742.8L845.9 712.7L846.4 759.3L847.0 762.0L847.6 765.5L848.2 763.2L848.7 761.7L849.3 753.2L849.9 760.1L850.5 771.3L851.0 769.1L851.6 756.8L852.2 760.8L852.8 755.7L853.4 755.2L853.9 760.6L854.5 754.2L855.1 747.3L855.7 742.7L856.2 763.4L856.8 762.3L857.4 761.5L858.0 759.5L858.5 768.8L859.1 769.1L859.7 762.6L860.3 753.2L860.8 759.0L861.4 767.1L862.0 749.7L862.6 751.7L863.1 746.7L863.7 758.9L864.3 761.2L864.9 760.7L865.5 758.7L866.0 768.1L866.6 766.8L867.2 773.9L867.8 768.2L868.3 770.9L868.9 755.4L869.5 751.5L870.1 747.3L870.6 744.4L871.2 747.7L871.8 759.6L872.4 762.2L872.9 761.0L873.5 766.1L874.1 768.4L874.7 761.0L875.3 737.8L875.8 751.2L876.4 765.6L877.0 772.5L877.6 774.3L878.1 772.9L878.7 766.3L879.3 766.4L879.9 770.2L880.4 767.4L881.0 766.4L881.6 760.1L882.2 758.0L882.7 761.1L883.3 768.8L883.9 771.1L884.5 768.6L885.0 768.9L885.6 758.1L886.2 750.2L886.8 767.8L887.4 755.6L887.9 767.5L888.5 765.4L889.1 759.4L889.7 768.4L890.2 765.9L890.8 766.3L891.4 758.6L892.0 764.0L892.5 767.9L893.1 727.4L893.7 716.1L894.3 754.6L894.8 761.7L895.4 769.1L896.0 758.6L896.6 758.1L897.1 732.5L897.7 752.0L898.3 769.3L898.9 768.2L899.5 763.2L900.0 771.2L900.6 771.5L901.2 767.9L901.8 767.9L902.3 762.7L902.9 766.6L903.5 743.5L904.1 761.3L904.6 761.6L905.2 768.0L905.8 765.7L906.4 763.7L906.9 767.6L907.5 770.6L908.1 751.6L908.7 761.4L909.3 763.9L909.8 769.8L910.4 751.5L911.0 765.8L911.6 764.3L912.1 763.4L912.7 752.9L913.3 766.0L913.9 761.7L914.4 760.1L915.0 764.3L915.6 769.0L916.2 771.3L916.7 768.7L917.3 768.8L917.9 764.6L918.5 755.1L919.0 757.3L919.6 755.4L920.2 766.8L920.8 772.7L921.4 768.9L921.9 762.0L922.5 766.2L923.1 770.6L923.7 769.4L924.2 767.3L924.8 761.1L925.4 765.8L926.0 763.7L926.5 766.4L927.1 774.2L927.7 766.2L928.3 768.6L928.8 752.9L929.4 740.3L930.0 759.9L930.6 764.0L931.2 759.2L931.7 760.9L932.3 713.5L932.9 738.7L933.5 766.2L934.0 772.9L934.6 764.3L935.2 749.3L935.8 760.0L936.3 765.8L936.9 763.3L937.5 766.9L938.1 774.0L938.6 774.4L939.2 772.6L939.8 764.7L940.4 767.8L940.9 766.7L941.5 771.6L942.1 763.8L942.7 772.5L943.3 766.6L943.8 764.9L944.4 764.6L945.0 765.0L945.6 765.2L946.1 767.4L946.7 764.1L947.3 742.3L947.9 754.2L948.4 770.4L949.0 770.1L949.6 764.1L950.2 761.8L950.7 761.2L951.3 764.9L951.9 767.3L952.5 769.6L953.0 772.6L953.6 766.5L954.2 761.2L954.8 736.8L955.4 746.2L955.9 759.5L956.5 753.4L957.1 751.2L957.7 768.3L958.2 764.9L958.8 759.8L959.4 768.0L960.0 768.7L960.5 768.5L961.1 760.4L961.7 766.4L962.3 762.1L962.8 770.7L963.4 761.5L964.0 755.5L964.6 744.1L965.2 756.9L965.7 764.0L966.3 771.3L966.9 763.3L967.5 752.3L968.0 759.1L968.6 762.4L969.2 768.2L969.8 755.2L970.3 763.8L970.9 758.8L971.5 726.0L972.1 767.3L972.6 764.5L973.2 757.5L973.8 747.2L974.4 763.6L974.9 768.1L975.5 762.7L976.1 755.0L976.7 770.2L977.3 770.8L977.8 756.6L978.4 765.0L979.0 766.2L979.6 766.8L980.1 762.3L980.7 760.5L981.3 765.3L981.9 747.5L982.4 741.7L983.0 754.0L983.6 761.2L984.2 767.8L984.7 762.9L985.3 770.1L985.9 769.4L986.5 767.8L987.0 766.0L987.6 767.3L988.2 753.6L988.8 761.7L989.4 757.4L989.9 758.2L990.5 763.8L991.1 761.2L991.7 764.5L992.2 768.9L992.8 770.8L993.4 766.3L994.0 769.0L994.5 765.6L995.1 764.7L995.7 761.7L996.3 761.2L996.8 765.3L997.4 760.8L998.0 762.6L998.6 760.5L999.2 762.7L999.7 766.5L1000.3 768.0L1000.9 768.8L1001.5 767.4L1002.0 769.7L1002.6 765.8L1003.2 765.0L1003.8 765.5L1004.3 767.9L1004.9 757.9L1005.5 749.1L1006.1 748.6L1006.6 760.5L1007.2 710.1L1007.8 755.3L1008.4 751.7L1008.9 752.6L1009.5 751.6L1010.1 744.5L1010.7 756.1L1011.3 767.9L1011.8 763.3L1012.4 761.9L1013.0 745.3L1013.6 757.6L1014.1 760.6L1014.7 759.2L1015.3 767.0L1015.9 769.2L1016.4 771.3L1017.0 772.1L1017.6 764.4L1018.2 755.8L1018.7 770.7L1019.3 766.8L1019.9 763.1L1020.5 760.8L1021.0 753.6L1021.6 772.2L1022.2 760.9L1022.8 768.1L1023.4 774.3L1023.9 765.9L1024.5 762.6L1025.1 771.0L1025.7 774.4L1026.2 771.0L1026.8 759.9L1027.4 753.4L1028.0 764.7L1028.5 767.4L1029.1 760.1L1029.7 764.1L1030.3 767.5L1030.8 766.1L1031.4 768.9L1032.0 773.7L1032.6 770.1L1033.2 771.1L1033.7 762.5L1034.3 762.5L1034.9 767.8L1035.5 772.2L1036.0 770.8L1036.6 768.3L1037.2 769.7L1037.8 759.5L1038.3 745.0L1038.9 751.0L1039.5 768.1L1040.1 770.5L1040.6 774.4L1041.2 771.6L1041.8 770.5L1042.4 767.3L1042.9 769.6L1043.5 772.7L1044.1 767.3L1044.7 768.4L1045.3 764.2L1045.8 750.8L1046.4 763.7L1047.0 752.9L1047.6 762.9L1048.1 764.8L1048.7 759.8L1049.3 772.4L1049.9 767.6L1050.4 764.3L1051.0 760.1L1051.6 752.5L1052.2 713.5L1052.7 761.2L1053.3 756.7L1053.9 756.7L1054.5 742.5L1055.0 760.0L1055.6 754.5L1056.2 750.2L1056.8 745.3L1057.4 757.4L1057.9 761.6L1058.5 770.7L1059.1 767.8L1059.7 772.5L1060.2 770.1L1060.8 769.6L1061.4 768.8L1062.0 768.4L1062.5 765.0L1063.1 755.3L1063.7 755.5L1064.3 765.0L1064.8 768.0L1065.4 766.3L1066.0 760.7L1066.6 767.9L1067.2 762.5L1067.7 743.4L1068.3 756.1L1068.9 767.0L1069.5 754.1L1070.0 753.3L1070.6 760.2L1071.2 763.1L1071.8 760.2L1072.3 756.9L1072.9 765.4L1073.5 761.5L1074.1 770.3L1074.6 768.2L1075.2 769.5L1075.8 765.6L1076.4 759.7L1076.9 746.1L1077.5 746.7L1078.1 766.0L1078.7 763.7L1079.3 751.2L1079.8 766.2L1080.4 765.2L1081.0 751.6L1081.6 758.6L1082.1 767.4L1082.7 763.0L1083.3 766.4L1083.9 761.8L1084.4 767.4L1085.0 765.4L1085.6 767.3L1086.2 770.7L1086.7 768.8L1087.3 705.1L1087.9 740.6L1088.5 729.1L1089.0 756.5L1089.6 758.1L1090.2 757.5L1090.8 766.5L1091.4 766.5L1091.9 762.2L1092.5 742.8L1093.1 756.5L1093.7 768.6L1094.2 760.6L1094.8 736.7L1095.4 756.6L1096.0 761.0L1096.5 761.8L1097.1 769.2L1097.7 770.9L1098.3 767.4L1098.8 759.3L1099.4 757.1L1100.0 764.7L1100.6 764.6L1101.2 752.6L1101.7 756.1L1102.3 762.9L1102.9 752.4L1103.5 729.2L1104.0 752.9L1104.6 766.4L1105.2 767.0L1105.8 771.5L1106.3 771.6L1106.9 769.7L1107.5 768.9L1108.1 768.8L1108.6 768.7L1109.2 772.2L1109.8 766.2L1110.4 766.6L1110.9 767.3L1111.5 762.7L1112.1 766.1L1112.7 762.7L1113.3 733.6L1113.8 762.0L1114.4 768.9L1115.0 769.0L1115.6 764.4L1116.1 772.1L1116.7 767.7L1117.3 764.7L1117.9 763.1L1118.4 767.4L1119.0 766.0L1119.6 764.4L1120.2 763.5L1120.7 769.6L1121.3 764.7L1121.9 769.7L1122.5 762.4L1123.1 772.3L1123.6 769.1L1124.2 769.5L1124.8 765.0L1125.4 768.5L1125.9 729.9L1126.5 762.6L1127.1 754.2L1127.7 759.1L1128.2 761.6L1128.8 747.3L1129.4 753.5L1130.0 766.3L1130.5 764.9L1131.1 768.2L1131.7 763.2L1132.3 764.7L1132.8 772.7L1133.4 772.8L1134.0 770.1L1134.6 764.2L1135.2 759.6L1135.7 771.8L1136.3 768.0L1136.9 768.7L1137.5 768.6L1138.0 767.2L1138.6 768.6L1139.2 770.2L1139.8 774.4L1140.3 762.4L1140.9 765.8L1141.5 764.4L1142.1 740.2L1142.6 739.2L1143.2 745.4L1143.8 753.6L1144.4 765.6L1144.9 766.8L1145.5 764.9L1146.1 754.3L1146.7 754.0L1147.3 753.0L1147.8 754.0L1148.4 757.3L1149.0 756.4L1149.6 771.5L1150.1 773.9L1150.7 774.2L1151.3 770.5L1151.9 763.7L1152.4 761.4L1153.0 756.7L1153.6 760.5L1154.2 758.1L1154.7 769.0L1155.3 761.0L1155.9 767.7L1156.5 767.2L1157.1 767.4L1157.6 764.5L1158.2 769.7L1158.8 771.7L1159.4 758.8L1159.9 769.2L1160.5 758.0L1161.1 760.8L1161.7 764.4L1162.2 764.1L1162.8 752.2L1163.4 760.1L1164.0 761.8L1164.5 755.0L1165.1 766.6L1165.7 763.5L1166.3 761.1L1166.8 766.1L1167.4 752.7L1168.0 762.7L1168.6 763.4L1169.2 757.7L1169.7 761.1L1170.3 760.5L1170.9 767.9L1171.5 755.4L1172.0 733.2L1172.6 736.0L1173.2 749.7L1173.8 741.0L1174.3 744.1L1174.9 759.2L1175.5 762.0L1176.1 756.7L1176.6 758.6L1177.2 765.4L1177.8 763.8L1178.4 753.7L1178.9 759.5L1179.5 763.3L1180.1 760.7L1180.7 771.5L1181.3 765.2L1181.8 747.3L1182.4 757.9L1183.0 770.2L1183.6 718.0L1184.1 764.7L1184.7 771.2L1185.3 771.0L1185.9 764.0L1186.4 755.3L1187.0 759.2L1187.6 761.8L1188.2 757.3L1188.7 766.0L1189.3 766.6L1189.9 765.4L1190.5 764.8L1191.1 765.2L1191.6 763.4L1192.2 758.1L1192.8 765.1L1193.4 764.2L1193.9 764.6L1194.5 764.2L1195.1 752.9L1195.7 759.6L1196.2 743.4L1196.8 754.9L1197.4 768.0L1198.0 765.7L1198.5 767.6L1199.1 757.6L1199.7 768.7L1200.3 767.0L1200.8 773.9L1201.4 770.0L1202.0 772.6" stroke="#2a2eec"/>
<path d="M626.3 751.6L626.9 752.3L627.5 758.3L628.0 754.2L628.6 765.6L629.2 765.2L629.8 767.6L630.3 762.9L630.9 770.5L631.5 756.5L632.1 762.6L632.6 767.7L633.2 747.7L633.8 731.5L634.4 737.1L634.9 771.5L635.5 765.7L636.1 767.3L636.7 768.1L637.2 771.1L637.8 767.2L638.4 768.0L639.0 759.5L639.6 767.4L640.1 760.0L640.7 757.9L641.3 748.3L641.9 766.9L642.4 766.5L643.0 765.8L643.6 761.7L644.2 762.0L644.7 766.1L645.3 765.7L645.9 760.9L646.5 764.0L647.0 762.6L647.6 770.5L648.2 767.1L648.8 755.8L649.4 747.8L649.9 759.4L650.5 765.0L651.1 762.3L651.7 764.4L652.2 770.0L652.8 762.5L653.4 761.1L654.0 757.3L654.5 734.3L655.1 756.1L655.7 748.2L656.3 747.3L656.8 736.2L657.4 730.5L658.0 743.5L658.6 761.7L659.1 764.6L659.7 765.2L660.3 739.2L660.9 764.0L661.5 757.5L662.0 765.8L662.6 770.3L663.2 764.3L663.8 766.0L664.3 761.0L664.9 765.9L665.5 756.3L666.1 742.7L666.6 760.7L667.2 758.2L667.8 764.5L668.4 770.8L668.9 773.5L669.5 753.7L670.1 760.4L670.7 769.3L671.2 764.3L671.8 762.6L672.4 765.1L673.0 763.2L673.6 765.3L674.1 767.6L674.7 762.2L675.3 741.6L675.9 742.9L676.4 748.0L677.0 750.1L677.6 751.2L678.2 740.6L678.7 734.2L679.3 760.0L679.9 769.0L680.5 767.5L681.0 752.9L681.6 738.9L682.2 750.5L682.8 747.9L683.4 760.3L683.9 758.5L684.5 765.6L685.1 759.3L685.7 769.7L686.2 773.7L686.8 773.5L687.4 769.5L688.0 764.9L688.5 756.5L689.1 761.0L689.7 754.1L690.3 761.7L690.8 763.6L691.4 757.9L692.0 768.9L692.6 768.9L693.1 767.3L693.7 768.9L694.3 768.9L694.9 768.1L695.5 764.9L696.0 770.5L696.6 764.5L697.2 764.8L697.8 760.6L698.3 762.6L698.9 761.3L699.5 766.9L700.1 765.3L700.6 770.1L701.2 765.5L701.8 754.6L702.4 764.3L702.9 762.6L703.5 771.5L704.1 771.3L704.7 725.4L705.2 768.6L705.8 765.8L706.4 759.8L707.0 765.4L707.6 754.1L708.1 769.3L708.7 769.2L709.3 767.8L709.9 764.7L710.4 773.2L711.0 760.6L711.6 761.6L712.2 762.8L712.7 758.8L713.3 762.8L713.9 757.6L714.5 760.5L715.0 764.2L715.6 768.3L716.2 749.8L716.8 768.9L717.4 773.4L717.9 769.4L718.5 769.7L719.1 743.2L719.7 733.6L720.2 748.0L720.8 763.4L721.4 757.8L722.0 765.2L722.5 748.1L723.1 754.7L723.7 745.5L724.3 700.2L724.8 752.3L725.4 739.7L726.0 762.3L726.6 758.9L727.1 759.1L727.7 758.3L728.3 761.5L728.9 746.8L729.5 759.5L730.0 757.0L730.6 764.1L731.2 747.6L731.8 747.1L732.3 753.2L732.9 759.1L733.5 759.6L734.1 763.5L734.6 769.9L735.2 772.3L735.8 758.8L736.4 768.0L736.9 753.0L737.5 763.9L738.1 761.0L738.7 753.5L739.3 770.8L739.8 773.2L740.4 767.8L741.0 740.2L741.6 768.1L742.1 764.3L742.7 765.9L743.3 764.0L743.9 763.5L744.4 766.1L745.0 759.2L745.6 748.0L746.2 745.0L746.7 771.7L747.3 761.3L747.9 764.8L748.5 767.6L749.0 757.6L749.6 757.8L750.2 712.2L750.8 766.3L751.4 755.8L751.9 762.3L752.5 758.5L753.1 761.8L753.7 763.7L754.2 719.7L754.8 771.3L755.4 715.4L756.0 757.7L756.5 743.7L757.1 759.2L757.7 747.4L758.3 754.4L758.8 759.1L759.4 764.3L760.0 754.7L760.6 766.1L761.1 768.5L761.7 751.2L762.3 756.2L762.9 759.4L763.5 770.2L764.0 769.9L764.6 758.3L765.2 764.6L765.8 772.1L766.3 763.0L766.9 770.5L767.5 763.8L768.1 738.2L768.6 736.0L769.2 682.2L769.8 722.2L770.4 768.3L770.9 763.8L771.5 763.2L772.1 748.8L772.7 756.8L773.3 747.4L773.8 751.0L774.4 736.3L775.0 769.6L775.6 764.3L776.1 767.9L776.7 767.4L777.3 773.0L777.9 767.2L778.4 770.5L779.0 759.5L779.6 740.4L780.2 736.8L780.7 765.8L781.3 764.8L781.9 754.9L782.5 767.5L783.0 756.8L783.6 748.2L784.2 764.9L784.8 759.8L785.4 759.6L785.9 759.4L786.5 750.1L787.1 758.0L787.7 753.7L788.2 759.7L788.8 764.5L789.4 769.3L790.0 760.5L790.5 765.0L791.1 748.7L791.7 757.0L792.3 766.0L792.8 767.7L793.4 761.8L794.0 755.3L794.6 762.1L795.1 768.0L795.7 764.4L796.3 763.0L796.9 754.1L797.5 766.8L798.0 752.8L798.6 765.9L799.2 768.1L799.8 758.6L800.3 748.7L800.9 758.6L801.5 761.3L802.1 760.4L802.6 765.4L803.2 764.1L803.8 750.8L804.4 739.2L804.9 752.2L805.5 755.8L806.1 757.6L806.7 744.1L807.3 766.1L807.8 761.7L808.4 760.9L809.0 762.7L809.6 762.7L810.1 768.4L810.7 764.8L811.3 761.5L811.9 764.6L812.4 757.0L813.0 744.9L813.6 745.6L814.2 755.5L814.7 760.9L815.3 762.0L815.9 769.2L816.5 765.4L817.0 755.5L817.6 760.9L818.2 758.9L818.8 765.4L819.4 762.9L819.9 759.3L820.5 759.6L821.1 771.1L821.7 769.6L822.2 767.4L822.8 766.9L823.4 761.4L824.0 763.1L824.5 771.7L825.1 769.4L825.7 770.1L826.3 760.6L826.8 756.8L827.4 757.3L828.0 746.4L828.6 754.1L829.1 713.5L829.7 767.1L830.3 757.4L830.9 761.3L831.5 755.9L832.0 770.8L832.6 754.0L833.2 754.2L833.8 751.6L834.3 760.1L834.9 768.3L835.5 764.5L836.1 765.4L836.6 767.4L837.2 767.9L837.8 761.5L838.4 763.0L838.9 769.2L839.5 763.4L840.1 759.5L840.7 757.9L841.3 764.7L841.8 767.7L842.4 765.4L843.0 752.2L843.6 765.0L844.1 768.9L844.7 767.7L845.3 770.8L845.9 754.7L846.4 764.6L847.0 758.0L847.6 765.2L848.2 743.7L848.7 743.4L849.3 749.5L849.9 744.9L850.5 745.0L851.0 764.2L851.6 759.1L852.2 758.7L852.8 744.2L853.4 727.5L853.9 763.1L854.5 743.5L855.1 752.8L855.7 762.8L856.2 768.1L856.8 760.5L857.4 768.3L858.0 765.1L858.5 761.2L859.1 771.0L859.7 772.0L860.3 774.6L860.8 768.4L861.4 765.6L862.0 763.8L862.6 764.1L863.1 757.3L863.7 726.3L864.3 733.1L864.9 747.6L865.5 754.9L866.0 736.5L866.6 764.1L867.2 762.5L867.8 748.8L868.3 763.2L868.9 750.2L869.5 764.2L870.1 763.3L870.6 766.3L871.2 763.4L871.8 773.2L872.4 769.4L872.9 766.1L873.5 766.0L874.1 755.1L874.7 753.1L875.3 761.7L875.8 754.9L876.4 764.6L877.0 764.0L877.6 759.2L878.1 759.9L878.7 749.0L879.3 757.5L879.9 763.2L880.4 753.6L881.0 754.5L881.6 751.5L882.2 729.1L882.7 735.7L883.3 750.4L883.9 756.0L884.5 765.4L885.0 762.2L885.6 766.6L886.2 756.4L886.8 760.1L887.4 768.3L887.9 762.7L888.5 750.7L889.1 749.3L889.7 751.3L890.2 738.5L890.8 758.9L891.4 757.5L892.0 760.5L892.5 756.0L893.1 766.5L893.7 755.3L894.3 761.6L894.8 754.1L895.4 744.7L896.0 751.8L896.6 733.6L897.1 758.4L897.7 764.2L898.3 766.9L898.9 765.7L899.5 757.5L900.0 745.6L900.6 753.5L901.2 761.7L901.8 764.2L902.3 770.8L902.9 765.8L903.5 770.9L904.1 759.6L904.6 767.3L905.2 729.4L905.8 769.7L906.4 760.1L906.9 770.2L907.5 767.8L908.1 767.6L908.7 761.2L909.3 745.6L909.8 741.4L910.4 765.8L911.0 753.9L911.6 768.6L912.1 768.7L912.7 753.7L913.3 766.9L913.9 767.9L914.4 764.8L915.0 769.9L915.6 762.9L916.2 770.9L916.7 759.5L917.3 758.8L917.9 761.1L918.5 749.8L919.0 765.4L919.6 760.0L920.2 758.1L920.8 760.8L921.4 760.0L921.9 764.3L922.5 770.2L923.1 773.7L923.7 765.5L924.2 756.8L924.8 760.1L925.4 762.9L926.0 769.7L926.5 753.0L927.1 761.4L927.7 755.2L928.3 752.3L928.8 764.1L929.4 642.0L930.0 681.2L930.6 664.3L931.2 760.3L931.7 756.5L932.3 772.2L932.9 765.5L933.5 764.8L934.0 763.7L934.6 770.5L935.2 769.7L935.8 767.7L936.3 768.3L936.9 765.0L937.5 767.6L938.1 766.7L938.6 766.2L939.2 747.5L939.8 758.2L940.4 770.3L940.9 772.4L941.5 765.4L942.1 758.8L942.7 764.2L943.3 767.4L943.8 761.6L944.4 771.2L945.0 764.5L945.6 761.5L946.1 759.5L946.7 771.1L947.3 765.2L947.9 756.9L948.4 762.3L949.0 766.9L949.6 769.9L950.2 767.3L950.7 760.3L951.3 759.9L951.9 757.9L952.5 747.7L953.0 761.4L953.6 770.1L954.2 772.1L954.8 768.7L955.4 765.7L955.9 763.4L956.5 748.9L957.1 764.0L957.7 764.1L958.2 771.3L958.8 773.0L959.4 773.1L960.0 770.5L960.5 748.0L961.1 723.3L961.7 757.4L962.3 768.8L962.8 768.4L963.4 770.1L964.0 761.1L964.6 763.4L965.2 755.1L965.7 766.8L966.3 764.8L966.9 760.0L967.5 745.5L968.0 734.8L968.6 761.1L969.2 750.4L969.8 759.6L970.3 762.0L970.9 764.0L971.5 762.0L972.1 771.6L972.6 765.1L973.2 766.9L973.8 763.6L974.4 772.1L974.9 768.5L975.5 767.7L976.1 766.5L976.7 764.4L977.3 756.3L977.8 759.8L978.4 757.4L979.0 764.7L979.6 768.9L980.1 768.6L980.7 768.7L981.3 761.8L981.9 757.7L982.4 753.6L983.0 755.6L983.6 762.7L984.2 768.2L984.7 757.4L985.3 749.9L985.9 767.9L986.5 742.0L987.0 760.4L987.6 749.2L988.2 764.4L988.8 759.9L989.4 759.7L989.9 752.0L990.5 755.8L991.1 764.5L991.7 748.9L992.2 767.9L992.8 767.3L993.4 772.0L994.0 762.1L994.5 760.8L995.1 763.9L995.7 748.3L996.3 749.2L996.8 759.9L997.4 761.6L998.0 760.4L998.6 761.7L999.2 752.8L999.7 753.1L1000.3 756.4L1000.9 754.3L1001.5 761.5L1002.0 753.8L1002.6 743.4L1003.2 749.2L1003.8 759.3L1004.3 759.9L1004.9 764.2L1005.5 751.5L1006.1 743.5L1006.6 758.0L1007.2 757.3L1007.8 763.4L1008.4 761.2L1008.9 764.6L1009.5 750.0L1010.1 762.4L1010.7 750.7L1011.3 760.9L1011.8 756.8L1012.4 759.6L1013.0 764.2L1013.6 766.5L1014.1 761.8L1014.7 755.3L1015.3 753.5L1015.9 751.9L1016.4 758.9L1017.0 748.6L1017.6 758.1L1018.2 760.5L1018.7 761.6L1019.3 758.6L1019.9 769.0L1020.5 761.6L1021.0 758.9L1021.6 754.7L1022.2 726.6L1022.8 739.4L1023.4 763.0L1023.9 767.4L1024.5 759.5L1025.1 762.6L1025.7 757.4L1026.2 755.7L1026.8 760.9L1027.4 771.2L1028.0 770.8L1028.5 769.6L1029.1 764.4L1029.7 717.5L1030.3 763.2L1030.8 742.6L1031.4 761.6L1032.0 771.1L1032.6 773.7L1033.2 767.8L1033.7 766.6L1034.3 742.0L1034.9 764.2L1035.5 771.6L1036.0 768.2L1036.6 760.6L1037.2 744.6L1037.8 733.8L1038.3 736.8L1038.9 752.2L1039.5 760.6L1040.1 765.6L1040.6 759.8L1041.2 760.0L1041.8 767.8L1042.4 766.3L1042.9 769.4L1043.5 763.1L1044.1 758.7L1044.7 754.0L1045.3 764.9L1045.8 766.7L1046.4 765.5L1047.0 771.2L1047.6 769.3L1048.1 766.8L1048.7 763.2L1049.3 766.1L1049.9 749.6L1050.4 749.0L1051.0 761.0L1051.6 765.6L1052.2 765.0L1052.7 758.9L1053.3 753.0L1053.9 749.9L1054.5 751.3L1055.0 752.9L1055.6 765.0L1056.2 765.5L1056.8 762.4L1057.4 757.8L1057.9 767.1L1058.5 758.0L1059.1 748.0L1059.7 767.3L1060.2 771.9L1060.8 771.8L1061.4 770.9L1062.0 764.9L1062.5 753.6L1063.1 744.9L1063.7 757.8L1064.3 764.2L1064.8 748.1L1065.4 748.1L1066.0 710.1L1066.6 760.9L1067.2 764.9L1067.7 758.3L1068.3 760.0L1068.9 761.6L1069.5 762.9L1070.0 757.4L1070.6 750.4L1071.2 750.9L1071.8 756.0L1072.3 769.4L1072.9 762.8L1073.5 762.3L1074.1 771.7L1074.6 769.4L1075.2 770.2L1075.8 766.2L1076.4 763.7L1076.9 757.4L1077.5 738.7L1078.1 765.3L1078.7 755.0L1079.3 766.6L1079.8 756.7L1080.4 758.4L1081.0 760.3L1081.6 774.9L1082.1 768.4L1082.7 760.9L1083.3 727.4L1083.9 755.3L1084.4 721.5L1085.0 752.0L1085.6 724.8L1086.2 758.7L1086.7 767.3L1087.3 753.4L1087.9 747.9L1088.5 760.6L1089.0 764.0L1089.6 756.8L1090.2 758.1L1090.8 765.8L1091.4 767.4L1091.9 752.4L1092.5 761.7L1093.1 763.1L1093.7 758.2L1094.2 753.5L1094.8 749.5L1095.4 759.7L1096.0 762.3L1096.5 761.1L1097.1 766.3L1097.7 744.3L1098.3 756.4L1098.8 747.5L1099.4 761.9L1100.0 765.5L1100.6 703.5L1101.2 767.2L1101.7 770.9L1102.3 769.3L1102.9 762.0L1103.5 749.3L1104.0 744.7L1104.6 741.1L1105.2 733.4L1105.8 746.6L1106.3 742.5L1106.9 738.5L1107.5 755.7L1108.1 757.5L1108.6 749.6L1109.2 736.8L1109.8 760.6L1110.4 744.1L1110.9 758.1L1111.5 766.4L1112.1 768.1L1112.7 772.4L1113.3 768.4L1113.8 764.6L1114.4 750.3L1115.0 749.2L1115.6 739.3L1116.1 728.2L1116.7 728.4L1117.3 750.8L1117.9 762.1L1118.4 760.3L1119.0 761.3L1119.6 755.3L1120.2 761.1L1120.7 764.8L1121.3 752.7L1121.9 752.1L1122.5 741.8L1123.1 736.8L1123.6 757.2L1124.2 749.1L1124.8 749.1L1125.4 748.0L1125.9 747.3L1126.5 760.4L1127.1 763.6L1127.7 768.2L1128.2 770.7L1128.8 770.1L1129.4 772.2L1130.0 762.3L1130.5 758.6L1131.1 759.6L1131.7 753.4L1132.3 768.7L1132.8 745.7L1133.4 762.9L1134.0 760.0L1134.6 760.1L1135.2 764.5L1135.7 758.5L1136.3 761.7L1136.9 753.7L1137.5 748.2L1138.0 757.4L1138.6 737.9L1139.2 741.9L1139.8 758.3L1140.3 763.7L1140.9 756.1L1141.5 771.7L1142.1 771.0L1142.6 765.5L1143.2 758.6L1143.8 758.9L1144.4 759.3L1144.9 765.8L1145.5 768.6L1146.1 751.7L1146.7 760.0L1147.3 758.6L1147.8 760.8L1148.4 747.3L1149.0 768.5L1149.6 765.4L1150.1 767.7L1150.7 765.7L1151.3 760.7L1151.9 766.9L1152.4 753.3L1153.0 762.0L1153.6 754.7L1154.2 759.0L1154.7 759.2L1155.3 752.7L1155.9 757.6L1156.5 754.8L1157.1 758.4L1157.6 755.6L1158.2 766.6L1158.8 769.7L1159.4 763.9L1159.9 762.9L1160.5 763.2L1161.1 765.1L1161.7 771.0L1162.2 763.8L1162.8 757.6L1163.4 762.6L1164.0 770.3L1164.5 772.1L1165.1 764.0L1165.7 764.9L1166.3 762.9L1166.8 765.7L1167.4 758.1L1168.0 759.2L1168.6 767.5L1169.2 772.2L1169.7 770.5L1170.3 771.1L1170.9 771.6L1171.5 760.6L1172.0 752.4L1172.6 753.6L1173.2 758.1L1173.8 735.6L1174.3 759.5L1174.9 760.6L1175.5 764.6L1176.1 768.3L1176.6 757.1L1177.2 760.9L1177.8 766.1L1178.4 768.5L1178.9 766.4L1179.5 767.2L1180.1 770.4L1180.7 770.1L1181.3 764.6L1181.8 770.4L1182.4 769.2L1183.0 745.8L1183.6 752.0L1184.1 761.9L1184.7 760.6L1185.3 763.3L1185.9 764.3L1186.4 753.9L1187.0 756.6L1187.6 753.4L1188.2 761.4L1188.7 763.7L1189.3 757.3L1189.9 744.3L1190.5 750.2L1191.1 761.0L1191.6 753.5L1192.2 753.9L1192.8 760.8L1193.4 764.2L1193.9 762.3L1194.5 769.0L1195.1 766.9L1195.7 771.0L1196.2 758.5L1196.8 757.1L1197.4 753.6L1198.0 764.8L1198.5 756.5L1199.1 754.1L1199.7 763.4L1200.3 751.3L1200.8 758.2L1201.4 758.4L1202.0 756.7" stroke="#fa7c17"/>
<path d="M626.3 766.7L626.9 765.7L627.5 764.3L628.0 762.6L628.6 764.2L629.2 758.8L629.8 764.5L630.3 769.0L630.9 764.8L631.5 765.1L632.1 762.0L632.6 746.0L633.2 744.8L633.8 743.4L634.4 754.0L634.9 757.5L635.5 761.2L636.1 760.8L636.7 757.0L637.2 752.7L637.8 757.2L638.4 764.2L639.0 756.5L639.6 768.7L640.1 768.0L640.7 763.7L641.3 746.6L641.9 747.7L642.4 738.0L643.0 748.0L643.6 765.2L644.2 764.6L644.7 766.9L645.3 764.2L645.9 765.3L646.5 765.3L647.0 758.8L647.6 754.5L648.2 737.9L648.8 754.5L649.4 757.6L649.9 752.7L650.5 756.5L651.1 762.2L651.7 762.9L652.2 769.6L652.8 769.0L653.4 764.4L654.0 762.4L654.5 765.8L655.1 764.9L655.7 737.5L656.3 738.1L656.8 707.4L657.4 764.1L658.0 719.2L658.6 764.7L659.1 772.1L659.7 765.0L660.3 746.4L660.9 766.4L661.5 771.5L662.0 769.7L662.6 762.8L663.2 764.1L663.8 765.0L664.3 766.6L664.9 760.9L665.5 752.1L666.1 759.5L666.6 747.6L667.2 758.3L667.8 756.6L668.4 759.4L668.9 763.0L669.5 763.2L670.1 771.6L670.7 766.6L671.2 748.6L671.8 740.4L672.4 744.7L673.0 750.2L673.6 765.3L674.1 759.4L674.7 767.4L675.3 761.8L675.9 752.8L676.4 767.7L677.0 766.7L677.6 758.3L678.2 758.1L678.7 760.4L679.3 748.7L679.9 740.5L680.5 758.1L681.0 768.9L681.6 767.5L682.2 763.7L682.8 740.7L683.4 740.8L683.9 758.8L684.5 749.1L685.1 761.1L685.7 765.6L686.2 767.1L686.8 764.5L687.4 758.4L688.0 756.5L688.5 764.8L689.1 763.0L689.7 771.7L690.3 770.1L690.8 773.6L691.4 769.6L692.0 752.2L692.6 751.0L693.1 764.7L693.7 759.5L694.3 757.3L694.9 763.9L695.5 763.9L696.0 768.9L696.6 756.3L697.2 760.5L697.8 768.0L698.3 771.7L698.9 759.9L699.5 769.1L700.1 767.5L700.6 768.6L701.2 768.2L701.8 764.6L702.4 759.5L702.9 764.5L703.5 765.9L704.1 760.8L704.7 760.0L705.2 753.5L705.8 767.2L706.4 758.0L707.0 749.3L707.6 765.4L708.1 763.9L708.7 760.3L709.3 760.0L709.9 752.7L710.4 744.4L711.0 741.8L711.6 762.8L712.2 749.0L712.7 747.0L713.3 762.2L713.9 767.0L714.5 760.6L715.0 764.7L715.6 766.2L716.2 768.7L716.8 758.6L717.4 763.0L717.9 753.4L718.5 766.1L719.1 767.4L719.7 763.4L720.2 756.7L720.8 738.1L721.4 751.1L722.0 760.2L722.5 767.3L723.1 754.0L723.7 757.2L724.3 757.1L724.8 757.7L725.4 757.6L726.0 760.2L726.6 759.2L727.1 758.3L727.7 758.5L728.3 751.8L728.9 753.6L729.5 766.8L730.0 769.5L730.6 768.9L731.2 764.8L731.8 758.3L732.3 752.0L732.9 753.2L733.5 758.3L734.1 766.5L734.6 762.1L735.2 758.6L735.8 765.6L736.4 760.0L736.9 758.0L737.5 764.5L738.1 760.6L738.7 758.6L739.3 763.8L739.8 763.1L740.4 761.6L741.0 763.0L741.6 770.0L742.1 765.0L742.7 769.7L743.3 761.7L743.9 759.3L744.4 750.9L745.0 756.3L745.6 762.2L746.2 762.2L746.7 767.5L747.3 759.7L747.9 757.5L748.5 759.8L749.0 748.8L749.6 765.6L750.2 762.4L750.8 767.2L751.4 771.1L751.9 768.4L752.5 768.9L753.1 755.4L753.7 762.6L754.2 769.4L754.8 754.2L755.4 752.7L756.0 749.1L756.5 752.8L757.1 753.8L757.7 745.6L758.3 741.9L758.8 757.8L759.4 748.1L760.0 769.8L760.6 767.2L761.1 766.0L761.7 764.6L762.3 760.6L762.9 760.3L763.5 746.8L764.0 767.9L764.6 768.0L765.2 762.1L765.8 759.3L766.3 766.8L766.9 765.8L767.5 766.2L768.1 764.1L768.6 763.7L769.2 768.8L769.8 768.8L770.4 770.4L770.9 766.9L771.5 757.2L772.1 746.2L772.7 746.4L773.3 754.4L773.8 768.7L774.4 764.5L775.0 770.0L775.6 770.4L776.1 769.5L776.7 765.7L777.3 763.8L777.9 769.2L778.4 772.7L779.0 767.0L779.6 765.2L780.2 770.5L780.7 764.7L781.3 768.8L781.9 762.0L782.5 754.9L783.0 740.5L783.6 752.0L784.2 766.4L784.8 747.5L785.4 767.2L785.9 765.9L786.5 767.9L787.1 764.8L787.7 758.0L788.2 750.9L788.8 765.9L789.4 773.6L790.0 765.7L790.5 757.1L791.1 757.9L791.7 751.0L792.3 762.1L792.8 764.8L793.4 770.8L794.0 765.1L794.6 767.8L795.1 762.5L795.7 766.9L796.3 769.6L796.9 773.7L797.5 770.1L798.0 769.2L798.6 765.0L799.2 769.6L799.8 765.9L800.3 768.0L800.9 767.4L801.5 769.7L802.1 769.0L802.6 765.1L803.2 756.2L803.8 764.4L804.4 763.7L804.9 757.3L805.5 763.4L806.1 751.6L806.7 761.8L807.3 762.7L807.8 758.5L808.4 759.9L809.0 755.2L809.6 749.9L810.1 751.1L810.7 757.5L811.3 767.6L811.9 766.0L812.4 762.1L813.0 766.3L813.6 761.1L814.2 761.3L814.7 761.7L815.3 764.7L815.9 763.4L816.5 761.5L817.0 764.1L817.6 761.2L818.2 768.3L818.8 765.8L819.4 761.8L819.9 769.8L820.5 767.8L821.1 765.6L821.7 767.5L822.2 761.8L822.8 747.5L823.4 744.0L824.0 754.0L824.5 752.8L825.1 739.8L825.7 756.3L826.3 758.5L826.8 756.7L827.4 751.4L828.0 762.1L828.6 758.7L829.1 769.9L829.7 764.3L830.3 765.9L830.9 764.9L831.5 742.0L832.0 756.7L832.6 768.9L833.2 764.6L833.8 759.4L834.3 763.3L834.9 763.8L835.5 760.5L836.1 760.0L836.6 767.9L837.2 768.7L837.8 764.1L838.4 761.3L838.9 761.9L839.5 752.8L840.1 751.6L840.7 762.1L841.3 758.5L841.8 753.1L842.4 766.6L843.0 766.8L843.6 764.8L844.1 770.8L844.7 760.8L845.3 751.3L845.9 770.9L846.4 723.3L847.0 760.6L847.6 744.9L848.2 751.7L848.7 741.0L849.3 749.7L849.9 756.7L850.5 744.7L851.0 761.4L851.6 765.3L852.2 764.7L852.8 765.3L853.4 769.3L853.9 770.1L854.5 755.5L855.1 760.0L855.7 765.3L856.2 769.9L856.8 770.3L857.4 768.1L858.0 770.7L858.5 762.0L859.1 765.6L859.7 761.4L860.3 766.4L860.8 765.5L861.4 771.1L862.0 770.7L862.6 769.8L863.1 763.8L863.7 768.4L864.3 759.2L864.9 766.8L865.5 765.6L866.0 763.2L866.6 690.2L867.2 717.1L867.8 769.7L868.3 766.2L868.9 768.8L869.5 755.7L870.1 756.2L870.6 763.2L871.2 769.5L871.8 762.0L872.4 746.0L872.9 763.8L873.5 770.7L874.1 764.3L874.7 749.3L875.3 754.1L875.8 766.2L876.4 767.4L877.0 761.9L877.6 767.9L878.1 764.5L878.7 760.7L879.3 754.6L879.9 766.1L880.4 764.4L881.0 760.0L881.6 763.1L882.2 758.8L882.7 763.5L883.3 768.2L883.9 771.1L884.5 769.2L885.0 767.3L885.6 760.1L886.2 761.1L886.8 767.9L887.4 763.6L887.9 749.0L888.5 763.8L889.1 762.5L889.7 771.0L890.2 753.1L890.8 752.7L891.4 747.6L892.0 757.2L892.5 758.8L893.1 762.7L893.7 766.5L894.3 751.2L894.8 748.5L895.4 762.1L896.0 764.9L896.6 763.5L897.1 761.2L897.7 747.6L898.3 767.4L898.9 768.5L899.5 772.7L900.0 770.7L900.6 767.2L901.2 753.2L901.8 750.6L902.3 750.1L902.9 761.3L903.5 744.0L904.1 743.2L904.6 758.5L905.2 764.2L905.8 758.8L906.4 767.0L906.9 768.3L907.5 762.3L908.1 762.1L908.7 764.9L909.3 763.8L909.8 764.1L910.4 764.5L911.0 762.0L911.6 769.8L912.1 762.1L912.7 763.8L913.3 764.2L913.9 763.1L914.4 759.2L915.0 736.4L915.6 759.6L916.2 765.9L916.7 765.1L917.3 766.2L917.9 770.7L918.5 768.5L919.0 692.8L919.6 755.4L920.2 751.9L920.8 768.7L921.4 773.0L921.9 759.1L922.5 762.8L923.1 770.7L923.7 769.1L924.2 757.9L924.8 757.6L925.4 740.0L926.0 736.0L926.5 755.9L927.1 750.5L927.7 766.2L928.3 760.7L928.8 758.4L929.4 758.6L930.0 756.9L930.6 737.8L931.2 760.4L931.7 764.7L932.3 762.6L932.9 763.7L933.5 756.7L934.0 758.8L934.6 767.6L935.2 762.4L935.8 764.4L936.3 768.9L936.9 760.5L937.5 765.7L938.1 765.8L938.6 759.4L939.2 764.9L939.8 767.3L940.4 767.1L940.9 763.3L941.5 763.0L942.1 753.9L942.7 764.0L943.3 753.6L943.8 753.4L944.4 751.9L945.0 758.2L945.6 767.5L946.1 766.1L946.7 759.8L947.3 751.1L947.9 761.5L948.4 762.0L949.0 759.0L949.6 753.6L950.2 756.8L950.7 766.3L951.3 768.5L951.9 764.5L952.5 765.7L953.0 741.7L953.6 763.2L954.2 761.5L954.8 765.4L955.4 760.6L955.9 743.6L956.5 767.5L957.1 766.0L957.7 766.2L958.2 761.0L958.8 764.9L959.4 762.3L960.0 767.2L960.5 757.8L961.1 750.8L961.7 761.3L962.3 771.1L962.8 768.3L963.4 765.8L964.0 768.5L964.6 756.2L965.2 768.0L965.7 749.4L966.3 755.1L966.9 752.3L967.5 764.6L968.0 768.8L968.6 763.3L969.2 744.7L969.8 757.5L970.3 746.5L970.9 752.0L971.5 763.3L972.1 759.0L972.6 752.8L973.2 758.9L973.8 754.8L974.4 755.3L974.9 744.7L975.5 758.2L976.1 762.2L976.7 756.1L977.3 767.9L977.8 764.9L978.4 765.5L979.0 765.6L979.6 756.9L980.1 757.6L980.7 760.0L981.3 753.0L981.9 765.8L982.4 758.7L983.0 764.0L983.6 759.8L984.2 745.1L984.7 754.4L985.3 727.9L985.9 769.2L986.5 768.4L987.0 768.2L987.6 769.3L988.2 770.0L988.8 768.8L989.4 768.6L989.9 766.4L990.5 766.0L991.1 753.5L991.7 761.2L992.2 763.6L992.8 761.4L993.4 760.3L994.0 765.2L994.5 767.7L995.1 767.1L995.7 767.5L996.3 758.2L996.8 766.2L997.4 766.4L998.0 763.9L998.6 760.0L999.2 748.1L999.7 759.7L1000.3 762.5L1000.9 750.3L1001.5 744.5L1002.0 756.9L1002.6 766.0L1003.2 761.1L1003.8 768.3L1004.3 756.6L1004.9 753.1L1005.5 765.9L1006.1 758.0L1006.6 765.6L1007.2 765.9L1007.8 755.5L1008.4 766.4L1008.9 771.7L1009.5 771.4L1010.1 765.9L1010.7 763.2L1011.3 766.8L1011.8 771.9L1012.4 769.2L1013.0 769.9L1013.6 715.4L1014.1 770.7L1014.7 763.5L1015.3 764.4L1015.9 762.2L1016.4 759.7L1017.0 758.1L1017.6 766.7L1018.2 760.2L1018.7 767.8L1019.3 761.0L1019.9 761.7L1020.5 764.9L1021.0 763.6L1021.6 761.4L1022.2 761.0L1022.8 754.9L1023.4 757.6L1023.9 761.4L1024.5 738.3L1025.1 759.6L1025.7 766.7L1026.2 761.1L1026.8 751.6L1027.4 683.0L1028.0 686.3L1028.5 740.0L1029.1 759.3L1029.7 752.6L1030.3 764.9L1030.8 760.9L1031.4 765.9L1032.0 761.7L1032.6 711.5L1033.2 756.1L1033.7 760.8L1034.3 764.6L1034.9 754.6L1035.5 743.8L1036.0 757.6L1036.6 769.0L1037.2 765.2L1037.8 756.4L1038.3 760.9L1038.9 763.5L1039.5 756.5L1040.1 746.7L1040.6 762.1L1041.2 767.1L1041.8 766.0L1042.4 769.5L1042.9 763.2L1043.5 768.6L1044.1 756.4L1044.7 762.0L1045.3 763.4L1045.8 756.3L1046.4 753.9L1047.0 755.5L1047.6 753.5L1048.1 762.5L1048.7 743.6L1049.3 764.3L1049.9 765.6L1050.4 768.0L1051.0 768.9L1051.6 758.7L1052.2 747.7L1052.7 742.5L1053.3 750.3L1053.9 767.2L1054.5 770.5L1055.0 770.3L1055.6 769.5L1056.2 764.0L1056.8 760.2L1057.4 761.8L1057.9 769.2L1058.5 762.2L1059.1 761.9L1059.7 769.7L1060.2 764.2L1060.8 767.0L1061.4 748.6L1062.0 765.6L1062.5 759.7L1063.1 763.1L1063.7 771.2L1064.3 771.9L1064.8 772.2L1065.4 768.9L1066.0 758.7L1066.6 757.7L1067.2 745.4L1067.7 748.3L1068.3 743.7L1068.9 753.9L1069.5 753.5L1070.0 752.5L1070.6 760.9L1071.2 760.3L1071.8 765.3L1072.3 764.9L1072.9 767.7L1073.5 766.3L1074.1 766.1L1074.6 757.6L1075.2 764.4L1075.8 767.2L1076.4 763.3L1076.9 765.4L1077.5 766.3L1078.1 763.5L1078.7 760.8L1079.3 761.0L1079.8 752.8L1080.4 740.7L1081.0 742.4L1081.6 757.4L1082.1 767.0L1082.7 769.3L1083.3 765.7L1083.9 770.0L1084.4 765.0L1085.0 766.3L1085.6 764.8L1086.2 760.3L1086.7 760.5L1087.3 770.5L1087.9 772.4L1088.5 760.9L1089.0 763.1L1089.6 751.8L1090.2 760.1L1090.8 759.7L1091.4 765.0L1091.9 760.9L1092.5 756.0L1093.1 758.5L1093.7 753.8L1094.2 757.6L1094.8 770.0L1095.4 763.6L1096.0 757.4L1096.5 765.1L1097.1 757.7L1097.7 767.0L1098.3 765.9L1098.8 761.8L1099.4 772.1L1100.0 765.6L1100.6 764.1L1101.2 757.7L1101.7 763.7L1102.3 763.7L1102.9 763.4L1103.5 763.0L1104.0 767.6L1104.6 757.0L1105.2 767.5L1105.8 766.9L1106.3 763.1L1106.9 766.9L1107.5 759.1L1108.1 764.2L1108.6 766.7L1109.2 762.1L1109.8 745.9L1110.4 758.0L1110.9 750.9L1111.5 762.4L1112.1 762.9L1112.7 762.5L1113.3 757.7L1113.8 757.1L1114.4 765.0L1115.0 766.7L1115.6 765.5L1116.1 761.0L1116.7 736.7L1117.3 753.4L1117.9 740.8L1118.4 730.8L1119.0 755.4L1119.6 765.0L1120.2 756.2L1120.7 767.7L1121.3 755.7L1121.9 760.3L1122.5 755.9L1123.1 756.9L1123.6 768.8L1124.2 759.9L1124.8 758.8L1125.4 771.2L1125.9 773.1L1126.5 767.7L1127.1 764.7L1127.7 764.0L1128.2 762.7L1128.8 767.6L1129.4 767.5L1130.0 757.0L1130.5 770.9L1131.1 774.5L1131.7 764.5L1132.3 760.3L1132.8 746.7L1133.4 748.7L1134.0 746.6L1134.6 753.9L1135.2 766.9L1135.7 768.8L1136.3 760.4L1136.9 760.2L1137.5 755.5L1138.0 744.0L1138.6 756.3L1139.2 737.8L1139.8 758.3L1140.3 760.8L1140.9 756.5L1141.5 752.7L1142.1 760.6L1142.6 754.5L1143.2 768.0L1143.8 763.1L1144.4 755.5L1144.9 758.4L1145.5 760.5L1146.1 726.9L1146.7 766.2L1147.3 747.6L1147.8 754.7L1148.4 760.3L1149.0 761.0L1149.6 758.6L1150.1 763.7L1150.7 768.6L1151.3 759.3L1151.9 764.3L1152.4 765.3L1153.0 670.4L1153.6 764.7L1154.2 757.3L1154.7 754.9L1155.3 755.7L1155.9 768.8L1156.5 753.4L1157.1 752.9L1157.6 761.4L1158.2 755.6L1158.8 757.2L1159.4 756.9L1159.9 763.1L1160.5 761.7L1161.1 763.7L1161.7 759.0L1162.2 762.0L1162.8 759.5L1163.4 724.8L1164.0 756.7L1164.5 751.7L1165.1 756.1L1165.7 715.4L1166.3 756.2L1166.8 728.5L1167.4 733.0L1168.0 735.9L1168.6 763.0L1169.2 764.4L1169.7 762.2L1170.3 757.9L1170.9 756.6L1171.5 754.9L1172.0 765.1L1172.6 744.7L1173.2 751.4L1173.8 750.9L1174.3 756.5L1174.9 758.4L1175.5 759.9L1176.1 744.2L1176.6 758.3L1177.2 755.7L1177.8 746.4L1178.4 764.7L1178.9 767.2L1179.5 768.9L1180.1 762.8L1180.7 769.6L1181.3 767.4L1181.8 764.9L1182.4 765.3L1183.0 770.7L1183.6 756.2L1184.1 764.6L1184.7 766.7L1185.3 757.4L1185.9 763.6L1186.4 765.9L1187.0 768.3L1187.6 767.3L1188.2 763.8L1188.7 754.3L1189.3 760.1L1189.9 760.3L1190.5 770.3L1191.1 765.8L1191.6 759.0L1192.2 752.3L1192.8 768.3L1193.4 769.4L1193.9 772.2L1194.5 768.6L1195.1 758.3L1195.7 768.8L1196.2 764.0L1196.8 766.8L1197.4 758.3L1198.0 764.8L1198.5 771.3L1199.1 769.7L1199.7 767.9L1200.3 768.0L1200.8 769.2L1201.4 723.3L1202.0 761.2" stroke="#328c06"/>
<path d="M626.3 765.4L626.9 760.5L627.5 760.3L628.0 748.5L628.6 736.9L629.2 731.2L629.8 755.6L630.3 753.9L630.9 760.9L631.5 758.3L632.1 755.6L632.6 760.5L633.2 762.7L633.8 755.8L634.4 763.0L634.9 766.3L635.5 769.3L636.1 771.0L636.7 763.3L637.2 753.8L637.8 761.1L638.4 765.9L639.0 752.0L639.6 761.1L640.1 765.8L640.7 766.4L641.3 759.9L641.9 760.9L642.4 746.1L643.0 746.2L643.6 754.7L644.2 769.1L644.7 769.7L645.3 755.9L645.9 745.8L646.5 748.2L647.0 748.6L647.6 756.1L648.2 759.8L648.8 766.8L649.4 759.8L649.9 757.4L650.5 766.9L651.1 770.0L651.7 764.7L652.2 767.1L652.8 728.6L653.4 757.6L654.0 766.9L654.5 767.1L655.1 768.3L655.7 768.8L656.3 762.0L656.8 766.6L657.4 769.4L658.0 773.5L658.6 766.8L659.1 763.4L659.7 771.9L660.3 761.6L660.9 764.8L661.5 746.1L662.0 755.5L662.6 764.1L663.2 758.6L663.8 749.6L664.3 766.2L664.9 762.8L665.5 758.3L666.1 763.0L666.6 768.2L667.2 768.2L667.8 758.9L668.4 751.7L668.9 755.9L669.5 738.4L670.1 744.8L670.7 743.4L671.2 746.0L671.8 753.1L672.4 758.9L673.0 754.2L673.6 762.1L674.1 762.1L674.7 724.6L675.3 772.1L675.9 772.3L676.4 756.2L677.0 770.1L677.6 765.5L678.2 756.8L678.7 762.8L679.3 763.9L679.9 761.8L680.5 771.1L681.0 767.7L681.6 755.7L682.2 751.7L682.8 758.6L683.4 761.1L683.9 752.4L684.5 764.6L685.1 761.7L685.7 751.3L686.2 766.2L686.8 765.4L687.4 758.2L688.0 737.1L688.5 762.6L689.1 754.1L689.7 737.7L690.3 744.8L690.8 755.6L691.4 759.8L692.0 767.9L692.6 754.7L693.1 767.8L693.7 765.8L694.3 766.4L694.9 762.1L695.5 765.1L696.0 752.6L696.6 769.0L697.2 773.0L697.8 768.9L698.3 771.4L698.9 764.4L699.5 759.0L700.1 754.3L700.6 766.4L701.2 768.2L701.8 767.9L702.4 764.7L702.9 763.8L703.5 758.0L704.1 764.4L704.7 743.7L705.2 753.1L705.8 754.9L706.4 771.2L707.0 770.8L707.6 762.0L708.1 765.8L708.7 767.2L709.3 770.0L709.9 767.6L710.4 760.6L711.0 761.7L711.6 751.1L712.2 765.0L712.7 759.8L713.3 760.4L713.9 760.5L714.5 769.1L715.0 766.2L715.6 763.1L716.2 770.0L716.8 728.6L717.4 759.7L717.9 768.3L718.5 757.8L719.1 767.2L719.7 763.0L720.2 770.3L720.8 760.2L721.4 759.0L722.0 761.9L722.5 767.0L723.1 769.8L723.7 757.0L724.3 762.4L724.8 751.7L725.4 765.6L726.0 764.1L726.6 768.8L727.1 763.7L727.7 771.6L728.3 763.8L728.9 769.4L729.5 764.3L730.0 762.9L730.6 763.6L731.2 763.7L731.8 746.3L732.3 765.0L732.9 767.6L733.5 757.7L734.1 755.2L734.6 744.9L735.2 753.0L735.8 762.7L736.4 763.3L736.9 759.9L737.5 755.1L738.1 757.8L738.7 765.7L739.3 765.4L739.8 748.8L740.4 763.8L741.0 750.1L741.6 767.2L742.1 769.1L742.7 771.8L743.3 762.8L743.9 765.4L744.4 765.1L745.0 752.6L745.6 754.9L746.2 767.8L746.7 769.8L747.3 772.5L747.9 764.7L748.5 764.5L749.0 768.3L749.6 766.0L750.2 760.6L750.8 753.6L751.4 733.3L751.9 759.0L752.5 752.9L753.1 747.8L753.7 753.9L754.2 772.0L754.8 772.4L755.4 755.9L756.0 765.4L756.5 762.7L757.1 767.2L757.7 679.1L758.3 717.1L758.8 763.2L759.4 768.6L760.0 761.3L760.6 750.5L761.1 760.7L761.7 754.3L762.3 757.8L762.9 759.1L763.5 759.0L764.0 768.4L764.6 768.7L765.2 763.8L765.8 762.9L766.3 747.2L766.9 766.3L767.5 761.5L768.1 734.7L768.6 744.1L769.2 745.1L769.8 759.7L770.4 763.4L770.9 759.2L771.5 765.9L772.1 724.1L772.7 771.3L773.3 771.8L773.8 761.8L774.4 755.2L775.0 747.5L775.6 754.8L776.1 756.5L776.7 767.0L777.3 765.5L777.9 758.8L778.4 765.2L779.0 771.0L779.6 764.4L780.2 672.5L780.7 722.2L781.3 764.3L781.9 766.9L782.5 767.8L783.0 767.6L783.6 761.6L784.2 757.5L784.8 751.5L785.4 756.0L785.9 760.0L786.5 757.1L787.1 763.4L787.7 767.1L788.2 766.2L788.8 766.9L789.4 771.7L790.0 772.0L790.5 765.8L791.1 764.7L791.7 766.0L792.3 763.1L792.8 760.6L793.4 750.5L794.0 751.0L794.6 758.3L795.1 758.2L795.7 759.0L796.3 770.2L796.9 754.5L797.5 766.3L798.0 760.0L798.6 764.6L799.2 767.7L799.8 756.7L800.3 765.8L800.9 766.7L801.5 773.4L802.1 766.8L802.6 767.4L803.2 769.1L803.8 761.0L804.4 763.5L804.9 773.2L805.5 711.7L806.1 769.6L806.7 770.0L807.3 770.3L807.8 772.8L808.4 771.0L809.0 768.1L809.6 760.6L810.1 749.7L810.7 763.4L811.3 745.6L811.9 759.0L812.4 747.1L813.0 754.8L813.6 759.3L814.2 771.9L814.7 761.5L815.3 769.7L815.9 763.3L816.5 770.8L817.0 773.4L817.6 773.5L818.2 773.3L818.8 772.6L819.4 767.4L819.9 762.5L820.5 759.3L821.1 750.5L821.7 751.5L822.2 754.3L822.8 759.1L823.4 747.3L824.0 757.9L824.5 770.3L825.1 722.0L825.7 758.9L826.3 763.1L826.8 766.0L827.4 755.6L828.0 759.0L828.6 760.5L829.1 761.7L829.7 747.1L830.3 754.0L830.9 758.0L831.5 758.8L832.0 764.6L832.6 764.6L833.2 744.8L833.8 755.6L834.3 745.3L834.9 761.5L835.5 764.2L836.1 767.2L836.6 764.6L837.2 754.7L837.8 762.4L838.4 764.4L838.9 769.8L839.5 761.4L840.1 755.3L840.7 758.2L841.3 748.3L841.8 749.7L842.4 759.5L843.0 769.6L843.6 767.0L844.1 769.0L844.7 764.1L845.3 756.2L845.9 762.8L846.4 770.5L847.0 760.2L847.6 754.6L848.2 749.6L848.7 766.4L849.3 766.5L849.9 758.8L850.5 750.5L851.0 748.3L851.6 769.4L852.2 753.8L852.8 764.0L853.4 766.8L853.9 759.4L854.5 764.3L855.1 766.2L855.7 763.8L856.2 764.0L856.8 763.4L857.4 765.4L858.0 768.8L858.5 768.1L859.1 767.0L859.7 766.5L860.3 761.4L860.8 742.7L861.4 765.0L862.0 763.0L862.6 760.4L863.1 767.5L863.7 767.4L864.3 767.0L864.9 765.8L865.5 766.0L866.0 766.4L866.6 759.2L867.2 768.6L867.8 762.8L868.3 756.5L868.9 755.4L869.5 767.8L870.1 771.1L870.6 768.9L871.2 769.0L871.8 769.6L872.4 758.8L872.9 766.6L873.5 759.2L874.1 747.3L874.7 739.7L875.3 731.0L875.8 736.7L876.4 750.1L877.0 767.0L877.6 765.8L878.1 766.3L878.7 748.4L879.3 748.4L879.9 757.2L880.4 767.7L881.0 770.0L881.6 732.5L882.2 678.6L882.7 637.3L883.3 640.2L883.9 718.1L884.5 752.6L885.0 718.3L885.6 767.3L886.2 767.9L886.8 764.5L887.4 759.9L887.9 763.8L888.5 770.6L889.1 766.6L889.7 769.6L890.2 763.8L890.8 772.2L891.4 755.8L892.0 766.2L892.5 748.6L893.1 750.3L893.7 741.8L894.3 742.1L894.8 761.7L895.4 765.8L896.0 768.0L896.6 769.8L897.1 759.4L897.7 766.9L898.3 767.1L898.9 772.2L899.5 767.0L900.0 771.2L900.6 748.5L901.2 759.3L901.8 763.1L902.3 760.6L902.9 766.7L903.5 767.2L904.1 765.4L904.6 763.3L905.2 759.0L905.8 762.0L906.4 771.7L906.9 769.4L907.5 769.9L908.1 768.4L908.7 765.2L909.3 765.0L909.8 743.9L910.4 760.2L911.0 767.0L911.6 765.4L912.1 763.9L912.7 751.0L913.3 764.1L913.9 759.8L914.4 759.2L915.0 760.6L915.6 761.5L916.2 761.4L916.7 768.8L917.3 768.8L917.9 765.2L918.5 751.0L919.0 749.1L919.6 756.0L920.2 758.4L920.8 759.1L921.4 757.4L921.9 752.4L922.5 768.1L923.1 767.3L923.7 744.5L924.2 746.8L924.8 759.6L925.4 765.2L926.0 763.9L926.5 769.5L927.1 769.4L927.7 761.9L928.3 755.4L928.8 757.6L929.4 759.6L930.0 763.4L930.6 769.0L931.2 769.8L931.7 768.9L932.3 766.6L932.9 769.3L933.5 770.2L934.0 758.8L934.6 763.0L935.2 755.6L935.8 760.4L936.3 766.4L936.9 766.4L937.5 770.2L938.1 762.0L938.6 756.0L939.2 752.7L939.8 757.0L940.4 763.4L940.9 767.2L941.5 760.2L942.1 762.9L942.7 765.4L943.3 766.2L943.8 764.4L944.4 766.7L945.0 764.8L945.6 758.0L946.1 751.5L946.7 763.4L947.3 760.7L947.9 763.3L948.4 768.3L949.0 771.5L949.6 765.0L950.2 745.1L950.7 749.3L951.3 741.1L951.9 731.7L952.5 732.1L953.0 759.5L953.6 758.9L954.2 763.6L954.8 770.6L955.4 761.8L955.9 765.5L956.5 753.4L957.1 761.6L957.7 762.3L958.2 765.2L958.8 764.3L959.4 756.5L960.0 758.2L960.5 758.7L961.1 762.3L961.7 757.9L962.3 766.6L962.8 763.5L963.4 759.5L964.0 764.8L964.6 752.6L965.2 757.9L965.7 768.2L966.3 766.8L966.9 761.1L967.5 719.3L968.0 770.2L968.6 764.2L969.2 766.9L969.8 764.7L970.3 772.3L970.9 758.2L971.5 742.1L972.1 755.9L972.6 768.8L973.2 764.1L973.8 742.1L974.4 740.5L974.9 727.1L975.5 762.6L976.1 749.7L976.7 761.2L977.3 764.5L977.8 758.3L978.4 759.8L979.0 767.6L979.6 772.8L980.1 769.8L980.7 769.7L981.3 744.8L981.9 763.4L982.4 749.4L983.0 762.5L983.6 748.2L984.2 747.9L984.7 738.9L985.3 748.3L985.9 746.6L986.5 759.1L987.0 767.1L987.6 750.2L988.2 735.2L988.8 744.3L989.4 730.2L989.9 759.7L990.5 761.5L991.1 765.6L991.7 759.6L992.2 767.5L992.8 763.4L993.4 757.2L994.0 742.4L994.5 752.7L995.1 732.7L995.7 760.6L996.3 757.0L996.8 738.7L997.4 764.6L998.0 764.3L998.6 761.9L999.2 748.6L999.7 747.1L1000.3 764.7L1000.9 766.3L1001.5 765.8L1002.0 756.2L1002.6 741.2L1003.2 754.5L1003.8 765.7L1004.3 769.8L1004.9 762.7L1005.5 750.4L1006.1 761.7L1006.6 768.1L1007.2 769.7L1007.8 765.6L1008.4 771.5L1008.9 770.1L1009.5 767.0L1010.1 771.9L1010.7 766.4L1011.3 768.8L1011.8 760.4L1012.4 771.1L1013.0 761.7L1013.6 769.6L1014.1 766.0L1014.7 759.6L1015.3 764.1L1015.9 762.0L1016.4 762.6L1017.0 764.0L1017.6 752.4L1018.2 766.2L1018.7 759.2L1019.3 742.2L1019.9 745.5L1020.5 763.6L1021.0 760.3L1021.6 755.7L1022.2 751.6L1022.8 769.2L1023.4 773.1L1023.9 760.8L1024.5 756.2L1025.1 757.6L1025.7 762.1L1026.2 755.4L1026.8 742.6L1027.4 745.8L1028.0 762.4L1028.5 760.5L1029.1 738.8L1029.7 754.4L1030.3 765.1L1030.8 754.7L1031.4 762.9L1032.0 761.8L1032.6 742.6L1033.2 739.8L1033.7 762.5L1034.3 754.0L1034.9 745.1L1035.5 737.4L1036.0 751.8L1036.6 756.4L1037.2 737.5L1037.8 765.7L1038.3 768.3L1038.9 769.0L1039.5 760.4L1040.1 753.5L1040.6 757.2L1041.2 748.0L1041.8 761.5L1042.4 766.0L1042.9 765.2L1043.5 771.3L1044.1 771.8L1044.7 766.4L1045.3 765.2L1045.8 767.3L1046.4 708.2L1047.0 754.4L1047.6 717.1L1048.1 760.1L1048.7 749.4L1049.3 730.0L1049.9 758.2L1050.4 761.5L1051.0 764.9L1051.6 760.6L1052.2 767.7L1052.7 765.7L1053.3 748.3L1053.9 759.2L1054.5 766.9L1055.0 719.3L1055.6 755.1L1056.2 763.5L1056.8 749.6L1057.4 756.3L1057.9 744.7L1058.5 746.2L1059.1 756.3L1059.7 762.3L1060.2 755.3L1060.8 765.1L1061.4 769.7L1062.0 752.5L1062.5 766.4L1063.1 766.6L1063.7 766.5L1064.3 764.6L1064.8 769.4L1065.4 769.9L1066.0 762.7L1066.6 760.3L1067.2 770.3L1067.7 761.8L1068.3 756.7L1068.9 761.3L1069.5 768.5L1070.0 753.0L1070.6 729.2L1071.2 755.2L1071.8 769.6L1072.3 746.1L1072.9 754.1L1073.5 753.5L1074.1 754.0L1074.6 764.6L1075.2 765.2L1075.8 766.1L1076.4 762.3L1076.9 764.7L1077.5 750.1L1078.1 759.0L1078.7 746.3L1079.3 765.5L1079.8 763.2L1080.4 761.1L1081.0 766.4L1081.6 761.3L1082.1 762.6L1082.7 744.7L1083.3 739.6L1083.9 751.7L1084.4 762.0L1085.0 761.7L1085.6 747.7L1086.2 753.0L1086.7 760.1L1087.3 764.1L1087.9 717.1L1088.5 656.6L1089.0 696.6L1089.6 763.1L1090.2 759.8L1090.8 765.6L1091.4 765.6L1091.9 761.8L1092.5 746.3L1093.1 757.7L1093.7 761.8L1094.2 762.3L1094.8 764.7L1095.4 756.3L1096.0 766.8L1096.5 765.2L1097.1 763.7L1097.7 756.1L1098.3 754.9L1098.8 764.1L1099.4 765.4L1100.0 769.4L1100.6 766.7L1101.2 765.4L1101.7 770.3L1102.3 765.7L1102.9 739.6L1103.5 750.3L1104.0 762.0L1104.6 765.7L1105.2 753.2L1105.8 759.4L1106.3 765.3L1106.9 770.5L1107.5 761.4L1108.1 772.0L1108.6 766.4L1109.2 768.2L1109.8 757.9L1110.4 761.6L1110.9 765.4L1111.5 754.0L1112.1 767.5L1112.7 759.6L1113.3 754.7L1113.8 771.2L1114.4 771.1L1115.0 770.9L1115.6 769.1L1116.1 765.7L1116.7 765.5L1117.3 759.9L1117.9 764.8L1118.4 770.5L1119.0 773.8L1119.6 773.0L1120.2 771.3L1120.7 770.7L1121.3 764.6L1121.9 764.5L1122.5 771.0L1123.1 770.6L1123.6 769.1L1124.2 743.8L1124.8 748.4L1125.4 760.9L1125.9 758.9L1126.5 751.1L1127.1 766.1L1127.7 748.0L1128.2 764.4L1128.8 757.5L1129.4 740.9L1130.0 753.9L1130.5 752.2L1131.1 765.6L1131.7 724.1L1132.3 747.7L1132.8 732.7L1133.4 737.9L1134.0 759.6L1134.6 766.3L1135.2 768.5L1135.7 768.9L1136.3 757.0L1136.9 769.1L1137.5 771.4L1138.0 771.0L1138.6 772.7L1139.2 772.1L1139.8 763.5L1140.3 766.1L1140.9 764.0L1141.5 765.5L1142.1 761.5L1142.6 752.8L1143.2 754.7L1143.8 758.8L1144.4 766.0L1144.9 770.2L1145.5 765.8L1146.1 761.4L1146.7 755.1L1147.3 758.7L1147.8 766.2L1148.4 768.5L1149.0 762.8L1149.6 766.0L1150.1 769.2L1150.7 771.9L1151.3 771.3L1151.9 764.4L1152.4 760.4L1153.0 746.2L1153.6 752.0L1154.2 756.6L1154.7 748.5L1155.3 743.5L1155.9 758.5L1156.5 773.0L1157.1 769.6L1157.6 770.0L1158.2 759.1L1158.8 706.3L1159.4 766.5L1159.9 709.4L1160.5 765.4L1161.1 756.4L1161.7 769.2L1162.2 765.2L1162.8 768.1L1163.4 765.0L1164.0 743.2L1164.5 766.6L1165.1 762.4L1165.7 745.1L1166.3 758.9L1166.8 768.6L1167.4 773.9L1168.0 773.0L1168.6 768.0L1169.2 770.3L1169.7 759.1L1170.3 772.5L1170.9 773.2L1171.5 767.5L1172.0 766.1L1172.6 761.5L1173.2 761.0L1173.8 767.5L1174.3 768.3L1174.9 757.0L1175.5 760.3L1176.1 752.7L1176.6 757.7L1177.2 749.5L1177.8 754.7L1178.4 763.6L1178.9 769.7L1179.5 761.2L1180.1 766.0L1180.7 771.9L1181.3 761.4L1181.8 761.3L1182.4 762.1L1183.0 769.4L1183.6 763.3L1184.1 764.7L1184.7 770.3L1185.3 770.0L1185.9 771.6L1186.4 759.3L1187.0 765.3L1187.6 762.5L1188.2 752.9L1188.7 736.8L1189.3 760.3L1189.9 768.3L1190.5 760.5L1191.1 756.1L1191.6 732.5L1192.2 756.5L1192.8 742.0L1193.4 742.3L1193.9 754.7L1194.5 773.3L1195.1 768.8L1195.7 767.6L1196.2 773.1L1196.8 765.5L1197.4 768.2L1198.0 770.3L1198.5 768.3L1199.1 758.4L1199.7 739.2L1200.3 741.7L1200.8 750.0L1201.4 756.4L1202.0 769.4" stroke="#c10c90"/>
</g>
<g font-family="'DejaVu Sans','Liberation Sans',sans-serif" fill="#262626" style="filter:grayscale(1)">
<text x="299.0" y="22.3" font-size="15.6" text-anchor="middle">intercept</text>
<text x="913.5" y="22.3" font-size="15.6" text-anchor="middle">intercept</text>
<text x="25.6" y="199.3" font-size="13.9" text-anchor="middle">2.80</text>
<text x="138.4" y="199.3" font-size="13.9" text-anchor="middle">2.85</text>
<text x="251.2" y="199.3" font-size="13.9" text-anchor="middle">2.90</text>
<text x="364.0" y="199.3" font-size="13.9" text-anchor="middle">2.95</text>
<text x="476.8" y="199.3" font-size="13.9" text-anchor="middle">3.00</text>
<text x="626.3" y="199.3" font-size="13.9" text-anchor="middle">0</text>
<text x="741.6" y="199.3" font-size="13.9" text-anchor="middle">200</text>
<text x="856.8" y="199.3" font-size="13.9" text-anchor="middle">400</text>
<text x="972.1" y="199.3" font-size="13.9" text-anchor="middle">600</text>
<text x="1087.3" y="199.3" font-size="13.9" text-anchor="middle">800</text>
<text x="620.5" y="65.0" font-size="13.9" text-anchor="end">3.0</text>
<text x="620.5" y="124.6" font-size="13.9" text-anchor="end">2.9</text>
<text x="620.5" y="184.2" font-size="13.9" text-anchor="end">2.8</text>
<text x="299.0" y="222.3" font-size="15.6" text-anchor="middle">home</text>
<text x="913.5" y="222.3" font-size="15.6" text-anchor="middle">home</text>
<text x="96.4" y="399.3" font-size="13.9" text-anchor="middle">0.05</text>
<text x="185.7" y="399.3" font-size="13.9" text-anchor="middle">0.10</text>
<text x="275.0" y="399.3" font-size="13.9" text-anchor="middle">0.15</text>
<text x="364.3" y="399.3" font-size="13.9" text-anchor="middle">0.20</text>
<text x="453.6" y="399.3" font-size="13.9" text-anchor="middle">0.25</text>
<text x="542.9" y="399.3" font-size="13.9" text-anchor="middle">0.30</text>
<text x="626.3" y="399.3" font-size="13.9" text-anchor="middle">0</text>
<text x="741.6" y="399.3" font-size="13.9" text-anchor="middle">200</text>
<text x="856.8" y="399.3" font-size="13.9" text-anchor="middle">400</text>
<text x="972.1" y="399.3" font-size="13.9" text-anchor="middle">600</text>
<text x="1087.3" y="399.3" font-size="13.9" text-anchor="middle">800</text>
<text x="620.5" y="248.1" font-size="13.9" text-anchor="end">0.3</text>
<text x="620.5" y="295.2" font-size="13.9" text-anchor="end">0.2</text>
<text x="620.5" y="342.2" font-size="13.9" text-anchor="end">0.1</text>
<text x="299.0" y="422.3" font-size="15.6" text-anchor="middle">sd_att</text>
<text x="913.5" y="422.3" font-size="15.6" text-anchor="middle">sd_att</text>
<text x="73.5" y="599.3" font-size="13.9" text-anchor="middle">0.2</text>
<text x="144.7" y="599.3" font-size="13.9" text-anchor="middle">0.4</text>
<text x="215.9" y="599.3" font-size="13.9" text-anchor="middle">0.6</text>
<text x="287.1" y="599.3" font-size="13.9" text-anchor="middle">0.8</text>
<text x="358.3" y="599.3" font-size="13.9" text-anchor="middle">1.0</text>
<text x="429.5" y="599.3" font-size="13.9" text-anchor="middle">1.2</text>
<text x="500.7" y="599.3" font-size="13.9" text-anchor="middle">1.4</text>
<text x="571.9" y="599.3" font-size="13.9" text-anchor="middle">1.6</text>
<text x="626.3" y="599.3" font-size="13.9" text-anchor="middle">0</text>
<text x="741.6" y="599.3" font-size="13.9" text-anchor="middle">200</text>
<text x="856.8" y="599.3" font-size="13.9" text-anchor="middle">400</text>
<text x="972.1" y="599.3" font-size="13.9" text-anchor="middle">600</text>
<text x="1087.3" y="599.3" font-size="13.9" text-anchor="middle">800</text>
<text x="620.5" y="449.1" font-size="13.9" text-anchor="end">1.5</text>
<text x="620.5" y="496.6" font-size="13.9" text-anchor="end">1.0</text>
<text x="620.5" y="544.1" font-size="13.9" text-anchor="end">0.5</text>
<text x="299.0" y="622.3" font-size="15.6" text-anchor="middle">sd_def</text>
<text x="913.5" y="622.3" font-size="15.6" text-anchor="middle">sd_def</text>
<text x="105.0" y="799.3" font-size="13.9" text-anchor="middle">0.5</text>
<text x="201.8" y="799.3" font-size="13.9" text-anchor="middle">1.0</text>
<text x="298.6" y="799.3" font-size="13.9" text-anchor="middle">1.5</text>
<text x="395.4" y="799.3" font-size="13.9" text-anchor="middle">2.0</text>
<text x="492.2" y="799.3" font-size="13.9" text-anchor="middle">2.5</text>
<text x="626.3" y="799.3" font-size="13.9" text-anchor="middle">0</text>
<text x="741.6" y="799.3" font-size="13.9" text-anchor="middle">200</text>
<text x="856.8" y="799.3" font-size="13.9" text-anchor="middle">400</text>
<text x="972.1" y="799.3" font-size="13.9" text-anchor="middle">600</text>
<text x="1087.3" y="799.3" font-size="13.9" text-anchor="middle">800</text>
<text x="620.5" y="687.1" font-size="13.9" text-anchor="end">2</text>
<text x="620.5" y="738.4" font-size="13.9" text-anchor="end">1</text>
</g>
</svg>
</body></html>
